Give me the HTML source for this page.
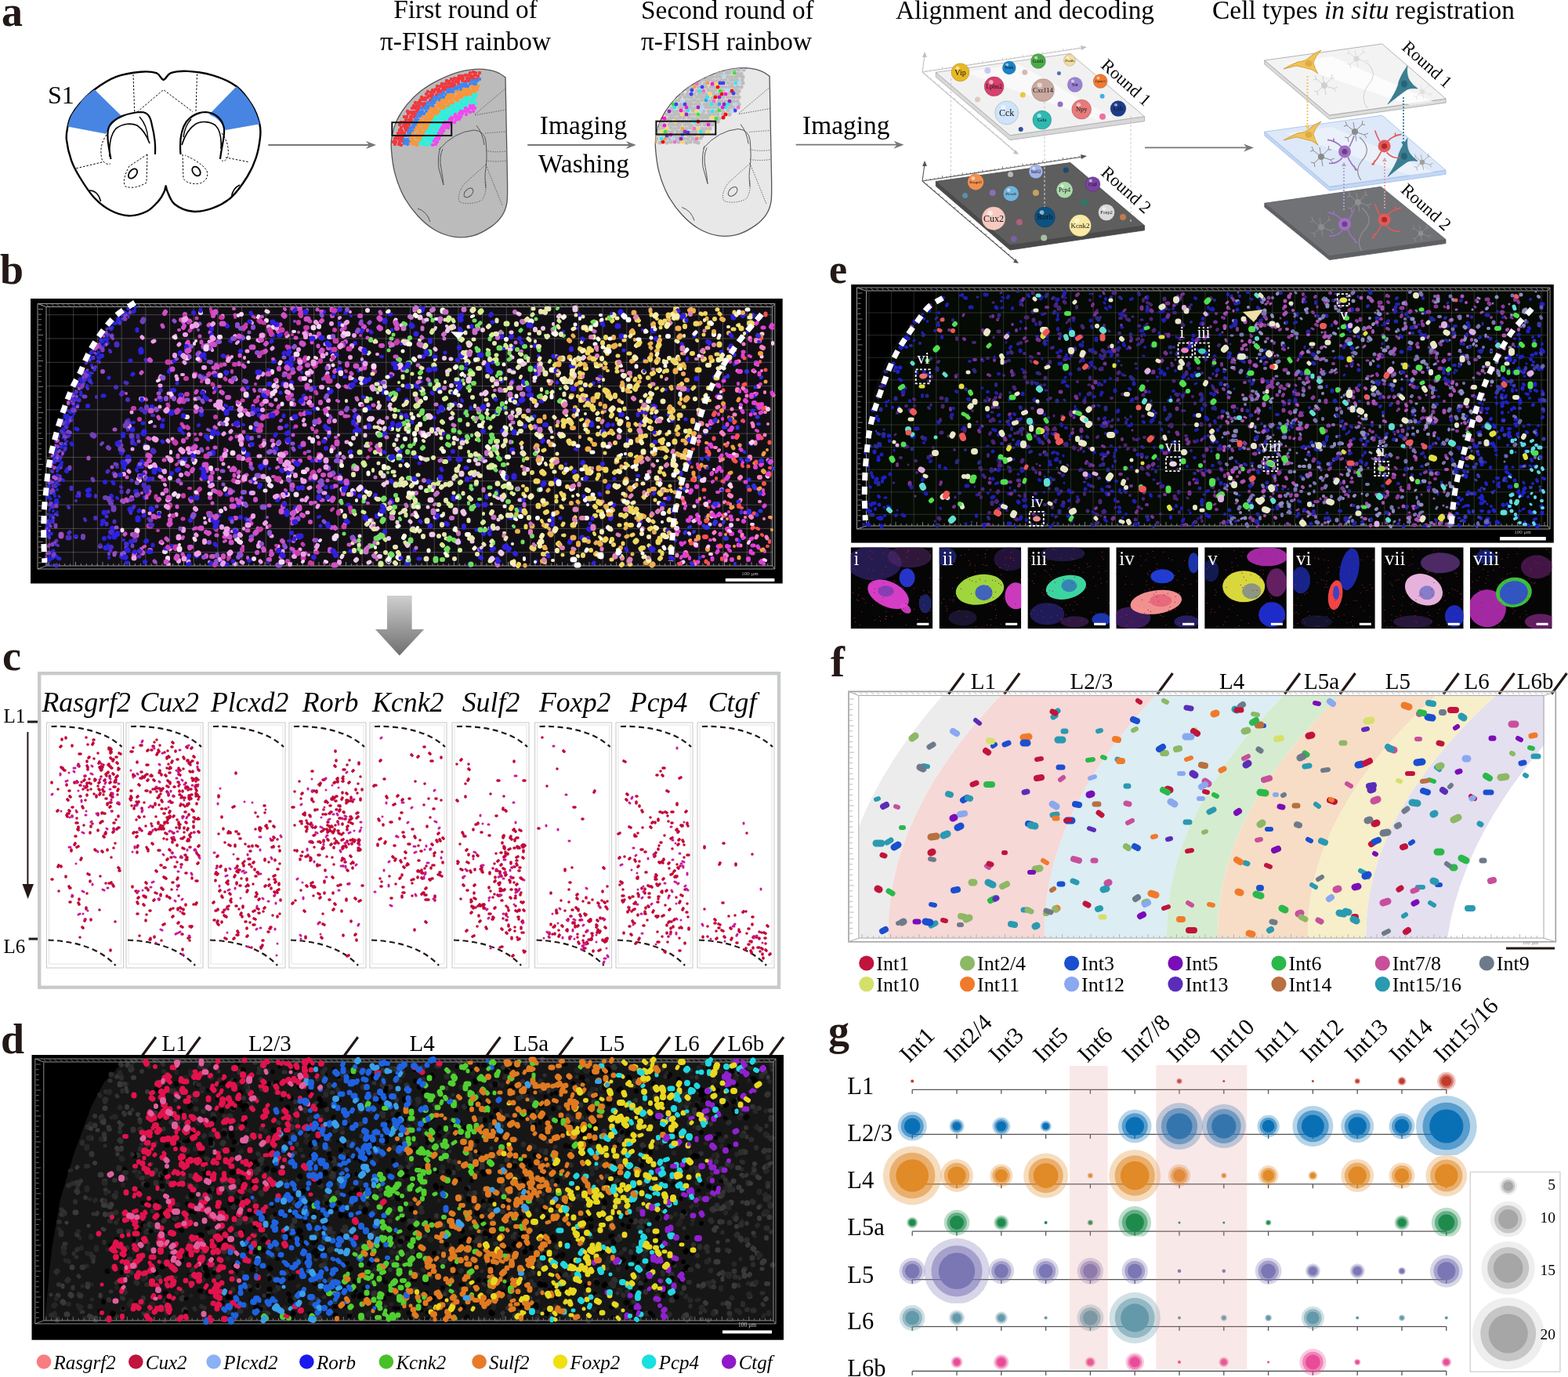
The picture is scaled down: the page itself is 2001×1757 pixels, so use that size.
<!DOCTYPE html><html><head><meta charset="utf-8"><title>Figure</title><style>html,body{margin:0;padding:0;background:#fff;width:2001px;height:1757px;overflow:hidden}svg{display:block}</style></head><body><svg width="2001" height="1757" viewBox="0 0 2001 1757" font-family="'Liberation Serif','Times New Roman',serif"><text x="2" y="33" font-size="54" fill="#231815" font-weight="bold">a</text><text x="594" y="23.3" font-size="33.4" text-anchor="middle">First round of</text><text x="594" y="63.5" font-size="33.4" text-anchor="middle">π-FISH rainbow</text><text x="818" y="23.5" font-size="33.4">Second round of</text><text x="818" y="63.7" font-size="33.4">π-FISH rainbow</text><text x="1308" y="24" font-size="33.4" text-anchor="middle">Alignment and decoding</text><text x="1740" y="23.8" font-size="33.4" text-anchor="middle">Cell types <tspan font-style="italic">in situ</tspan> registration</text><path d="M208.6 101.8C211.7 101.8 212.8 95 218 93.2C223.2 91.4 230.7 90.4 239.8 90.9C248.9 91.4 262.1 93.1 272.4 96.3C282.7 99.5 293.5 103.8 301.8 110.3C310.1 116.8 317.1 127 322 135C326.9 143 329.6 151.6 331.3 158.3C333 165 332.8 168.1 332 175.3C331.2 182.5 329.3 193.4 326.6 201.7C323.9 210 321 216.7 315.8 225C310.6 233.3 302.8 244.6 295.6 251.3C288.4 258 280.7 262.1 272.4 265.2C264.1 268.3 254.3 270.6 246 269.8C237.7 269 228.2 264.8 222.8 260.5C217.4 256.2 215.4 247.9 213.5 244C211.6 240.1 212.2 237.3 211.6 237.3C211 237.3 211.3 240.9 209.8 244C208.3 247.1 206.5 251.6 202.7 255.9C198.9 260.2 193.6 266.6 187.2 269.8C180.8 273 171.8 275.6 164 275.3C156.2 275.1 148 272.2 140.7 268.3C133.4 264.4 126.5 259 120 252C113.5 245 106.8 234.4 102 226.5C97.2 218.6 93.9 212.8 91.1 204.8C88.2 196.8 85.7 185.6 84.9 178.4C84.1 171.2 85.5 166.6 86.5 161.4C87.5 156.2 88.4 152.4 91 147.5C93.6 142.6 97.1 137.6 102 132C106.9 126.5 112.9 119.9 120.6 114.2C128.3 108.5 138.6 101.7 148.4 97.9C158.2 94.2 170.9 92.5 179.4 91.7C187.9 90.9 194.7 91.5 199.6 93.2C204.5 94.9 205.5 101.8 208.6 101.8Z" fill="#fff" stroke="#000" stroke-width="2.4"/><path d="M120.6 114.2C111 121 105 127 102 132C97 138 93 144 91 147.5C89 152 87.5 157 86.5 161.4L135.3 170.7Q141 156 155.4 148.2Z" fill="#4885e2"/><path d="M301.8 110.3C312 120 318 128 322 135C326 142 329 150 331.5 158.3L287.9 166Q282 152 267 145.9Z" fill="#4885e2"/><path d="M170 95L171.7 143M251.5 94.5L250 142M175 143L208.6 114.5L246 142.6M97.3 214.8L133 206.3M316.5 206.5L288 201" fill="none" stroke="#000" stroke-width="1" stroke-dasharray="2.5 2"/><path d="M136 172Q126 186 130 203Q134 211 141 209M283 170Q293 183 291 199Q288 207 283 205" fill="none" stroke="#000" stroke-width="1" stroke-dasharray="2.5 2"/><path d="M188 197L165 212Q155 230 160 238Q172 242 187 233L188 197M233 197L234 228Q240 236 255 234Q267 230 264 218Q258 208 236 198" fill="none" stroke="#000" stroke-width="1" stroke-dasharray="2.5 2"/><path d="M141.5 203C138 185 135 168 140 160C147 150 162 144 180 143C188 143 192 148 194 160C197 172 199 182 198 197" fill="none" stroke="#000" stroke-width="2.2"/><path d="M140 200C139 185 141 172 148 164C157 157 168 157 175 160C182 165 187 172 191 183" fill="none" stroke="#000" stroke-width="1.6"/><path d="M178 149Q188 160 189 178" fill="none" stroke="#000" stroke-width="1.4"/><path d="M230.5 197C229 180 231 165 238 155C245 147 254 143 263 143C275 144 284 152 286 164C287 175 283 185 281 203" fill="none" stroke="#000" stroke-width="2.2"/><path d="M232 185C236 172 242 163 250 158C258 154 268 155 275 160C281 166 283 175 282 190" fill="none" stroke="#000" stroke-width="1.6"/><path d="M244 152Q236 160 234 175" fill="none" stroke="#000" stroke-width="1.4"/><ellipse cx="169.5" cy="221.5" rx="4.5" ry="7" transform="rotate(40 169.5 221.5)" fill="none" stroke="#000" stroke-width="1.8"/><ellipse cx="250.5" cy="218.5" rx="4.5" ry="6.5" transform="rotate(-35 250.5 218.5)" fill="none" stroke="#000" stroke-width="1.8"/><path d="M114 243Q125 243 128.5 257" fill="none" stroke="#000" stroke-width="1.6"/><path d="M306 236Q297 240 295.5 251" fill="none" stroke="#000" stroke-width="1.6"/><text x="61" y="131.5" font-size="32">S1</text><line x1="342.3" y1="185" x2="472" y2="185" stroke="#777" stroke-width="1.8"/><path d="M480 185L467 180L471 185L467 190Z" fill="#777"/><path d="M645 98.8C643.1 97.6 639 93.6 633.5 91.8C628 90 620.2 88.2 612.3 88.2C604.4 88.2 594.7 89.5 585.9 91.8C577.1 94.1 567.6 98.2 559.4 102.3C551.2 106.4 543.3 111.2 536.5 116.5C529.7 121.8 523.8 127.9 518.8 134.1C513.8 140.3 509.6 147 506.5 153.5C503.4 160 501.5 166.8 500.3 173C499.1 179.2 498.8 182.7 499.4 190.6C500 198.5 501.2 210.6 503.8 220.6C506.4 230.6 510.4 241.5 515.3 250.6C520.2 259.7 526.5 268.2 533 275.3C539.5 282.4 546.5 288.5 554.1 293C561.7 297.5 570.6 300.8 578.8 302.1C587 303.4 595.5 303 603.5 300.9C611.5 298.8 620.3 293.7 626.5 289.4C632.7 285.1 637.2 280.3 640.6 275.3C644 270.3 645.6 266.1 646.8 259.4C648 252.7 647.5 239.1 647.6 235Z" fill="#bbbbbb" stroke="#555" stroke-width="1.3"/><g transform="translate(0 0)" fill="none" stroke="#555" stroke-width="1"><path d="M560 191Q580 168 605 166Q618 167 620 180Q622 200 620 215Q618 225 620 240"/><path d="M565 190Q560 200 563 215Q565 225 566 236L560 215Q558 200 562 188"/><path d="M608 160Q616 170 618 185"/><ellipse cx="598" cy="246" rx="4.5" ry="7" transform="rotate(45 598 246)"/><path d="M533 266Q545 270 549 283"/></g><g transform="translate(0 0)" fill="none" stroke="#555" stroke-width="0.9" stroke-dasharray="1.5 1.5"><path d="M606 146L645 113M606 147L646 140M619 170Q630 169 646 168M620 192Q630 195 646 193M620 205Q632 207 646 205"/><path d="M620 210L592 235Q582 250 587 258Q600 262 614 256Q621 250 620 232M620 210L641 262"/></g><clipPath id="h2"><path d="M645 98.8C643.1 97.6 639 93.6 633.5 91.8C628 90 620.2 88.2 612.3 88.2C604.4 88.2 594.7 89.5 585.9 91.8C577.1 94.1 567.6 98.2 559.4 102.3C551.2 106.4 543.3 111.2 536.5 116.5C529.7 121.8 523.8 127.9 518.8 134.1C513.8 140.3 509.6 147 506.5 153.5C503.4 160 501.5 166.8 500.3 173C499.1 179.2 498.8 182.7 499.4 190.6C500 198.5 501.2 210.6 503.8 220.6C506.4 230.6 510.4 241.5 515.3 250.6C520.2 259.7 526.5 268.2 533 275.3C539.5 282.4 546.5 288.5 554.1 293C561.7 297.5 570.6 300.8 578.8 302.1C587 303.4 595.5 303 603.5 300.9C611.5 298.8 620.3 293.7 626.5 289.4C632.7 285.1 637.2 280.3 640.6 275.3C644 270.3 645.6 266.1 646.8 259.4C648 252.7 647.5 239.1 647.6 235Z"/></clipPath><g clip-path="url(#h2)"><path d="M600 93h0M604 92h0M607 93h0M612 93h0M586 97h0M590 97h0M594 96h0M598 96h0M602 97h0M606 96h0M610 97h0M576 101h0M580 100h0M584 100h0M587 100h0M591 100h0M596 100h0M600 100h0M604 100h0M608 101h0M570 103h0M573 104h0M578 104h0M582 104h0M585 104h0M590 103h0M594 104h0M598 103h0M564 107h0M568 107h0M572 107h0M576 107h0M580 108h0M585 107h0M558 110h0M562 110h0M566 111h0M570 111h0M574 111h0M578 110h0M552 115h0M556 114h0M560 114h0M565 114h0M568 114h0M546 117h0M550 118h0M554 117h0M559 117h0M562 117h0M544 120h0M548 122h0M552 121h0M557 121h0M538 124h0M542 125h0M546 124h0M551 124h0M536 128h0M540 127h0M543 127h0M549 128h0M530 131h0M534 131h0M538 132h0M542 132h0M528 135h0M532 135h0M535 135h0M540 135h0M526 138h0M530 138h0M534 139h0M520 142h0M524 143h0M528 143h0M532 142h0M521 145h0M526 145h0M530 146h0M516 149h0M519 149h0M524 149h0M528 149h0M518 153h0M522 153h0M525 153h0M512 156h0M516 156h0M520 157h0M524 156h0M510 159h0M515 160h0M518 160h0M522 159h0M512 163h0M517 163h0M520 163h0M510 166h0M513 167h0M518 166h0M508 170h0M512 170h0M516 170h0M506 174h0M510 174h0M514 174h0M504 177h0M508 177h0M512 177h0M502 181h0M505 181h0M510 181h0M514 180h0M504 184h0M509 184h0M512 185h0" stroke="#f0383e" stroke-width="4.4" stroke-linecap="round" fill="none"/><path d="M612 101h0M602 103h0M606 103h0M609 103h0M588 108h0M592 107h0M595 107h0M600 107h0M604 107h0M607 107h0M582 111h0M586 111h0M590 110h0M594 110h0M597 110h0M572 114h0M576 114h0M580 113h0M583 114h0M588 114h0M566 118h0M571 117h0M574 117h0M578 117h0M560 121h0M564 121h0M569 121h0M554 124h0M558 125h0M562 125h0M566 124h0M552 128h0M556 128h0M561 128h0M546 131h0M550 131h0M554 131h0M544 135h0M548 135h0M552 135h0M538 138h0M542 138h0M546 138h0M536 143h0M539 142h0M544 142h0M534 145h0M538 145h0M541 145h0M532 149h0M536 148h0M530 153h0M534 153h0M528 156h0M532 156h0M527 160h0M530 159h0M524 163h0M528 163h0M522 166h0M526 167h0M521 169h0M524 170h0M518 173h0M522 173h0M516 178h0M520 178h0M518 181h0M522 181h0M516 183h0M520 184h0" stroke="#3f86f0" stroke-width="4.4" stroke-linecap="round" fill="none"/><path d="M602 110h0M606 111h0M610 110h0M592 114h0M596 114h0M599 114h0M604 114h0M609 114h0M582 117h0M586 118h0M590 117h0M594 118h0M598 117h0M602 117h0M606 117h0M572 121h0M576 121h0M579 121h0M584 122h0M588 121h0M592 121h0M596 121h0M600 120h0M570 124h0M574 125h0M578 124h0M582 125h0M586 124h0M589 124h0M564 128h0M568 128h0M571 128h0M576 128h0M581 127h0M584 128h0M558 131h0M562 131h0M566 132h0M570 131h0M574 132h0M578 131h0M556 136h0M560 135h0M564 135h0M568 136h0M572 135h0M550 138h0M554 139h0M557 139h0M562 138h0M566 138h0M548 142h0M552 142h0M556 143h0M560 142h0M546 145h0M550 146h0M554 145h0M558 145h0M540 149h0M544 149h0M548 149h0M552 149h0M537 153h0M542 153h0M546 152h0M550 152h0M535 156h0M540 156h0M544 156h0M548 156h0M534 160h0M538 159h0M542 159h0M546 160h0M532 163h0M536 164h0M540 163h0M544 163h0M530 166h0M535 167h0M537 167h0M542 167h0M527 170h0M532 171h0M536 171h0M540 170h0M526 173h0M530 173h0M534 174h0M538 173h0M524 176h0M527 177h0M532 176h0M536 177h0M526 180h0M530 181h0M534 181h0M524 183h0M528 184h0M532 185h0" stroke="#f7963a" stroke-width="4.4" stroke-linecap="round" fill="none"/><path d="M604 121h0M608 121h0M594 125h0M598 125h0M603 124h0M606 125h0M589 129h0M592 128h0M596 128h0M601 128h0M604 128h0M582 132h0M587 131h0M590 132h0M594 132h0M597 131h0M602 131h0M607 132h0M576 135h0M579 135h0M584 135h0M588 135h0M592 135h0M595 135h0M570 139h0M574 138h0M578 139h0M582 139h0M586 138h0M589 139h0M564 142h0M567 142h0M572 143h0M576 142h0M580 142h0M584 142h0M562 146h0M566 145h0M570 146h0M574 146h0M578 145h0M556 149h0M560 149h0M565 149h0M568 148h0M572 149h0M554 153h0M558 153h0M562 152h0M566 152h0M570 152h0M552 156h0M556 155h0M560 156h0M564 156h0M550 160h0M554 159h0M558 160h0M562 160h0M548 164h0M552 162h0M556 163h0M559 163h0M546 167h0M550 166h0M553 167h0M558 166h0M544 169h0M548 170h0M552 170h0M556 170h0M542 174h0M546 173h0M550 173h0M554 173h0M540 177h0M544 176h0M548 177h0M552 177h0M539 180h0M542 181h0M546 180h0M550 181h0M536 183h0M540 184h0M544 185h0M548 184h0" stroke="#2df0dc" stroke-width="4.4" stroke-linecap="round" fill="none"/><path d="M600 135h0M604 135h0M594 138h0M598 139h0M602 138h0M606 138h0M588 142h0M592 142h0M596 142h0M600 143h0M604 142h0M581 146h0M586 145h0M590 145h0M595 146h0M576 150h0M580 149h0M584 149h0M588 149h0M574 152h0M577 152h0M582 153h0M586 152h0M568 156h0M572 156h0M576 156h0M580 156h0M566 159h0M570 160h0M574 159h0M564 163h0M568 163h0M572 163h0M562 166h0M566 167h0M560 170h0M564 170h0M558 174h0M561 174h0M556 177h0M560 177h0M554 180h0M558 181h0M552 185h0M556 184h0" stroke="#f048f0" stroke-width="4.4" stroke-linecap="round" fill="none"/></g><rect x="500.3" y="156.2" width="75.9" height="16.8" fill="none" stroke="#111" stroke-width="2"/><text x="744.5" y="171.2" font-size="33.4" text-anchor="middle">Imaging</text><line x1="673.2" y1="185" x2="803.8" y2="185" stroke="#777" stroke-width="1.8"/><path d="M811.8 185L798.8 180L802.8 185L798.8 190Z" fill="#777"/><text x="745" y="219.7" font-size="33.4" text-anchor="middle">Washing</text><path d="M982.1 97.3C980.2 96.1 976.1 92.1 970.6 90.3C965.1 88.5 957.3 86.7 949.4 86.7C941.5 86.7 931.8 88 923 90.3C914.2 92.6 904.7 96.7 896.5 100.8C888.3 104.9 880.4 109.7 873.6 115C866.8 120.3 860.9 126.4 855.9 132.6C850.9 138.8 846.7 145.5 843.6 152C840.5 158.5 838.6 165.3 837.4 171.5C836.2 177.7 835.9 181.2 836.5 189.1C837.1 197 838.3 209.1 840.9 219.1C843.6 229.1 847.5 240 852.4 249.1C857.3 258.2 863.6 266.7 870.1 273.8C876.6 280.9 883.6 287 891.2 291.5C898.8 296 907.7 299.3 915.9 300.6C924.1 301.9 932.6 301.5 940.6 299.4C948.6 297.3 957.4 292.2 963.6 287.9C969.8 283.6 974.3 278.8 977.7 273.8C981.1 268.8 982.7 264.6 983.9 257.9C985.1 251.2 984.6 237.6 984.7 233.5Z" fill="#e8e8e8" stroke="#555" stroke-width="1.3"/><g transform="translate(337.1 -1.5)" fill="none" stroke="#555" stroke-width="1"><path d="M560 191Q580 168 605 166Q618 167 620 180Q622 200 620 215Q618 225 620 240"/><path d="M565 190Q560 200 563 215Q565 225 566 236L560 215Q558 200 562 188"/><path d="M608 160Q616 170 618 185"/><ellipse cx="598" cy="246" rx="4.5" ry="7" transform="rotate(45 598 246)"/><path d="M533 266Q545 270 549 283"/></g><g transform="translate(337.1 -1.5)" fill="none" stroke="#555" stroke-width="0.9" stroke-dasharray="1.5 1.5"><path d="M606 146L645 113M606 147L646 140M619 170Q630 169 646 168M620 192Q630 195 646 193M620 205Q632 207 646 205"/><path d="M620 210L592 235Q582 250 587 258Q600 262 614 256Q621 250 620 232M620 210L641 262"/></g><clipPath id="h3"><path d="M982.1 97.3C980.2 96.1 976.1 92.1 970.6 90.3C965.1 88.5 957.3 86.7 949.4 86.7C941.5 86.7 931.8 88 923 90.3C914.2 92.6 904.7 96.7 896.5 100.8C888.3 104.9 880.4 109.7 873.6 115C866.8 120.3 860.9 126.4 855.9 132.6C850.9 138.8 846.7 145.5 843.6 152C840.5 158.5 838.6 165.3 837.4 171.5C836.2 177.7 835.9 181.2 836.5 189.1C837.1 197 838.3 209.1 840.9 219.1C843.6 229.1 847.5 240 852.4 249.1C857.3 258.2 863.6 266.7 870.1 273.8C876.6 280.9 883.6 287 891.2 291.5C898.8 296 907.7 299.3 915.9 300.6C924.1 301.9 932.6 301.5 940.6 299.4C948.6 297.3 957.4 292.2 963.6 287.9C969.8 283.6 974.3 278.8 977.7 273.8C981.1 268.8 982.7 264.6 983.9 257.9C985.1 251.2 984.6 237.6 984.7 233.5Z"/></clipPath><g clip-path="url(#h3)"><path d="M928 89h0M933 89h0M938 89h0M943 89h0M949 89h0M916 94h0M921 93h0M927 93h0M931 93h0M941 94h0M946 94h0M904 98h0M909 98h0M914 98h0M919 98h0M929 98h0M934 98h0M939 98h0M944 97h0M948 98h0M896 102h0M901 102h0M906 102h0M911 103h0M916 103h0M921 102h0M926 102h0M932 102h0M936 102h0M941 102h0M947 102h0M893 106h0M899 107h0M929 106h0M934 107h0M948 106h0M881 111h0M891 111h0M901 111h0M907 111h0M911 111h0M921 111h0M926 111h0M931 111h0M936 111h0M941 111h0M946 111h0M878 115h0M889 116h0M904 115h0M909 116h0M913 115h0M923 116h0M939 115h0M943 116h0M871 120h0M877 120h0M886 120h0M892 120h0M896 120h0M901 120h0M911 120h0M916 120h0M931 119h0M941 119h0M868 124h0M874 124h0M879 124h0M883 124h0M889 124h0M894 124h0M899 124h0M909 125h0M923 124h0M929 124h0M934 124h0M938 124h0M943 124h0M861 128h0M866 128h0M876 129h0M881 129h0M886 128h0M891 129h0M896 128h0M906 129h0M917 129h0M921 129h0M926 129h0M936 129h0M941 129h0M869 133h0M879 133h0M883 133h0M888 133h0M893 133h0M899 133h0M903 133h0M913 133h0M933 133h0M943 133h0M857 138h0M867 137h0M871 137h0M881 137h0M886 138h0M901 137h0M906 137h0M911 137h0M916 137h0M931 137h0M936 137h0M859 142h0M864 142h0M874 142h0M884 141h0M898 142h0M904 142h0M914 142h0M923 142h0M929 141h0M851 146h0M856 147h0M861 146h0M866 146h0M881 146h0M886 146h0M896 146h0M901 147h0M906 146h0M911 146h0M916 146h0M922 146h0M931 146h0M854 151h0M858 150h0M863 151h0M868 150h0M873 150h0M879 150h0M884 151h0M889 151h0M894 150h0M898 150h0M903 150h0M918 151h0M846 155h0M851 154h0M856 155h0M866 155h0M871 155h0M876 155h0M881 155h0M896 155h0M901 155h0M906 155h0M912 155h0M916 155h0M843 159h0M854 159h0M859 159h0M864 159h0M868 159h0M874 159h0M879 159h0M883 160h0M889 159h0M893 159h0M899 159h0M909 159h0M841 164h0M846 163h0M856 163h0M861 164h0M866 163h0M876 164h0M881 163h0M896 164h0M901 164h0M906 164h0M838 168h0M853 168h0M858 168h0M864 168h0M869 168h0M883 168h0M888 168h0M898 168h0M836 173h0M841 172h0M846 172h0M861 173h0M866 173h0M877 172h0M881 173h0M886 172h0M896 173h0M834 176h0M838 177h0M854 177h0M864 177h0M873 177h0M878 177h0M884 177h0M894 176h0M842 182h0M851 182h0M856 181h0M866 181h0M876 182h0M881 181h0M887 181h0M891 182h0" stroke="#bdbdbd" stroke-width="5.2" stroke-linecap="round" fill="none"/><path d="M916 111h0M934 116h0M921 120h0M913 124h0M926 146h0M844 150h0M923 150h0M891 155h0M846 181h0" stroke="#f01010" stroke-width="5" stroke-linecap="round" fill="none"/><path d="M901 128h0M918 133h0M871 172h0" stroke="#3aa0f0" stroke-width="5" stroke-linecap="round" fill="none"/><path d="M903 106h0M886 111h0M871 164h0M849 177h0M836 181h0" stroke="#f0a050" stroke-width="5" stroke-linecap="round" fill="none"/><path d="M914 107h0M906 120h0M889 142h0M871 146h0M909 150h0M862 155h0M851 164h0M891 164h0M844 168h0M904 168h0M891 173h0M871 181h0" stroke="#f8d860" stroke-width="5" stroke-linecap="round" fill="none"/><path d="M939 106h0M893 116h0M903 124h0M908 133h0M929 133h0M861 137h0M926 137h0M878 141h0M909 142h0M886 155h0M894 168h0M844 177h0" stroke="#30e8e8" stroke-width="5" stroke-linecap="round" fill="none"/><path d="M952 85h0M918 124h0M931 129h0M924 133h0M891 137h0M854 142h0M876 146h0M874 168h0M869 177h0" stroke="#a020c0" stroke-width="5" stroke-linecap="round" fill="none"/><path d="M889 107h0M898 116h0M911 129h0M942 137h0M886 164h0M889 177h0M861 181h0" stroke="#f070c0" stroke-width="5" stroke-linecap="round" fill="none"/><path d="M937 93h0M919 116h0M859 133h0M918 141h0M891 146h0M914 151h0M849 168h0" stroke="#40e040" stroke-width="5" stroke-linecap="round" fill="none"/><path d="M946 85h0M919 106h0M923 106h0M896 111h0M883 115h0M882 120h0M936 119h0M863 133h0M874 133h0M938 141h0M878 169h0M851 173h0" stroke="#4040f0" stroke-width="5" stroke-linecap="round" fill="none"/><path d="M924 97h0M943 106h0M929 115h0M871 129h0M939 133h0M896 137h0M894 141h0M934 142h0M859 177h0" stroke="#b0d8f8" stroke-width="5" stroke-linecap="round" fill="none"/><path d="M909 107h0M926 120h0M876 137h0M922 137h0M869 141h0M848 151h0M848 160h0M904 159h0M856 172h0" stroke="#f020d0" stroke-width="5" stroke-linecap="round" fill="none"/></g><rect x="837.4" y="154.7" width="75.9" height="16.8" fill="none" stroke="#111" stroke-width="2"/><text x="1079.7" y="170.8" font-size="33.4" text-anchor="middle">Imaging</text><line x1="1015.6" y1="184.7" x2="1145.5" y2="184.7" stroke="#777" stroke-width="1.8"/><path d="M1153.5 184.7L1140.5 179.7L1144.5 184.7L1140.5 189.7Z" fill="#777"/><g stroke="#c0c0c0" stroke-width="1.1" fill="none"><path d="M1177 92L1180 70"/><path d="M1177 92L1382 61"/><path d="M1177 92L1296 194"/><path d="M1182.1 91.2l0 -1.6M1187.2 90.5l0 -1.6M1192.4 89.7l0 -1.6M1197.5 88.9l0 -1.6M1202.6 88.1l0 -3M1207.8 87.3l0 -1.6M1212.9 86.6l0 -1.6M1218 85.8l0 -1.6M1223.1 85l0 -1.6M1228.2 84.2l0 -3M1233.4 83.5l0 -1.6M1238.5 82.7l0 -1.6M1243.6 81.9l0 -1.6M1248.8 81.2l0 -1.6M1253.9 80.4l0 -3M1259 79.6l0 -1.6M1264.1 78.8l0 -1.6M1269.2 78l0 -1.6M1274.4 77.3l0 -1.6M1279.5 76.5l0 -3M1284.6 75.7l0 -1.6M1289.8 75l0 -1.6M1294.9 74.2l0 -1.6M1300 73.4l0 -1.6M1305.1 72.6l0 -3M1310.2 71.8l0 -1.6M1315.4 71.1l0 -1.6M1320.5 70.3l0 -1.6M1325.6 69.5l0 -1.6M1330.8 68.8l0 -3M1335.9 68l0 -1.6M1341 67.2l0 -1.6M1346.1 66.4l0 -1.6M1351.2 65.7l0 -1.6M1356.4 64.9l0 -3M1361.5 64.1l0 -1.6M1366.6 63.3l0 -1.6M1371.8 62.5l0 -1.6M1376.9 61.8l0 -1.6M1182 96.2l1.8 0M1186.9 100.5l1.8 0M1191.9 104.8l1.8 0M1196.8 109l3 0M1201.8 113.2l1.8 0M1206.8 117.5l1.8 0M1211.7 121.8l1.8 0M1216.7 126l3 0M1221.6 130.2l1.8 0M1226.6 134.5l1.8 0M1231.5 138.8l1.8 0M1236.5 143l3 0M1241.5 147.2l1.8 0M1246.4 151.5l1.8 0M1251.4 155.8l1.8 0M1256.3 160l3 0M1261.3 164.2l1.8 0M1266.2 168.5l1.8 0M1271.2 172.8l1.8 0M1276.2 177l3 0M1281.1 181.2l1.8 0M1286.1 185.5l1.8 0M1291 189.8l1.8 0" stroke-width="0.8"/></g><path d="M1180 66l-3 7h6Z" fill="#c0c0c0"/><path d="M1387 60l-8 -2l1 6Z" fill="#c0c0c0"/><path d="M1300 197l-7 -1l3 -5Z" fill="#c0c0c0"/><path d="M1194.3 92.3L1289 172.7L1460.5 148.7L1460.5 154.7L1289 178.7L1194.3 98.3Z" fill="#d8d8d8" stroke="#a8a8a8" stroke-width="0.8"/><path d="M1194.3 92.3L1365.8 68.4L1460.5 148.7L1289 172.7Z" fill="#f1f1f1" stroke="#a8a8a8" stroke-width="0.8"/><path d="M1230 92L1300 82L1420 150L1400 153Z" fill="#fff" fill-opacity="0.6"/><path d="M1213.5 100V237M1333 130V265M1443 148V283" stroke="#c8c8c8" stroke-width="1" stroke-dasharray="3 2.5" fill="none"/><g stroke="#555" stroke-width="1.1" fill="none"><path d="M1177 231L1180 209"/><path d="M1177 231L1382 200"/><path d="M1177 231L1296 333"/><path d="M1182.1 230.2l0 -1.6M1187.2 229.4l0 -1.6M1192.4 228.7l0 -1.6M1197.5 227.9l0 -1.6M1202.6 227.1l0 -3M1207.8 226.3l0 -1.6M1212.9 225.6l0 -1.6M1218 224.8l0 -1.6M1223.1 224l0 -1.6M1228.2 223.2l0 -3M1233.4 222.5l0 -1.6M1238.5 221.7l0 -1.6M1243.6 220.9l0 -1.6M1248.8 220.2l0 -1.6M1253.9 219.4l0 -3M1259 218.6l0 -1.6M1264.1 217.8l0 -1.6M1269.2 217.1l0 -1.6M1274.4 216.3l0 -1.6M1279.5 215.5l0 -3M1284.6 214.7l0 -1.6M1289.8 213.9l0 -1.6M1294.9 213.2l0 -1.6M1300 212.4l0 -1.6M1305.1 211.6l0 -3M1310.2 210.8l0 -1.6M1315.4 210.1l0 -1.6M1320.5 209.3l0 -1.6M1325.6 208.5l0 -1.6M1330.8 207.8l0 -3M1335.9 207l0 -1.6M1341 206.2l0 -1.6M1346.1 205.4l0 -1.6M1351.2 204.7l0 -1.6M1356.4 203.9l0 -3M1361.5 203.1l0 -1.6M1366.6 202.3l0 -1.6M1371.8 201.6l0 -1.6M1376.9 200.8l0 -1.6M1182 235.2l1.8 0M1186.9 239.5l1.8 0M1191.9 243.8l1.8 0M1196.8 248l3 0M1201.8 252.2l1.8 0M1206.8 256.5l1.8 0M1211.7 260.8l1.8 0M1216.7 265l3 0M1221.6 269.2l1.8 0M1226.6 273.5l1.8 0M1231.5 277.8l1.8 0M1236.5 282l3 0M1241.5 286.2l1.8 0M1246.4 290.5l1.8 0M1251.4 294.8l1.8 0M1256.3 299l3 0M1261.3 303.2l1.8 0M1266.2 307.5l1.8 0M1271.2 311.8l1.8 0M1276.2 316l3 0M1281.1 320.2l1.8 0M1286.1 324.5l1.8 0M1291 328.8l1.8 0" stroke-width="0.8"/></g><path d="M1180 205l-3 7h6Z" fill="#555"/><path d="M1387 199l-8 -2l1 6Z" fill="#555"/><path d="M1300 336l-7 -1l3 -5Z" fill="#555"/><path d="M1194.3 231.5L1289 313L1460.5 287.8L1460.5 293.8L1289 319L1194.3 237.5Z" fill="#4a4a4a" stroke="#444" stroke-width="0.8"/><path d="M1194.3 231.5L1365.8 207.5L1460.5 287.8L1289 313Z" fill="#5e5e5e" stroke="#444" stroke-width="0.8"/><path d="M1333 213V265M1443 280V283" stroke="#ddd" stroke-width="1" stroke-dasharray="3 2.5" fill="none"/><circle cx="1260.3" cy="90" r="4" fill="#c8c8f0"/><circle cx="1307.8" cy="92.3" r="3.5" fill="#d8b8b0"/><circle cx="1351.4" cy="93.5" r="2.5" fill="#5070b0"/><circle cx="1247.5" cy="127" r="3.5" fill="#e0c8c0"/><circle cx="1305.3" cy="121" r="3.5" fill="#e8c840"/><circle cx="1353" cy="133" r="3.5" fill="#9070c0"/><circle cx="1406.6" cy="122.8" r="3" fill="#40b0e0"/><circle cx="1407" cy="148.7" r="4" fill="#f070a0"/><circle cx="1302.7" cy="165" r="3" fill="#3050a0"/><circle cx="1225.5" cy="92.3" r="11.5" fill="#e8b820" stroke="rgba(0,0,0,0.25)" stroke-width="0.6"/><circle cx="1222" cy="87.1" r="2.5" fill="#fff" fill-opacity="0.55"/><text x="1225.5" y="95.6" font-size="10" fill="#111" text-anchor="middle">Vip</text><circle cx="1287.8" cy="86.4" r="8.5" fill="#1a82c8" stroke="rgba(0,0,0,0.25)" stroke-width="0.6"/><circle cx="1285.2" cy="82.6" r="1.9" fill="#fff" fill-opacity="0.55"/><text x="1287.8" y="88.2" font-size="5.5" fill="#111" text-anchor="middle">Penk</text><circle cx="1325" cy="78" r="9.5" fill="#4caa48" stroke="rgba(0,0,0,0.25)" stroke-width="0.6"/><circle cx="1322.2" cy="73.7" r="2.1" fill="#fff" fill-opacity="0.55"/><text x="1325" y="80.1" font-size="6.5" fill="#111" text-anchor="middle">Gad1</text><circle cx="1365" cy="76.8" r="7.5" fill="#f2dc9c" stroke="rgba(0,0,0,0.25)" stroke-width="0.6"/><circle cx="1362.8" cy="73.4" r="1.6" fill="#fff" fill-opacity="0.55"/><text x="1365" y="78.5" font-size="5" fill="#111" text-anchor="middle">Pvalb</text><circle cx="1268.6" cy="110.3" r="12.5" fill="#d8406e" stroke="rgba(0,0,0,0.25)" stroke-width="0.6"/><circle cx="1264.8" cy="104.7" r="2.8" fill="#fff" fill-opacity="0.55"/><text x="1268.6" y="112.9" font-size="8" fill="#111" text-anchor="middle">Lphn2</text><circle cx="1331" cy="115.1" r="14.5" fill="#c9a9a0" stroke="rgba(0,0,0,0.25)" stroke-width="0.6"/><circle cx="1326.7" cy="108.6" r="3.2" fill="#fff" fill-opacity="0.55"/><text x="1331" y="118.1" font-size="9" fill="#111" text-anchor="middle">Cxcl14</text><circle cx="1371.8" cy="108" r="9.5" fill="#9a82d2" stroke="rgba(0,0,0,0.25)" stroke-width="0.6"/><circle cx="1369" cy="103.7" r="2.1" fill="#fff" fill-opacity="0.55"/><text x="1371.8" y="110.1" font-size="6.5" fill="#111" text-anchor="middle">Sst</text><circle cx="1404.2" cy="103.6" r="9" fill="#f07a30" stroke="rgba(0,0,0,0.25)" stroke-width="0.6"/><circle cx="1401.5" cy="99.5" r="2" fill="#fff" fill-opacity="0.55"/><text x="1404.2" y="105.2" font-size="5" fill="#111" text-anchor="middle">Cpne5</text><circle cx="1284.7" cy="143.9" r="15" fill="#cfe4fa" stroke="rgba(0,0,0,0.25)" stroke-width="0.6"/><circle cx="1280.2" cy="137.2" r="3.3" fill="#fff" fill-opacity="0.55"/><text x="1284.7" y="147.9" font-size="12" fill="#111" text-anchor="middle">Cck</text><circle cx="1329.8" cy="153" r="12" fill="#2fb8b2" stroke="rgba(0,0,0,0.25)" stroke-width="0.6"/><circle cx="1326.2" cy="147.6" r="2.6" fill="#fff" fill-opacity="0.55"/><text x="1329.8" y="155.3" font-size="7" fill="#111" text-anchor="middle">Gda</text><circle cx="1380.2" cy="139.6" r="12.5" fill="#e87a7a" stroke="rgba(0,0,0,0.25)" stroke-width="0.6"/><circle cx="1376.5" cy="134" r="2.8" fill="#fff" fill-opacity="0.55"/><text x="1380.2" y="142.4" font-size="8.5" fill="#111" text-anchor="middle">Npy</text><circle cx="1427" cy="138.6" r="10" fill="#1c3c8a" stroke="rgba(0,0,0,0.25)" stroke-width="0.6"/><circle cx="1424" cy="134.1" r="2.2" fill="#fff" fill-opacity="0.55"/><text x="1427" y="141.2" font-size="8" fill="#111" text-anchor="middle">Crh</text><circle cx="1289.5" cy="222.6" r="3.5" fill="#b8b8b8"/><circle cx="1360.3" cy="217" r="3.5" fill="#1a4a70"/><circle cx="1231.5" cy="249.5" r="3.5" fill="#5a90a8"/><circle cx="1266.7" cy="245.9" r="4" fill="#8a70b0"/><circle cx="1321.9" cy="245.9" r="4" fill="#c8a060"/><circle cx="1383.8" cy="258.6" r="4" fill="#2a7a6a"/><circle cx="1301" cy="283.5" r="4" fill="#b06078"/><circle cx="1433" cy="277" r="4" fill="#c07a50"/><circle cx="1293.8" cy="305" r="4" fill="#7a60a0"/><circle cx="1332.2" cy="303.4" r="4" fill="#a8c0a0"/><circle cx="1245.1" cy="232.2" r="10.5" fill="#f09050" stroke="rgba(0,0,0,0.25)" stroke-width="0.6"/><circle cx="1241.9" cy="227.5" r="2.3" fill="#fff" fill-opacity="0.55"/><text x="1245.1" y="233.8" font-size="5" fill="#111" text-anchor="middle">Rasgrf2</text><circle cx="1321.9" cy="218.8" r="9" fill="#a4b2ea" stroke="rgba(0,0,0,0.25)" stroke-width="0.6"/><circle cx="1319.2" cy="214.8" r="2" fill="#fff" fill-opacity="0.55"/><text x="1321.9" y="220.8" font-size="6" fill="#111" text-anchor="middle">Sulf2</text><circle cx="1290.2" cy="247" r="10" fill="#72b2da" stroke="rgba(0,0,0,0.25)" stroke-width="0.6"/><circle cx="1287.2" cy="242.5" r="2.2" fill="#fff" fill-opacity="0.55"/><text x="1290.2" y="248.7" font-size="5" fill="#111" text-anchor="middle">Plcxd2</text><circle cx="1358.6" cy="242.3" r="10.5" fill="#acdaac" stroke="rgba(0,0,0,0.25)" stroke-width="0.6"/><circle cx="1355.4" cy="237.6" r="2.3" fill="#fff" fill-opacity="0.55"/><text x="1358.6" y="244.8" font-size="7.5" fill="#111" text-anchor="middle">Pcp4</text><circle cx="1394.6" cy="235" r="9.5" fill="#7a42a2" stroke="rgba(0,0,0,0.25)" stroke-width="0.6"/><circle cx="1391.8" cy="230.7" r="2.1" fill="#fff" fill-opacity="0.55"/><text x="1394.6" y="237" font-size="6" fill="#111" text-anchor="middle">Ctgf</text><circle cx="1268" cy="278.7" r="15" fill="#f6cac2" stroke="rgba(0,0,0,0.25)" stroke-width="0.6"/><circle cx="1263.5" cy="271.9" r="3.3" fill="#fff" fill-opacity="0.55"/><text x="1268" y="282.7" font-size="12" fill="#111" text-anchor="middle">Cux2</text><circle cx="1333.4" cy="277" r="13" fill="#0a5282" stroke="rgba(0,0,0,0.25)" stroke-width="0.6"/><circle cx="1329.5" cy="271.1" r="2.9" fill="#fff" fill-opacity="0.55"/><text x="1333.4" y="280.3" font-size="10" fill="#111" text-anchor="middle">Rorb</text><circle cx="1378.5" cy="287.8" r="14" fill="#faeaa2" stroke="rgba(0,0,0,0.25)" stroke-width="0.6"/><circle cx="1374.3" cy="281.5" r="3.1" fill="#fff" fill-opacity="0.55"/><text x="1378.5" y="290.8" font-size="9" fill="#111" text-anchor="middle">Kcnk2</text><circle cx="1412" cy="271" r="10.5" fill="#dadada" stroke="rgba(0,0,0,0.25)" stroke-width="0.6"/><circle cx="1408.8" cy="266.3" r="2.3" fill="#fff" fill-opacity="0.55"/><text x="1412" y="273" font-size="6" fill="#111" text-anchor="middle">Foxp2</text><text x="0" y="0" font-size="22.5" transform="translate(1403.8 85) rotate(42)">Round 1</text><text x="0" y="0" font-size="22.5" transform="translate(1403.8 222) rotate(42)">Round 2</text><line x1="1461" y1="188.4" x2="1592" y2="188.4" stroke="#777" stroke-width="1.8"/><path d="M1600 188.4L1587 183.4L1591 188.4L1587 193.4Z" fill="#777"/><path d="M1613.8 77L1696.5 147L1845 126L1845 131L1696.5 152L1613.8 82Z" fill="#dcdcdc" stroke="#a0a0a0" stroke-width="0.8"/><path d="M1613.8 77L1763.8 56L1845 126L1696.5 147Z" fill="#f3f3f3" stroke="#a0a0a0" stroke-width="0.8"/><path d="M1640 80L1700 72L1830 130L1800 134Z" fill="#fff" fill-opacity="0.7"/><g transform="translate(1690 109) scale(1)" stroke="#d0d0d0" fill="none" stroke-width="1" stroke-opacity="1.0"><path d="M0 0L-10 -8L-14 -7M-10 -8L-12 -13M0 0L9 -9L13 -9M9 -9L10 -14M0 0L12 4L17 2M12 4L15 8M0 0L-9 8L-13 7M-9 8L-8 13M0 0L2 12M0 0L-2 -12"/></g><circle cx="1690" cy="109" r="4" fill="#d0d0d0" fill-opacity="1.0"/><g transform="translate(1731 75) scale(0.9)" stroke="#d8d8d8" fill="none" stroke-width="1" stroke-opacity="1.0"><path d="M0 0L-10 -8L-14 -7M-10 -8L-12 -13M0 0L9 -9L13 -9M9 -9L10 -14M0 0L12 4L17 2M12 4L15 8M0 0L-9 8L-13 7M-9 8L-8 13M0 0L2 12M0 0L-2 -12"/></g><circle cx="1731" cy="75" r="3.6" fill="#d8d8d8" fill-opacity="1.0"/><g transform="translate(1815 117) scale(0.8)" stroke="#e0e0e0" fill="none" stroke-width="1" stroke-opacity="1.0"><path d="M0 0L-10 -8L-14 -7M-10 -8L-12 -13M0 0L9 -9L13 -9M9 -9L10 -14M0 0L12 4L17 2M12 4L15 8M0 0L-9 8L-13 7M-9 8L-8 13M0 0L2 12M0 0L-2 -12"/></g><circle cx="1815" cy="117" r="3.2" fill="#e0e0e0" fill-opacity="1.0"/><path d="M1745 80Q1760 95 1745 110Q1735 125 1745 138" stroke="#d0d0d0" fill="none" stroke-width="1"/><g transform="translate(1670 82) scale(1 1)"><path d="M-14 -3Q-4 -4 0 -8Q6 -14 16 -18Q8 -10 6 -2Q8 6 12 12Q4 6 0 6Q-6 4 -16 2Q-24 4 -32 6Q-22 0 -14 -3Z" fill="#f2c25a" stroke="#c8962a" stroke-width="0.8"/><ellipse cx="0" cy="-1" rx="4.5" ry="4" fill="#c8962a" fill-opacity="0.5"/></g><g transform="translate(1792 106)"><path d="M4 -22Q2.5 -10 7 -3Q11 3 17 7Q8 6 4 8Q-5 14 -21 27Q-11 12 -8 3Q-7 -6 4 -22Z" fill="#3a7e92" stroke="#2a6a7e" stroke-width="0.6"/><ellipse cx="0" cy="1" rx="4" ry="4.5" fill="#1f5a6a" fill-opacity="0.7"/></g><path d="M1613.8 168.2L1696.5 238.3L1845 217.3L1845 222.3L1696.5 243.3L1613.8 173.2Z" fill="#c4d6f2" stroke="#9dbcec" stroke-width="0.8"/><path d="M1613.8 168.2L1763.8 147.2L1845 217.3L1696.5 238.3Z" fill="#dde8f8" stroke="#9dbcec" stroke-width="0.8"/><path d="M1640 170L1700 162L1830 220L1800 224Z" fill="#fff" fill-opacity="0.4"/><g transform="translate(1729 168) scale(1)" stroke="#8a8a8a" fill="none" stroke-width="1" stroke-opacity="1.0"><path d="M0 0L-10 -8L-14 -7M-10 -8L-12 -13M0 0L9 -9L13 -9M9 -9L10 -14M0 0L12 4L17 2M12 4L15 8M0 0L-9 8L-13 7M-9 8L-8 13M0 0L2 12M0 0L-2 -12"/></g><circle cx="1729" cy="168" r="4" fill="#8a8a8a" fill-opacity="1.0"/><g transform="translate(1686 200) scale(1)" stroke="#8a8a8a" fill="none" stroke-width="1" stroke-opacity="1.0"><path d="M0 0L-10 -8L-14 -7M-10 -8L-12 -13M0 0L9 -9L13 -9M9 -9L10 -14M0 0L12 4L17 2M12 4L15 8M0 0L-9 8L-13 7M-9 8L-8 13M0 0L2 12M0 0L-2 -12"/></g><circle cx="1686" cy="200" r="4" fill="#8a8a8a" fill-opacity="1.0"/><g transform="translate(1815 207) scale(0.8)" stroke="#a0a0a0" fill="none" stroke-width="1" stroke-opacity="1.0"><path d="M0 0L-10 -8L-14 -7M-10 -8L-12 -13M0 0L9 -9L13 -9M9 -9L10 -14M0 0L12 4L17 2M12 4L15 8M0 0L-9 8L-13 7M-9 8L-8 13M0 0L2 12M0 0L-2 -12"/></g><circle cx="1815" cy="207" r="3.2" fill="#a0a0a0" fill-opacity="1.0"/><path d="M1735 175Q1752 190 1738 205Q1728 218 1737 230" stroke="#909090" fill="none" stroke-width="1.2"/><g transform="translate(1670 173) scale(1 1)"><path d="M-14 -3Q-4 -4 0 -8Q6 -14 16 -18Q8 -10 6 -2Q8 6 12 12Q4 6 0 6Q-6 4 -16 2Q-24 4 -32 6Q-22 0 -14 -3Z" fill="#f2c25a" stroke="#c8962a" stroke-width="0.8"/><ellipse cx="0" cy="-1" rx="4.5" ry="4" fill="#c8962a" fill-opacity="0.5"/></g><g transform="translate(1792 198.4)"><path d="M4 -22Q2.5 -10 7 -3Q11 3 17 7Q8 6 4 8Q-5 14 -21 27Q-11 12 -8 3Q-7 -6 4 -22Z" fill="#3a7e92" stroke="#2a6a7e" stroke-width="0.6"/><ellipse cx="0" cy="1" rx="4" ry="4.5" fill="#1f5a6a" fill-opacity="0.7"/></g><g transform="translate(1716 193.4) scale(1 1)" stroke="#9f70c0" fill="none" stroke-width="1.6"><path d="M-4 -6Q-12 -14 -22 -15M-14 -13l0 -4M4 7Q8 16 16 24M12 18l2 6M-3 8Q-10 16 -20 15M6 -6Q10 -14 12 -20"/></g><circle cx="1716" cy="193.4" r="8" fill="#9f70c0"/><circle cx="1716" cy="193.4" r="3.5" fill="#6a3f90"/><g transform="translate(1766.6 186.4) scale(-1 1)" stroke="#e25a5a" fill="none" stroke-width="1.6"><path d="M-4 -6Q-12 -14 -22 -15M-14 -13l0 -4M4 7Q8 16 16 24M12 18l2 6M-3 8Q-10 16 -20 15M6 -6Q10 -14 12 -20"/></g><circle cx="1766.6" cy="186.4" r="8" fill="#e25a5a"/><circle cx="1766.6" cy="186.4" r="3.5" fill="#b02a2a"/><path d="M1613.8 259.3L1696.5 326.6L1845 305.6L1845 310.6L1696.5 331.6L1613.8 264.3Z" fill="#5e6064" stroke="#5a5c60" stroke-width="0.8"/><path d="M1613.8 259.3L1762.4 238.3L1845 305.6L1696.5 326.6Z" fill="#707276" stroke="#5a5c60" stroke-width="0.8"/><g transform="translate(1686 290) scale(1)" stroke="#8a8c90" fill="none" stroke-width="1" stroke-opacity="1.0"><path d="M0 0L-10 -8L-14 -7M-10 -8L-12 -13M0 0L9 -9L13 -9M9 -9L10 -14M0 0L12 4L17 2M12 4L15 8M0 0L-9 8L-13 7M-9 8L-8 13M0 0L2 12M0 0L-2 -12"/></g><circle cx="1686" cy="290" r="4" fill="#8a8c90" fill-opacity="1.0"/><g transform="translate(1733 258) scale(1)" stroke="#8e9094" fill="none" stroke-width="1" stroke-opacity="1.0"><path d="M0 0L-10 -8L-14 -7M-10 -8L-12 -13M0 0L9 -9L13 -9M9 -9L10 -14M0 0L12 4L17 2M12 4L15 8M0 0L-9 8L-13 7M-9 8L-8 13M0 0L2 12M0 0L-2 -12"/></g><circle cx="1733" cy="258" r="4" fill="#8e9094" fill-opacity="1.0"/><g transform="translate(1813 298) scale(0.8)" stroke="#8e9094" fill="none" stroke-width="1" stroke-opacity="1.0"><path d="M0 0L-10 -8L-14 -7M-10 -8L-12 -13M0 0L9 -9L13 -9M9 -9L10 -14M0 0L12 4L17 2M12 4L15 8M0 0L-9 8L-13 7M-9 8L-8 13M0 0L2 12M0 0L-2 -12"/></g><circle cx="1813" cy="298" r="3.2" fill="#8e9094" fill-opacity="1.0"/><path d="M1738 265Q1755 280 1740 295Q1730 308 1738 320" stroke="#8e9094" fill="none" stroke-width="1.2"/><g transform="translate(1716 286) scale(1 1)" stroke="#9f70c0" fill="none" stroke-width="1.6"><path d="M-4 -6Q-12 -14 -22 -15M-14 -13l0 -4M4 7Q8 16 16 24M12 18l2 6M-3 8Q-10 16 -20 15M6 -6Q10 -14 12 -20"/></g><circle cx="1716" cy="286" r="8" fill="#9f70c0"/><circle cx="1716" cy="286" r="3.5" fill="#6a3f90"/><g transform="translate(1766.6 280.3) scale(-1 1)" stroke="#e25a5a" fill="none" stroke-width="1.6"><path d="M-4 -6Q-12 -14 -22 -15M-14 -13l0 -4M4 7Q8 16 16 24M12 18l2 6M-3 8Q-10 16 -20 15M6 -6Q10 -14 12 -20"/></g><circle cx="1766.6" cy="280.3" r="8" fill="#e25a5a"/><circle cx="1766.6" cy="280.3" r="3.5" fill="#b02a2a"/><path d="M1668.5 97V160" stroke="#f2c25a" stroke-width="1.8" stroke-dasharray="2 2" fill="none"/><path d="M1665.5 160L1671.5 160L1668.5 165Z" fill="#f2c25a"/><path d="M1791 124V181" stroke="#3a7e92" stroke-width="1.8" stroke-dasharray="2 2" fill="none"/><path d="M1788 181L1794 181L1791 186Z" fill="#3a7e92"/><path d="M1715 268V212" stroke="#b59ad0" stroke-width="1.8" stroke-dasharray="2 2" fill="none"/><path d="M1712 212L1718 212L1715 207Z" fill="#b59ad0"/><path d="M1767 266V206" stroke="#e89a9a" stroke-width="1.8" stroke-dasharray="2 2" fill="none"/><path d="M1764 206L1770 206L1767 201Z" fill="#e89a9a"/><text x="0" y="0" font-size="22.5" transform="translate(1787.8 62) rotate(42)">Round 1</text><text x="0" y="0" font-size="22.5" transform="translate(1786.4 244) rotate(42)">Round 2</text><text x="0" y="361.5" font-size="54" fill="#231815" font-weight="bold">b</text><rect x="39" y="381" width="959.7" height="363.5" fill="#000"/><path d="M172 392L150 401L135 417L121 437L111 455L102 476L92 495L83.7 516L76.2 538L70.2 559L64.9 581L61.1 603L58.9 625L56.6 647L55.8 669L55.8 692L56.9 722H986V392Z" fill="#120f14"/><path d="M63 391.5V722M93.7 391.5V722M124.4 391.5V722M155.1 391.5V722M185.8 391.5V722M216.5 391.5V722M247.2 391.5V722M277.9 391.5V722M308.6 391.5V722M339.3 391.5V722M370 391.5V722M400.7 391.5V722M431.4 391.5V722M462.1 391.5V722M492.8 391.5V722M523.5 391.5V722M554.2 391.5V722M584.9 391.5V722M615.6 391.5V722M646.3 391.5V722M677 391.5V722M707.7 391.5V722M738.4 391.5V722M769.1 391.5V722M799.8 391.5V722M830.5 391.5V722M861.2 391.5V722M891.9 391.5V722M922.6 391.5V722M953.3 391.5V722M984 391.5V722M59 401.7H985.8M59 432H985.8M59 462.3H985.8M59 492.6H985.8M59 522.9H985.8M59 553.2H985.8M59 583.5H985.8M59 613.8H985.8M59 644.1H985.8M59 674.4H985.8M59 704.7H985.8" stroke="#ffffff" stroke-opacity="0.28" stroke-width="0.8" fill="none"/><path d="M48 387.5H988.8V726H48Z M59 391.5H985.8V722H59Z M48 387.5L59 391.5M48 726L59 722M988.8 726L985.8 722M988.8 387.5L985.8 391.5" stroke="#9a9a9a" stroke-width="1" fill="none"/><path d="M62 722v-5M68.9 722v-3M75.8 722v-3M82.7 722v-3M89.6 722v-3M96.5 722v-5M103.4 722v-3M110.3 722v-3M117.2 722v-3M124.1 722v-3M131 722v-5M137.9 722v-3M144.8 722v-3M151.7 722v-3M158.6 722v-3M165.5 722v-5M172.4 722v-3M179.3 722v-3M186.2 722v-3M193.1 722v-3M200 722v-5M206.9 722v-3M213.8 722v-3M220.7 722v-3M227.6 722v-3M234.5 722v-5M241.4 722v-3M248.3 722v-3M255.2 722v-3M262.1 722v-3M269 722v-5M275.9 722v-3M282.8 722v-3M289.7 722v-3M296.6 722v-3M303.5 722v-5M310.4 722v-3M317.3 722v-3M324.2 722v-3M331.1 722v-3M338 722v-5M344.9 722v-3M351.8 722v-3M358.7 722v-3M365.6 722v-3M372.5 722v-5M379.4 722v-3M386.3 722v-3M393.2 722v-3M400.1 722v-3M407 722v-5M413.9 722v-3M420.8 722v-3M427.7 722v-3M434.6 722v-3M441.5 722v-5M448.4 722v-3M455.3 722v-3M462.2 722v-3M469.1 722v-3M476 722v-5M482.9 722v-3M489.8 722v-3M496.7 722v-3M503.6 722v-3M510.5 722v-5M517.4 722v-3M524.3 722v-3M531.2 722v-3M538.1 722v-3M545 722v-5M551.9 722v-3M558.8 722v-3M565.7 722v-3M572.6 722v-3M579.5 722v-5M586.4 722v-3M593.3 722v-3M600.2 722v-3M607.1 722v-3M614 722v-5M620.9 722v-3M627.8 722v-3M634.7 722v-3M641.6 722v-3M648.5 722v-5M655.4 722v-3M662.3 722v-3M669.2 722v-3M676.1 722v-3M683 722v-5M689.9 722v-3M696.8 722v-3M703.7 722v-3M710.6 722v-3M717.5 722v-5M724.4 722v-3M731.3 722v-3M738.2 722v-3M745.1 722v-3M752 722v-5M758.9 722v-3M765.8 722v-3M772.7 722v-3M779.6 722v-3M786.5 722v-5M793.4 722v-3M800.3 722v-3M807.2 722v-3M814.1 722v-3M821 722v-5M827.9 722v-3M834.8 722v-3M841.7 722v-3M848.6 722v-3M855.5 722v-5M862.4 722v-3M869.3 722v-3M876.2 722v-3M883.1 722v-3M890 722v-5M896.9 722v-3M903.8 722v-3M910.7 722v-3M917.6 722v-3M924.5 722v-5M931.4 722v-3M938.3 722v-3M945.2 722v-3M952.1 722v-3M959 722v-5M965.9 722v-3M972.8 722v-3M979.7 722v-3M49 394.5h6M49 401.1h4M49 407.7h4M49 414.3h4M49 420.9h4M49 427.5h6M49 434.1h4M49 440.7h4M49 447.3h4M49 453.9h4M49 460.5h6M49 467.1h4M49 473.7h4M49 480.3h4M49 486.9h4M49 493.5h6M49 500.1h4M49 506.7h4M49 513.3h4M49 519.9h4M49 526.5h6M49 533.1h4M49 539.7h4M49 546.3h4M49 552.9h4M49 559.5h6M49 566.1h4M49 572.7h4M49 579.3h4M49 585.9h4M49 592.5h6M49 599.1h4M49 605.7h4M49 612.3h4M49 618.9h4M49 625.5h6M49 632.1h4M49 638.7h4M49 645.3h4M49 651.9h4M49 658.5h6M49 665.1h4M49 671.7h4M49 678.3h4M49 684.9h4M49 691.5h6M49 698.1h4M49 704.7h4M49 711.3h4M49 717.9h4M52 388.5l3 2M58.9 388.5l3 2M65.8 388.5l3 2M72.7 388.5l3 2M79.6 388.5l3 2M86.5 388.5l3 2M93.4 388.5l3 2M100.3 388.5l3 2M107.2 388.5l3 2M114.1 388.5l3 2M121 388.5l3 2M127.9 388.5l3 2M134.8 388.5l3 2M141.7 388.5l3 2M148.6 388.5l3 2M155.5 388.5l3 2M162.4 388.5l3 2M169.3 388.5l3 2M176.2 388.5l3 2M183.1 388.5l3 2M190 388.5l3 2M196.9 388.5l3 2M203.8 388.5l3 2M210.7 388.5l3 2M217.6 388.5l3 2M224.5 388.5l3 2M231.4 388.5l3 2M238.3 388.5l3 2M245.2 388.5l3 2M252.1 388.5l3 2M259 388.5l3 2M265.9 388.5l3 2M272.8 388.5l3 2M279.7 388.5l3 2M286.6 388.5l3 2M293.5 388.5l3 2M300.4 388.5l3 2M307.3 388.5l3 2M314.2 388.5l3 2M321.1 388.5l3 2M328 388.5l3 2M334.9 388.5l3 2M341.8 388.5l3 2M348.7 388.5l3 2M355.6 388.5l3 2M362.5 388.5l3 2M369.4 388.5l3 2M376.3 388.5l3 2M383.2 388.5l3 2M390.1 388.5l3 2M397 388.5l3 2M403.9 388.5l3 2M410.8 388.5l3 2M417.7 388.5l3 2M424.6 388.5l3 2M431.5 388.5l3 2M438.4 388.5l3 2M445.3 388.5l3 2M452.2 388.5l3 2M459.1 388.5l3 2M466 388.5l3 2M472.9 388.5l3 2M479.8 388.5l3 2M486.7 388.5l3 2M493.6 388.5l3 2M500.5 388.5l3 2M507.4 388.5l3 2M514.3 388.5l3 2M521.2 388.5l3 2M528.1 388.5l3 2M535 388.5l3 2M541.9 388.5l3 2M548.8 388.5l3 2M555.7 388.5l3 2M562.6 388.5l3 2M569.5 388.5l3 2M576.4 388.5l3 2M583.3 388.5l3 2M590.2 388.5l3 2M597.1 388.5l3 2M604 388.5l3 2M610.9 388.5l3 2M617.8 388.5l3 2M624.7 388.5l3 2M631.6 388.5l3 2M638.5 388.5l3 2M645.4 388.5l3 2M652.3 388.5l3 2M659.2 388.5l3 2M666.1 388.5l3 2M673 388.5l3 2M679.9 388.5l3 2M686.8 388.5l3 2M693.7 388.5l3 2M700.6 388.5l3 2M707.5 388.5l3 2M714.4 388.5l3 2M721.3 388.5l3 2M728.2 388.5l3 2M735.1 388.5l3 2M742 388.5l3 2M748.9 388.5l3 2M755.8 388.5l3 2M762.7 388.5l3 2M769.6 388.5l3 2M776.5 388.5l3 2M783.4 388.5l3 2M790.3 388.5l3 2M797.2 388.5l3 2M804.1 388.5l3 2M811 388.5l3 2M817.9 388.5l3 2M824.8 388.5l3 2M831.7 388.5l3 2M838.6 388.5l3 2M845.5 388.5l3 2M852.4 388.5l3 2M859.3 388.5l3 2M866.2 388.5l3 2M873.1 388.5l3 2M880 388.5l3 2M886.9 388.5l3 2M893.8 388.5l3 2M900.7 388.5l3 2M907.6 388.5l3 2M914.5 388.5l3 2M921.4 388.5l3 2M928.3 388.5l3 2M935.2 388.5l3 2M942.1 388.5l3 2M949 388.5l3 2M955.9 388.5l3 2M962.8 388.5l3 2M969.7 388.5l3 2M976.6 388.5l3 2M983.5 388.5l3 2" stroke="#9a9a9a" stroke-width="0.8" fill="none"/><path d="M479 577h0M554 618l-1 0M545 626l-1 0M635 563l-2 0M501 661l-1 0M587 702h0M567 589l2 0M559 617h0M585 492h0M564 538l1 1M644 620l-2 1M560 644h0M520 436h0M668 491l1 0M500 547h0M569 508l-2 1M645 443l1 0M507 637l0 1M588 615l-1 1M564 695l1 1M664 451l1 1M600 581l1 0M555 495l0 1M502 653l-2 2M575 500h0M617 666l-1 1M504 523h0M552 422l-1 2M630 505l1 2M508 548h0M663 539l1 1M628 427l-1 1" stroke="#d0f090" stroke-width="6" stroke-linecap="round" fill="none"/><path d="M804 549h0M909 460h0M859 524l-2 0M833 568l-1 0M846 561l-2 1M831 674l-2 1M669 531l-1 0M878 557l-1 1M804 670l2 0M956 412l0 1M804 720h0M883 451l1 0M820 521l0 2M719 542l0 2M749 421h0M721 602l-1 1M874 409h0M698 653l-2 1M760 658l-1 0M874 416l0 1M775 449l0 2M793 657l-1 0M842 602h0M855 651l-1 2M769 437l0 1M744 708l0 1M828 537l2 1M830 458l0 1M799 669h0M900 400h0M709 586l-1 0M851 473h0M827 482h0M740 476h0M845 563l0 2M864 645l-1 2M754 702h0M698 706l-1 1M862 394l2 0M777 442l0 1M764 606h0M653 647l-1 2M677 544l1 2M662 720l-1 2M785 602l-1 1M691 556l-2 1M753 598l-1 2M709 465l-1 1M672 624l0 1M850 574l1 1M818 661l-1 1M679 603h0M870 490l-1 1M724 621h0M773 430l0 1M755 447l-2 0M821 474l1 1M858 522l0 1M883 561l1 2M742 497h0M742 481l-1 0M693 707h0M834 476l-2 1M781 552l1 1M776 500l-2 1M843 712l-1 1M783 695h0M767 653l1 1M741 464l-1 1M790 523h0M765 709l0 1M741 488l-1 0M759 646l1 1M849 676h0M688 586l1 0M781 529l-1 2M830 508l-2 1M695 717h0M824 556h0M750 551h0M785 565h0M794 720l-1 1M763 554h0M822 541l0 1M808 425h0M899 458l-2 1M793 710l1 2M856 698l-1 2M829 457l1 1M781 688l0 1M747 470l1 0M810 496l1 1M805 580l-1 0M785 504l0 2M740 445l2 1M733 469l-1 1M905 412l0 1M713 693l-1 1M819 699l2 0M912 407h0M741 511h0M799 657l-2 2M825 718h0M904 495l1 0" stroke="#f0d860" stroke-width="6" stroke-linecap="round" fill="none"/><path d="M810 620l-1 1M842 472l-1 1M853 567h0M834 417l0 1M664 659l1 0M795 479l1 1M911 426l0 1M812 591l0 2M735 523l2 1M827 609l-2 1M686 661h0M691 585l0 1M731 623l-2 1M790 549l1 1M836 573l0 2M763 535h0M853 429l-1 0M748 636l-1 2M749 661l-1 0M776 673l2 2M907 412l1 1M846 655l1 0M717 484l1 1M856 535l-2 1M943 398l0 1M827 512l1 0M689 590l-1 1" stroke="#ffffff" stroke-width="6" stroke-linecap="round" fill="none"/><path d="M284 403l0 2M316 448l-1 0M284 521l1 1M349 567l-1 2M280 610h0M295 550l-1 1M366 598l-2 1M205 480l-1 2M442 564l1 0M164 601l1 1M466 545l1 0M485 537l-2 2M332 582l-2 0M280 713l1 2M204 519h0M338 498h0M372 534l1 0M441 412l0 1M348 444l-1 1M267 436l2 0M183 652l0 1M396 622l-2 1M419 521l-1 0M204 492l1 0M332 716l1 1M383 701h0M418 476l-1 2M347 684l-1 0M204 608l2 1M250 682l1 1M214 562l1 1M406 645l-1 2M361 703l0 1M241 716l-1 1M396 427h0M354 493l-1 1M225 656l0 1M229 439l-1 1M420 551l0 2M352 510h0M415 439l2 0M289 575l-1 0M331 692l0 2M415 629l-2 0M245 578l1 1M424 430h0M415 560l0 1M243 577l-2 1M403 703l0 1M440 669l-1 2M388 542l1 0M332 477l2 0M359 614l0 1M181 430l1 1M353 485l0 2M215 502h0M406 584l0 1M281 540l-1 1M366 429h0M235 462l1 1M386 638l-1 0M191 655h0M308 717l2 1M208 630l-1 0M286 553l-1 1M392 635l-1 1M529 396h0M396 473l2 2M205 692l2 1M423 459h0M268 663l0 1M447 481l0 2M282 500l2 1M225 480h0M330 480l-1 2M241 554l0 1M197 435l-2 1M220 560h0M321 528l-1 0M392 654l1 0M226 483l0 1M168 526h0M169 573h0M300 482l1 2M355 697h0M262 667h0M218 699l-1 2M250 509l-1 0M306 561l0 1M272 626l2 0M355 586l2 0M300 719l0 1M336 477l-1 1M285 592h0M329 434l2 1" stroke="#f0a0e8" stroke-width="5" stroke-linecap="round" fill="none"/><path d="M523 610l-2 0M600 473l1 1M626 563l0 1M521 463l2 0M688 625h0M635 528l-1 0M642 593l1 0M572 557l0 1M629 692l0 1M636 584l2 2M505 632h0M609 416l1 2M627 555l1 0M485 575h0M520 576l0 1M473 433l0 1M660 446h0M715 511l-1 1M690 505l-2 1M605 646l-2 2M671 455l0 1M519 473h0M564 714l1 0M669 410l-2 1M571 567l2 1M628 558l1 1M605 489l-1 0M587 536h0M524 569l-1 0M503 647l1 0M565 522l-1 1M579 689l2 1M585 633l1 2M648 640l1 0M669 442l1 0M523 431h0M508 458l2 1M611 526h0M641 515l0 2M515 413l2 1M539 524l0 1M507 573l2 2M635 464h0M661 624l-1 0M557 486h0M505 503l0 1M684 578l-1 1M516 540l-2 1M639 424l1 1M537 475l-1 1M540 571l-1 1M553 466h0M596 557l1 2M549 625h0M679 684h0M679 533l0 1" stroke="#70e060" stroke-width="6" stroke-linecap="round" fill="none"/><path d="M715 496h0M520 595h0M495 603h0M519 536l2 1M655 671l1 1M508 524l1 0M634 575l-1 1M599 477l-1 1M529 565l-1 2M668 586l0 2M602 555l0 1M598 641l0 2M755 416l-2 1M720 428l-1 1M588 469h0M586 586h0M665 502l0 1M591 485l-2 1M497 597h0M712 393l-1 1M613 637l-2 0M634 479l0 1M510 661l1 2M550 402l0 2M622 532l0 2M625 534l1 1" stroke="#70e060" stroke-width="4" stroke-linecap="round" fill="none"/><path d="M160 488l2 1M89 679l-1 1M138 601l-1 1M155 627l0 1M164 536l-2 1M138 653h0M146 665l0 1M136 668l0 1M141 638l2 1M168 613h0M72 721l0 1M136 659h0M166 540l-1 0M101 629l-1 0M190 662l1 2M176 556l0 2M186 459l1 2M91 622l0 2M185 568l0 1M146 604l-1 0M165 638l-1 1M141 703h0M171 646l-1 2M178 710l-1 0M190 621l0 2" stroke="#4a2cc0" stroke-width="5" stroke-linecap="round" fill="none"/><path d="M495 715l1 1M718 457l0 1M505 618l0 1M538 497l1 1M544 713h0M583 599l0 1M642 634l-1 0M596 461l1 1M546 531l-1 1M783 402l-1 1M575 617l-2 1M595 450l0 1M468 509l0 2M528 645l0 1M545 664l0 1M530 503h0M543 441l-1 1M609 554l1 1M604 395l-1 1M624 596l2 0M509 544h0M564 551l-1 1M490 488h0M635 617h0M698 394l2 0M696 476l0 1M667 578l1 1M652 622h0M515 436l1 0M578 417l-2 1" stroke="#e8e8b0" stroke-width="7" stroke-linecap="round" fill="none"/><path d="M372 495l2 1M287 625h0M270 445l1 2M269 436l0 1M224 428h0M419 637l0 1M216 720l-2 0M320 410l2 2M337 497l-1 1M267 717h0M447 576l-1 1M325 616l2 0M240 458l-1 0M287 648l1 2M435 527l0 1M217 657l-1 1M225 525l0 2M305 607l-1 2M202 654l2 0M354 419h0M204 599l2 1M417 451l0 1M462 458l0 1M210 618l1 1M388 535l-1 2M394 708h0M447 398h0M311 674l0 1M193 525l-1 0M232 478l2 0M301 430h0M402 541l-1 1M304 436l-2 2M346 506h0M432 555h0M312 456l0 1M385 482l2 2M297 678l-1 0M292 596h0M310 642l1 2M300 428l-1 1M213 583l1 0M296 455l-1 1M273 495l1 1M367 428l1 0M481 452l1 0M337 702l-1 1M391 637l-1 2M259 499l2 1M434 405l-1 1M341 672l0 1M437 437h0M296 520l-2 1M405 557l1 1M385 611l1 2" stroke="#f0a0e8" stroke-width="4" stroke-linecap="round" fill="none"/><path d="M511 617l-1 1M533 517l-2 1M603 477l-2 0M628 594l-1 0M647 413l-1 0M528 578h0M526 631l0 1M598 438l1 2M459 577h0M486 719l0 1M573 406l-1 2M559 491l0 1M614 397l-1 1M575 645h0M490 645h0M469 567l0 1M464 591l1 2M633 459l-2 1M645 610h0" stroke="#d0f090" stroke-width="7" stroke-linecap="round" fill="none"/><path d="M415 523l1 2M507 419l-1 0M246 599l-1 2M235 416l-1 2M383 394l-2 0M397 642h0M273 476l1 0M411 409l-1 1M361 646l0 1M234 562l0 1M364 477l-1 0M441 436h0M465 417l-1 1M272 403h0M362 579l0 2M428 473l-1 1M276 466l0 1M243 637l1 2M304 682l0 1M347 707l-1 1M421 701h0M355 633l1 2M393 478l1 0M358 587l0 2M273 661l1 1M420 537l0 1M385 657l2 1M182 705l0 1M172 706l-1 2M312 524l1 0M256 522l0 1M409 513l0 1M383 483l1 1M389 527l-1 1M283 584l0 2M215 648h0M451 597l0 1M387 514l0 1M390 424l1 1M390 508h0M321 688l-1 1M271 439l-1 1M498 438h0M382 459l0 1M374 662l-1 0M203 637l-1 1M267 680l-1 1M236 401h0M294 486l2 1M219 505l0 1M423 673h0M374 457l0 1M263 679l2 1M271 659h0M271 603h0M404 587l1 0M250 525h0M274 439l0 1M192 702l-1 0M419 444l1 0M407 426l0 2M217 663l0 1M356 470l0 1M263 709l0 1M435 527l1 0M427 673l1 1M339 448l-2 1M169 682h0M238 604l2 1M421 703h0M375 516h0M332 433l2 1M254 706h0M168 635l-1 2M241 455l-1 0M328 705h0M360 690l1 1M340 438l-1 1M272 710l-2 0M185 603h0M386 512l-1 1M424 403h0M244 698l-2 0M397 517l1 0M344 490h0M364 578l1 0M190 588l1 0M383 588h0M488 441l-2 0M393 466l-1 0M460 403l-1 0M186 592l1 1M239 438l1 1M249 416h0M313 417l-2 1M413 606l-1 0M301 661l-1 0M335 515l-1 1M336 700l1 2M438 630h0M372 504l-1 0M396 666h0M326 637l0 1M343 714l1 0M223 699l1 1M443 464l0 2M255 460h0M331 452l0 2M416 527h0M191 459l1 1M285 709l0 2M205 509h0M232 408l-1 0M268 635h0M290 507l2 0M211 398l-1 2" stroke="#d050c8" stroke-width="6" stroke-linecap="round" fill="none"/><path d="M255 522h0M391 495l0 2M448 403h0M388 462h0M601 609l0 1M659 515l2 1M262 458h0M948 403h0M687 454l1 2M433 606l1 0M419 605l1 0M232 522h0M769 469l1 1M280 657l0 1M388 504l-1 1M822 473l0 1M906 438l-1 1M593 527l0 1M887 539h0M822 459h0M184 634l1 2M441 481l-2 0M343 679l1 0M342 718h0M463 506l2 1M311 542l-1 0M420 556l-1 1M256 598l2 0M868 612l1 1M722 592h0M820 421h0M466 640l-1 0M287 517l2 1M849 497l1 0M254 542l-1 1M877 457l0 2M711 586l0 1M566 553l0 1M233 552l1 1M427 400l-2 1M595 470l-2 0M400 539l2 1M270 576l2 0M589 510l1 2M370 690l-2 0M719 423h0M536 486l2 1M497 502l0 1M513 587l1 1M620 588l-1 1M734 573l2 1M375 546h0M819 525l1 1M596 464l-1 1M372 703l2 1M395 611l1 1M642 445l1 0M629 462l-1 1M344 598h0M512 439h0M641 486l-1 1M536 496h0M780 400h0M408 659l-2 1M385 475h0M533 646l-1 1M737 419h0M170 539l1 0M288 474l-1 1M700 669l-2 0M293 435l2 1M953 424h0M884 563h0M765 487l-1 0M577 501l1 1M445 666l-1 1M813 607l2 0M486 455l2 0" stroke="#3020e0" stroke-width="4" stroke-linecap="round" fill="none"/><path d="M469 396h0M281 430l-1 0M305 691l2 1M461 516l-1 0M351 499h0M365 631l2 0M256 399h0M214 712l0 1M435 652h0M311 576l0 1M249 588l-1 2M483 553l-1 0M308 401h0M290 535h0M324 713h0M435 475l0 2M357 580l1 0M347 474l0 1M282 652h0M407 416l0 1M344 619l2 1M389 483l-1 0M217 610h0M303 688l-1 0M450 626l1 1M340 409h0M239 532l-1 0M177 611l1 2M288 539l1 2M317 431h0M460 483l2 1M448 582h0M305 515l-1 1M237 456l1 1M223 630l-1 1M210 704l1 0M387 602l2 0M392 476l1 0M421 430l-1 0M425 454l1 1M369 607l-1 2M399 561l0 2M308 529l-2 1M269 597l0 1" stroke="#f8d8f4" stroke-width="6" stroke-linecap="round" fill="none"/><path d="M831 438l-2 1M712 477l0 2M825 461l-2 0M867 514l1 1M804 565h0M902 406l0 1M767 409h0M695 531l0 2M794 488l1 2M788 589l-2 1M775 628l1 0M732 530l1 1M766 515l0 1M876 564l-1 2M830 395l0 2M773 469l-2 1M807 707h0M790 540l0 1M769 598h0M802 651h0M873 562l-2 0M875 402h0M805 424h0M866 492l0 1M710 586l1 0M709 590h0M763 639l0 2M790 511l1 1M736 490l-1 1M670 721l0 1M700 625l-1 1M851 626l1 0M731 428l1 1M766 481l-1 2M894 412l-1 1M831 452l0 2M825 522l1 1M799 673l-1 1M863 628l-2 0M802 484l0 1M801 684l-2 1M732 466l-2 1M737 640l1 1M793 595l0 2M853 407l1 1M830 443l1 1M870 617l-1 1M836 579l-2 1M816 487l-2 1M897 510h0M831 657l0 1M870 582l0 2M684 613h0M812 661h0M812 618l0 1M761 692l-1 1" stroke="#f0b050" stroke-width="5" stroke-linecap="round" fill="none"/><path d="M291 455l-1 1M309 511l1 0M366 442h0M270 398l1 2M336 412l1 0M440 417l0 2M407 535h0M396 507h0M363 642l-1 1M254 456h0M199 633l0 2M190 630l-2 1M349 527l-2 1M252 631l-1 0M248 477l2 0M241 445l0 2M310 419l1 1M304 543l-1 0M275 675l1 1M251 406h0M386 694l1 1M396 410l-1 0M314 414l-1 1M386 622l0 1M285 454h0M311 551h0M265 572h0M455 541l-1 1M403 467l-2 1M460 413l2 1M214 516l1 2M404 550l-1 1M271 490l1 1M353 701h0M232 541h0M377 708l-1 1M473 566h0M407 565l0 1M473 573l-1 1M350 572l0 2M427 620l-1 1M377 544l1 0M403 500l1 2M403 705l2 0M234 662l-1 0M227 613l1 0M269 656l-1 2M286 720h0M366 425l-1 1M243 421l-1 1M287 483l1 1M344 671h0M418 547l-1 1M250 674l1 0M389 578h0M383 528l1 1M319 666l0 2" stroke="#c83ca8" stroke-width="5" stroke-linecap="round" fill="none"/><path d="M965 434l0 1M945 609l-1 1M957 583l0 2M941 497l0 1M970 609l-1 0M958 659l1 1M972 443l2 1M921 625h0M873 642h0M968 493h0M940 581l-1 0M875 705l0 1M921 552l2 2M926 708l1 1M907 540h0M969 435h0M964 503l-2 1M931 632l2 1M965 463l0 1" stroke="#ff80c0" stroke-width="6" stroke-linecap="round" fill="none"/><path d="M321 567l-2 1M506 455l-2 0M300 402h0M278 628l-1 0M346 703l0 2M347 562l1 0M305 463l0 2M428 620l1 0M329 674h0M207 415l1 2M191 627h0M283 500l1 2M390 706l-1 1M410 638l2 0M303 513l1 1M374 393l-1 1M267 414l-1 1M423 394l0 2M485 398l1 2M295 600h0M333 569h0M255 429h0M187 634l0 1M160 681l-1 1M302 557h0M234 544l1 1M264 600l0 1M286 465l1 0M358 414l-1 1M437 420l-1 1M367 594l-1 0M374 588l2 1M476 517l1 0M321 668l-2 0M240 436l0 2M406 441l0 1M251 499l-1 2M162 609h0M256 554h0M315 606l-2 1M257 436l0 1M337 562l0 1M232 504l1 2M424 570l1 1M277 467l1 2M202 532l1 2M306 453l0 1M397 608l-1 2M234 575l-1 0M273 626l2 1M317 677l-2 0M398 437h0M441 493l2 1M499 477l2 1M408 600l-1 1M161 637l1 2M310 466l2 2M226 646l0 1M295 559l-1 1M268 424h0M212 687l2 2M264 598h0M372 700l2 1M374 555h0M258 610l-1 1M208 612l2 0M202 659l1 0M442 531l-2 0M273 400l0 1M271 642h0M305 602l-1 1M436 625l0 1M320 591l0 2M321 661l-1 1M277 683l-1 0M275 571l-1 0M469 431h0M238 594l2 1M242 409l1 1M227 581l0 2M210 587l-1 0M233 707l1 2M408 538l-1 1M288 685l-2 0M299 606l0 1M181 475l-1 1M274 545l1 1M356 518l-1 2M189 559l2 1M302 637h0M272 469l2 1M376 704l0 1M377 431l1 0M231 617h0M373 667l0 1M343 645l1 0M242 700h0M405 395h0M359 710l-1 1M424 571l2 1M219 462h0M404 463h0M448 476l1 1M206 691h0M402 689l-1 0M375 475l-2 1M323 518h0M457 531l-1 0M418 613h0M310 496l-1 1M445 695l1 0M345 516l2 1" stroke="#d050c8" stroke-width="5" stroke-linecap="round" fill="none"/><path d="M668 620l-1 0M803 500l2 0M808 423l1 1M737 505l0 1M839 407l-1 0M823 422l0 2M736 612l-1 1M718 683h0M775 473l1 0M874 470h0M842 429h0M691 664l1 2M792 465l0 2M743 535l-2 1M765 685l1 1M816 409l-1 1M904 511l2 0M748 517l-2 1M690 602l1 2M866 535h0M907 461l0 1M735 466l1 1M770 690h0M869 623l-1 0M798 591l2 1M787 534l0 2M774 407h0M736 526l0 1M710 454l0 1M839 495l-2 1M943 414l-2 1M703 681l0 2M802 594l-2 1M807 647h0M869 508l0 2M765 534l-1 2M784 619l2 1M842 572l-2 0M848 473l-1 2M810 484l1 0M881 581l-2 1M814 655l0 1M856 625l1 2M758 680l1 2M813 582l-2 1M816 415h0M875 599l0 1M844 480l0 1M889 434l1 1M931 459h0M777 552l0 1M716 647l2 1M803 492l-1 1M666 595h0M863 459h0" stroke="#f0d860" stroke-width="4" stroke-linecap="round" fill="none"/><path d="M355 721l2 0M330 607l-2 0M410 614l-1 1M306 707l1 1M327 541l1 1M450 686l1 2M402 538l1 0M300 677l1 0M335 647l2 0M254 451l-1 1M425 604l-2 1M247 657l-1 2M339 502l-2 0M208 482l-1 0M380 662h0M235 588l-2 1M164 587l-2 2" stroke="#8a50d0" stroke-width="7" stroke-linecap="round" fill="none"/><path d="M743 435l-1 2M779 691l0 1M734 458l-1 1M756 517l0 2M832 527l-1 0M929 417l1 0M745 611l-2 0M691 496l0 2M943 416l1 1M704 558l1 0M761 456l0 1M737 709l1 1M731 633h0M758 519h0M950 425l0 1M722 529l1 1M705 715l1 0M770 484l0 1M899 408l0 1M891 471h0M764 545l-1 0M873 428l0 1M696 591l1 2M667 651l0 2M869 580l-1 1M689 692l-2 1M747 528h0M765 493h0M794 513l0 1M737 631l1 1M847 460l0 1M839 457l2 1" stroke="#f8f0b0" stroke-width="4" stroke-linecap="round" fill="none"/><path d="M867 530l2 0M548 488l0 2M558 407h0M780 660l-1 2M677 504l1 0M549 434l0 2M300 678l1 1M479 632l0 1M278 553h0M704 662l0 2M837 432l2 1M748 610l-1 1M238 446l1 1M323 521l1 2M578 576h0M749 536l1 1M590 562h0M866 626h0M491 553l-1 2M488 646l1 1M776 542l-1 1M755 540l-1 1M630 700l-2 1M444 617l-1 0M750 687h0M834 518l2 1M949 402l-1 1M401 495h0M331 530l1 0M684 544l0 2M155 710l1 0M453 438h0M289 415l1 1M219 604h0M520 719l-1 0M518 530l1 2M617 550l-1 0M366 562l1 2M464 463h0M332 595l1 2M490 499l0 2M264 509h0M499 639l1 2M167 691l1 0M635 524l-1 2M886 428h0M668 487l1 2M794 529l-2 0M434 413l0 1M596 611l0 1M497 712l0 1M236 410l-1 0M693 562l-1 1M454 530l-1 2M272 577l0 2M238 442l0 2M260 606l-1 2M429 708l-1 1M903 436l2 1M632 632l2 0M321 567l1 0M471 543l0 2M459 633h0M589 402l0 1M729 467l2 1M586 691h0M263 557l1 0M220 697l-1 0M462 422l-1 1M557 660l-1 1M654 574l-1 0M325 526h0M540 455l-1 0M683 441h0M385 622l1 0M670 544h0M859 650l0 2M316 558l1 2M592 671l0 2M857 534l1 2M961 402l-1 1M366 463l1 0M307 448h0M664 650l0 1M744 590l-1 1M340 505l-1 1M308 636h0M622 465l0 2M172 704h0M587 420l1 2M414 563l-1 0M434 471l-2 1M307 660h0M224 525h0M491 678l0 1M372 680h0M343 490l1 0M802 562l1 2M750 511l1 2M295 521l-1 0M852 677h0M220 498l2 0M320 629h0M326 547l0 1M246 581l1 1M617 680l0 1M241 709l-1 2M418 634l0 1M451 538l0 2M372 488l0 1M729 445l0 1M470 520l1 1M769 592h0M616 585l-1 2M247 399h0M294 662l2 0M627 401l-1 1M584 488l-2 0M415 544l1 2M653 429l-1 1M259 481l-1 1M695 542l2 0M273 550l-2 1M502 464l2 0M650 700l-1 2M323 612l-1 2M663 432h0M586 443l0 1M777 620l-1 2M270 427l0 1M207 543l0 1M856 712l2 1M569 668l2 1M641 550l2 1M168 558l1 2M684 470l-1 1M377 648h0M728 690l-1 2M258 501l1 0M270 419l0 1M230 450l0 2M205 510h0M413 398h0M481 658l0 1M217 472l-1 2M712 456h0M697 670h0M356 702l-1 1M496 508l0 1M531 492l1 1M234 530l0 1M269 719l1 0M561 497l-1 1M358 427l-2 1M640 429l0 1M368 552l-2 1M354 637l0 1M363 643l0 1M318 715h0M815 665l2 1M228 599l-2 1M400 711l1 0M836 564h0M453 550l0 1M657 706l1 1M613 711l1 1M230 504l1 1M501 540l0 1M500 546l-2 0M359 600l1 1M416 572h0M707 422l1 1M191 611l-2 1M912 481l1 1M585 485l1 2M434 395l-1 0M751 675l1 1M332 619l-1 2M547 614l0 1M257 528l0 1M243 664h0M383 570h0M350 461l-1 0M654 443l-2 1" stroke="#3020e0" stroke-width="6" stroke-linecap="round" fill="none"/><path d="M411 397l-2 0M366 564l1 1M281 493l-2 0M330 506l-1 1M269 511l-1 0M381 424h0M335 404l-2 0M354 423l1 1M469 421l0 1M414 718l1 0M287 573l0 2M310 697l0 1M430 511l2 1M199 510h0M398 546l1 2M445 531h0M288 690l-2 1M299 394l-1 0M161 502h0M180 700l1 0M348 608l2 0M319 614l1 1M428 558l1 0M185 697l-2 1M234 685l-1 2M324 497l1 2M397 495l-1 1M374 691l1 0M377 684l-1 0M371 491l1 0M363 394l1 1M352 484l-1 1M329 704l-1 2M364 625l1 1M181 629h0M355 596l-2 1M469 642l1 0M462 517l1 0M366 506l0 1M312 498h0M349 458l-1 0M316 711l0 1M228 421l1 0M249 674l-2 1M291 678l1 1M186 509l1 1M388 425l-1 0M401 641l2 0M308 635h0M427 610h0M267 620l0 1M276 599l2 0M255 451h0M399 609l0 1M233 411l1 1" stroke="#d050c8" stroke-width="4" stroke-linecap="round" fill="none"/><path d="M734 520l0 1M882 395l-2 1M876 485l1 0M792 699h0M834 413l-1 1M777 502h0M730 705l1 0M749 542l-2 0M808 460l-2 1M844 572h0M753 456l-1 1M835 624l-2 0M692 508h0M802 541l0 2M746 465l1 1M729 482l2 1M715 457l-1 1M695 698l0 1M884 536l0 2M731 546l1 0M692 716l1 0M842 434l-1 2M854 680h0M694 644h0M761 706l-1 1M772 518l0 1M773 646l1 2M835 679h0M780 550h0M659 656h0M838 553l-2 1M824 718l1 0M815 663h0M828 626h0M726 434l1 1M740 507h0M820 658l2 1M702 487l0 2M907 456l0 1M823 530h0M729 642h0M911 423h0M783 430l0 1M864 404l0 2M781 650l1 1M801 497l0 2M930 425h0M814 586l1 1M872 477h0M751 691h0M948 399h0M738 693l0 2M774 646h0M730 505l-1 0M694 670l2 1M921 407l2 1M798 632h0M711 654l-2 1M885 396l0 1M857 526l-1 2M807 422l-1 1M855 519l-1 2M886 553l-1 2M875 575l-1 2M839 447l-1 1M865 554h0M660 678l1 0M759 567l-1 0M872 465l1 2M772 614h0M864 579l2 1M730 546l1 0" stroke="#f0b050" stroke-width="6" stroke-linecap="round" fill="none"/><path d="M540 562l1 1M450 483h0M536 434l-1 0M566 655l0 2M455 553l0 2M504 607l-1 0M674 460l0 1M665 480l-1 2M604 532l-1 1M483 513l0 1M556 458l-1 1M485 578l1 2M617 538l-1 1M568 487l0 1M615 541l1 0M643 680l1 0M606 517l0 2M656 630l-1 1M442 511l0 1M683 435l0 1M476 599l0 2M505 530l-2 2M619 674l0 2M586 594l-1 2M676 426l-1 0M537 482l-2 0M652 454h0M482 575l0 2M558 491l-1 1M480 705l-1 1M665 463l1 0M678 442h0M627 643h0" stroke="#e8e8b0" stroke-width="4" stroke-linecap="round" fill="none"/><path d="M435 475l-1 0M360 515l0 1M371 598l-1 1M325 611h0M267 630l2 0M437 415h0M320 545l0 1M459 684h0M371 492l1 1M249 576l0 1M270 557l0 1M437 709l-1 2M396 486h0M156 676l0 1M377 687h0M193 595l-2 1M251 628l-1 0M338 626l1 0M348 417l1 1M340 397l2 1M358 462l-1 2M288 623l-1 2M248 687l1 2M218 502l1 2M505 408l-1 2M253 458l-1 0M463 488l-2 1M423 574l0 2M228 632l-1 2M222 430l2 1M372 514l0 2M435 639l0 1M425 466h0M395 559h0M268 615l-1 0M350 491l-1 2" stroke="#f8d8f4" stroke-width="5" stroke-linecap="round" fill="none"/><path d="M600 497l-1 2M696 428h0M683 472l0 1M526 492l0 2M509 488h0M616 545h0M629 493h0M568 617l1 0M702 460l-1 2M617 655l0 1M598 576l0 1M648 592h0M439 705l1 0M592 489l0 1M505 507l-1 0M653 546l0 2M512 654l-2 1M683 696l-1 2M533 543l-1 1M622 446l2 1M607 538h0M609 560l-1 1" stroke="#d0f090" stroke-width="4" stroke-linecap="round" fill="none"/><path d="M541 613h0M558 629l-2 2M514 472h0M638 497l0 1M674 524h0M634 487l-1 1M612 701h0M477 709l1 1M585 680l0 1M553 395l-2 1M687 477l-2 1M553 622h0M472 696l0 1M523 404l2 1M541 409l0 1M532 509l1 2M537 552l1 1M621 577l0 2M690 464l-2 1M610 522l2 1M501 440h0M469 699l-1 1M567 426l-1 1M474 664l-1 1M668 410l-2 0M657 398h0M567 495h0M531 629h0M608 534l-1 1M576 661l1 0M635 430l0 1M634 719l1 2" stroke="#c870c8" stroke-width="6" stroke-linecap="round" fill="none"/><path d="M654 526h0M626 674l-1 0M530 654l1 2M506 573l1 1M668 463l2 1M489 618l1 1M610 604l0 1M636 663h0M506 561h0M466 555l0 1M640 636l1 2M603 691l-1 0M598 417h0M555 445l1 1M614 503h0M682 486h0M452 652h0M611 592l-2 0M661 400l2 1M700 563l0 1M498 521l1 1M507 666l0 1M542 586l2 1M497 708l2 0M623 516l0 1M678 509l2 1M467 627l1 1M618 462l-1 2M545 408l-1 0M652 424l1 0M498 516l-1 2M654 456h0M555 660h0M685 516l-1 2M655 578h0M512 415h0M472 717l-2 1M577 533l-2 1M546 647h0M575 458l1 0M652 446l-2 0M663 638l1 0M655 720l1 1M482 674l-1 1M491 617h0M536 455l-1 0M494 615l0 1M491 546l-1 2M520 715h0M526 612h0M579 609l0 2M523 665l1 1M656 475h0" stroke="#f0c8e8" stroke-width="5" stroke-linecap="round" fill="none"/><path d="M643 608l2 1M663 461l2 0M760 412l0 2M509 582l1 0M678 410l-1 1M466 523h0M508 711l2 1M707 425l2 1M565 396l0 1M531 615l-2 0M653 510l-1 0M704 472l2 0" stroke="#ffffe8" stroke-width="7" stroke-linecap="round" fill="none"/><path d="M297 627l1 0M293 624l2 1M412 483l0 1M253 421h0M226 458l-2 1M251 560l-1 1M376 410h0M265 548l2 1M359 536l-1 1M395 576l-2 0M266 461l0 1M459 694l0 2M331 557l-1 0M373 603l-1 0M341 660h0M392 395l0 1M433 462l1 1" stroke="#8a50d0" stroke-width="4" stroke-linecap="round" fill="none"/><path d="M380 622l1 2M237 585l-2 1M692 512l-2 0M401 521l2 1M336 504l1 1M442 398l-1 1M368 603l0 1M959 410h0M409 671h0M376 687l-1 1M400 612h0M715 597l1 1M875 535h0M242 719l-2 1M529 702h0M830 501h0M276 479l-2 0M368 443l2 1M511 576l-1 0M607 618l1 0M526 538l0 1M350 575h0M769 412l-1 1M445 644l-1 0M609 644l2 1M765 630l1 1M499 613l1 2M573 584l1 2M491 577l-1 0M184 657l-1 1M753 668h0M624 680l1 2M423 448l0 1M352 554l-1 2M284 454l2 0M770 415h0M602 416l0 1M458 472l0 1M226 489h0M208 536h0M876 408l0 1M766 481l-1 0M703 678l-1 1M409 587l-1 1M757 489h0M288 719l2 1M758 718l-1 1M318 410l1 1M818 564h0M715 661h0M554 533h0M274 666l0 1M705 668l0 2M307 432l1 1M311 573l0 1M878 590l2 0M654 486l0 2M202 598l-1 0M563 598l1 2M396 527l-1 0M366 651l1 2M581 515l-1 0M665 437l1 1M442 621l0 1M756 661l0 1M629 411l-1 0M861 664l0 2M900 511l-2 1M921 449l-1 0M222 461h0M554 455l2 0M746 492l2 0M435 615l1 0M684 468l1 1M259 596l0 1M409 587h0M423 621l0 1M653 661l-2 0M283 718l-1 2M455 544h0M836 532l1 1M745 633h0M684 716h0M365 630h0M448 576l-1 1M265 560l1 1M274 694l2 2M654 473h0M869 603l0 2M320 399l1 2M472 483l-1 2M711 488h0M668 637l0 1M674 504l2 0M583 459l2 1M835 629l-1 1M496 715l0 1M699 708l1 2M288 679l2 1M534 713l2 0M733 523l0 1M368 479l0 1M363 450l-1 1M594 597l2 0M417 594l0 1M291 631l-2 0M453 485l1 1M637 716l-2 1M343 472h0M643 520l1 2M870 439l1 1M632 509l1 1M682 531h0M298 716l-1 0M568 450h0M183 605l-1 1M819 539h0M684 477h0M865 396l1 1M452 629l0 1M796 447h0M932 427l2 2M551 501l1 1M655 510h0M560 525l-1 1M753 637l-1 2M734 601l-2 1M174 676h0M358 501h0M635 713l-1 0M290 475l-1 2M270 616l0 1M789 707l1 1M181 588l1 2M634 627l0 2M799 700l1 2M706 454l0 1M754 674l-2 1M473 423l1 1M721 512l1 1M316 505l0 1M261 506l0 1M511 712l1 0M278 665h0M512 529l0 1M854 529l-1 0M613 700l1 2M347 435l-1 1M416 621l0 1M275 496l0 1M484 488l0 2M743 432l1 1M647 608l0 2M500 421h0M640 476h0M392 526l0 1M621 633l0 2M824 527h0M532 583l-2 0M439 438l0 1M835 552h0M183 618l0 2M464 625h0M314 662l1 1M601 520l0 1M429 452l1 1M784 644l-1 1M515 470l1 0M858 403l2 0M244 572l0 1M244 635h0M207 563l1 1M878 497l0 1M362 530l0 1M419 547l1 0M426 480l0 1M499 480l-1 0M508 497l1 0M819 526h0M554 547h0M316 494l0 1M203 655l0 1M784 611h0M814 528l0 2M519 510l-1 1M256 395l0 2M782 542h0M497 401l2 0M348 427l1 1M535 591h0M447 703l2 1M599 720l1 2M377 395l-2 2M610 676l-2 0M740 402l0 1M366 543l-1 1M536 665l1 1M329 522l1 1M471 630l0 2M398 588l1 0M211 700l2 0" stroke="#3020e0" stroke-width="5" stroke-linecap="round" fill="none"/><path d="M899 422h0M867 495l-2 0M835 521l-1 1M859 575l-1 2M788 682l2 1M798 649h0M687 583l2 1M820 589l-2 1M816 542l1 1M822 628l0 2M832 655l1 1M768 700l0 1M873 451l-1 0M856 412l-1 1M704 487l-2 1M833 593l1 1M806 632l-2 2M778 566l1 2M832 490l2 0M896 455l0 1M767 640l2 0M731 700l2 1M902 444l2 0M712 538l0 1M842 612l0 1M739 617l0 2M820 674l0 2M794 713h0M643 683l0 1M769 537l-1 2M828 602l1 0M930 445h0" stroke="#e080b8" stroke-width="5" stroke-linecap="round" fill="none"/><path d="M489 607h0M552 682l-1 0M598 484l0 2M527 675l0 1M639 705l1 1M645 553l-1 1M628 713l-1 1M581 651l0 2M540 553l0 2M589 604l0 1M620 501l-1 1M590 565h0M548 531l1 1M511 466l-2 2M734 393l0 2M536 405h0M591 653l1 2M550 638l-1 0" stroke="#f0c8e8" stroke-width="7" stroke-linecap="round" fill="none"/><path d="M688 537l1 0M861 399l-1 2M764 597l0 1M757 509l0 2M765 693l1 1M804 623l1 1M818 584l-2 1M814 561l0 1M833 720l-1 1M809 399h0M713 464l0 1M685 569l-1 2M679 671h0M877 508l-2 2M750 538l-1 2M812 589h0M794 493h0M799 612l-1 2M839 460l-1 1M688 587l-1 0M727 456h0M750 573l1 0M865 419l1 0M785 441l-2 1M703 567l1 0M868 429l-1 1M779 656l-2 0M702 681l1 1M862 473l0 1M732 686l-1 0" stroke="#f0b050" stroke-width="7" stroke-linecap="round" fill="none"/><path d="M298 613l2 1M214 698l1 1M178 535h0M477 474l1 0M299 465l1 0M275 719l-1 2M239 503l-1 0M344 530l-2 1M390 418l2 0M432 653l0 2M309 701l0 1M357 546h0M221 658h0M430 610h0M343 530l-2 1M383 401l1 2M328 511l-2 1M486 419h0M310 612l0 1M406 621l1 1M309 561h0M234 632l0 1M342 500l0 2M369 508l-1 1M396 718l2 1M333 675l-1 1M407 580l1 0M437 439l1 2M239 545l1 1M282 466h0M427 421h0M334 450l-1 1M292 711h0M318 586l-2 1M381 411l0 1M275 532h0M347 426l-1 1M233 510l-2 0M384 398l0 2M448 653h0M368 443l0 1M296 637l0 1M238 483l-1 0M240 572l1 0M409 460l0 1M267 477l-1 1M367 716h0M255 624l-1 1M447 648l0 1M236 404h0M395 584h0M466 449l-1 1M268 655l-2 0M282 405l1 0M369 479l0 2M171 521l-1 0M425 456l0 1M217 644l0 1" stroke="#c83ca8" stroke-width="6" stroke-linecap="round" fill="none"/><path d="M957 565h0M976 500l0 1M892 659l-1 0M925 640l-1 1M902 542l1 1M912 571l2 0M902 595l-1 2M938 447l-2 1M888 718l-1 2M956 587h0M921 587l-2 1M932 643l0 1M980 541h0M888 696l1 1M929 565l-1 2M951 660h0M981 607l-2 1M967 466h0M970 640l-1 0M911 688l1 1M976 526l1 0M975 662h0M942 663l-1 0M909 603l0 1M918 574l-1 1M885 693l1 1M972 473h0" stroke="#ff80c0" stroke-width="4" stroke-linecap="round" fill="none"/><path d="M730 473l1 0M686 574l0 1M836 673l2 1M860 587l-1 0M810 653l-2 1M734 667l-1 1M696 507l-1 2M669 604h0M861 404l-1 2M763 467l-2 0M749 625l2 1M789 601l2 1M768 678l0 1M797 479h0M920 458l1 0M787 587h0M685 554l1 1M805 563l0 2M947 430h0M774 446l-1 2M718 555l1 1M742 509l1 0M801 641l-1 1M713 476l-1 0M922 453l-1 1M758 636l-1 0M887 509h0M827 663l1 1M789 702l1 2M903 466l2 0M745 447l-2 1M875 550h0M705 587l-1 1M768 457l0 1M899 510l0 2M819 681h0M768 551l0 2M711 702l0 1M720 483l1 1M854 457h0M692 683l-1 2M858 401h0M818 563l1 2M863 463l-1 0M841 642h0M747 491h0M830 502l2 1M729 487l0 1M851 685l-2 0M689 696l0 1M828 685h0M850 462l-2 0M813 440l-1 1M829 546l2 1" stroke="#f8f0b0" stroke-width="6" stroke-linecap="round" fill="none"/><path d="M292 458l-1 2M395 513l-1 1M210 601l0 1M377 606l0 1M423 413h0M245 416l0 1M443 411h0M361 631l1 2M449 441l0 1M216 637l-2 1M330 696l0 1M158 605h0M309 585l1 0M304 615l-1 0M248 479l0 1M335 523h0M376 710l-1 0M264 441l0 1M419 511h0M373 655l1 1M185 609h0M182 509l-2 0M337 566l-1 2M261 690l0 2M240 573h0M402 430l-2 0M275 517l1 0M452 428h0M433 717l0 1M343 417h0M308 566l0 1M280 518l-1 2M373 597l-1 1M427 537h0M165 544l-1 2M392 599h0M460 445l2 1M285 718l-1 2M228 715l0 1M410 494l1 0M353 418l0 1M316 528l2 1M323 629l-2 0M323 658l0 1M338 512l2 0M212 646l2 1M390 429l0 1M448 630l0 1M250 519l1 1M431 492l1 1M236 427l1 0M389 426l1 2M380 650l-1 2M253 577h0M366 500l2 1M249 649l1 1M271 619l-2 1M405 696l-1 2M339 667l-1 1M234 675l0 2M370 720h0M447 456h0M231 606h0M403 411l1 1M260 469l1 0M197 593l1 2M223 453l0 1M306 682l1 1M371 596l1 2M419 467l0 2M435 589h0M356 565l-1 1M283 672l0 1M364 593l-1 0M381 446h0M281 517l0 2M353 633l-2 1M272 413l-1 1" stroke="#f0a0e8" stroke-width="6" stroke-linecap="round" fill="none"/><path d="M630 570l0 2M648 622l2 1M639 483l0 1M606 602l-1 1M713 409l1 1M646 547l0 2M573 472l1 0M571 477l0 1M626 545l-1 1M572 642l0 1M610 458l0 1M514 480l0 2M523 492l2 1M512 532l0 1M680 401l-1 1M584 484l-2 0M518 656l0 2M581 607l1 1M578 408l1 2M458 536l0 1M525 676l2 0M645 440l1 1M491 688l1 1M463 653l2 1M630 531l-1 1M634 577l1 2M461 703l0 2M636 521l2 1M575 516h0M599 439l-1 2M613 399h0M513 616h0M633 453l1 0M546 586l-1 0M692 470l1 2M631 633h0M526 477h0M653 629h0M517 692l1 2" stroke="#d0f090" stroke-width="5" stroke-linecap="round" fill="none"/><path d="M352 696l1 0M291 714h0M296 473l0 2M460 428h0M297 542h0M373 427h0M425 649l-2 2M470 583l-1 1M258 485l-1 2M251 560l1 1M241 623l2 0M202 677l-1 0M240 412l1 0M274 500l-1 1M300 405h0M269 394l0 1M238 559l1 0M332 569l1 1M441 473l1 1M199 660l0 1M326 490h0M249 554h0M323 404l2 1M226 592l-1 1" stroke="#c83ca8" stroke-width="4" stroke-linecap="round" fill="none"/><path d="M733 478l0 2M518 437l-1 1M599 483l-1 1M616 421h0M547 401h0M559 548h0M576 492h0M475 534l-1 1M488 539h0M537 622h0M474 672l1 1M585 692l-1 0M484 518l-1 2M571 474h0M496 687h0M714 403l-1 1M634 569l0 2M628 483l0 1M605 606h0M538 585h0M672 599l1 0M491 493h0M455 714l-1 1M667 465h0M483 685l1 1M714 554l2 1M726 487l-1 0M472 534l-1 1M458 533l0 1M663 526l-1 1M607 587h0M521 694l-1 2M693 419h0M572 420l-1 2M451 559h0M745 456l-1 1M547 554l-2 1M484 710l1 0M635 674h0M653 531l-2 1M633 490l1 0M683 420l0 1M574 520l-1 1M600 439l-1 1M650 473h0M567 457h0" stroke="#f0c8e8" stroke-width="6" stroke-linecap="round" fill="none"/><path d="M957 431l0 2M961 473l2 1M961 544h0M945 638l-1 2M953 505h0M948 495l1 1M960 540l1 2M964 564l0 2M923 658l1 0M891 563l1 0M912 679l-1 1M941 473l2 1M947 682l0 2M986 503l1 1M980 587h0M871 635l0 1M919 670h0M926 713l0 2M888 689h0M864 708l0 1M949 439h0M934 522h0M908 654l0 1M976 555h0M978 685l1 2M943 461l-1 0M864 680l0 2M917 519l-2 1M966 684l-1 2M977 520h0M937 529l1 0M945 696h0M892 557l1 0M919 584l2 2M877 619l0 2M930 676l0 1" stroke="#ff80c0" stroke-width="5" stroke-linecap="round" fill="none"/><path d="M941 545l0 1M875 679l-1 1M884 721h0M942 689l1 1M874 624l-1 0M968 518l-2 1M971 652l-1 0M967 532l-1 0M955 621l0 1M904 583l-2 0M963 622l1 1M964 494h0M892 609h0M956 612l-1 0M982 588l-1 1M946 653l0 1M962 505l1 0M969 628l1 2M966 463l-1 0M963 655l0 1M898 671h0M926 545l-2 0M943 640l-1 0M961 524l-1 2M965 656l1 1M880 682h0M953 587l2 0M937 452l0 1" stroke="#3030e0" stroke-width="5" stroke-linecap="round" fill="none"/><path d="M480 636l2 1M646 527h0M625 631h0M563 559h0M503 530l1 2M480 490l2 0M587 571l1 0M681 394l-1 0M702 546l0 1M627 696h0M611 581l1 1M605 433l-1 0M617 694l1 1M655 475l-1 0M569 687l1 0M515 517h0M652 441h0M577 527l1 1M660 553h0M588 454l1 2M579 565l0 1M659 531h0M632 595l-2 2M479 435l-1 1M485 547h0M479 436l1 0M744 404h0M525 528h0M477 668l-1 0M482 545h0M478 545h0M591 629l0 1M511 594h0M598 663l0 2M483 591h0M568 618l0 1M554 465l1 1M503 567l0 1M634 408l0 2M514 492h0M436 624l1 1M597 541l0 1M594 424l0 1M475 477l1 0M503 602l-2 0M537 469l2 1M613 583l-1 0M568 408h0M533 606l1 0M646 686l-1 2M581 675l1 2M625 716l1 0M528 677l2 1M560 611l1 2M518 546l0 2M621 510l-1 0M536 677l-1 1M720 502l0 2M625 577l1 0M712 416l1 2M481 693l1 0M674 432l2 2M458 695l0 1M570 709l1 0M579 629h0M471 450l-1 1M628 690l-1 1M463 483l1 2M645 483h0M534 530l1 0M502 655h0M621 527l1 1M735 402h0M549 621l-1 0M564 572l-1 1M643 631l1 2M674 457h0M452 655l1 1M595 563l1 1M690 464l0 1M450 693h0" stroke="#e8e8b0" stroke-width="5" stroke-linecap="round" fill="none"/><path d="M360 421l-1 0M353 526l-1 1M353 611l2 1M507 436l-1 1M387 712h0M418 481l-2 1M400 603l-1 1M356 611l-1 0M332 549l-2 0M426 396l1 0M426 446l1 0M421 486l-2 0M390 457l-1 2M214 462l1 0M331 409l1 1M428 435l1 0M190 671l2 0M333 543h0M234 512h0M264 582l-1 0M439 672h0M344 421l1 2M223 564l1 1M446 445l-1 0M380 705l0 1M227 524l-1 1M280 629l1 1M224 698l2 0" stroke="#c83ca8" stroke-width="7" stroke-linecap="round" fill="none"/><path d="M769 526h0M744 477h0M772 463l1 1M855 620h0M791 440h0M861 667l2 0M842 703h0M838 462l0 1M937 420l-2 0M802 451l2 0M842 562l0 1M817 700l1 2M821 634l1 1M833 665l1 1M787 474l1 0M797 521l0 1M833 522l-1 1M904 418l-2 0M672 585l1 0M763 609l-1 2M811 541l1 1M958 402h0M811 483l-1 2M858 671h0M808 682l-2 1M854 526l2 0M695 574l-2 1M710 633l0 1M764 503h0M867 610l1 1M734 660l-1 1M716 629l1 2M656 716l-1 1M703 593l2 0M856 494l1 2M729 597l-1 1M718 708h0M782 409l-1 1M848 409l1 0M780 714l1 0M790 670l1 0M803 647l1 1M876 584l0 1M704 596h0M839 616l0 1M733 464l-1 0M670 654h0M710 639l0 1M864 547l-1 2M829 492l1 1M850 583l-1 1M716 646h0M886 494l-2 2M763 652h0M772 578h0M752 560l2 1M847 604l1 2M720 683h0M836 638h0M899 511l0 1M671 671l0 2M872 402l2 1M845 705l0 2M851 554h0M797 434l-1 0M666 565l-1 1M831 401l0 1M865 544l1 2M765 466l2 0M918 400l1 1M790 537l0 1M719 668l-1 2M843 418h0M698 670l-1 2M768 660h0M846 644h0M745 509l-1 2M788 454l1 0M711 543h0M894 400l2 1M873 519l-1 0M795 693l0 1M840 472l-1 0M937 398l0 2M916 452l-2 0M760 464l1 0M916 395l-1 0M816 480l1 2M841 536h0M668 630l0 1M828 696l1 1M754 491l-1 1M846 497l-1 1M698 642l-2 1M897 448l1 1M843 412l0 1M788 468l-1 2M898 427h0" stroke="#f0d860" stroke-width="5" stroke-linecap="round" fill="none"/><path d="M882 718l2 2M981 602l0 2M926 481l-1 1M924 665l-1 2M949 576l1 1M906 546h0M893 711l0 1M862 689l0 1M938 719l0 1M921 625l1 1M904 586h0M881 672l-2 1M933 583h0M903 597l-1 0M945 586l2 1M967 541l2 0M971 406h0M901 551l-1 2M957 566l2 1M915 642l2 0M927 655l0 1M986 597l1 1M938 465l-1 0M972 481l-1 1M968 436l1 0M929 479l0 2M918 503h0M886 678l-1 1M945 568l-1 1M895 585l1 1M901 660l2 1M924 615l0 1M964 597l1 0" stroke="#3030e0" stroke-width="4" stroke-linecap="round" fill="none"/><path d="M299 483l-1 0M310 628l2 0M409 626l-2 1M260 711h0M431 588l-2 0M212 508l0 1M312 486l2 1M158 706l-2 1M363 696l1 2M321 559h0M309 430l1 1M443 521l-1 2M431 582h0M356 564l-1 1M443 395h0M277 708l0 1M300 684h0M268 657l-1 1M417 505l-1 2M280 436l-2 0M255 480l1 1M457 421l-1 2M345 576l-2 1M299 432l-2 0M304 711h0M307 419h0M322 527l0 1M216 635l1 0M376 442l-1 1M447 492l0 2M257 524h0M175 616h0M244 442h0M222 508l0 1M276 716l0 1M199 522l1 1M303 414l0 2M317 664h0M397 497h0M419 597l0 1M323 417l0 1M328 450l1 0M313 643l1 2M267 692h0M411 618l-1 1M425 429l0 1M334 694h0M267 579l1 0M332 498h0M344 679l0 2M368 612l1 1M269 462h0" stroke="#8a50d0" stroke-width="6" stroke-linecap="round" fill="none"/><path d="M945 520h0M973 426l-1 0M899 611h0M932 618l-1 1M906 669h0M932 620l1 1M979 607l1 1M872 717l-2 1M886 646h0M887 664l-2 1M972 455h0M909 658l-1 1" stroke="#ffd0f0" stroke-width="5" stroke-linecap="round" fill="none"/><path d="M519 593l1 1M523 439l-2 0M436 594h0M720 404l-1 1M543 508h0M527 533h0M490 595l0 2M530 402l1 1M580 559h0M516 684l-1 2M528 458l1 1M642 603l-1 2M646 433h0M536 541l0 1M517 616h0M485 656l1 0M582 499l-1 2M612 543l1 0M500 586l1 1M649 583l-2 0M582 468l-1 1M707 420l0 2M566 576h0M493 501h0M607 459h0M594 455l-1 1M517 560h0M522 629l0 2M622 570l2 2M529 553l0 1M530 657l2 2M497 712l-1 2M596 682l2 0" stroke="#ffffe8" stroke-width="6" stroke-linecap="round" fill="none"/><path d="M976 703l0 1M927 579h0M907 689l-1 0M892 598l1 1M875 645l0 1M910 614l-1 1M874 648l0 1M932 461l0 1M887 696l1 1M984 661h0M922 534l0 1M974 625l0 2M869 718l0 1M975 630l-1 1M942 489l0 1M880 711l0 2M958 434l0 1M870 710l-1 2M948 590l-1 2M975 719l0 1M940 688l0 1M890 656l-1 1M897 710l1 0M986 419h0M915 601l-1 1M917 528l0 1M944 498l0 2M965 549l2 1M956 454l2 1M962 472h0M899 635h0M970 490l1 0M949 537l0 1M966 502l-1 1M874 692l-1 1M930 701l2 2M963 528l1 0M931 549l-1 0M930 653h0M917 628l-2 0M890 592l0 1M945 516l1 1M950 686l-2 1M931 697h0" stroke="#e040d8" stroke-width="4" stroke-linecap="round" fill="none"/><path d="M150 680l0 2M190 704l1 0M134 615h0M157 554l0 2M173 627l1 0M112 632l2 0M185 717h0M143 674l1 2M142 633l-1 2M112 518h0M177 595l2 0M187 690l-1 1M154 606l-1 0M194 519h0M114 625l-2 1M133 687h0M129 454l1 0M132 665l-1 0M162 695h0M163 583l1 0M86 599l-1 2" stroke="#2a22e0" stroke-width="6" stroke-linecap="round" fill="none"/><path d="M489 663l-1 2M524 689l0 1M499 707l1 1M614 532l1 1M638 476l-1 0M677 470l0 1M484 555l1 0M613 585h0M497 584l1 1M481 687l-1 0M538 527h0M490 636l-1 1M613 676h0M571 700l-1 1M623 451l0 1M636 523l0 1M533 644h0M548 449l0 2M486 683l2 1M556 713l0 2M587 432h0M574 687l-1 1M579 549h0M601 720h0M602 648l0 1M610 447h0M452 595l1 1M637 444l1 0M589 469h0" stroke="#70e060" stroke-width="7" stroke-linecap="round" fill="none"/><path d="M518 644l1 2M460 471l1 0M557 516l-1 0M669 597l0 2M563 587l-2 1M538 430l1 1M452 690l2 1M705 420l0 1M578 542l2 1M661 623h0M498 641l-1 1M653 488l-1 2M535 487l-2 1M438 583l1 1M567 432h0M539 418l0 2M479 609h0M609 420l1 0M531 699h0M616 586l0 1M658 437h0M477 671l0 1M624 578l2 0M617 624l0 2M669 643l0 2M639 602h0M757 422l2 1M677 668l1 1M682 544l1 1M546 484l1 1M493 558l1 0M534 466l-1 0M494 533h0M478 692l0 1M455 508l1 2M655 539l-1 0M639 424h0" stroke="#c870c8" stroke-width="5" stroke-linecap="round" fill="none"/><path d="M399 432l-1 0M732 496l-1 0M377 532l-1 0M846 644l-1 0M381 684h0M329 475l2 0M792 398l1 2M677 415l-2 0M458 549l-1 0M410 431l1 0M933 442h0M353 414h0M316 668h0M384 684l-2 1M831 700l2 1M369 449l-1 2M252 707l-1 2M466 660l1 2M261 609l1 0M880 561h0M262 443l0 2M390 398h0M360 708l1 1M510 542l-2 1M439 624l0 1M770 551l0 2M303 540l-2 1M656 551l0 1M617 519l-1 1M562 609l0 1M588 453l1 1M623 471l0 1M442 665h0M348 411h0M525 415l1 1M304 644h0M368 561l0 1M371 465l-1 2M667 510l-2 1M656 607l0 2M276 670l-1 2M889 483h0M555 471h0M563 520l1 2M694 617l-1 1M272 663l2 0M491 409l0 1M755 542h0M337 593l1 0M251 635h0M346 530l2 0M788 416l1 0M363 490l-1 0M467 485l-1 2M587 493l-1 2M260 453l-2 1M521 465l-1 2M853 636h0M619 644h0M833 422l1 0M614 453l-2 0M418 438l2 2M539 394l-1 2M710 473h0M385 511l-1 1M217 526l2 1M422 499l-1 1M501 583l-2 1M549 671h0M627 674l0 1M529 611h0M450 491l-1 1M743 686l1 1M520 493l1 0M316 580h0M625 473l1 1M544 449l1 2M710 613l0 1M558 658h0M487 652l2 0M352 573h0M365 654l1 2M407 634l0 1M646 697l-2 1M230 548h0M289 525l0 2M505 469h0M372 458h0M260 602l0 2M272 552l0 1M465 447l1 2M378 591l2 1M531 426h0M585 586l2 0M674 496l1 1M795 429l-2 0M548 472l-1 0M587 406l1 2M872 403l-2 1M425 703l1 1M579 635l0 1M418 669l1 2M377 666l-1 0M936 404l0 1" stroke="#3020e0" stroke-width="7" stroke-linecap="round" fill="none"/><path d="M804 493l-1 0M917 459h0M846 683l1 0M709 675l-1 2M726 536l0 1M837 402l-1 1M717 555l-1 1M821 576l0 1M678 633l-1 1M860 593l2 1M782 521l-2 2M768 657l1 1M854 663h0M800 568l-1 0M770 567l0 1M785 620l2 1M930 456l1 0M693 639h0M824 535l-1 2M799 615l-1 1M754 602l-1 1M732 566h0M827 713l1 2M732 462h0M838 610h0M863 601l1 1M691 691l-1 0M824 519l2 1M792 538l-1 2M720 487h0M852 414l-1 2M720 513l-1 2M864 403l0 1M846 512h0M655 718l-1 0M810 456l1 1M747 418l-2 0M859 591l0 2M730 477h0" stroke="#f8f0b0" stroke-width="7" stroke-linecap="round" fill="none"/><path d="M599 493l-2 2M552 408l0 1M758 410l-2 1M486 604h0M626 622l-2 0M596 529l0 1M631 573l-1 1M672 488l1 2M542 533l0 2M458 689l0 1M503 501l-1 0M645 520h0M625 432l0 1M608 444h0M496 447h0M698 500l0 1M500 432l-1 0M653 564h0M606 409l-1 0M464 639l0 1M659 650l1 2M608 618l-1 0M708 418l-1 1M439 681h0M473 509h0M687 445l1 1M573 517h0M502 427h0M549 490l0 1M541 502l-2 1M586 551l1 1M651 458l-2 1M601 623l1 1M665 421l-1 1M613 412l-1 1M610 560l1 2M458 700l0 1M528 635l0 1M684 407h0M515 651h0M476 696l-2 1M499 502l-1 2M478 496l2 1M570 704l1 0M514 569l-1 1M632 599l1 1M633 629l0 1M522 714l0 1M667 691l0 1M605 535h0M451 652l1 1M658 659l-1 0M595 525l-1 2M620 676l-2 1M435 640l1 2M508 585l2 0M601 620h0M650 450l0 1M522 548l0 2M688 446l0 1M777 405l1 2" stroke="#70e060" stroke-width="5" stroke-linecap="round" fill="none"/><path d="M901 504l-1 1M758 429l0 2M863 435l2 1M939 401l1 1M798 429h0M891 523l1 0M843 597l1 0M780 508l-1 1M728 507l1 0M824 504l-1 1M795 496l0 2M814 655l0 2M707 532l1 1M839 451l-1 2M670 633h0M780 652h0M839 536l-1 2M917 431h0M780 642l-2 1M842 534l2 0M797 596l1 1M763 527l-1 1M842 551l-1 2M791 523l0 1M854 551l0 1M832 577h0M689 457l-1 2M733 419l-2 1M746 505l2 0M711 579h0M779 674l1 2M838 525l-1 1M790 620l-1 1M705 500l-1 1M918 470l-2 0M823 710l-2 1M958 405l-2 0M746 542l0 1M707 602l1 0M747 548l1 0M841 617l1 0M784 710l0 1M865 455l-1 2M820 617l1 0M764 707l-2 1M812 598l0 1M836 420h0M920 468h0M787 406l1 0M805 428l-1 1M826 630l-1 2M701 664h0M715 695l-1 1M700 486h0M720 636l-1 1M795 630l1 0M809 641l-2 1M818 512h0" stroke="#f8f0b0" stroke-width="5" stroke-linecap="round" fill="none"/><path d="M958 412l2 1M842 629l1 1M918 439l0 1M859 460l2 2M868 467l-1 2M890 472l2 0M840 691l0 1M818 556l1 1M915 482l-1 0M703 617l1 0M682 512h0M772 554l-1 1M752 636l2 0M747 596l0 2M732 670l-1 0M813 407l0 1M684 614l2 0M719 632h0M816 437l-1 2M857 532l1 1M751 603l-1 0M687 645l0 1M841 440l-1 2M848 572h0M868 530l-1 0M812 690l-1 1M716 596h0M773 688l-1 1M772 498l2 1M888 413l1 0M805 651l0 1M843 411l2 1M746 689h0M752 445h0M875 593h0M817 658l0 2M861 563l0 1M790 583h0M764 641l2 1M812 650l-1 2M756 520l1 2M880 550l0 1M846 625l1 0M744 505h0M893 525l0 1M813 492l-1 1M679 699l2 1M762 504l0 2M946 419h0M873 582l1 1M750 515l1 1M692 602l2 2M726 563l1 2M788 463h0M736 608l-2 1M719 537l2 1M842 687l0 2M776 505l2 1M773 599l0 1M758 458l-1 0M669 652l1 2M728 538l1 2M750 450h0M853 402l0 1" stroke="#f0d860" stroke-width="7" stroke-linecap="round" fill="none"/><path d="M905 640h0M891 717l-1 0M944 678l1 0M882 660l-1 0M932 659l1 0M915 491l1 1M927 611l-1 0M985 501l1 2M864 677l2 1M921 581l-1 2M913 659l-1 0M948 453l0 2M904 697h0M915 506l1 1M949 449l-1 0M917 491l1 2M967 697l1 2M958 529h0M960 687l-2 1M969 476l0 2M925 711h0M945 573l1 1M916 703l-1 2M935 558h0M947 524l1 2M910 646l1 1M951 654h0M919 681l0 1M972 526l-2 1M921 601h0M890 639l0 1M933 663l1 0M976 645l-1 1M958 703l0 2M916 697l1 1M910 656l-2 1M942 695l0 1M869 693l1 2M902 572h0M928 541l0 1M975 418l-2 0M917 645l-1 0M924 519l0 1M908 569l0 1M960 706l1 0M909 712l0 2M923 486l1 0M951 615l1 0M908 604l0 1M905 567l2 0M929 581l2 1M962 696l-2 0M886 612l0 1M966 412l-1 1" stroke="#e040d8" stroke-width="5" stroke-linecap="round" fill="none"/><path d="M903 700l0 1M934 534l-1 1M886 610l0 2M974 601l1 1M923 515h0M891 685l0 2M921 524h0M971 429l0 2M971 451l-1 0" stroke="#f0a040" stroke-width="6" stroke-linecap="round" fill="none"/><path d="M882 693h0M884 612l1 0M975 617h0M974 521h0M941 556l-1 2M912 527l-1 2M899 685l2 0M943 645l0 1" stroke="#ff5050" stroke-width="6" stroke-linecap="round" fill="none"/><path d="M777 651l-2 1M827 606l-2 0M750 644h0M845 666h0M813 612h0M868 471l1 0M792 467l1 0M740 406l0 1M654 694h0M798 579h0M767 402l-1 0M800 533l1 1M839 588h0M767 687l0 1M669 712l0 2M793 580l-2 1M683 717h0" stroke="#ffffff" stroke-width="4" stroke-linecap="round" fill="none"/><path d="M200 646h0M169 637l-2 0M192 664l1 0M164 626l-1 2M107 506l2 0M89 596l0 2M147 592l2 1M97 685h0M186 609l-1 2M169 696l0 1M118 611l1 2M155 568l-1 1" stroke="#7040b8" stroke-width="5" stroke-linecap="round" fill="none"/><path d="M974 701l-2 1M935 570l1 2M895 593l-1 2M903 663l-2 1M896 540l0 1M933 603l-2 1M975 578l-1 2M963 591l1 1M943 711l0 1M970 623l-2 1M936 586l1 1M977 487h0M935 647l-2 1M943 509l-1 2M885 603l0 2M944 568h0" stroke="#f0a040" stroke-width="5" stroke-linecap="round" fill="none"/><path d="M899 595l1 0M922 586l1 0M937 697h0M979 574h0M926 682h0M904 657l-1 2M901 565l1 0M925 567h0M941 462h0M928 662h0M893 636l0 1M985 676h0M916 537l0 1M881 689l-1 1M982 660l2 0" stroke="#f0a040" stroke-width="4" stroke-linecap="round" fill="none"/><path d="M91 566l1 1M204 600h0M158 596l1 2M170 477l-1 1M195 695l0 1M144 615l1 2M180 445l-1 1M193 704l-1 0M183 551h0M161 718l2 0M130 669h0M178 651l-1 1M97 547l2 1M139 685l1 1M139 482h0M132 665l0 1M181 509l0 2M175 420l0 2M133 505l-2 0M166 460l1 0M182 540l1 0" stroke="#2a22e0" stroke-width="5" stroke-linecap="round" fill="none"/><path d="M905 578l0 2M950 457h0M924 657l2 0M899 625l-1 0M960 674h0M977 472h0M877 708l-1 1M929 678h0M901 665l1 0M955 595h0M938 538l-1 1M901 716l0 1M982 604l0 2M977 400l0 2M956 625l1 0M951 490l-2 1M919 696l1 1M982 564l0 1M923 614l-1 0M969 516l-2 0M911 559l0 1M962 655h0M965 589l0 2M904 576l-2 0M872 639h0M930 626l-2 0M937 588l2 1M923 498h0M967 556l2 0M971 558l1 1M929 642h0M891 596l1 0" stroke="#ff5050" stroke-width="5" stroke-linecap="round" fill="none"/><path d="M585 689l-1 1M512 654h0M570 416l1 1M556 418l-1 2M556 552l1 2M703 549l1 2M620 588l-2 1M651 542l0 1M593 479l0 1M666 570l0 2M634 635l2 1M507 572l1 1M579 416l1 2M679 534l-1 0M615 698l-1 1M706 413l0 1M466 569l1 0M583 561l1 0" stroke="#f0c8e8" stroke-width="4" stroke-linecap="round" fill="none"/><path d="M815 523l1 1M866 457l1 2M795 638l-1 0M700 674l1 1M739 481l0 1M832 546l0 1M755 564h0M712 473h0M805 480l0 1M793 491l1 0M695 700l2 0M714 694l1 2M740 557l0 1M857 493l0 2M810 433l0 1M870 451h0M736 459l1 1" stroke="#f0b050" stroke-width="4" stroke-linecap="round" fill="none"/><path d="M946 648l1 0M904 718l0 2M937 585h0M885 573l-1 0M982 597l1 0M972 682l1 1M970 461l0 1M883 596h0M982 690l0 2M980 697l-1 0M899 643l2 1M891 567h0M928 568l-1 1M971 431l1 1M886 716h0M947 594l1 1M930 532l0 1M904 647h0M866 719l1 1M921 712l0 2M966 674l2 1M960 673l2 0M914 610l0 1M948 536l-1 1" stroke="#ff5050" stroke-width="4" stroke-linecap="round" fill="none"/><path d="M212 717h0M336 532l-1 1M230 510l-1 2M174 681l0 2M425 636l-1 2M383 469l-1 1M217 668l-1 1M430 564l0 2M193 524l-1 0M249 570l-2 2M342 477l1 0M296 646l2 0M276 659l-1 1M215 635h0M421 606h0M382 647l0 2M359 652l0 1M241 447l-2 1M455 467l-1 0M373 619l0 1M220 471h0M385 438l2 1M294 628h0M269 609l0 2M256 674l1 0M366 469l1 1M305 640l0 1M426 721l2 0M298 598l1 1M293 685h0M327 679l-1 1M321 443l2 0M465 469h0M189 581l2 1M362 402l1 1M392 492l0 2M375 654l-1 1M484 406l1 1M505 412l1 2M275 398l-2 1M411 447l-1 2M226 710l-1 2M484 418l1 1M305 583l0 1M483 573l1 1M442 614l0 2M260 442l2 0M305 429h0M212 626h0M393 407l-2 0M285 413l-2 0M387 566l0 1M261 593l2 0M196 659h0M295 692h0" stroke="#d050c8" stroke-width="7" stroke-linecap="round" fill="none"/><path d="M843 617l-1 2M955 395l-2 0M877 446l-2 2M918 428h0M814 433l2 0M760 439l-1 0M779 432l-1 0M775 570l2 0M737 569l1 0M860 581l0 2M816 669l-1 2M809 595l-2 1M847 698l1 2M797 639l-1 1M768 408h0M888 424l-2 2M849 467h0M868 502l0 2M819 676h0M736 529h0M801 484l1 0M820 706h0M831 431h0M769 443l1 0M922 469l2 1M706 655l0 2M824 422l1 1M734 414h0M683 482l-1 0M892 454h0M707 568h0M812 467l0 1M757 577l-2 0M743 599l-1 0M757 631l-1 0M749 701l-1 2M704 505l0 2M690 624l0 1" stroke="#ffffff" stroke-width="5" stroke-linecap="round" fill="none"/><path d="M482 637l1 0M580 713h0M657 513h0M498 648l-2 1M495 423l1 1M469 668l-1 1M567 682h0M663 541l2 0M504 718l1 1M649 618l1 1M600 687l-1 0M513 618l2 1M599 635l2 2M569 638l0 1M508 705l1 2M626 579l1 2M513 611l-1 1M673 534l2 2M451 605l0 1M628 653l-1 2M675 660l0 1M603 507h0M517 651l-2 1M607 579l0 1M485 567l0 1M602 603l-2 1M629 671l0 2M445 631h0M526 619l-1 1M532 547l0 1M609 707h0M534 647l-1 0M694 398l2 1M472 629l-1 2M591 450l2 1M521 542l0 1M553 584h0M551 548l0 2M652 657l0 1M613 607l-1 0M688 442l-1 0M639 659l1 1M452 702l0 1M440 658l0 1M505 698l-1 0M673 407l-1 1M492 705h0M519 513l-1 2M560 684h0M650 495l2 0M699 429l-1 1M648 657l0 1M486 603l0 1M716 426l0 1M722 494l1 1M662 468l-1 1M689 555h0M600 449l-1 1M612 470l-2 0M625 458l0 1M659 413l0 1M630 674h0M477 675l1 0M535 397h0M622 480h0M537 512l-1 1M688 424l0 1M726 486l-2 1M663 523l-2 0M465 634l0 1M590 433l-1 1M485 495l0 2M645 562l0 1M517 616l1 1M665 550l-1 0M564 621l-1 1M564 669l0 1M540 684l0 1M645 498l-1 0M631 438h0M690 397l0 1M624 416l-1 1M608 615l0 1M577 517h0M530 638l0 2M602 686l1 1M643 568l-1 1M521 634l2 1M738 457l2 1M629 484l-1 1M503 509l-1 1M495 597h0M634 426l-2 0" stroke="#e8e8b0" stroke-width="6" stroke-linecap="round" fill="none"/><path d="M186 625l1 2M195 575l1 1M87 686l1 0M172 689h0M149 439l0 1" stroke="#4a2cc0" stroke-width="7" stroke-linecap="round" fill="none"/><path d="M230 674l0 1M263 482l-2 1M461 410l-1 2M359 546h0M283 540l2 1M240 510l-2 0M268 445h0M260 442l1 0M374 510h0M242 455l0 1M296 665l0 1M318 424h0M255 413h0M230 589l-1 0M350 576l1 2M161 699l1 2M285 601l-2 0M373 566l1 0M222 409l1 1M372 624l1 1M417 469l0 1M453 523l-1 1M322 684l-2 1M421 531l1 2M246 586l0 1M362 479l1 0M178 592l1 0M413 665l1 1M228 613l-1 1M285 618h0M203 507l1 0M363 456l-1 0M320 596l2 2M254 508l-1 0M490 488l-2 0M472 411l-1 1M404 689l-1 1M374 471l-1 1M258 511l1 2M257 573l1 2M374 572l1 2M410 401l1 2" stroke="#8a50d0" stroke-width="5" stroke-linecap="round" fill="none"/><path d="M184 619l1 2M156 501l-1 2M194 670l-2 0M122 661h0M148 494h0M142 698l-2 1M151 566h0M161 694h0M180 522l1 1M178 703l1 1M169 564l0 1M141 679l2 1M163 510h0M205 498h0M185 525l0 1" stroke="#4a2cc0" stroke-width="6" stroke-linecap="round" fill="none"/><path d="M402 608l0 1M287 580l0 1M253 706l-2 1M466 464h0M400 462l0 2M365 491l0 1M250 414l1 1M312 609l0 2M387 707h0M359 580l2 1M416 596h0M288 680l1 1M409 582l-1 1M440 427l-2 1M475 494l1 2M455 597l0 1M171 712h0M217 586l1 1M213 523l-1 1M307 557l1 2M388 614l-1 0M317 670l-1 0M435 441l-1 1M366 590l2 1M416 587l0 1M434 610h0M290 675l-1 0M294 705l-1 1M234 454l1 1M412 454h0M307 521l-1 2M228 685l0 1M197 560l2 1M265 486l0 1M237 407l-2 1M339 589l0 1M335 428l-1 0M279 513l2 0M231 574l2 2M271 431l1 1M336 608h0M383 462h0M235 713h0" stroke="#f0a0e8" stroke-width="7" stroke-linecap="round" fill="none"/><path d="M148 705l-1 0M131 565l-2 2M139 706l0 1M154 563l-2 1M101 632l0 1" stroke="#7040b8" stroke-width="4" stroke-linecap="round" fill="none"/><path d="M467 627l2 1M494 398l1 0M559 651l-1 0M533 673l-1 2M536 583l1 2M552 625l0 1M501 547h0M568 706l2 2M479 698l0 1M657 662l2 1M604 403l-2 1M622 523h0M532 646l1 0M728 459h0M646 513l0 1M558 407l-2 0M584 634l-1 1M455 638l0 1" stroke="#ffffe8" stroke-width="4" stroke-linecap="round" fill="none"/><path d="M689 557l0 1M521 551h0M644 545l2 1M763 432l1 1M530 560l0 2M688 468l2 0M642 603l1 0M447 566l1 1M495 481l-1 0M564 658h0M514 448h0M541 555l2 2M606 699l-1 1M659 505l0 1M508 556h0M472 664h0M547 702l0 1M470 603l0 2M590 477l-1 1M562 500l-1 0M581 674l-1 2M650 617l-1 0M509 671l-2 1M598 588l1 0M521 711h0M585 504h0M586 517l2 1M496 397h0M754 418l0 2M527 629l-1 0M644 646h0M643 465h0" stroke="#ffffe8" stroke-width="5" stroke-linecap="round" fill="none"/><path d="M851 593l-1 1M711 589l-2 1M732 620l-2 1M718 699l-1 0M733 663l1 1M840 652l-1 1M799 650l-1 0M845 649h0M790 557l0 1M892 527l0 1M761 443l0 1M897 447l-1 1M790 462l0 1M808 508l1 1M694 714l1 1M803 476l1 0M881 400l0 1M879 584l0 1M744 661l-2 0M894 540l0 1M762 454h0M842 537l-2 0M677 678l0 2M754 430l1 0M812 404l-1 1M911 440h0M826 585l1 1" stroke="#e080b8" stroke-width="6" stroke-linecap="round" fill="none"/><path d="M233 591h0M429 684h0M378 631h0M281 479h0M400 418h0M314 503l0 1M378 452l1 0M342 611l1 2M175 677h0M348 502h0M359 717l1 0M427 686l0 1M263 443l0 2M460 622l-2 2M297 578h0M186 571l2 0M477 467l0 1M229 700l0 1M443 426l1 0" stroke="#f8d8f4" stroke-width="7" stroke-linecap="round" fill="none"/><path d="M934 714h0M934 546l-1 2M972 716l-1 1M972 516h0M968 558l0 1M966 464h0M918 656l-1 1M890 662l1 0M985 415l-1 2M928 697h0M951 511l1 1M879 664l-1 0M984 589l-1 1M893 667h0M952 499h0M929 608l-1 2M959 504l0 2M943 474l2 0M972 592l-1 1M955 713l0 1M962 514l1 0M928 675l2 0M874 707l0 2M980 605h0M934 681l-1 0M932 582l2 0M918 597l-1 1M964 596h0M889 621h0M970 518l-1 2M882 626l-1 2M949 665h0M907 538l2 1M940 462h0" stroke="#e040d8" stroke-width="6" stroke-linecap="round" fill="none"/><path d="M804 714l-1 2M757 672l0 2M871 444l0 1M816 549l1 2M734 650l1 0M785 709l0 1M822 517h0M722 525l-1 1M721 516l-1 1M871 496l2 0" stroke="#e080b8" stroke-width="7" stroke-linecap="round" fill="none"/><path d="M930 677l2 1M911 599h0M920 500h0M961 669l-2 0M908 707l-2 0M975 714l2 1M937 579l-1 0M921 662h0M956 691l-1 2M879 680l1 1M926 656h0M877 626l-1 1M904 697l-1 1M986 437l0 2M918 506l1 0" stroke="#ffd0f0" stroke-width="4" stroke-linecap="round" fill="none"/><path d="M176 631l-2 1M138 571l1 1M139 636l0 2M187 519l0 2M128 697h0M141 642l1 1M106 684l0 2M135 635l-1 0" stroke="#7040b8" stroke-width="6" stroke-linecap="round" fill="none"/><path d="M651 503l0 1M599 450l0 2M662 495l2 0M667 503h0M553 652l0 2M689 548l0 1M467 702l0 2M606 422l0 2M535 439l2 1M652 533h0M592 395h0M689 470l0 2M500 660h0M562 407h0M515 419h0M568 398l1 0M531 393l-1 1M630 660h0" stroke="#c870c8" stroke-width="7" stroke-linecap="round" fill="none"/><path d="M527 656l-1 1M632 498l-1 0M561 410l1 1M585 518h0M666 448l-2 0M684 572l1 2M481 568l-1 2M556 643l-2 1M651 563l0 2M500 441l-2 1M481 713l0 1M641 499h0M681 694l1 2" stroke="#c870c8" stroke-width="4" stroke-linecap="round" fill="none"/><path d="M744 480l0 1M762 445l0 2M890 458l-2 0M828 712l-1 0M833 471l1 0M772 525h0M793 473l2 0M846 626l0 1M851 483l-1 1M756 597l0 1M827 631h0M762 483l2 1M849 636l-1 0M744 508l2 2" stroke="#e080b8" stroke-width="4" stroke-linecap="round" fill="none"/><path d="M387 716l-1 1M434 578l0 1M330 403l-1 2M419 496h0M415 716l2 1M394 456l-1 2M482 501h0M193 538l-2 1M261 661h0M439 424l-1 1M405 521l1 1M376 423l-2 0M304 402l0 1M229 695h0M218 576l0 2M409 689l-1 1M402 456l2 1M203 485l-2 1M248 438l0 1M317 462h0M418 529l0 1M250 435h0" stroke="#f8d8f4" stroke-width="4" stroke-linecap="round" fill="none"/><path d="M203 502l-1 0M148 673l1 0M113 584l0 1M177 563h0M146 548l1 0M143 596h0M146 706l0 2M197 716l1 1" stroke="#a050c0" stroke-width="5" stroke-linecap="round" fill="none"/><path d="M193 649l1 1M146 683l0 2M169 548h0M157 590l2 2M176 661l0 2M159 711l1 0M162 701l1 1M180 447l0 2M133 654h0M197 600l0 2M184 551l-1 2M151 566l-1 0M135 699l1 0M166 650l1 1" stroke="#2a22e0" stroke-width="7" stroke-linecap="round" fill="none"/><path d="M912 643l1 1M913 666l-1 2M972 588l-1 0M903 673l-2 0M962 620l1 2M967 428l1 1M953 474h0M932 535h0M927 687l-1 0M956 652l0 2M913 536l-1 1" stroke="#3030e0" stroke-width="6" stroke-linecap="round" fill="none"/><path d="M901 643l0 1M898 613l-2 0M864 674l-1 0M918 507l1 0M888 695h0M933 670h0M960 564l-1 1M901 550l-1 0M980 522h0" stroke="#ffd0f0" stroke-width="6" stroke-linecap="round" fill="none"/><path d="M128 695l0 1M166 653l1 2M154 621l1 1M87 646l1 2M194 530l2 0M152 569l-1 0M123 506l0 1M97 639h0M149 596l1 0M122 632l0 2M111 494l1 2M163 548l0 1M140 447l1 2M108 662l1 2M195 610l0 2" stroke="#4a2cc0" stroke-width="4" stroke-linecap="round" fill="none"/><path d="M78 682l0 2" stroke="#a050c0" stroke-width="7" stroke-linecap="round" fill="none"/><path d="M147 606l0 1M156 639l2 1M172 682l0 2M178 607l0 2M131 474h0" stroke="#a050c0" stroke-width="6" stroke-linecap="round" fill="none"/><path d="M145 648l0 2M154 573l2 2M118 555l2 1M183 408l-1 2M168 556h0M162 540l0 1M160 543h0" stroke="#7040b8" stroke-width="7" stroke-linecap="round" fill="none"/><path d="M157 689l1 0M100 633l-2 0M172 566l1 1M174 599l1 2M116 488l1 1M149 635l1 1M96 684l2 0M139 711l0 1M181 596l1 0M154 578l2 1M80 612l1 1M138 695h0M148 682l2 0M179 607h0" stroke="#2a22e0" stroke-width="4" stroke-linecap="round" fill="none"/><path d="M738 721l-2 0M713 615l0 2M796 403l1 1M767 708l0 2M776 448l1 0M802 408h0M790 704l-1 1M723 599h0M860 606h0M731 714l2 0" stroke="#ffffff" stroke-width="7" stroke-linecap="round" fill="none"/><path d="M198 544l-1 0" stroke="#a050c0" stroke-width="4" stroke-linecap="round" fill="none"/><path d="M119 456l0 1M62 665l-1 2M77 584l-1 2M143 428l-1 1M89 507l2 1M68 581l2 1M87 539h0M62 621h0M101 510l0 1M72 562l0 1M93 509h0M87 552l1 0M84 544l1 1M99 493h0M96 509l-1 1M95 503l1 2M68 618l0 2M155 400l0 1M72 690h0M158 398l1 1" stroke="#5030c8" stroke-width="5" stroke-linecap="round" fill="none"/><path d="M103 500l0 1M86 530h0M70 633h0M69 589l1 1M80 548h0M86 531l2 1M72 586l0 1M156 399l-1 1M117 466h0M92 532h0M77 570h0M88 515h0M71 638l0 1M79 571h0M75 555h0M74 586l-1 0M97 504h0M79 590l-1 2M72 641l-1 1M64 665l1 1M133 441h0M129 442l1 0M61 713l-1 1M106 476l-2 0M171 397l-1 0M161 400l-2 1M149 412l-2 1M69 586l2 0M71 638l2 0M104 503l-1 1M136 438l2 0M67 662l1 2M75 596l-2 1M66 705l0 2M68 589h0M65 665l-1 2M86 536l-1 1M125 456l2 1M61 671l-1 0M81 552l1 0M76 587l-1 1M93 505l0 1M120 472l1 0M133 426l-1 1M81 547l1 1M83 572l1 0M68 629l-1 0M63 621h0M115 479l-1 1M152 409l-2 1M165 394l-2 0M63 616l0 1M71 574l1 2M88 556l1 0M71 587l0 2M172 397h0M163 400l-2 1M61 674h0M73 625h0M168 390l-1 0M115 458l0 2M111 474l1 2M91 537h0M115 455l-2 1M81 577l-1 0M66 681h0M156 407l2 1M64 627l0 2M137 432l-1 1M84 566l0 2M80 566l0 2M94 519l0 2M61 681l-1 0M109 475l-2 0M73 558l0 1M89 514h0M73 606h0M116 450l2 0M123 452h0M142 428l1 1M68 652h0M64 714l-1 1M83 532l1 1M87 540l-1 2M109 483l0 2" stroke="#2626d8" stroke-width="4" stroke-linecap="round" fill="none"/><path d="M66 642l-1 1M107 485h0M105 484l1 0M143 418l-1 2M151 406l0 2M105 484l-1 2M102 484h0M96 510l1 0M70 616l-1 1M61 633l1 1M68 628l1 2M100 510h0M68 609h0M73 570l-2 2M72 640l1 1M64 614l-1 2M129 436l2 0M68 711l-1 1M67 658l-2 0M63 680l2 1M135 433l1 0M131 434l-1 0M91 525l-1 1M89 533l-1 1M145 412l-1 0M71 582l2 2M99 517l-1 2M170 398h0M77 594l1 0M68 703l0 1M66 705l-1 0M70 710l2 0M74 712l2 1M96 506l-1 1M117 449l-1 1M114 485l1 0M114 479l0 1M69 608l2 1M89 525h0" stroke="#2626d8" stroke-width="5" stroke-linecap="round" fill="none"/><path d="M92 522h0M90 533l0 2M122 468l-1 2M107 489l-1 1M66 601l1 1M73 601h0M72 578l1 1M66 643l-2 0M71 656l2 1M73 611h0M93 502l0 1M73 597h0M141 419l-1 0M60 665l0 2M70 619l1 2M73 597h0M84 540l-1 0M69 645l-1 2M97 499l1 1M74 611h0M114 485l1 2M128 444l1 1M135 439l0 1M78 550l1 1M111 462l-1 1M87 557l-1 0M95 511l-2 0M82 553l-1 1M66 647l2 0M73 557l2 0M83 572l0 2M98 490l-1 0M62 684l1 2M108 485l-1 0M64 643l-2 1M102 490l-2 0M125 461l2 1M153 411l0 2M81 554l2 1M73 587h0M76 607l1 1M81 558h0M139 427l-2 1M72 695l2 1M73 616h0" stroke="#5030c8" stroke-width="4" stroke-linecap="round" fill="none"/><path d="M71 586l0 1M101 496h0M73 584l-1 1M72 610l-1 1M107 474l-1 1M74 562l-1 1M66 594l-1 1M62 705l-1 1M124 443l-1 1M89 537h0M99 519h0M87 513l0 2" stroke="#c050c8" stroke-width="4" stroke-linecap="round" fill="none"/><path d="M64 642l1 2M64 713h0M83 529l-1 1M62 672l0 2M76 598l-2 2M129 432l-1 1M112 483l1 1M173 392l-1 2M163 400l0 1M173 391l0 1M125 449l0 2M61 682l-2 0M95 527l-1 2M66 721l0 1M111 482l1 1M61 677l-2 1M67 588l2 1M63 710h0M86 563l-2 1M151 409l-1 0M73 653l0 1M137 435h0M65 636l0 1M75 633l1 1M64 649l-1 2M126 449l1 0M80 535l-1 1M62 634l-2 2M71 586l0 1M76 618l-2 1M82 557l-2 2M111 491l1 1M115 475l-1 2M69 661l-1 1" stroke="#2626d8" stroke-width="3" stroke-linecap="round" fill="none"/><path d="M64 670l1 2M60 674l-2 2M93 524l0 1M83 566h0M120 445l-1 1M61 720l0 1M106 480l0 2M68 660l0 1M59 710l0 2M85 523l0 1M78 597h0M91 512h0M112 472l-1 0M136 423l0 2M121 450l1 1" stroke="#8040c0" stroke-width="3" stroke-linecap="round" fill="none"/><path d="M164 403l0 2M128 440l0 1M83 561h0M167 392h0M84 537l-1 2M134 440h0M137 419l-1 1M99 493h0M61 656h0M69 585h0M64 668l-2 0M117 476l1 0M68 665l0 2M107 473l2 1M156 407l1 0M88 537l0 2M127 438l0 2M80 580l-1 1M74 587h0M92 536h0M99 511l2 0M80 576l-1 0M128 434l1 0" stroke="#5030c8" stroke-width="3" stroke-linecap="round" fill="none"/><path d="M68 580l-2 2M63 677h0M121 446l1 0M136 439l0 1M126 439l-1 1M71 568h0M70 596l-1 2M94 505l-1 1M132 429l1 0M80 578l0 1" stroke="#c050c8" stroke-width="3" stroke-linecap="round" fill="none"/><path d="M72 645l0 1M95 523l-2 1M159 406l1 1M67 694l0 1M131 445l0 2M105 493l-1 1M109 478l2 1M71 670l0 2M80 539l0 1M69 707l-1 2M67 625l1 1M63 614l0 2" stroke="#8040c0" stroke-width="5" stroke-linecap="round" fill="none"/><path d="M161 402l-2 1M106 491l-1 1M76 575l-1 1M74 582l-1 0M87 550l-1 1M73 569l1 1M95 524l1 0M65 642l-1 2M109 481h0M67 590h0M68 596h0M63 695l-1 2M62 705l1 1M114 459h0M82 557l2 1M79 540l1 1M89 551l1 1M166 398l0 1M143 430l1 2M98 506h0M118 469h0M136 425l-1 0M70 692h0M77 566l1 0M128 442l-1 1M59 664l0 1M127 440h0M97 489l-1 0M94 515l-1 0M77 611l-1 2M66 615l1 0M65 627l0 2M143 428l-1 1" stroke="#8040c0" stroke-width="4" stroke-linecap="round" fill="none"/><path d="M124 442h0M69 609h0" stroke="#c050c8" stroke-width="5" stroke-linecap="round" fill="none"/><path d="M172 386C168.3 388.5 156.2 395.8 150 401C143.8 406.2 139.8 411 135 417C130.2 423 125 430.7 121 437C117 443.3 114.2 448.5 111 455C107.8 461.5 105.2 469.3 102 476C98.8 482.7 95 488.3 92 495C89 501.7 86.3 508.8 83.7 516C81.1 523.2 78.5 530.8 76.2 538C74 545.2 72.1 551.8 70.2 559C68.3 566.2 66.4 573.7 64.9 581C63.4 588.3 62.1 595.7 61.1 603C60.1 610.3 59.6 617.7 58.9 625C58.1 632.3 57.1 639.7 56.6 647C56.1 654.3 55.9 661.5 55.8 669C55.7 676.5 55.6 683.8 55.8 692C56 700.2 56.7 713.7 56.9 718" stroke="#fff" stroke-width="7" stroke-dasharray="10 8" fill="none"/><path d="M972 401C966.7 407.5 951.2 423.5 940 440C928.8 456.5 915 476.7 905 500C895 523.3 887.2 555 880 580C872.8 605 866 627.3 862 650C858 672.7 857 705 856 716" stroke="#fff" stroke-width="7" stroke-dasharray="10 8" fill="none"/><path d="M575 423L593 424L585 433Z" fill="#fff"/><rect x="925.8" y="738" width="62.6" height="4" fill="#fff"/><text x="957" y="734" font-size="7" fill="#bbb" text-anchor="middle">100 μm</text><text x="3" y="855" font-size="54" fill="#231815" font-weight="bold">c</text><rect x="50.2" y="859.2" width="943.8" height="400.6" fill="none" stroke="#c9cacb" stroke-width="4.4"/><text x="53.5" y="908" font-size="35.8" font-style="italic">Rasgrf2</text><text x="178.4" y="908" font-size="35.8" font-style="italic">Cux2</text><text x="269" y="908" font-size="35.8" font-style="italic">Plcxd2</text><text x="385.8" y="908" font-size="35.8" font-style="italic">Rorb</text><text x="475" y="908" font-size="35.8" font-style="italic">Kcnk2</text><text x="589.7" y="908" font-size="35.8" font-style="italic">Sulf2</text><text x="688" y="908" font-size="35.8" font-style="italic">Foxp2</text><text x="803.8" y="908" font-size="35.8" font-style="italic">Pcp4</text><text x="903.7" y="908" font-size="35.8" font-style="italic">Ctgf</text><text x="4.5" y="922" font-size="25">L1</text><text x="4.5" y="1215.5" font-size="25">L6</text><path d="M35 921H48M36.6 1198H48" stroke="#231815" stroke-width="3"/><path d="M35.4 934V1132" stroke="#231815" stroke-width="2"/><path d="M28.5 1128L43 1128L35.6 1147Z" fill="#231815"/><rect x="59.5" y="922" width="98" height="313" fill="#fff" stroke="#c8c8c8" stroke-width="1"/><path d="M62.5 925H154.5V1230H62.5Z" fill="none" stroke="#dcdcdc" stroke-width="0.8"/><path d="M65.5 927C99.5 926 134.5 933 155.5 953M61.5 1199.5C99.5 1201 129.5 1212 147.5 1232" fill="none" stroke="#231815" stroke-width="2.2" stroke-dasharray="7 4.5"/><rect x="161" y="922" width="98" height="313" fill="#fff" stroke="#c8c8c8" stroke-width="1"/><path d="M164 925H256V1230H164Z" fill="none" stroke="#dcdcdc" stroke-width="0.8"/><path d="M167 927C201 926 236 933 257 953M163 1199.5C201 1201 231 1212 249 1232" fill="none" stroke="#231815" stroke-width="2.2" stroke-dasharray="7 4.5"/><rect x="266" y="922" width="98" height="313" fill="#fff" stroke="#c8c8c8" stroke-width="1"/><path d="M269 925H361V1230H269Z" fill="none" stroke="#dcdcdc" stroke-width="0.8"/><path d="M272 927C306 926 341 933 362 953M268 1199.5C306 1201 336 1212 354 1232" fill="none" stroke="#231815" stroke-width="2.2" stroke-dasharray="7 4.5"/><rect x="369" y="922" width="98" height="313" fill="#fff" stroke="#c8c8c8" stroke-width="1"/><path d="M372 925H464V1230H372Z" fill="none" stroke="#dcdcdc" stroke-width="0.8"/><path d="M375 927C409 926 444 933 465 953M371 1199.5C409 1201 439 1212 457 1232" fill="none" stroke="#231815" stroke-width="2.2" stroke-dasharray="7 4.5"/><rect x="472" y="922" width="98" height="313" fill="#fff" stroke="#c8c8c8" stroke-width="1"/><path d="M475 925H567V1230H475Z" fill="none" stroke="#dcdcdc" stroke-width="0.8"/><path d="M478 927C512 926 547 933 568 953M474 1199.5C512 1201 542 1212 560 1232" fill="none" stroke="#231815" stroke-width="2.2" stroke-dasharray="7 4.5"/><rect x="577" y="922" width="98" height="313" fill="#fff" stroke="#c8c8c8" stroke-width="1"/><path d="M580 925H672V1230H580Z" fill="none" stroke="#dcdcdc" stroke-width="0.8"/><path d="M583 927C617 926 652 933 673 953M579 1199.5C617 1201 647 1212 665 1232" fill="none" stroke="#231815" stroke-width="2.2" stroke-dasharray="7 4.5"/><rect x="682.6" y="922" width="98" height="313" fill="#fff" stroke="#c8c8c8" stroke-width="1"/><path d="M685.6 925H777.6V1230H685.6Z" fill="none" stroke="#dcdcdc" stroke-width="0.8"/><path d="M688.6 927C722.6 926 757.6 933 778.6 953M684.6 1199.5C722.6 1201 752.6 1212 770.6 1232" fill="none" stroke="#231815" stroke-width="2.2" stroke-dasharray="7 4.5"/><rect x="786" y="922" width="98" height="313" fill="#fff" stroke="#c8c8c8" stroke-width="1"/><path d="M789 925H881V1230H789Z" fill="none" stroke="#dcdcdc" stroke-width="0.8"/><path d="M792 927C826 926 861 933 882 953M788 1199.5C826 1201 856 1212 874 1232" fill="none" stroke="#231815" stroke-width="2.2" stroke-dasharray="7 4.5"/><rect x="890" y="922" width="98" height="313" fill="#fff" stroke="#c8c8c8" stroke-width="1"/><path d="M893 925H985V1230H893Z" fill="none" stroke="#dcdcdc" stroke-width="0.8"/><path d="M896 927C930 926 965 933 986 953M892 1199.5C930 1201 960 1212 978 1232" fill="none" stroke="#231815" stroke-width="2.2" stroke-dasharray="7 4.5"/><path d="M147 1076h0M125 961h0M74 1007h0M133 1010l-1 0M139 954l0 1M121 994l0 2M132 1014h0M88 1009h0M127 979l1 2M141 1029l-1 1M129 978l2 1M74 1034l-1 1M142 1012l0 2M120 968h0M125 1003h0M103 1016l-1 0M142 959l-1 2M135 1062l-1 2M140 990l0 1M88 1034l1 1M150 1014h0M101 977l0 1M114 999l2 1M98 997l1 1M136 987l-1 1M126 1007l1 1M145 1061l-1 1M130 1037l0 1M111 971l0 1M121 1084l1 1M120 1013h0M144 1017l-1 0M78 979l1 1M85 1040l1 2M107 1053h0M148 1046h0M91 1084l0 2M99 1058l1 1M125 1038l0 2M149 966l-1 0M140 1024l2 0M137 1025l0 2M109 990l-1 0M116 1007h0M143 980l-1 0M131 1007l0 1M118 1051h0M114 994h0M129 991h0M82 983l1 0M108 995l-1 1M111 977l1 2M122 995l-1 1M141 956l-2 0M127 972l-1 2M151 980h0M141 959l1 1M112 981l0 1M84 941l0 1M143 1035h0M128 1012l-1 2M123 1015l0 2M141 955l1 1M150 1025l2 1M112 950h0M103 1002l-1 0M127 998l-1 1M80 980l1 2M110 941h0M141 1014l0 1M146 998l2 0M140 978l1 0M151 1007l-1 2M92 951l0 1M131 1048l-1 0M138 985l0 1M110 1003l1 0M111 1004l-2 1M89 1016l1 1M103 962l-2 0M152 961l2 1M111 999l0 1M79 943l0 1M89 1009h0M112 1008h0M119 948l-1 2M139 975l-1 1M141 998l-1 1M78 952l-1 1M144 987l1 1M152 981l-1 1M95 998l0 1M145 1050h0M97 1050l2 0M116 1054l0 1M125 1059l0 1M66 998l0 1M150 1057l-1 1M136 1019l-1 0M145 1057l0 1M86 1020l1 1M104 998h0M147 1004l-2 0M100 975l0 1M120 944l-1 0M145 969l-1 2M146 1050h0M98 1036h0M141 967l1 1M111 1014l0 1M137 1026l0 1M130 982l-1 1M86 1038l2 0M131 1037h0M148 995l-1 1M114 966l-1 1M109 1021h0M92 1030l1 0M150 990l-2 2M136 990h0M129 1049l-1 1M106 1007h0M134 1038l-1 0M134 995l-1 1M149 973l1 1M100 1152l1 2M141 1212l0 1M132 1067l1 1M116 1173l0 1M115 1062l0 1M105 1183l1 1M111 1140h0M67 1122l-1 0M104 1095l-1 2M88 1131l1 2M75 1104l-1 2M98 1044h0M102 1196h0M92 1041l0 1M96 1067l1 0M151 1107l1 1M100 1055l0 2M109 1173l-1 2M101 1147l0 1M147 1176h0M135 1127h0M145 1082h0M144 1129l1 2M105 1029l1 2M75 1137h0M132 976h0M96 1076l-1 2M130 1086l1 1M100 1080l-2 1M115 1124l0 1M151 1056l1 0M78 1105l0 1M92 1144h0M139 1127h0M152 1111l1 0M127 1161h0M142 1126l-1 1M135 1063l0 1M90 1133h0M84 1118l0 1M85 1001l0 1M137 1084l0 1M110 1158l0 2M151 1041l0 1M128 1118h0M142 1094h0M112 1115l2 1M89 1151l1 0M243 1019l-1 1M195 952h0M214 958h0M223 1004l-1 0M185 990l-1 2M199 1042h0M247 1054l0 2M249 1045h0M214 1096l-1 1M170 988l0 2M180 993l-1 0M199 1006l-1 0M187 988l1 0M181 1060h0M246 1034l1 1M247 1048l0 1M197 947h0M238 1094l1 0M217 998l0 2M251 1002l1 1M210 1038l-1 0M247 995l-1 1M234 966l1 2M224 958l0 1M206 1021l1 2M231 1026l-1 2M167 1016l1 2M251 993l0 2M179 951l2 0M243 973l-2 1M215 965l1 1M189 995l-1 1M237 1004l0 2M243 976h0M202 1006l2 0M253 995h0M254 1045l-1 0M234 981h0M193 990l-1 0M249 1084h0M193 989l1 1M184 1042h0M171 1031l0 1M208 1006l-1 1M222 1041l-1 1M216 981h0M209 1070h0M177 1042l1 1M253 1044l-1 1M172 1028h0M243 985h0M245 954l-1 1M239 970l0 1M213 1071h0M206 1009l-1 0M178 1057l1 1M205 1057l1 1M212 1049l1 0M187 976l2 0M205 1013h0M250 1016h0M217 1022h0M245 1033h0M166 1019l1 2M169 959l-2 0M198 1006l0 1M196 952l0 1M228 988l2 1M206 988l0 1M196 995l1 1M205 1104l1 0M249 1004h0M242 1015l-1 0M194 1076l1 1M181 985l-1 0M214 996l1 1M221 1063l1 0M204 951h0M217 979l1 1M194 957l-1 0M207 1054l1 0M204 983l0 1M240 1008h0M186 1054h0M213 966l0 2M234 1069l-1 1M228 998l-1 0M253 982l1 1M210 960h0M176 1016l-1 1M202 1058l1 0M202 1085l2 0M219 1069h0M220 953l-1 0M250 1007l1 2M241 1039l0 1M188 1009l-2 0M229 1009l0 1M195 1029l0 1M223 1072h0M231 1018h0M229 982l1 1M245 971l1 0M174 1062l1 0M203 1015l0 2M250 1002l2 0M213 980h0M237 1036l-1 0M229 1014l1 0M242 1066l1 2M217 1035l-1 2M239 1004l1 1M182 991l-1 2M229 1055l0 2M252 1014l-1 1M211 1032l1 0M250 993l1 0M201 1018l1 0M170 954h0M240 1071l-1 2M240 970l0 1M176 1079l-1 2M228 1049l0 1M187 1081h0M209 1057l0 1M213 1043l2 0M188 1083l1 1M253 1020h0M202 957l1 2M198 1058l1 1M246 984l0 1M175 972l0 1M247 965l1 1M168 1028h0M213 1003l2 1M204 986l-1 0M203 1027h0M177 1001l1 1M211 989l1 1M231 1103l1 0M234 1027h0M210 1049l0 2M237 1049l1 1M242 984h0M235 1068h0M215 975h0M195 1007h0M200 1010h0M189 957l-1 1M226 1046h0M235 1062h0M168 1009l-1 0M189 1086h0M172 990h0M204 1055h0M237 1097l2 0M229 1001h0M175 1026l0 1M233 1009l0 1M202 1049l0 2M174 1023h0M236 1029h0M175 1087l0 1M225 1056h0M192 1010l0 1M241 1025l0 1M228 1003h0M230 1052l-2 0M238 953l1 1M233 1042l1 0M200 944h0M220 947l1 1M239 1026l0 2M218 1024l2 0M216 1084l1 1M238 1114l-1 0M250 1012l0 2M226 969l1 0M220 971l-1 2M215 1044l-1 2M171 1062l-1 1M193 1051h0M243 1018l1 1M237 999h0M214 1050h0M228 980l0 2M241 1017l0 2M251 1025l0 1M181 1031l0 1M248 1043l-1 0M216 1042l1 1M222 1016l-1 0M206 1032l1 0M253 1016l1 1M191 1062l2 0M252 973l0 1M226 1078l0 1M201 961l-1 2M217 1041l0 1M205 1053l0 1M213 1010l1 1M184 1024h0M232 1016h0M198 1025l0 2M236 1091l1 0M242 1065l0 1M233 1211l0 1M244 1007l-1 0M235 1166l-1 0M199 1111l1 1M244 1063h0M240 1057l-1 2M216 986l1 0M218 1094l1 0M222 1070l-2 1M197 1148l-1 1M215 1013l0 2M192 1198l0 1M244 1014l1 0M186 1126l1 1M245 1120l0 1M190 1064l2 0M245 993l2 1M198 1139h0M204 1057l1 0M234 1160l0 1M177 1145l-1 1M206 1200h0M220 1075h0M183 1143l1 0M253 1091l1 1M228 1143h0M186 1174l0 1M178 1194h0M250 1124l2 0M243 1081l-1 0M183 1154l1 1M218 1160l-1 1M242 1200h0M233 1082l2 1M174 1137l1 2M220 1088h0M191 1162l1 0M216 1145l1 1M237 1154l0 1M175 1067l-1 1M228 1130l-1 1M248 1062h0M241 1071l0 2M231 1093l1 1M250 1154h0M210 1179l-2 1M205 1141l0 2M221 1159h0M211 1120l1 1M187 1133l-1 0M223 1106l1 0M221 1126l-1 0M233 1192l-1 0M211 1107l-2 0M213 1143l0 1M226 1100h0M187 1167h0M175 1166l1 0M233 1165l2 1M236 1018l-2 0M220 1074l0 1M206 1133l2 2M253 1061l1 1M197 1195l0 1M254 1079l-1 1M251 1152l-1 1M189 1135l0 1M211 1063l2 1M175 1151l1 2M203 1147l0 1M177 1023l-1 1M209 1119l1 1M192 1199l-1 0M186 1144h0M242 1196l-2 1M247 1154h0M184 1144l2 1M194 1054h0M192 1197l0 2M253 1101l-1 1M230 1158l1 1M174 1137l-1 0M231 1182l2 1M209 1057l-2 0M251 1088l0 1M221 1169l-1 1M244 1182l-2 0M219 1135h0M227 1159l0 2M250 997h0M228 1177l-1 1M231 1070h0M235 1056l0 1M169 1131l0 1M200 1140h0M174 1046h0M245 1182l-1 1M227 1120l-1 2M354 1071h0M301 1061l1 0M339 1130l-1 1M341 1056l0 1M327 1139l1 2M307 1130l-1 0M281 1136l-1 1M315 1184l0 1M351 1122l-1 0M357 1102h0M278 1175l-1 2M302 1126l0 2M327 1118l-1 0M287 1197l2 1M352 1125l-1 1M319 1103l-1 0M324 1172l2 1M343 1122h0M313 1077h0M331 1056l0 1M316 1136l-1 2M273 1151l-1 1M288 1109l0 2M326 1037h0M329 1113l-1 0M350 1138l1 1M294 1149l1 2M325 1109l0 1M283 1144l1 1M282 1105l-1 1M304 1193l-2 0M340 1053l-1 1M316 1129l1 1M304 1096l-1 0M300 1117l-1 2M287 1161h0M348 1072l-2 0M357 1166h0M277 1105h0M357 1085l0 1M338 1158l-1 1M338 1096l0 2M349 1080l0 1M349 1068l1 1M294 1062l0 1M287 1138h0M331 1147l-1 1M326 1058h0M321 1106h0M301 986l0 1M319 1177h0M279 1064h0M278 1115l-1 1M349 1054l1 1M284 1164l1 0M320 1086l-1 0M283 1042l0 1M278 1092l-1 1M310 1156l0 2M310 1101l0 1M285 1057l0 1M356 1080h0M311 1104l0 1M303 1105l-1 2M358 1148l0 1M276 1162l-1 0M308 1165l-1 2M338 1028l-1 0M312 1099h0M324 1100l-1 1M306 1070l1 0M288 1169l1 1M299 1029l-2 1M331 1058l1 2M346 1133l0 1M348 1168h0M295 1147h0M276 1113l-1 2M338 1037h0M302 1112l2 1M329 1042h0M291 1124l-1 1M283 1176l0 1M356 1127l0 2M286 1161h0M356 1135l-2 1M327 1079l2 1M315 1121l0 2M289 1126l2 2M332 1056l1 1M351 1117l-2 1M319 1096l-2 0M323 1128h0M351 1097l0 1M317 1080l1 0M329 1113l1 2M343 1100h0M283 1143h0M292 1078l2 1M304 1110l2 0M286 1168l1 1M335 1200l1 0M303 1188l1 2M345 1048l-1 0M304 1064l1 0M274 1174l-1 0M353 1138l1 1M292 1156h0M279 1015l0 2M349 1080l-2 1M278 1160l0 1M322 1079l0 1M292 1061l-1 2M275 1123l0 1M305 1160h0M287 1075h0M300 1078l0 2M344 1129l-1 1M328 1159l2 1M355 1109l-1 0M331 1165l-1 0M308 1121h0M278 1179l1 1M343 1189l-1 0M317 1167l1 2M313 1176l1 0M350 1143h0M354 1169l0 1M301 1156l1 0M325 1162l-2 1M293 1140l1 1M291 1160h0M354 1139h0M336 1163h0M316 1194l-1 1M333 1208l0 2M309 1169l0 1M335 1206l-1 2M290 1157h0M327 1144l-1 0M314 1131h0M321 1209h0M299 1197l-1 1M344 1185l1 0M323 1180l2 0M346 1183l-1 0M416 1039l-1 0M400 1009l1 0M401 1081h0M382 997h0M397 1050l0 1M448 1102h0M398 1074l1 1M443 1058l0 1M451 983l-1 1M397 1075h0M407 1001l1 1M458 1071h0M403 1055l-1 1M424 1019l-1 0M457 1082l1 0M453 1072l-1 2M414 995l-2 0M439 1036l0 1M458 1084l-1 1M458 973l0 2M427 1070h0M398 1053l0 2M432 1076h0M385 1051h0M408 1074l1 1M440 1045l1 0M402 1065h0M386 1012l-1 1M437 993h0M413 1058l1 0M389 1037l0 2M412 1081l0 2M454 1007l0 1M425 1062l0 1M379 1085l0 1M431 1048l0 1M449 1076l0 1M442 1012l1 1M428 958l0 1M405 1033h0M384 1019h0M427 1076l1 0M429 1016l1 0M401 1066l-1 0M426 1081h0M460 1020l0 1M413 1033h0M390 1055l2 0M419 1061l-1 1M416 1022l-1 1M393 1091l0 1M391 1047h0M456 1012h0M428 1053h0M444 1021l0 2M391 1060l0 1M455 1038h0M426 1082h0M446 998l-1 1M423 1061h0M436 1065h0M445 1049h0M399 1056h0M417 1093h0M426 1061l-1 1M431 1060l1 0M449 1044l-1 1M395 1040h0M427 977l1 1M447 1022h0M400 1023h0M437 1011l0 1M398 1019l0 2M426 999l1 0M375 1030l-2 0M386 1087h0M445 1077h0M447 1092l1 1M457 1000h0M425 1020l-2 0M399 1009l0 1M429 1022l-1 0M429 1073l1 1M450 1107l0 1M431 996l0 2M456 1037l1 0M425 1017l2 1M421 1038l-1 0M443 1073l0 1M430 1033l-1 0M418 1049l1 0M392 1050l1 1M409 999l0 1M441 1079l1 2M457 1042l-1 1M437 1018l-1 2M438 1036l1 0M448 1017l0 2M431 993l-1 1M437 1095l2 1M402 1033l0 1M418 1071l1 1M404 1009l0 2M412 1060l-2 1M413 1072l0 2M413 1082l-2 1M383 1048l2 0M423 1077l-1 1M421 1059l0 1M412 1039h0M458 1074l-1 2M450 1022l0 1M447 1046l-1 0M458 1076h0M376 1053h0M443 976h0M423 1036l-1 0M418 1053l2 1M434 1033l-1 2M421 1055l0 1M387 1039l2 1M438 991h0M422 1028l-1 0M390 1093l1 0M429 970l0 1M398 984l1 0M427 998l1 0M396 1052h0M438 1063h0M417 1023l1 1M433 1044l2 0M417 1058l1 2M406 1091l2 0M446 970h0M426 1103h0M396 1041l0 1M442 1021l1 2M438 1080l-1 1M443 1110l1 1M457 1072l2 0M460 1019h0M448 1050l2 1M423 1054l1 1M442 1024l0 1M460 991h0M438 982l2 0M376 1010h0M438 997l-1 0M434 1028l0 1M415 994l-2 1M437 1096l0 1M392 1058h0M414 1124l0 2M408 1104h0M438 994h0M395 1074l2 0M444 1054l-1 1M437 1051l0 1M432 1063l2 1M462 1007l0 1M427 1058l0 1M447 1042l1 0M433 1028l-1 0M396 1094h0M441 1100l-1 0M415 1110l0 1M427 1153l1 1M388 1162l1 1M425 1061l0 1M401 1131l-1 1M383 1096l0 1M385 1092l-1 0M414 1139l0 1M374 1152l-1 1M438 1071l-2 1M399 1126l-2 1M448 1072l-1 0M376 1085h0M406 1140l2 1M412 1166h0M402 1132h0M421 1148l-1 0M400 1143h0M455 1044h0M438 1082l-1 1M436 1162l0 1M442 1147l0 2M438 1105h0M424 1119l1 1M396 1095l1 0M390 1195l0 2M462 1130l1 0M377 1149h0M405 1103l0 2M425 1139l0 1M424 1094h0M399 1131l1 1M460 1149l-2 1M406 1074h0M432 1130l-1 0M455 1199l0 1M460 1084l-1 1M448 1175l0 1M397 1130h0M453 1146l1 1M444 1128h0M397 1097l-1 1M410 1196l1 1M435 1129l-1 0M450 1100l1 1M408 1177h0M454 1192l-1 1M426 1160l-1 1M391 1130l1 1M438 1193l0 1M445 1219l-2 1M384 1136h0M450 1071l1 2M412 1179l2 1M436 1098h0M409 1145l-1 1M549 1043h0M551 1077l1 1M503 1079l1 0M562 1117l2 1M529 1186l0 1M562 1113l-1 0M485 1121h0M547 1019h0M526 1058l1 0M534 1111l1 1M552 1121l-1 0M557 1072l1 2M543 1176l1 1M513 1116l0 1M554 1032l-1 0M548 1122l1 1M520 1103l-1 1M515 1067l1 1M534 1079h0M506 1067h0M560 1063l-1 1M517 1095h0M545 1148l-2 0M516 1139l-2 0M561 1071l1 2M480 1002h0M486 1131l1 0M563 1021h0M515 1106l1 1M555 1149h0M504 1026l-2 1M538 1110l0 1M539 1140l-1 1M489 1052l0 1M499 1146l1 0M525 1123h0M512 1037l1 0M549 1084h0M557 1019l-1 0M486 1070l-2 1M541 1027h0M565 1069l1 1M517 1087l1 1M561 1116l-2 0M526 1143h0M552 1104h0M533 1119l0 1M533 1111l0 1M492 1074l-1 2M536 1072h0M541 1139l-1 0M487 1125h0M529 1067l1 2M544 1142l-2 0M514 1062l1 0M545 1148l2 0M511 1098l1 2M534 1098l1 0M500 1049l-2 0M483 1045l1 2M514 1020l-1 1M501 1093l1 1M530 997h0M511 1120l-1 1M510 1044l0 1M520 1102l1 1M540 1114l-2 0M505 1096l-1 2M527 1122l1 0M505 1128h0M538 1086l-1 0M544 1133l-1 1M523 1077l-2 0M554 1104h0M544 1105h0M554 1092h0M526 1127h0M482 1077l0 2M565 1100l0 1M513 1143l0 2M550 1107l0 1M497 1118h0M555 1143l0 2M555 1088l-1 1M515 1132l-1 0M538 1120l1 1M490 994l1 0M545 1054l0 1M542 953l-1 0M523 1019l-1 0M525 963l1 1M493 1016l1 2M478 1002l-1 1M563 966l0 1M486 970l-1 1M548 961l1 1M542 1000h0M542 1108h0M534 965l-1 1M564 1087h0M552 971l-2 0M508 1015l-1 1M592 1067l2 0M668 1161l1 1M635 1142l1 1M657 1146l1 0M641 1149l-1 0M632 1119l0 1M596 1187l-1 1M643 1067l-1 2M611 1168l0 1M658 1135l1 0M645 1089h0M663 1161l-1 0M647 1174l-1 0M614 1062l1 0M661 1069l-2 0M638 1142l0 1M606 1129l-1 1M605 1139l0 1M645 1092l-1 1M668 1085l0 2M654 1120l1 0M632 1124l-1 1M669 1078l1 1M662 1162l1 0M629 1108h0M640 1103l-1 1M631 1141h0M668 1081l-1 0M650 1123l1 1M667 1078l-1 1M604 1058l0 1M612 1154l1 2M649 1161l0 1M664 1107l-1 0M632 1158l-1 1M604 1157l0 2M633 1089h0M651 1145l1 1M649 1180l0 2M598 981l1 1M615 1110l0 1M588 1109l2 1M668 1190h0M665 1151l2 1M646 1166l0 2M657 1071l0 2M657 1188h0M604 1092l0 1M642 1108l2 1M643 1066l-1 1M657 1183h0M640 1088l-1 0M638 1209h0M643 1016h0M640 1135l1 1M626 1137h0M605 1146l2 1M651 1186l-1 1M660 1080l1 2M663 1198l-2 1M652 1100l0 2M659 1098l1 0M639 1117l1 1M668 1213h0M659 1137l1 0M609 1182h0M660 1128l-1 1M638 1134l1 0M655 1219l-1 1M607 1158h0M584 1099l1 1M612 1155l-2 1M646 1116l-1 1M658 1156h0M656 1106l1 0M652 1070l1 1M642 1031l0 2M646 1156h0M629 1170l1 1M665 1120l-1 0M615 1112l1 1M661 1093l-2 1M596 1084l-1 1M629 1145h0M605 1194l-2 1M642 1172h0M652 1067l-1 2M656 1082l1 0M662 1081l1 1M660 1196h0M610 1050l0 1M620 1183l1 2M635 1111l-2 0M631 1102h0M636 1127l1 2M604 1093h0M665 1183l0 2M643 1093l0 1M653 1196l0 2M646 1190l1 1M656 1058l-1 1M648 1158h0M636 1098l-1 1M643 1080l1 1M651 1126h0M596 1100l2 1M643 1082l1 1M598 1090l0 1M662 1173h0M640 1185l1 1M607 1052l1 0M596 1136l1 0M625 1113l0 2M653 1107h0M624 1066l1 0M665 1121l2 1M668 1151l-1 1M644 1135l-1 1M591 1129l1 1M638 1115h0M659 1102l1 2M616 1154l0 2M638 1126l0 1M606 1109l0 1M609 1091l1 1M617 1159l2 0M648 1089l0 1M602 1164l-1 1M645 1087h0M666 1190h0M658 1143h0M662 1111l1 0M587 1077h0M624 1132l0 1M661 1170l1 0M657 1060l1 1M596 1111h0M638 1112l0 2M667 1175l-1 1M624 1166l2 0M665 1139h0M664 1141l0 1M614 1105l1 2M645 1113l-1 1M651 1083l-2 1M652 1119l1 1M667 1094l1 1M602 1156l0 1M601 1151h0M628 1173l1 0M640 1208l1 0M670 1214l-1 1M600 1111l1 2M639 1137l-1 0M652 1135l1 0M613 1175l-1 1M584 1102h0M601 1148l1 2M658 1162l2 1M618 1154l-1 2M588 1147h0M641 1075l0 1M591 1120h0M656 1126h0M663 1059l2 1M614 1109l-1 0M626 1013h0M590 1062l1 2M645 1034l1 1M583 975h0M637 996l-2 0M589 969l-1 1M598 994l-1 2M668 996l2 0M656 971l0 1M594 1000h0M634 1041l-1 0M594 1016l0 1M583 1021l1 1M598 975h0M773 1198l0 1M769 1137l0 1M754 1199h0M714 1193l-1 2M774 1200l0 1M717 1181l1 1M745 1210h0M746 1166l2 1M721 1109l0 2M738 1181l-1 1M710 1161l0 2M762 1181l-1 2M751 1175l1 1M738 1160l0 2M766 1158h0M755 1197l0 2M726 1151h0M773 1157l1 1M761 1180l1 1M724 1187l0 1M769 1199l0 1M756 1191l-1 0M741 1174h0M775 1150h0M727 1196l0 2M775 1131h0M745 1210l2 0M752 1152l-1 0M728 1169l1 0M734 1181l0 2M737 1141l-1 1M753 1199l-2 0M744 1200h0M775 1197l0 1M763 1186l0 2M726 1135h0M730 1161l1 0M701 1190l0 2M740 1167l1 2M756 1194h0M768 1149h0M745 1203h0M754 1175h0M753 1173l1 0M701 1196h0M763 1152l1 1M730 1107h0M749 1204l1 0M772 1183l1 1M748 1189h0M749 1202h0M757 1213l0 1M744 1207h0M713 1187h0M710 1165l1 0M745 1194h0M705 1192h0M708 1191l0 1M766 1171l0 1M748 1145l0 1M716 1149h0M733 1177l0 1M727 1126l1 0M706 1183l1 0M770 1172l-1 0M740 1174h0M735 1158l1 1M771 1151l1 1M731 1177l0 1M766 1188l-1 2M725 1173l-1 1M737 1192h0M762 1174l1 1M771 1201l1 1M738 1202l1 2M737 1196h0M703 1139l0 1M724 1186l-1 1M736 1146l1 1M766 1212l-2 1M747 1168h0M775 1160h0M721 1162h0M703 1179l0 1M756 1148h0M744 1150h0M763 1188l-1 2M732 1030l2 0M759 1009l-1 2M708 1181l0 1M744 1045l-1 0M711 981h0M692 941h0M770 1107l1 1M719 958l1 1M688 1057l-1 0M698 1003h0M877 1050l0 2M851 1136l-1 1M810 1097l1 2M830 1043h0M854 1143h0M841 1100l1 1M864 1118l-1 1M836 1049l0 1M876 1035l-1 1M840 1144l1 0M878 1054h0M814 1167l0 1M796 971l2 1M804 1095l-1 1M805 1192l1 1M795 1150l1 0M827 1156l1 1M809 1153h0M839 1151l1 0M815 1105l-1 1M839 1130h0M853 1195h0M803 1055l2 1M829 1140l-1 0M816 1099h0M836 1092l-1 1M810 1065l0 2M847 1096h0M807 1175l1 2M823 1087l1 0M852 1202h0M813 1120l0 1M827 1130l2 1M814 1119l-1 1M834 1162l-1 2M869 1053l1 1M826 1174h0M864 1025l0 2M804 1182l-1 0M822 1181l-1 0M833 1049l-1 1M865 1107l1 1M794 1149l1 2M831 1131l1 1M824 1158l0 1M847 1168l-2 1M820 1084l-2 0M864 1103h0M848 1066h0M820 1056h0M807 1144l1 0M845 1137l-1 1M864 1058l-1 1M814 1140l1 2M874 1203l0 1M840 1169l-1 1M810 1178h0M840 1130h0M837 1088l-1 1M815 1144h0M877 1091l2 0M857 1176l-1 0M863 1145h0M839 989l-1 0M813 1016l-1 0M819 1133l0 1M845 1139h0M854 1176l-1 1M877 1153h0M846 980l2 0M852 1041h0M869 1142l2 1M840 1147h0M846 1037l-1 0M810 1160l-2 1M878 1170h0M797 1148h0M867 1184h0M866 1077l-1 1M794 1143l2 0M874 1135l1 0M848 1214l1 1M799 1020l1 1M823 1134l0 1M876 1164l1 0M791 1063l-2 1M843 984h0M873 1078h0M791 1129h0M841 1202l-2 0M857 1036l2 0M813 1121l1 0M867 1197h0M842 1101h0M842 1128h0M862 1118l-1 1M871 1072l1 2M866 1061l-1 1M837 1119l-1 0M803 1145l1 1M839 1189h0M851 1180l0 1M856 1189l0 1M849 1036l2 1M824 1166l-1 0M879 1184l0 2M796 1190l0 1M825 1113l-1 0M845 1195h0M837 1169l1 1M814 1063h0M869 1183l1 1M861 1173l-1 1M840 1045l0 2M806 1163h0M847 1097l-1 1M867 1071l-1 1M816 1028l0 1M803 1161h0M823 1163l0 2M861 1111l-1 1M854 1108h0M851 1009l2 1M844 1075l-1 0M858 1069l-2 1M829 1145l-1 0M838 1122l-2 0M816 1197l-1 2M844 1100l2 1M854 1101l-1 1M812 1023l0 2M823 1139l0 1M803 1158l-1 0M795 1135h0M839 1169l-1 0M797 1093h0M791 1094l-1 1M800 1013l1 1M819 1034l1 2M871 1053l0 1M858 1115l-2 1M838 1128l1 1M856 1184l0 1M847 1121l-1 1M867 1213l1 0M868 1105h0M792 1125l2 1M823 1139l0 1M853 1048h0M855 1160l-1 1M794 1126l0 1M830 1055l1 1M812 1067l-1 0M841 1079h0M837 1116l1 1M849 1155h0M857 1050l1 0M840 1083l0 1M843 1036l-1 0M868 1150l-1 2M812 1203l-1 1M869 992l-2 1M859 1182l0 1M858 1083h0M873 1094h0M851 1190l0 1M872 1159l-1 2M801 1163l0 1M845 989l1 1M811 1151l0 2M969 1197l0 1M899 1160h0M962 1195l-1 1M974 1222l0 1M952 1163h0M977 1204h0M955 1205l1 0M975 1190l2 1M897 1195l0 1M903 1182h0M943 1188l1 1M949 1163l-1 1M970 1214h0M977 1197l-1 0M983 1217l-1 1M943 1186h0M934 1197l-1 2M913 1178l-1 0M959 1201l0 1M924 1195l1 1M965 1196l1 0M960 1170l1 0M917 1184l1 0M941 1203l-1 0M958 1213l1 2M914 1188h0M952 1210l-1 2M938 1168h0M956 1185l-1 0M972 1190h0M977 1212l1 1M917 1179l2 1M972 1210l1 1M979 1181l1 1M967 1209l2 0M921 1187l2 1M973 1217l0 1M930 1169h0M957 1201h0M915 1197l-1 1M932 1184l1 1M969 1189h0M961 1209l0 1M923 1152l-1 0M960 1179l0 1M912 1173l1 1M953 1191h0M959 1215l0 1M903 1195h0M924 1076l-1 0M919 1101l-1 2M960 1090h0M899 1080l0 2M953 1063h0M939 1102l0 2" stroke="#c20838" stroke-width="3.6" stroke-linecap="round" fill="none"/><path d="M123 1038l1 1M140 993l1 1M151 1000l1 0M104 1021l0 2M129 974l1 1M136 1057l1 1M141 1007l-1 0M135 998l-1 2M88 1081l2 0M98 998l-1 1M100 1009h0M94 984l1 1M117 977l1 1M77 987l0 2M89 1043h0M107 1003h0M67 1013l-1 1M105 1062l2 1M97 1034h0M78 1035h0M144 1012l0 2M100 977l-1 0M88 986h0M86 996l-2 1M142 1035h0M94 980l2 0M128 994l-1 1M142 1020l0 1M110 1040l-1 0M109 990l-1 1M116 987l2 1M133 1004l-1 0M110 1035h0M112 1162h0M92 1142l1 1M102 1166l-2 1M108 1173h0M117 1048l-1 1M150 1024l2 0M146 1058l0 1M97 1102h0M92 1041l0 1M118 1128l0 1M105 1137l2 1M124 1086l1 1M106 1166h0M131 1135l2 1M138 1133l-1 0M214 1012l1 0M190 1030h0M252 978l0 2M207 961l1 0M215 1023h0M208 1090l1 1M196 954l1 1M233 1043l0 1M200 1004l-1 0M225 983h0M218 1009l0 1M167 983h0M178 1059h0M175 987l1 1M230 1094l1 0M195 1059l0 1M232 995l1 1M203 975l1 1M227 984l1 2M241 951l-2 1M182 1034l-1 2M239 1084l0 1M227 1061l-1 0M181 1035h0M236 1001l-1 0M203 997l1 1M253 1001h0M182 945l-1 2M222 1093l2 1M215 1030h0M174 1027l0 1M239 1042l-1 2M229 957l1 0M170 992h0M235 1021h0M219 1088l1 1M225 993l1 0M221 1015h0M182 1136h0M172 1080l0 2M228 1112l-1 0M205 1186l2 1M223 1149l1 1M169 1087h0M226 1135h0M224 1192h0M192 1028l1 1M217 1060l-1 1M242 1194l-1 0M231 1106l0 1M226 1130h0M219 1061l1 1M202 1147l1 0M254 1094l1 1M225 1191l1 0M230 1189l-2 1M233 1147l-1 1M248 1084l0 1M196 1125l-2 1M250 1085l0 1M230 1163h0M192 1132l1 0M234 1218l-1 0M245 1002l1 0M247 1062h0M221 1068l1 0M177 1137l-2 1M199 1203h0M244 1114l1 2M345 1070h0M322 1024h0M333 1115l-1 0M273 1088l1 0M333 1068l-2 0M333 1184l-1 0M351 1142l-1 1M289 1159h0M339 1033h0M332 1084l0 1M293 1108l1 1M280 1130l0 1M342 1150l1 0M346 1094l1 2M298 1090h0M277 1107l-1 1M300 1133l0 1M311 1111l-2 1M278 1025l0 1M335 1146l1 1M300 1108l1 0M281 1006h0M290 1117l-2 1M293 1135l-2 1M314 1113l-2 1M328 1156l0 1M307 1146h0M316 1090l0 1M358 1066l1 2M312 1023h0M354 1204h0M328 1185l-1 1M352 1152l0 1M290 1190h0M353 1219h0M351 1185l0 1M317 1208l-1 0M432 1005h0M413 1077l0 1M430 1038l1 2M455 1103l-1 1M393 1006l0 1M461 1056h0M443 985l-1 1M440 1041l2 1M437 1044l0 1M418 1066l-1 0M397 1073h0M442 1075l-2 1M416 993l-2 1M401 1099l0 1M416 1068h0M398 1009l0 1M432 1051l0 1M414 1030h0M416 1008h0M424 1002h0M399 1053l-1 1M451 1020l1 0M425 1039l1 0M440 1097h0M447 1062l-2 1M458 1078l1 0M409 1055l2 1M403 1062l2 1M385 1026l-1 1M461 1049l-1 0M460 1059l-1 2M410 1043h0M398 994h0M441 1105l0 2M392 1083l0 2M386 1126h0M406 1178l0 1M387 1145l0 2M409 1192h0M421 1045l-2 1M383 1193l1 1M452 1060h0M437 1105l-2 0M446 1127l0 1M458 1179l-1 2M433 1136l-1 0M380 1121l-1 1M384 1198h0M434 1085l1 2M416 1119l1 0M541 1119l0 2M479 1138l-1 0M530 1141l1 2M530 1080l-2 0M496 1129l0 2M553 1147l2 1M531 1087l-2 1M563 1094l0 1M545 1101l2 0M526 1030l-1 1M561 1056l-1 1M543 1113l0 2M490 1110l0 1M488 1042h0M549 1083l1 0M521 1049l-1 1M542 1084h0M497 1099l-1 1M498 1155l2 1M506 1067l2 1M542 1115l0 1M544 1079l0 1M515 1024l-2 0M555 1008l-1 1M487 941l-1 1M493 1024l0 1M555 1048l2 1M639 1116l-1 2M633 1109l1 0M652 1119h0M604 1096h0M645 1097l-2 0M622 1160l-1 1M616 1051h0M655 1106l-1 1M663 1134l-1 2M668 1177l-1 1M643 1166l-1 0M624 1052l-1 0M625 1145l-1 1M613 1040l0 1M605 1087l2 1M659 990l-2 0M594 1109l1 1M644 1113h0M658 1049l0 1M638 1142l2 0M615 1104l2 0M624 1149h0M624 1171l-1 1M642 1121l1 0M637 1119l-1 0M593 1118l-2 1M627 1209l-1 1M651 1110l0 1M669 1123h0M656 1154h0M660 1138l-2 1M648 1170h0M655 1024l1 0M732 1173l2 1M761 1202h0M747 1203l1 2M727 1195l2 0M742 1173l1 1M771 1227l-1 2M761 1193h0M724 1174l1 1M772 1173l-1 1M733 1198h0M731 1186l0 2M773 1223l-2 0M701 1190h0M745 1180l-1 1M694 1197h0M749 1187h0M705 1166h0M750 1187l0 1M742 1211l1 1M748 1133l1 1M698 1189l1 1M714 1159l1 1M700 1195h0M745 1206l-2 1M774 1210h0M712 1178h0M718 1196l0 1M764 1156l1 0M775 1219l1 2M712 1058l0 1M697 1053l0 1M722 1014l1 0M707 952l-1 0M726 1073l1 0M855 1192l1 0M875 1130l-1 1M858 1097l1 0M808 1082l1 0M813 1114h0M803 1024l1 1M802 1157h0M857 1136l1 2M807 1017l-1 2M814 1154l-1 0M876 1134l2 2M863 1153h0M864 954l0 1M871 1105l1 0M834 1090l0 1M832 1153l-1 1M848 1127l1 0M822 1137l-1 1M857 1055l-1 0M827 1095l0 1M871 1099l2 1M812 1091l-1 1M808 1180h0M837 1205h0M870 1102l-1 0M861 1125l2 1M820 1145l-1 1M820 1191l-1 0M862 1076h0M794 1103l-2 1M814 1135h0M863 1172l1 1M872 1107h0M877 1114l0 2M866 1127l-1 1M869 1174h0M819 1166l-1 0M859 1072l-1 0M853 1145l0 1M863 1190l0 2M873 1049h0M867 1089l1 0M821 1131h0M806 1110h0M941 1192l-1 2M925 1201h0M907 1198h0M896 1179l1 2M973 1203h0M962 1196l0 1M938 1179l-1 1M966 1194l-1 0M935 1182l2 0M971 1134l0 1M949 1050l0 1" stroke="#c818a0" stroke-width="3" stroke-linecap="round" fill="none"/><defs><linearGradient id="ga" x1="0" y1="0" x2="0" y2="1"><stop offset="0" stop-color="#cfcfcf"/><stop offset="1" stop-color="#6e6e6e"/></linearGradient></defs><path d="M494 760H525.6V803H541.2L509.8 836.5L478.9 803H494Z" fill="url(#ga)"/><text x="1" y="1343.5" font-size="54" fill="#231815" font-weight="bold">d</text><text x="206.5" y="1341.3" font-size="29">L1</text><text x="317" y="1341.3" font-size="29">L2/3</text><text x="522.5" y="1341.3" font-size="29">L4</text><text x="655" y="1341.3" font-size="29">L5a</text><text x="765" y="1341.3" font-size="29">L5</text><text x="860.5" y="1341.3" font-size="29">L6</text><text x="928.5" y="1341.3" font-size="29">L6b</text><path d="M179.4 1349.8L198.9 1323.3M236 1349.8L255.5 1323.3M437.3 1349.8L456.8 1323.3M619 1349.8L638.5 1323.3M711.5 1349.8L731 1323.3M835.5 1349.8L855 1323.3M904.5 1349.8L924 1323.3M980.5 1349.8L1000 1323.3" stroke="#231815" stroke-width="3.2" fill="none"/><rect x="40.5" y="1346" width="959.5" height="363.7" fill="#000"/><path d="M161 1351L132.8 1381L116.9 1411L105.8 1441L94.7 1471L85.7 1501L76.8 1531L71.7 1561L66.5 1591L63.1 1621L60.5 1651L57 1686H988V1351Z" fill="#161616"/><path d="M423 1579l0 1M930 1486l0 1M684 1383l-1 0M817 1480l1 0M706 1474l-2 0M343 1649l-1 2M663 1650h0M486 1517l-1 1M687 1609l1 2M620 1476l1 1M865 1405l0 1M281 1569h0M189 1586h0M761 1390h0M789 1649l-1 1M308 1554l2 1M593 1442h0M643 1521l0 1M365 1507l0 1M695 1407h0M766 1464l0 2M403 1605l0 2M896 1430l0 1M689 1646l2 0M209 1440l0 1M926 1450l1 0M518 1359l-1 0M825 1357l1 1M387 1475l-1 0M343 1627l0 1M642 1675l-1 1M254 1428l1 1M461 1449l0 1M659 1454l-2 0M437 1570l2 1M837 1644l0 2M626 1439l-1 0M377 1471l-2 0M889 1374l0 1M486 1566l2 0M726 1519l1 2M260 1678l0 1M598 1609l-1 1M451 1559h0M579 1495l0 2M277 1485h0M524 1405h0M808 1661l2 0M805 1384l1 1M510 1542h0M828 1357h0M163 1628h0M533 1626l-1 1M640 1437l1 0M743 1426l-1 0M598 1611h0M337 1653h0M657 1574h0M685 1418h0M649 1365h0M873 1567h0M695 1372h0M845 1458l0 1M554 1410h0M355 1432l1 1M286 1424h0M478 1382l-1 0M710 1571h0M183 1676l1 1M379 1459l0 2M464 1598l0 1M249 1595l-1 0M549 1668l-1 0M897 1357l-1 0M488 1570h0M468 1535l1 2M208 1518h0M906 1527l-1 1M457 1593l-1 1M141 1648l1 0M474 1575h0M515 1454h0M946 1422l-1 2M570 1388l0 1M495 1443h0M656 1424l-1 0M846 1513l1 1M387 1541h0M233 1648h0M808 1386l1 0M686 1650l-1 1M526 1424h0M286 1514h0M339 1503l1 1M315 1584l1 0M790 1577h0M846 1624l0 2M627 1465h0M763 1507l1 1M239 1549l0 1M536 1660l-1 0M722 1523l1 1M503 1591h0M460 1435l-2 0M361 1577l0 1M373 1563l1 2M149 1636l-1 1M819 1620h0M708 1683l-2 0M163 1571l2 0M409 1643h0M669 1392l0 1M326 1575h0M364 1368l-2 0M615 1571l0 1M282 1578l1 1M773 1474l0 1M423 1394l2 0M692 1523l1 1M866 1395h0M889 1408l1 0M645 1466l0 1M279 1367h0M408 1684l1 0M767 1472h0M452 1353l0 1M207 1517l0 1M192 1485l1 0M259 1391l-1 1M687 1674l-1 0M671 1356l0 1M648 1521l0 2M771 1541l-1 0M490 1584l0 1M565 1495h0M225 1402l-1 2M409 1356l1 0M492 1667h0M290 1507l-2 1M270 1462l1 0M381 1552h0M517 1538l-2 0M325 1356l1 0M263 1365h0M397 1662l2 0M855 1505h0" stroke="#303030" stroke-width="5" stroke-linecap="round" fill="none"/><path d="M188 1678h0M560 1458h0M419 1491l-1 0M567 1609l-1 1M620 1576h0M611 1580l1 1M726 1630h0M972 1372l0 1M874 1548l-2 0M520 1518h0M873 1397l-1 2M703 1537l1 0M409 1512l1 1M175 1585l0 1M381 1382h0M440 1566l1 0M266 1542h0M644 1604l-2 0M536 1496h0M473 1416l0 1M294 1424l-2 0M415 1492l0 1M392 1448l-1 1M347 1631l-1 1M748 1651h0M392 1375l-1 1M255 1361h0M430 1538l1 1M467 1600l0 1M846 1676h0M902 1359h0M370 1428l1 0M251 1593l1 0M231 1459h0M266 1356h0M435 1371l2 0M188 1461l1 2M564 1609l1 1M253 1626h0M558 1467l1 1M272 1422l1 2M365 1356l1 1M822 1613l0 1M408 1402l0 2M408 1426l2 0M533 1403l1 0M816 1566l2 0M291 1515l1 2M250 1415h0M780 1638l1 1M324 1403l-2 1M606 1557l-1 1M355 1642l0 2M564 1564l1 0M524 1484l0 1M222 1392l-1 0M389 1416l1 1M839 1654h0M703 1498h0M690 1380h0M297 1682h0M592 1454h0M298 1540h0M729 1427l0 1M394 1495l0 2M813 1630l-1 1M395 1428h0M297 1379l1 1M477 1596h0M582 1656h0M203 1581h0M391 1494h0M668 1460h0M333 1484l-1 1M854 1677l-1 1M656 1509l-1 1M306 1673l1 0M305 1561l-1 0M680 1624h0M420 1568l1 0M413 1584h0M709 1667l0 1M952 1355l-1 1M423 1501l2 1M890 1509l1 0M748 1366l1 0M914 1474l1 1M614 1428l-1 0M148 1547h0M425 1527l1 1M625 1647l-1 1M290 1673l2 1M558 1360l2 0M309 1496l0 1M326 1495l1 1M718 1675l1 1M854 1576l2 0M179 1466h0M539 1362l1 1M380 1440l1 1M218 1392l-1 0M731 1465l-1 1M907 1504l-2 1M268 1682l1 0M243 1586l0 1M268 1571l0 1M827 1541h0M334 1440h0M315 1375l1 1M244 1369l0 1M401 1495l-1 0M588 1527l0 1M688 1478l0 1M570 1373l0 1M538 1601l-1 0M489 1421l-2 0M830 1626l-1 1M788 1523l1 0M338 1577l0 1M825 1676h0M234 1503l-2 1M227 1432h0M373 1629l-1 0M261 1531l1 1M880 1432l0 1M414 1613h0M214 1498l-1 2M630 1663h0M639 1423h0M429 1486l-1 0M179 1441l1 1M503 1464l2 1M232 1680h0M537 1541h0M211 1660h0M423 1594l-2 1M174 1636l1 1M339 1675l-1 0M416 1395l0 2M179 1588l2 0M157 1669l0 1M334 1522l-1 0M487 1473l0 1M574 1369l2 0M247 1398l1 0M646 1371h0M750 1428l1 1M765 1486l1 0M838 1359h0M597 1640l1 0M958 1361l-1 1M463 1387l2 1M320 1486l-2 0M655 1578h0" stroke="#2a2a2a" stroke-width="7" stroke-linecap="round" fill="none"/><path d="M738 1527h0M791 1454l0 1M431 1522l0 1M846 1397l1 1M787 1665l0 2M815 1543l1 0M743 1585l0 1M771 1595l0 1M442 1572l1 0M199 1509l0 1M203 1630l-2 1M914 1482h0M425 1497l0 2M819 1558l-1 1M761 1588h0M774 1617l0 1M285 1506l-1 1M587 1356h0M841 1553l0 1M471 1660h0M287 1596l-1 1M407 1633h0M285 1458l-1 1M758 1406h0M525 1627l1 1M488 1384h0M623 1601l0 1M497 1387l1 0M579 1371l0 1M692 1352h0M571 1402l2 1M893 1529h0M410 1624h0M534 1652l1 1M191 1562l0 1M811 1558l-1 1M236 1671l-1 1M892 1439l-1 0M334 1389h0M306 1367l0 1M530 1646l0 1M812 1510l1 1M647 1424l0 1M401 1463l2 1M300 1681h0M517 1662h0M783 1361l1 1M701 1390l0 2M265 1615h0M511 1490l1 1M838 1508l-1 1M633 1382l1 1M678 1403l2 1M154 1571l-2 0M676 1657l0 1M205 1422h0M754 1516l-2 1M334 1479l-1 1M788 1507l-1 1M420 1570l0 2M376 1535h0M219 1432l1 1M675 1427h0M205 1498l0 1M478 1650l-1 1M791 1580l-1 1M275 1619l2 1M166 1607l-1 0M490 1386h0M418 1466l1 1M679 1432l1 0M674 1384l2 0M704 1612l0 1M317 1392h0M303 1575l-1 0M513 1580h0M461 1473l0 1M529 1558l-1 1M732 1625l0 2M791 1481l-2 1M741 1410h0M657 1679l0 1M713 1590l-2 1M433 1510h0M206 1668l-1 1M222 1681l-1 1M330 1492h0M406 1671l-1 0M260 1619l1 1M513 1368h0M857 1626l-1 0M975 1367l1 1M915 1414l-1 0M689 1614l-1 1M857 1659l1 0M510 1470l1 1M523 1558h0M505 1364l-1 0M914 1366l-1 1M519 1385l1 1M427 1411h0M615 1489l0 1M647 1480h0M942 1403l0 1M267 1527l1 1M689 1482h0M849 1671h0M426 1479l0 2M890 1494h0M490 1457l-1 1M320 1557l-1 0M711 1547h0M376 1557l0 1M233 1656l-1 1M188 1571l-1 1M718 1529l1 0M942 1368l-1 2M703 1518l1 1M731 1451l-1 1M825 1558l0 1M788 1539l0 1M422 1633l-1 1M176 1474h0M321 1413l1 1M844 1499h0M823 1424h0M820 1461l1 1M243 1407l0 1M427 1661h0M725 1424l0 1M270 1459l1 0M305 1558l1 1M754 1395l-1 1M664 1524l1 1M924 1493l-2 0M784 1633l1 1M295 1522l1 0M761 1654h0M465 1443l0 1M184 1629l1 1M696 1469l0 1M477 1574l0 1M607 1583h0" stroke="#303030" stroke-width="7" stroke-linecap="round" fill="none"/><path d="M944 1422l0 1M797 1594h0M156 1656l1 1M326 1584l-1 1M269 1551l-1 1M374 1448l-1 0M521 1489h0M438 1472l1 2M167 1623l1 1M758 1464l-1 0M664 1673l0 1M876 1411l0 1M320 1682l-1 1M642 1512h0M243 1500l2 1M214 1508h0M405 1658l0 1M410 1615l2 0M945 1416h0M754 1578l-1 0M199 1493l-1 2M750 1682l0 1M498 1620h0M605 1522l1 0M447 1536l1 1M183 1656l0 1M805 1597l0 1M664 1387l1 0M735 1629l1 2M836 1399l1 1M791 1390l-1 1M753 1442l-1 2M844 1634h0M737 1365l0 1M259 1598h0M920 1491l2 0M403 1408h0M417 1415l0 1M543 1442h0M703 1440l-1 1M910 1496l-1 1M865 1395l1 1M488 1365l1 1M783 1641h0M505 1650l1 1M221 1613l-1 0M601 1478l0 1M886 1420l1 1M333 1377l1 2M774 1501l1 0M622 1610l0 2M885 1588h0M473 1624h0M351 1460h0M506 1403l0 1M373 1437l0 2M877 1367l0 1M458 1365l-1 0M146 1617l-1 1M400 1656h0M437 1445h0M892 1394h0M626 1435h0M722 1626l-1 1M279 1629l-1 1M330 1642l-1 1M638 1470l0 2M162 1592l0 1M649 1669l-1 0M812 1436h0M475 1636h0M182 1503l-2 0M907 1480l-1 1M579 1565l-1 0M895 1472l-1 0M912 1525h0M349 1472h0M811 1404h0M249 1382h0M275 1663l1 1M219 1598h0M565 1470l1 0M204 1583l-1 1M257 1529l-1 1M771 1443h0M573 1480l0 1M286 1432l-1 1M705 1507l-1 1M625 1544l1 0M210 1669l-1 2M238 1437l-1 0M696 1506l0 1M640 1546l2 0M816 1449l-2 0M761 1634l-1 0M878 1394h0M793 1444l-1 1M760 1489l1 1M350 1383l-1 0M825 1595l-2 1M642 1362h0M810 1379l0 1M347 1602l1 1M510 1625l-1 1M790 1435l1 0M778 1609l-1 0M420 1384l0 2M532 1363h0M648 1358h0M779 1567l1 1M928 1484l0 2M139 1658l0 1M198 1419l0 1M183 1510l0 1M406 1680l2 1M461 1434l-1 0M827 1570h0M707 1388l0 1M430 1656h0M377 1656l-1 1M599 1472l1 1M599 1524l2 1M817 1637l1 1M237 1427l-1 1M344 1455l1 1M847 1544l-1 1M824 1648l0 1M318 1453l0 1M821 1370l-1 0M442 1371l-1 0M210 1557l-1 1M605 1461l-1 0M615 1484l0 1M377 1406h0M858 1414h0M855 1553l1 0M311 1401h0M629 1558l0 1M479 1397l-1 1M557 1551l0 1M941 1357l-1 2M382 1670l0 1M342 1676h0M704 1488l-1 1M907 1434h0M666 1399h0M489 1424h0M370 1567l0 1M886 1416l0 1M638 1418l-2 1M658 1542l-1 1M612 1585h0M501 1610l-1 0M964 1355h0M148 1680l1 0M769 1587l1 1M204 1540l-1 1M315 1385l1 2M822 1510l-1 1M568 1651l-1 1M667 1380h0M470 1528l1 0" stroke="#303030" stroke-width="6" stroke-linecap="round" fill="none"/><path d="M943 1630l1 1M169 1416l-1 1M78 1543l1 0M129 1454h0M922 1572l0 1M156 1391l0 2M881 1666l0 1M942 1639l1 2M905 1607l0 2M922 1663l0 1M985 1365h0M134 1462h0M948 1468l0 1M139 1521h0M97 1604l1 0M172 1353l-1 1M152 1374h0M133 1584l0 2M966 1437l-1 1M969 1603l-1 2M946 1482l1 0M972 1650l2 0M978 1436l0 1M899 1672l1 1M94 1599l0 1M99 1514l0 2" stroke="#2c2c2c" stroke-width="5" stroke-linecap="round" fill="none"/><path d="M976 1362h0M499 1517l-2 1M855 1371l-1 0M506 1373l1 1M485 1396l-1 1M566 1657l1 0M542 1636h0M446 1679h0M408 1508l-1 1M561 1651l-1 1M845 1441h0M479 1681h0M347 1467l-2 1M759 1651h0M706 1578l-1 1M780 1667l1 1M373 1526l-1 0M615 1556l0 1M872 1546l1 1M583 1431l1 0M895 1561h0M643 1649l0 1M497 1651l-1 0M711 1601l0 2M571 1464l1 1M442 1478l-1 1M356 1637l1 0M794 1375h0M474 1525l0 2M912 1396l0 2M302 1352l-1 1M600 1658l-1 1M619 1429l0 1M421 1542l-1 2M682 1435l0 2M916 1391l-1 1M303 1356l1 1M287 1584h0M623 1409h0M866 1377h0M643 1529h0M200 1414h0M710 1405l-1 1M531 1570l0 1M311 1589l1 0M560 1449h0M677 1486l0 1M689 1478h0M606 1379l1 2M962 1376l-2 0M153 1605h0M607 1396l1 1M335 1383l1 1M192 1535h0M515 1501l-2 0M585 1505l1 0M750 1418l1 1M508 1670l-1 0M273 1624h0M785 1498l1 0M741 1516h0M772 1585h0M415 1372l0 1M728 1463l1 0M885 1491h0M783 1584l0 2M605 1556l1 1M171 1473l1 2M546 1458l1 0M442 1433l1 1M934 1367h0M719 1538h0M578 1567l-1 0M401 1539l-1 0M881 1384l1 2M877 1579h0M496 1519l2 0M743 1435h0M268 1519l-1 1M590 1570l0 1M595 1413l1 0M326 1565h0M870 1586l-2 0M214 1659l1 1M547 1683l1 0M693 1542l1 2M616 1495l0 1M581 1433l0 2M813 1422l1 0M310 1365l1 1M606 1408l0 1M710 1655h0M554 1599h0M380 1534l1 1M433 1535h0M895 1445h0M472 1612l-1 1M678 1592l0 1M695 1639l1 1M379 1430l1 0M649 1594l1 1M239 1536l1 1M729 1679l0 2M819 1487h0M399 1634h0M399 1677h0M283 1573l1 1M731 1608l-1 1M588 1583l0 2M428 1678h0M256 1647l-1 0M713 1626l1 1M338 1564h0M544 1650l-1 0M594 1580l-1 1M748 1556l0 1M716 1429l-2 1M593 1439h0M435 1467l0 1M267 1590h0M554 1474l0 1M324 1616l0 1M317 1594h0M706 1414l0 1M804 1535l0 1M718 1431l0 1M830 1470l0 1M625 1576l0 1M439 1666l1 0M890 1475l0 1M748 1640h0M617 1533l0 1M465 1644l1 1M492 1392h0M237 1674l0 1M872 1610h0M516 1402l0 2M662 1650l-1 1M664 1568h0M495 1403l1 0M184 1562l-2 1M442 1462l2 1M297 1467l-1 0" stroke="#000000" stroke-width="6" stroke-linecap="round" fill="none"/><path d="M368 1484l-2 0M677 1353h0M727 1512h0M542 1476l1 0M294 1523l2 0M569 1684l-1 0M881 1469l0 2M705 1517l1 0M151 1556h0M752 1594h0M185 1563l0 2M225 1649l1 1M175 1595l1 1M784 1452l-1 0M381 1640l-1 1M488 1374h0M712 1363l0 1M820 1539h0M826 1368l0 1M815 1615l1 1M244 1653h0M677 1609h0M330 1448l-2 0M546 1496h0M350 1656l1 1M572 1603l-1 0M481 1665h0M358 1512l1 1M685 1544l0 1M306 1354h0M506 1393l1 0M512 1453h0M708 1683l0 1M178 1589h0M291 1449l0 2M323 1579l0 1M421 1453l0 2M815 1433l1 0M293 1595l-1 0M274 1555l-1 1M822 1476h0M502 1576l0 1M622 1564l-1 1M399 1355l1 1M560 1532h0M154 1597l-2 0M303 1459l-1 0M185 1512l0 1M714 1496l1 1M478 1520l1 0M726 1441l-1 1M857 1653l1 0M884 1561l-1 1M530 1551l1 1M418 1391l-1 1M299 1412l2 1M562 1494l0 1M601 1522l-1 0M242 1367l2 0M945 1400h0M149 1584l1 1M352 1415l1 0M732 1446l1 0M298 1563l0 2M900 1459l1 0M597 1481h0M382 1568h0M171 1598l1 0M644 1641h0M575 1437l0 1M435 1596h0M314 1519l-1 1M179 1519h0M685 1562l0 2M451 1591l1 1M782 1661h0M397 1425l0 2M302 1440h0M459 1365h0M679 1536h0M586 1353l-1 0M806 1456l2 0M917 1420h0M243 1555l0 1M956 1378l0 1M444 1469l-1 0M428 1387l-1 0M499 1664l1 0M519 1605l1 1M619 1550l2 0M389 1404l-1 1M137 1594l0 1M483 1567h0M255 1544l-1 2M254 1431l0 1M335 1523h0M825 1415l1 1M439 1479h0M518 1665h0M883 1374h0M868 1414l-2 0M379 1606h0M439 1496l-1 1M801 1505l1 1M518 1416h0M621 1531h0M851 1369h0M520 1633h0M320 1450l0 1M158 1496l0 2M744 1520h0M626 1384l1 1M793 1671h0M557 1397l-2 0M880 1407h0M669 1663h0M578 1482l-2 0M501 1528l-1 1M679 1400l-1 1M183 1538l-1 0M468 1583h0M338 1362l-2 0M336 1678h0M507 1357h0M438 1492l-1 0M281 1491h0M266 1435l0 1M192 1426l-1 1M520 1563l1 1M376 1576l1 0M886 1438h0M804 1683h0M380 1580h0M416 1609h0M353 1663l-1 1M350 1464l-1 0M630 1636h0M532 1409l0 1M695 1671l0 1M342 1602l0 2M852 1587l1 1M285 1417l-1 1M533 1533h0M234 1380l-1 0M749 1368h0M772 1585l1 2M415 1354l1 1M367 1659l1 0M323 1574h0" stroke="#222222" stroke-width="5" stroke-linecap="round" fill="none"/><path d="M703 1384l-1 0M486 1590h0M787 1440l1 1M368 1651l1 1M805 1668l1 0M603 1578l0 2M404 1602l0 1M261 1493l-1 1M637 1597h0M379 1573l1 0M517 1493l1 1M382 1549l0 1M860 1511l-1 1M371 1631l-1 0M723 1651h0M269 1459h0M402 1637l0 1M306 1521l-1 0M228 1460h0M420 1472h0M666 1573l-1 1M578 1375h0M769 1595l0 2M818 1643l1 0M395 1676h0M168 1556l-1 0M512 1461l-2 0M732 1444l0 1M818 1587l2 0M477 1460l-1 1M668 1505l0 1M675 1481h0M546 1474h0M752 1551l-1 1M404 1596l-2 0M582 1375l-2 0M748 1379l-2 0M670 1481l0 2M937 1405l-1 1M280 1382l1 0M761 1570l-1 1M161 1596h0M366 1453l-1 0M443 1612h0M578 1433l1 1M265 1500l1 1M525 1681h0M471 1368l-1 0M631 1357l1 1M183 1535l-1 0M307 1642l1 0M405 1455l-1 0M509 1612l1 1M266 1649l1 1M470 1394h0M388 1586l0 1M149 1581h0M765 1551l1 2M778 1399h0M249 1446l0 1M674 1418h0M305 1409h0M847 1406l-2 0M232 1608l-1 2M527 1590l2 0M436 1664l1 1M428 1667l1 0M309 1459l1 0M823 1467h0M898 1403l0 1M542 1684h0M472 1469l-2 1M252 1384l0 1M518 1428l0 1M531 1600l0 1M495 1352l-2 0M265 1567l1 0M402 1583l1 0M607 1560h0M360 1550l-1 1M323 1547l0 1M210 1577h0M344 1631l0 1M448 1522l-1 1M944 1401l0 1M877 1510l0 2M259 1482l0 1M840 1553l-1 2M398 1481l1 0M207 1513l0 1M621 1565h0M374 1628l0 2M628 1536l0 2M300 1379h0M836 1426l1 1M853 1374h0M596 1680l-1 1M791 1410l0 1M201 1389l-1 1M530 1379l0 1M142 1588l-1 1M332 1548h0M351 1456l-2 0M398 1473l-1 1M869 1632h0M495 1494h0M492 1636h0M366 1612l0 1M309 1515l-2 1M738 1517h0M627 1425h0M565 1643h0M675 1419l1 1M159 1492l1 1M452 1653l-1 1M328 1668l-2 1M791 1437l-1 0M799 1439l1 0M582 1490l1 1M659 1566h0M918 1447l-2 0M561 1439l-1 1M476 1373l0 2M448 1370l-2 0M281 1588h0M263 1534l-1 0M883 1599h0M239 1601h0M794 1609l-2 0M567 1451h0M529 1364l0 1M494 1451h0M379 1650h0M232 1570h0M474 1475l-2 0M428 1491l-1 1M611 1633l-1 1M609 1456h0M902 1391l-1 0M771 1533l1 2M617 1359l1 0M726 1532l0 1M382 1668l1 1M598 1413l0 1M692 1597l-1 1M401 1598l-1 0M300 1622l1 1M399 1634l1 1M928 1388l1 1M206 1546l2 0M493 1388h0M745 1466l1 0" stroke="#050505" stroke-width="6" stroke-linecap="round" fill="none"/><path d="M978 1417l-1 1M97 1574l1 0M878 1684l-1 1M975 1678l-1 2M966 1499l-1 1M947 1558l-1 1M148 1521l1 1M895 1643h0M940 1549l-1 2M966 1438l-1 1M142 1426h0M889 1659h0M70 1675l1 2M117 1658l1 0M105 1641l1 0M135 1522l0 1M946 1492l1 0M110 1615l1 1M91 1493l-2 1M99 1665h0M892 1658l-2 1M93 1643h0M940 1472l0 2M148 1521h0M962 1576l1 1M101 1578l1 2M945 1606l0 1M83 1608l1 1M133 1507h0M906 1641l1 1M955 1637l-1 1M76 1568l-1 0M111 1615l0 1M982 1534l-1 1M162 1383h0M114 1530l1 0M117 1639h0" stroke="#262626" stroke-width="5" stroke-linecap="round" fill="none"/><path d="M790 1538l2 1M513 1548l1 1M701 1675l0 2M494 1431l0 1M243 1512l1 1M535 1406h0M583 1403h0M273 1571l0 2M322 1599l2 1M379 1353l1 1M524 1536l-1 0M725 1679l0 2M663 1663h0M811 1438h0M234 1428h0M444 1457h0M511 1654l0 1M480 1668l0 1M450 1636h0M259 1418l1 0M500 1363l-1 0M405 1376l0 1M547 1404l1 1M326 1619l1 1M821 1612l-1 1M589 1621l-1 1M750 1551h0M190 1674l-1 1M605 1528h0M711 1636l1 0M738 1429l-2 0M683 1520l-2 1M574 1589l-1 0M884 1555l0 1M346 1590l-2 0M879 1423l-1 0M572 1662h0M666 1565l0 2M316 1644l1 1M703 1384h0M592 1412l1 1M467 1463l0 1M509 1614h0M859 1451l0 1M876 1367h0M728 1486l1 1M365 1623l1 1M204 1568l2 0M702 1511l2 0M508 1599l1 0M591 1645l-2 0M527 1597l0 1M429 1442l-2 1M888 1490l-1 0M415 1364l-1 1M795 1652l1 1M595 1452l0 1M895 1391l-1 1M382 1379l0 2M398 1661l-1 2M459 1416l1 2M640 1518l1 0M357 1509l-1 2M308 1529l1 1M632 1476h0M413 1374l1 0M921 1409l1 0M870 1551l1 2M781 1557h0M325 1532h0M169 1473h0M632 1587l1 0M693 1597h0M213 1676h0M928 1408l1 0M261 1524l0 1M641 1488l-1 0M645 1374l-1 1M736 1385l1 0M354 1593l1 1M601 1567h0M770 1508l-1 0M404 1574l0 1M787 1581l1 1M663 1401l-2 0M669 1629l0 1M481 1606h0M372 1542h0M631 1444l1 0M775 1593l-1 0M158 1644l1 1M540 1428l2 1M549 1463h0M410 1401l-1 2M187 1639l2 0M297 1645l0 1M540 1377l0 2M708 1471l0 1M687 1528l0 2M275 1654l-1 0M657 1483h0M486 1525l-1 1M685 1683l0 1M756 1468l-1 0M670 1527h0M510 1588l0 1M260 1604l-1 1M489 1421l0 1M643 1681l0 1M287 1442l-1 0M241 1512h0M263 1478l2 1M756 1471l1 1M581 1482l1 2M261 1449l-1 1M161 1496l-2 0M297 1590l0 1M650 1654l0 1M261 1559h0M720 1502h0M793 1535h0M378 1371h0M254 1384l-1 0M539 1546l-1 1M801 1468h0M246 1620l-1 1M651 1602l0 1M300 1517l0 1M329 1472l1 1M445 1462l2 0M790 1354l1 1M319 1519l1 1M847 1488l0 1M678 1635h0M349 1553l-2 0M611 1395l-1 1M793 1449l1 1M416 1526l1 1M318 1641h0M412 1368l0 1M686 1681l0 2M280 1378h0M381 1526h0M330 1369h0M808 1453l0 1M521 1600l-1 1M257 1667h0M148 1560h0M691 1391l-1 1M838 1457l1 1M498 1558h0M598 1515h0M229 1396l0 2M609 1472l1 0M768 1411l2 1M733 1453l1 0M389 1378l1 1M681 1639l1 1M782 1637l1 2M700 1456l-1 1M431 1391h0M491 1588l0 1M334 1523l0 1M380 1505h0M931 1432l-2 1M160 1649l-1 1M261 1669h0M801 1524l2 1M331 1363l0 2" stroke="#2a2a2a" stroke-width="6" stroke-linecap="round" fill="none"/><path d="M980 1396l-1 1M911 1542l0 1M976 1468l-1 1M74 1653h0M957 1549l-1 0M122 1682l0 2M170 1441l0 1M121 1436h0M937 1622h0M909 1543l1 1M116 1452h0M922 1624l1 1M98 1520l1 1M945 1580l1 2M73 1683l0 1M117 1472l0 1M984 1426l0 2M100 1510h0M153 1455l1 1M81 1547l1 1M106 1617l-1 0M168 1364l-1 1M957 1654h0M931 1512l-1 1M951 1470l-1 0M931 1676h0" stroke="#333333" stroke-width="7" stroke-linecap="round" fill="none"/><path d="M937 1640l0 1M915 1541l-1 1M982 1553h0M96 1547l1 0M876 1678l-2 1M920 1542h0M977 1489l-1 1M912 1674l1 0M129 1499l-1 0M936 1507h0M92 1617h0M134 1414h0M153 1383l0 1M950 1627l0 1M90 1652l1 1M132 1430l-1 1M914 1610l2 0M960 1605h0M919 1559l1 0M80 1661l1 1M943 1515h0M163 1359h0M85 1677l1 0M142 1537h0M933 1534l0 1M131 1532l2 1M973 1611h0M919 1526l1 0M898 1639l-1 1M975 1609h0M133 1452l0 1M961 1593l1 1M928 1663l2 1M953 1535l1 0M916 1595h0" stroke="#3a3a3a" stroke-width="7" stroke-linecap="round" fill="none"/><path d="M545 1637l0 1M348 1367l0 1M877 1489l-1 1M537 1672l1 0M205 1552l-1 2M490 1537l-1 0M324 1506l-1 1M359 1623l1 0M689 1432l0 1M278 1480l-1 1M503 1669h0M709 1618h0M892 1519l-1 0M351 1549l0 1M372 1401l0 1M930 1462l2 1M432 1456h0M196 1400l0 1M398 1506l0 1M774 1352l-1 0M518 1463l1 0M705 1394l-1 2M280 1574l1 0M574 1404l-1 1M200 1533l1 1M750 1445l-1 0M355 1606l-1 0M435 1575l1 1M390 1594l-1 2M588 1639h0M426 1364h0M343 1382l0 2M747 1472l-1 0M818 1577h0M203 1408l0 1M174 1662l-2 1M237 1456l-2 1M338 1552h0M327 1656h0M662 1587l-1 1M564 1515h0M351 1569l0 2M954 1401l1 0M439 1459h0M534 1491l0 2M503 1578l-1 1M791 1511l-2 1M582 1624l-1 0M762 1456l-1 0M454 1403l-2 0M595 1516l1 1M889 1475l1 1M485 1506l-1 1M366 1574l-1 0M730 1434l-1 0M883 1428h0M156 1557l1 0M336 1564h0M585 1447l-2 0M795 1469l-1 0M207 1499l0 1M241 1475l-1 0M445 1499l2 1M228 1353l-1 1M415 1450l-2 1M294 1655l1 1M942 1419l-1 0M220 1547l-1 1M195 1673h0M889 1409l1 2M204 1428l-1 1M728 1646l1 0M390 1403l-1 1M459 1408h0M494 1673l-1 1M233 1510h0M752 1555l-1 0M648 1428h0M788 1460h0M701 1649l-1 0M824 1634h0M913 1448l1 1M175 1601h0M644 1592l0 1M426 1425l-1 1M804 1651l1 1M465 1463l-1 1M604 1638l1 1M212 1462l2 0M529 1362l1 1M212 1582l0 1M339 1583h0M645 1535h0M395 1535l1 1M178 1519l0 1M610 1357l0 2M925 1426l1 1M921 1507l-1 0M490 1656l1 1M720 1673l1 1M248 1546l0 1M651 1388l-1 0M725 1546l0 2M602 1506l0 1M385 1539l0 1M171 1581l0 2M951 1358l0 1M696 1399l0 1M673 1394l-2 1M763 1400l-1 0M373 1590h0M741 1575l-2 1M129 1672l-2 1M767 1450l2 0M226 1465h0M255 1633h0M335 1382h0M496 1431l-2 1M584 1360l-1 1M220 1556l1 1M241 1627l2 1M834 1679h0M884 1392l1 0M309 1507l-1 1M929 1467h0M237 1657l1 0M756 1369l-1 1M357 1361h0M308 1502h0M329 1640l0 1M267 1391l-2 0M825 1564l0 1M329 1485l0 1M647 1465l0 1M389 1559l1 0M547 1610h0M233 1482l1 0M592 1640l1 2M619 1637h0M767 1625l0 1" stroke="#050505" stroke-width="5" stroke-linecap="round" fill="none"/><path d="M785 1599l1 1M343 1493l0 2M404 1532l0 2M877 1407l1 0M451 1457l1 1M906 1412l1 2M337 1459l-1 1M239 1467l0 2M718 1519l-1 0M390 1609l-2 0M249 1402l1 1M528 1678l0 1M809 1414l2 0M501 1598l-1 0M341 1539h0M756 1390l1 0M268 1374l2 1M920 1455l2 0M165 1664l1 1M686 1661h0M756 1360l1 1M490 1378l-1 2M565 1489h0M763 1484l0 1M839 1419h0M615 1374h0M199 1569l2 0M459 1509l1 0M701 1529l2 1M336 1668l1 0M927 1402l-1 1M580 1649l-1 1M336 1368h0M726 1680l0 1M156 1650l0 1M671 1399h0M446 1673h0M526 1426l1 0M364 1669h0M530 1431l1 1M784 1530h0M860 1471h0M253 1432l0 1M269 1447l1 1M533 1436l1 1M543 1503l0 2M414 1606h0M542 1444l0 2M769 1387l-1 1M651 1355l2 0M605 1555l-1 1M316 1558l-2 1M522 1567h0M236 1429h0M443 1655l1 1M520 1478l0 1M301 1631l-1 0M771 1482l0 1M312 1372l0 1M258 1491l1 0M555 1418l1 2M752 1534l0 1M561 1581h0M755 1491l1 1M304 1507l-1 1M506 1417l1 1M526 1456l-1 1M180 1663l2 0M422 1510h0M478 1479l2 1M806 1451l0 1M839 1588l-1 1M237 1375l0 2M391 1456l1 1M619 1520l-1 1M743 1529l-2 0M392 1545l0 1M167 1660h0M871 1442l0 1M238 1377l-1 0M511 1506l0 1M823 1601l-1 1M502 1543h0M769 1510l-2 0M807 1407l0 1M576 1429h0M939 1376h0M433 1591l1 1M651 1353h0M509 1675h0M190 1447l1 1M568 1596l-1 2M745 1498h0M258 1389l1 0M764 1655l-1 1M362 1507l0 1M444 1429l0 1M379 1430l0 1M659 1502l1 1M689 1636l1 1M774 1612l0 2M499 1547h0M400 1632l1 2M253 1524h0M964 1387l1 1M678 1462h0M589 1387h0M944 1426h0M233 1354h0M250 1481l0 1M594 1601h0M436 1440h0M758 1526l0 1M512 1661l0 1M250 1506h0M313 1666l0 1M612 1434l1 1M343 1501l0 1M250 1514l-1 1M159 1622h0M807 1520h0M582 1411l-1 0M626 1537l1 1M189 1592l1 1M842 1482l1 1M762 1655h0M183 1631l0 1M736 1365l1 0M258 1655l1 0M572 1646l-1 0M414 1533l0 1M942 1418l-1 1M195 1664l-1 0M750 1684l1 1M463 1589l-1 1M178 1664l1 0M888 1536l1 1M706 1390l1 0M471 1676l-1 1M584 1490l1 1M659 1645l1 0M509 1606h0M400 1482h0M384 1544h0M549 1581l1 1M573 1658l-1 1M564 1591h0M876 1380h0M363 1476h0M716 1669l-1 1M651 1357l0 1M691 1532l0 1M672 1540l1 1M523 1634h0M478 1546l0 1M904 1524h0M618 1538l-1 1M833 1501l-1 0" stroke="#222222" stroke-width="7" stroke-linecap="round" fill="none"/><path d="M308 1664l0 2M615 1622h0M460 1540l0 1M401 1557l-2 1M883 1539l-1 1M845 1363l0 1M833 1387l-1 2M568 1450l-1 1M542 1577l1 0M224 1630h0M712 1512l0 2M929 1360l-1 1M714 1413l0 1M441 1627l1 0M536 1547h0M574 1469h0M802 1648l-2 0M526 1594l-1 1M852 1603l1 1M251 1629l-1 2M284 1467l1 0M634 1684h0M226 1554h0M713 1451l0 1M221 1555l2 1M881 1397l0 1M188 1572l-2 1M524 1620h0M817 1520l0 1M825 1529l0 2M737 1558l-1 0M849 1373l0 1M861 1614l0 1M927 1369l-1 1M378 1416l0 2M748 1539h0M465 1467h0M793 1470l1 2M342 1366l0 1M522 1437h0M572 1445l-1 1M425 1578h0M845 1623l1 1M779 1438h0M653 1630l0 2M864 1459h0M248 1669l1 2M539 1620l2 1M881 1365l0 1M880 1529h0M845 1455l-1 2M606 1540l-1 0M344 1665l-1 0M429 1387h0M549 1628l1 1M923 1501l-1 0M417 1605h0M468 1366l-1 1M601 1626l0 1M551 1681l0 1M849 1388h0M434 1514l-1 1M450 1516h0M368 1451l1 1M537 1439h0M905 1451l-1 1M266 1609h0M331 1355l1 0M619 1683l-1 0M612 1684h0M837 1464l1 1M271 1449l-1 1M258 1361l1 1M160 1502l1 2M178 1496h0M459 1518h0M408 1645l-1 0M243 1628l1 1M271 1516l1 2M679 1403l2 1M730 1556h0M674 1568l1 1M181 1460h0M522 1429l-1 0M425 1573l1 0M665 1669h0M381 1673l1 1M560 1598h0M521 1583l1 1M199 1458l-1 1M316 1408l-1 2M875 1621l-1 0M617 1638l1 1M804 1363l0 1M239 1527l0 1M194 1545l1 1M173 1494l-2 1M879 1353l-1 0M374 1527l-2 1M640 1506l-2 1M897 1395l-1 1M578 1397h0M709 1463l-1 1M414 1655l-1 0M305 1436l0 1M609 1496l-1 2M437 1477l0 1M651 1559l-1 1M577 1630l0 1M639 1432l-2 0M736 1374h0M479 1620l-1 0M689 1597l0 1M419 1573h0" stroke="#2a2a2a" stroke-width="5" stroke-linecap="round" fill="none"/><path d="M312 1530l0 1M702 1647h0M299 1615l1 1M349 1442h0M303 1533l0 1M811 1673l1 1M754 1565h0M322 1620l1 0M777 1516l2 0M959 1357h0M442 1551l1 1M799 1550l1 0M400 1550l1 0M646 1367l1 0M626 1532l2 0M827 1618l1 0M939 1420l-1 0M383 1553h0M244 1525l1 1M669 1589l1 1M691 1574h0M600 1589l-1 1M352 1382l1 0M413 1567l0 1M793 1607l2 1M524 1414h0M298 1512l1 0M384 1579h0M684 1665l0 2M898 1394l1 1M684 1355h0M761 1636l1 1M289 1585l0 1M257 1536l0 1M378 1582h0M657 1353l-1 0M690 1410l1 0M337 1581l-1 1M280 1591h0M390 1609h0M209 1573l-1 2M469 1655h0M742 1375l1 0M572 1495l1 1M456 1518l-2 1M229 1567h0M752 1613l-1 1M413 1594l0 1M666 1426l1 0M137 1622h0M225 1383h0M893 1416h0M637 1452l-1 0M816 1428l1 0M278 1518l-1 1M198 1622l1 2M796 1634l0 1M488 1632h0M807 1650l0 1M415 1560l1 0M633 1417l1 0M243 1410l-1 2M802 1565h0M270 1592h0M944 1368h0M657 1488l-1 0M477 1507l0 2M350 1493l-1 0M841 1585h0M953 1425l-1 1M507 1526l0 1M609 1547l0 1M447 1619l0 1M857 1631l0 1M200 1541h0M857 1527h0M211 1650h0M341 1491l-1 1M226 1360l0 2M293 1589l-1 0M294 1535h0M375 1549h0M258 1470l-2 1M427 1638l-2 0M694 1498l-1 0M299 1457h0M543 1436l1 1M696 1427l0 1M336 1595h0M801 1445l0 1M295 1448l1 2M295 1446h0M624 1409l-1 0M711 1506l0 2M520 1580h0M461 1652h0M485 1405l0 1M219 1609l0 1M707 1538l0 1M656 1361l-2 0M401 1584l-1 1M693 1447h0M551 1372l1 2M365 1452l0 1M846 1507l1 1M678 1363h0M661 1508h0M683 1474h0M320 1488l-1 0M789 1549l0 2M772 1387l0 1M719 1645h0M707 1582h0M743 1448l2 1M749 1623h0M913 1516l1 0M199 1436l-1 1M264 1622h0M373 1526l-1 1M474 1600l1 1M655 1386l-1 1M722 1462h0M797 1487h0M273 1428l-1 2M905 1514h0M632 1383l0 1M776 1407l1 1M529 1467h0M758 1532l0 2M776 1509l2 1M370 1659l1 1M915 1412l-1 0M522 1675h0M754 1442h0M570 1588h0M187 1512l1 0M858 1392l0 1M605 1407h0M414 1409l0 1M716 1448l1 0M286 1446l0 1M707 1579h0M326 1597l1 0M608 1486l0 2M659 1473l0 1M285 1544l1 0M834 1383h0M544 1490l-1 1M831 1519l-1 0M836 1505l1 0M718 1601l-1 1M812 1392h0M720 1536l0 1" stroke="#050505" stroke-width="7" stroke-linecap="round" fill="none"/><path d="M89 1512l-2 1M903 1597h0M961 1613l0 1M153 1444h0M928 1595h0M951 1619l-1 0M141 1558l-1 0M167 1361l1 0M99 1594l-1 1M948 1483h0M953 1671l1 0M984 1572h0M910 1635l1 1M112 1488l-2 0M116 1600l-1 0M105 1457l0 2M965 1464l0 1M155 1374l0 2M948 1663l0 2M882 1682l-1 0M65 1678h0M134 1406h0M76 1559l-1 0M962 1491l1 2M879 1636l1 0M968 1414l1 0M207 1356l1 2M135 1393h0M929 1517l1 2M893 1590l0 2M81 1549l-1 1M970 1539l-1 1M931 1626l-1 1M95 1510l-2 0M890 1602h0M981 1527l1 1M134 1532l0 2M96 1533l0 1" stroke="#2c2c2c" stroke-width="6" stroke-linecap="round" fill="none"/><path d="M315 1442h0M845 1489l-2 0M412 1428l-1 0M696 1677l1 1M820 1438l1 2M662 1645h0M760 1570h0M518 1664l-1 0M677 1626l-1 0M300 1512h0M457 1599l-1 0M444 1368h0M175 1500l1 1M892 1362h0M409 1375h0M510 1379l-1 0M883 1491l-1 2M910 1493h0M522 1601h0M320 1588l0 2M447 1646l0 1M746 1365l1 0M157 1511l0 1M777 1426h0M260 1633l-1 1M362 1418l-2 0M539 1512l-1 1M482 1573l-1 0M912 1379l-1 1M196 1563l-1 0M711 1620h0M906 1506h0M515 1612l0 1M319 1607l-1 1M457 1510l1 0M351 1647l0 1M547 1564l-2 1M598 1396l-1 1M911 1474l0 1M234 1461l0 1M911 1449l-1 0M206 1611l0 1M792 1677l0 2M243 1637h0M848 1499l-1 0M709 1598l0 1M447 1583h0M149 1643h0M755 1498l1 0M790 1646l2 0M298 1625h0M210 1683l0 2M868 1557l0 2M667 1592l0 1M783 1494l1 1M641 1385l-1 0M498 1550l2 1M793 1598l-1 1M390 1495l1 1M470 1448l1 1M727 1537l1 1M574 1463l-1 0M690 1468l2 0M703 1426l1 1M434 1505h0M250 1466l-1 0M209 1419l-1 0M836 1659l2 0M511 1424l0 1M485 1472l-1 0M500 1644l-1 1M310 1624h0M758 1671h0M599 1406h0M862 1549l0 1M158 1552l1 0M765 1563l2 0M822 1408h0M809 1589h0M237 1470h0M805 1653l2 1M438 1506h0M713 1634h0M210 1496l-2 1M870 1409l-1 1M308 1469l-1 1M390 1679h0M225 1367l0 1M483 1634l0 1M227 1537l-1 0M333 1561h0M639 1609l1 0M431 1527l-1 2M665 1510l-2 0M398 1381l0 1M746 1506l1 0M376 1622l-1 1M515 1371l-1 2M170 1550l0 1M477 1472l1 1M921 1462l0 1M685 1357h0M296 1415l1 1M501 1421h0M749 1378l1 1M450 1474l-1 1M520 1652l0 2M682 1463l0 1M189 1501l-2 0M314 1387h0M383 1467l1 0M869 1450l0 1M576 1383l0 1M434 1377h0M919 1366l1 1M765 1422l-1 0M714 1562h0M350 1564l0 1M667 1625h0M883 1554h0M264 1358l0 2M795 1542l2 0M581 1595l1 2M353 1393l-1 1M865 1562l2 0M211 1577l-2 0M745 1354l1 0M329 1402h0M303 1383h0M738 1556l0 2M339 1443l0 1M395 1504l2 0M768 1398l0 2M777 1605l-1 1M464 1407h0M743 1566l1 0M729 1631l1 1M776 1585h0M789 1619l0 1M603 1368l0 2M475 1470l-1 1M630 1667l0 2M254 1394h0M529 1459l1 0M291 1606l-1 0M478 1451l0 1M552 1616l1 0" stroke="#222222" stroke-width="6" stroke-linecap="round" fill="none"/><path d="M770 1368h0M779 1577l0 1M869 1529l0 1M541 1666h0M939 1383l1 1M250 1626l-1 1M848 1436h0M320 1660h0M708 1641l-1 1M206 1504h0M863 1445l0 1M551 1620l0 1M591 1667l1 1M681 1418l0 1M794 1444l-1 1M231 1418h0M794 1562l1 1M542 1490l2 1M754 1555l1 1M665 1553h0M866 1383h0M317 1549l1 1M417 1535h0M629 1598l-1 1M578 1434l1 0M515 1538l-1 1M526 1633h0M442 1435h0M749 1549l1 1M614 1377h0M369 1579l1 0M479 1670h0M453 1646l1 1M601 1365h0M709 1394l1 1M157 1669h0M699 1517l1 1M394 1444h0M534 1387l1 1M606 1615l0 2M801 1616l-1 2M903 1361l1 1M333 1670h0M527 1510l-1 1M428 1618l2 1M827 1612l0 2M577 1555l1 1M639 1506h0M731 1382l1 0M861 1463l-1 0M548 1557h0M603 1403l1 0M725 1376h0M393 1438l0 1M475 1609l0 1M379 1584l1 1M342 1653l1 0M673 1652l-1 1M557 1444l-1 0M359 1403h0M307 1393l1 1M433 1404h0M828 1439h0M132 1660l0 2M519 1500l1 0M846 1653l1 1M770 1366l0 1M510 1621h0M558 1495h0M945 1359l-1 0M765 1658l-1 1M754 1455h0M308 1411l0 1M541 1393l-1 1M697 1553l1 0M434 1576h0M974 1353h0M857 1450l-1 0M860 1611l-1 1M279 1401l-2 1M813 1670l0 1M610 1470l1 1M669 1508h0M587 1432l-1 1M805 1417l-1 0M849 1543l-1 1M714 1494h0M455 1498h0M421 1478l1 1M319 1379h0M411 1553h0M541 1521l-1 0M546 1675l-1 0M326 1482l0 1M612 1405h0M311 1416h0M432 1374h0M409 1601h0M664 1581l-1 0M243 1546l1 0M193 1571l-1 0M348 1537l0 2M303 1549l-1 1M872 1622l0 2M745 1465l0 1M204 1387h0M895 1510l1 1M252 1477h0M640 1651l1 2M829 1675l2 1M805 1557l1 1M782 1576h0M155 1623l0 1M452 1635l1 1M840 1576l0 1M320 1646l-1 0M233 1510l0 1M631 1439l-1 1M619 1634h0M864 1513l-1 1M836 1360l0 1M782 1518l-1 0M913 1452h0M241 1454l-1 2M782 1681h0M502 1480l0 2M245 1445h0M376 1364l1 1M582 1417h0M817 1673l-1 0M176 1524l-1 0M649 1639l-1 1M753 1457l1 0M892 1426l0 1M764 1673l0 1M814 1611h0" stroke="#000000" stroke-width="5" stroke-linecap="round" fill="none"/><path d="M115 1434h0M189 1360l1 1M944 1674l0 1M127 1397l1 1M903 1637l2 0M87 1609l1 1M870 1650h0M968 1600l-2 0M961 1496l-1 1M129 1453l0 1M934 1487l-1 2M169 1354l1 1M111 1599l2 1M876 1654l-1 1M209 1367l1 1M87 1664l1 0M937 1553l0 1M122 1531l-1 1M116 1577l0 2M126 1576h0M910 1675l0 2M982 1380h0M942 1672l-2 0M926 1547l0 1M926 1516l0 1M187 1359h0M150 1469l0 1M108 1682l1 0M104 1592l0 1M977 1524l-1 1M100 1571h0M72 1657h0M967 1563l-1 1M979 1494l-2 1M920 1643l0 2" stroke="#262626" stroke-width="6" stroke-linecap="round" fill="none"/><path d="M142 1371h0M955 1509l0 1M73 1622l-1 1M977 1530l1 0M78 1573l0 2M985 1452l-1 1M81 1592l1 1M133 1447h0M959 1454h0M953 1582l0 1M970 1441h0M915 1538l0 2M929 1627l1 1M152 1490l0 1M984 1538l-1 1M146 1526l1 1M135 1403l-1 0M931 1560h0M137 1538h0M935 1518h0M202 1381h0M980 1487h0M130 1425l-1 1M979 1449h0M67 1678h0M101 1652l2 1M927 1509h0M976 1549l-1 0M980 1510h0M87 1633l-1 1M902 1591l-1 1M907 1557l1 1M113 1438l-1 0M978 1567l1 0M960 1533l1 1M115 1667h0M941 1575l-1 1M962 1672l-1 0M945 1470l0 1M119 1604l-1 0M946 1562l0 1M938 1629h0" stroke="#2c2c2c" stroke-width="7" stroke-linecap="round" fill="none"/><path d="M848 1646l0 1M177 1570h0M386 1520l1 0M415 1496l0 1M216 1675l1 1M607 1407l-2 0M821 1479l0 1M372 1683h0M895 1391l-2 0M367 1413l0 1M405 1438l-1 1M236 1486h0M156 1641l1 1M508 1422l-1 2M579 1615l0 1M800 1662l-1 0M344 1645h0M529 1632h0M877 1617l-1 1M670 1597h0M269 1454h0M802 1375l1 1M775 1512l-1 1M408 1402l1 2M742 1596l2 1M301 1663h0M809 1605h0M374 1676h0M813 1501l1 1M552 1656l0 1M351 1558l1 1M314 1411l-1 0M776 1365l0 2M305 1406l1 1M409 1441h0M270 1607l1 0M515 1555l-1 1M372 1546h0M209 1451l-1 0M298 1413h0M772 1639l-1 1M282 1663l1 0M461 1479l-1 1M287 1382h0M760 1435l-1 1M698 1675l0 1M218 1604h0M492 1436l0 1M814 1517l-2 0M695 1601l0 1M783 1484l0 1M546 1568l1 1M211 1495l0 1M598 1530l1 1M544 1427l1 1M906 1406l0 1M367 1354h0M262 1498l1 0M964 1379l-1 0M297 1496l-1 0M706 1487h0M747 1444h0M309 1572h0M495 1352l0 1M471 1474l-1 1M641 1649l-1 0M312 1433l-1 1M395 1393l1 1M180 1586h0M766 1619h0M283 1417h0M886 1475l-1 1M627 1675l1 1M461 1653l-2 1M863 1655h0M408 1411h0M428 1542h0M397 1459l0 2M817 1370l0 1M257 1576l-2 0M876 1596l-1 1M511 1584h0M927 1409l-1 1M546 1451l0 1M937 1416h0M644 1627l0 1M304 1611h0M262 1617l0 1M618 1498h0M525 1542l0 1M553 1561l1 1M279 1537h0M628 1618l0 1M382 1386l1 1M209 1550h0M657 1587l-1 1M625 1614l1 1M790 1493l-1 2M396 1361l0 1M688 1625l0 1M158 1603h0M471 1454l0 2M440 1645l-2 0M144 1676l0 1M320 1483l2 1M524 1566l-1 1M689 1638l2 1M207 1616h0M726 1586h0M494 1608h0M552 1426h0M323 1512l1 0M619 1574h0M556 1513l1 2M870 1633l-1 1M205 1398l2 0M721 1357l-1 0M435 1549l0 2M509 1529l-1 0M265 1627l-1 1M665 1665l-1 2M466 1544l0 2M344 1618l1 1M895 1396l0 1M192 1467h0M382 1570l1 1M792 1390l-2 1M452 1476l1 1M291 1655h0M383 1501h0M492 1455l1 1" stroke="#000000" stroke-width="7" stroke-linecap="round" fill="none"/><path d="M958 1510h0M978 1579l0 1M966 1599l1 0M983 1417l1 0M873 1643l0 1M155 1465l0 1M170 1375l1 0M967 1502l2 1M121 1682l-1 0M162 1412l0 1M114 1679l2 1M149 1465l1 1M116 1440h0M924 1539l1 1M969 1554l0 1M121 1484h0M963 1485h0M134 1549l0 1M132 1538l2 0M980 1638l-2 0M911 1569l1 1M176 1422h0M978 1657l-1 1M900 1662l1 1M940 1565h0M943 1490l-2 0M957 1626l-1 1M949 1446h0M112 1641l0 1M133 1507l1 0M955 1588l-1 1M188 1393h0M949 1621l0 1M141 1540l-1 0" stroke="#3a3a3a" stroke-width="6" stroke-linecap="round" fill="none"/><path d="M968 1540l0 1M198 1353h0M99 1489l-1 1M921 1542l1 0M124 1442l1 0M178 1428l1 1M980 1374l0 1M85 1560h0M973 1619l-1 0M904 1684l0 1M110 1464h0M162 1392l0 1M139 1438l-1 0M915 1566l-2 0M916 1585h0M922 1631l0 2M150 1473h0M985 1614h0M132 1433l1 0M80 1640l0 2M891 1640l0 1M984 1484l-2 1M161 1388l0 1M152 1432l1 1M947 1519l-1 1M946 1499l1 0M131 1568l2 1M918 1625l-1 1M128 1652l0 2M961 1573l1 0M113 1564h0M986 1613l0 2M165 1420l1 1M895 1683l1 0" stroke="#3a3a3a" stroke-width="5" stroke-linecap="round" fill="none"/><path d="M962 1638l1 1M121 1424h0M103 1507l-1 1M133 1448h0M953 1561h0M142 1549l1 0M109 1528h0M981 1468l1 0M921 1523l1 2M930 1668h0M910 1642l1 0M103 1654l-1 0M872 1681h0M158 1420l1 2M890 1615l1 1M139 1441l1 0M124 1548l-1 1M75 1639h0M181 1367h0M923 1521h0M922 1559l-1 0M980 1514h0M940 1554l-1 2M154 1358l1 1M150 1373l-1 1M960 1412l1 0M146 1506l1 0M139 1550l2 0M960 1638l-1 1M952 1439h0M159 1383l-1 0" stroke="#333333" stroke-width="6" stroke-linecap="round" fill="none"/><path d="M929 1583l-1 0M948 1501h0M894 1675h0M961 1605l-1 0M953 1499l-1 1M100 1628l1 1M153 1439h0M948 1534l-1 0M93 1642l0 2M931 1596l-1 1M111 1638l2 0M119 1549h0M149 1398l1 1M156 1435l-2 1M84 1587l-2 0M154 1467l1 0M119 1608l0 2M65 1652h0M98 1508h0M106 1674l-2 0M141 1379l-1 0M135 1518l-1 0M178 1431l1 1M926 1505l-1 0M78 1549l0 1M918 1523h0M963 1493l-1 1M99 1576l-1 0M973 1664l1 1M953 1450l0 1" stroke="#333333" stroke-width="5" stroke-linecap="round" fill="none"/><path d="M153 1369h0M881 1620l1 0M896 1668l-1 1M111 1463l0 2M937 1613h0M881 1659h0M902 1610h0M969 1520l0 1M934 1656h0M956 1651l0 1M114 1452l-1 0M928 1536l1 1M985 1357l0 2M948 1448l-1 1M930 1541h0M123 1592l0 2M147 1425l-1 0M932 1682l0 1M133 1509l1 1M964 1417l0 1M70 1665l-1 1M981 1675l0 1M103 1668l-1 1M155 1478l1 1M980 1476l0 1M969 1601l1 1M140 1393l-1 1M977 1546l2 0M907 1621h0M111 1516l0 2M153 1413h0M928 1626l1 1M965 1636h0M977 1447h0M81 1597l1 2" stroke="#262626" stroke-width="7" stroke-linecap="round" fill="none"/><path d="M44.8 1351H990V1689H44.8Z M55.8 1355H987V1685H55.8Z M44.8 1351L55.8 1355M44.8 1689L55.8 1685M990 1689L987 1685M990 1351L987 1355" stroke="#8a8a8a" stroke-width="1" fill="none"/><path d="M58.8 1685v-5M65.7 1685v-3M72.6 1685v-3M79.5 1685v-3M86.4 1685v-3M93.3 1685v-5M100.2 1685v-3M107.1 1685v-3M114 1685v-3M120.9 1685v-3M127.8 1685v-5M134.7 1685v-3M141.6 1685v-3M148.5 1685v-3M155.4 1685v-3M162.3 1685v-5M169.2 1685v-3M176.1 1685v-3M183 1685v-3M189.9 1685v-3M196.8 1685v-5M203.7 1685v-3M210.6 1685v-3M217.5 1685v-3M224.4 1685v-3M231.3 1685v-5M238.2 1685v-3M245.1 1685v-3M252 1685v-3M258.9 1685v-3M265.8 1685v-5M272.7 1685v-3M279.6 1685v-3M286.5 1685v-3M293.4 1685v-3M300.3 1685v-5M307.2 1685v-3M314.1 1685v-3M321 1685v-3M327.9 1685v-3M334.8 1685v-5M341.7 1685v-3M348.6 1685v-3M355.5 1685v-3M362.4 1685v-3M369.3 1685v-5M376.2 1685v-3M383.1 1685v-3M390 1685v-3M396.9 1685v-3M403.8 1685v-5M410.7 1685v-3M417.6 1685v-3M424.5 1685v-3M431.4 1685v-3M438.3 1685v-5M445.2 1685v-3M452.1 1685v-3M459 1685v-3M465.9 1685v-3M472.8 1685v-5M479.7 1685v-3M486.6 1685v-3M493.5 1685v-3M500.4 1685v-3M507.3 1685v-5M514.2 1685v-3M521.1 1685v-3M528 1685v-3M534.9 1685v-3M541.8 1685v-5M548.7 1685v-3M555.6 1685v-3M562.5 1685v-3M569.4 1685v-3M576.3 1685v-5M583.2 1685v-3M590.1 1685v-3M597 1685v-3M603.9 1685v-3M610.8 1685v-5M617.7 1685v-3M624.6 1685v-3M631.5 1685v-3M638.4 1685v-3M645.3 1685v-5M652.2 1685v-3M659.1 1685v-3M666 1685v-3M672.9 1685v-3M679.8 1685v-5M686.7 1685v-3M693.6 1685v-3M700.5 1685v-3M707.4 1685v-3M714.3 1685v-5M721.2 1685v-3M728.1 1685v-3M735 1685v-3M741.9 1685v-3M748.8 1685v-5M755.7 1685v-3M762.6 1685v-3M769.5 1685v-3M776.4 1685v-3M783.3 1685v-5M790.2 1685v-3M797.1 1685v-3M804 1685v-3M810.9 1685v-3M817.8 1685v-5M824.7 1685v-3M831.6 1685v-3M838.5 1685v-3M845.4 1685v-3M852.3 1685v-5M859.2 1685v-3M866.1 1685v-3M873 1685v-3M879.9 1685v-3M886.8 1685v-5M893.7 1685v-3M900.6 1685v-3M907.5 1685v-3M914.4 1685v-3M921.3 1685v-5M928.2 1685v-3M935.1 1685v-3M942 1685v-3M948.9 1685v-3M955.8 1685v-5M962.7 1685v-3M969.6 1685v-3M976.5 1685v-3M983.4 1685v-3M45.8 1358h6M45.8 1364.6h4M45.8 1371.2h4M45.8 1377.8h4M45.8 1384.4h4M45.8 1391h6M45.8 1397.6h4M45.8 1404.2h4M45.8 1410.8h4M45.8 1417.4h4M45.8 1424h6M45.8 1430.6h4M45.8 1437.2h4M45.8 1443.8h4M45.8 1450.4h4M45.8 1457h6M45.8 1463.6h4M45.8 1470.2h4M45.8 1476.8h4M45.8 1483.4h4M45.8 1490h6M45.8 1496.6h4M45.8 1503.2h4M45.8 1509.8h4M45.8 1516.4h4M45.8 1523h6M45.8 1529.6h4M45.8 1536.2h4M45.8 1542.8h4M45.8 1549.4h4M45.8 1556h6M45.8 1562.6h4M45.8 1569.2h4M45.8 1575.8h4M45.8 1582.4h4M45.8 1589h6M45.8 1595.6h4M45.8 1602.2h4M45.8 1608.8h4M45.8 1615.4h4M45.8 1622h6M45.8 1628.6h4M45.8 1635.2h4M45.8 1641.8h4M45.8 1648.4h4M45.8 1655h6M45.8 1661.6h4M45.8 1668.2h4M45.8 1674.8h4M45.8 1681.4h4M48.8 1352l3 2M55.7 1352l3 2M62.6 1352l3 2M69.5 1352l3 2M76.4 1352l3 2M83.3 1352l3 2M90.2 1352l3 2M97.1 1352l3 2M104 1352l3 2M110.9 1352l3 2M117.8 1352l3 2M124.7 1352l3 2M131.6 1352l3 2M138.5 1352l3 2M145.4 1352l3 2M152.3 1352l3 2M159.2 1352l3 2M166.1 1352l3 2M173 1352l3 2M179.9 1352l3 2M186.8 1352l3 2M193.7 1352l3 2M200.6 1352l3 2M207.5 1352l3 2M214.4 1352l3 2M221.3 1352l3 2M228.2 1352l3 2M235.1 1352l3 2M242 1352l3 2M248.9 1352l3 2M255.8 1352l3 2M262.7 1352l3 2M269.6 1352l3 2M276.5 1352l3 2M283.4 1352l3 2M290.3 1352l3 2M297.2 1352l3 2M304.1 1352l3 2M311 1352l3 2M317.9 1352l3 2M324.8 1352l3 2M331.7 1352l3 2M338.6 1352l3 2M345.5 1352l3 2M352.4 1352l3 2M359.3 1352l3 2M366.2 1352l3 2M373.1 1352l3 2M380 1352l3 2M386.9 1352l3 2M393.8 1352l3 2M400.7 1352l3 2M407.6 1352l3 2M414.5 1352l3 2M421.4 1352l3 2M428.3 1352l3 2M435.2 1352l3 2M442.1 1352l3 2M449 1352l3 2M455.9 1352l3 2M462.8 1352l3 2M469.7 1352l3 2M476.6 1352l3 2M483.5 1352l3 2M490.4 1352l3 2M497.3 1352l3 2M504.2 1352l3 2M511.1 1352l3 2M518 1352l3 2M524.9 1352l3 2M531.8 1352l3 2M538.7 1352l3 2M545.6 1352l3 2M552.5 1352l3 2M559.4 1352l3 2M566.3 1352l3 2M573.2 1352l3 2M580.1 1352l3 2M587 1352l3 2M593.9 1352l3 2M600.8 1352l3 2M607.7 1352l3 2M614.6 1352l3 2M621.5 1352l3 2M628.4 1352l3 2M635.3 1352l3 2M642.2 1352l3 2M649.1 1352l3 2M656 1352l3 2M662.9 1352l3 2M669.8 1352l3 2M676.7 1352l3 2M683.6 1352l3 2M690.5 1352l3 2M697.4 1352l3 2M704.3 1352l3 2M711.2 1352l3 2M718.1 1352l3 2M725 1352l3 2M731.9 1352l3 2M738.8 1352l3 2M745.7 1352l3 2M752.6 1352l3 2M759.5 1352l3 2M766.4 1352l3 2M773.3 1352l3 2M780.2 1352l3 2M787.1 1352l3 2M794 1352l3 2M800.9 1352l3 2M807.8 1352l3 2M814.7 1352l3 2M821.6 1352l3 2M828.5 1352l3 2M835.4 1352l3 2M842.3 1352l3 2M849.2 1352l3 2M856.1 1352l3 2M863 1352l3 2M869.9 1352l3 2M876.8 1352l3 2M883.7 1352l3 2M890.6 1352l3 2M897.5 1352l3 2M904.4 1352l3 2M911.3 1352l3 2M918.2 1352l3 2M925.1 1352l3 2M932 1352l3 2M938.9 1352l3 2M945.8 1352l3 2M952.7 1352l3 2M959.6 1352l3 2M966.5 1352l3 2M973.4 1352l3 2M980.3 1352l3 2" stroke="#8a8a8a" stroke-width="0.8" fill="none"/><path d="M549 1473l-2 0M534 1667l0 2M521 1453h0M497 1682l-1 1M575 1382l3 1M489 1504l-2 1M543 1606l2 2M765 1417l3 1M425 1638l-2 2M549 1403l1 0M509 1621l1 0M462 1664h0M442 1629l-1 0M515 1660l0 3M507 1511l2 0M493 1522l0 1M602 1622l-3 2M570 1462l-1 1M600 1441h0M607 1400l-2 2M485 1540l-1 0M523 1515l0 2M643 1527h0M595 1383l3 0M536 1504l1 2M601 1495l1 2M605 1444h0M563 1478h0M470 1408l-1 3M524 1427l2 0M600 1488l2 1M629 1355l-2 1M656 1554l1 0M601 1405l0 3M707 1473l-1 1M541 1520l0 3M527 1582l0 2M540 1469l1 2M551 1563h0M499 1646l1 0M540 1495l0 2M525 1418l0 2M484 1655l2 0M401 1538l0 1M630 1356l-2 1M511 1542l0 1M496 1568l1 1M398 1679l1 1M622 1414l-3 2M477 1658l0 1M538 1466l-1 1M488 1559h0M594 1386l0 3M495 1516l1 1M651 1375l2 1M512 1643l-1 0M534 1470l3 1M451 1642l-2 2M636 1600l0 2M523 1589l2 1M665 1565l1 2M567 1504l2 1M480 1587l1 2M467 1523l1 3M616 1377l2 0M735 1460l-2 2M448 1667l-1 1M568 1456l0 1M468 1649l0 1M594 1470l1 1M451 1365l0 2M559 1413l-1 0M461 1614h0M597 1447l0 2M535 1578l-1 1M607 1564l1 1M597 1548l-1 3M493 1612l-2 3M503 1614l3 0M498 1580h0M497 1544l-2 3M539 1508l3 0M616 1390l1 1M608 1436l0 2M600 1394l0 3M640 1568l1 0M719 1430l0 3M594 1360l-2 2M532 1561l-1 1M484 1631l0 1M485 1651l2 1M551 1424l-2 2M542 1384l1 1M512 1598l1 2M614 1374l-2 2M521 1639l-1 1M487 1579l0 1M561 1393l1 3M526 1442l-3 0M552 1445l-3 2M762 1408h0M508 1678h0M550 1453l1 1M634 1371l0 1M552 1399l-2 1M491 1580l-2 2M570 1573l2 2M608 1597l-2 0M478 1527l2 1M523 1613h0M485 1669h0M510 1624l-1 1M548 1375l0 1M581 1430l3 1M477 1596l0 1M467 1630l3 1M670 1543l1 1" stroke="#50d030" stroke-width="7" stroke-linecap="round" fill="none"/><path d="M853 1634l1 1M818 1677l-1 0M868 1511l-3 2M856 1450l2 0M889 1385l1 1M872 1516l-1 0M843 1482l-1 2M803 1546h0M802 1473l-1 1M855 1576l3 0M743 1596l-2 3M753 1468l2 3M895 1368h0M860 1461l-3 1M900 1432l-3 0M849 1513h0M807 1528l-2 3M736 1500l-1 1M946 1362l-3 2M961 1353l-1 2M868 1495l-2 3M692 1605l1 0M905 1391l-2 1M831 1496h0M863 1401l0 1M720 1673l0 1M747 1501l1 0M856 1578h0M803 1408l-1 1M768 1360l-1 0M853 1536l1 1M784 1417l-1 0M782 1593l1 3M801 1639l0 1M784 1514l-1 0M768 1450h0M810 1528l-1 2M815 1650l-1 2M804 1642h0M713 1570l3 0M858 1499l0 2M863 1486l0 1M737 1565h0M848 1432h0M716 1638l-1 0M867 1493h0M812 1492l2 1M864 1398l-1 1M880 1451l0 1M853 1428h0M855 1389l3 0M823 1609l1 0M724 1589l0 1M811 1522h0M831 1625l-3 1M754 1655h0M817 1595l-2 1" stroke="#20d8e0" stroke-width="7" stroke-linecap="round" fill="none"/><path d="M940 1354l-2 1M953 1370l-1 1M870 1630l1 2M820 1546l0 3M871 1486h0M911 1427l0 1M950 1415l3 0M852 1568l0 2M895 1548l1 2M870 1626l-2 2M860 1605l3 1M939 1460h0M842 1606l1 3M837 1608l2 1M947 1367l2 0M949 1398l-1 1M855 1427h0M933 1380l3 1M860 1640l0 2M848 1671l-1 1M800 1678l0 2M867 1457l-2 2M900 1427l1 0M837 1657l3 1M856 1566l0 2M914 1495l1 0M882 1520l1 3M906 1483l0 1M853 1618l0 3M884 1551l1 0M759 1610l-1 1M902 1417l-3 1M911 1489l-3 1M940 1443l-2 1M846 1644l0 1M909 1410h0M930 1383l-3 1M775 1649h0M815 1668l-3 0M924 1493l1 0M929 1372l1 0M864 1499l-1 3M804 1653h0M853 1533l0 2" stroke="#9020d0" stroke-width="7" stroke-linecap="round" fill="none"/><path d="M626 1640l1 0M526 1606l-2 2M675 1531l0 1M490 1565l-1 1M602 1396h0M420 1650h0M566 1524l2 1M461 1679l0 2M465 1591l3 1M485 1499h0M485 1616l1 0M598 1593h0M684 1408l-1 2M652 1644l0 3M504 1439l-1 1M337 1680l2 2M535 1602h0M547 1495h0M484 1663h0M442 1633l-2 2M512 1497l-1 1M579 1374l1 1M545 1398h0M713 1522h0M506 1514l-1 1M501 1678l1 3M499 1519l2 0M510 1655l0 3M521 1459l-2 1M571 1506h0M640 1464h0M667 1420l1 1M556 1463l-1 1M579 1407l0 3M568 1475l1 0M426 1530l-2 2M504 1635l-2 2M361 1679l0 1M625 1483l2 2M543 1630l0 2M588 1444h0M599 1438l0 1M543 1416h0" stroke="#50d030" stroke-width="8" stroke-linecap="round" fill="none"/><path d="M531 1362l-2 0M157 1593l2 2M253 1372l0 3M362 1380l-2 2M171 1397l0 1M177 1624l0 1M312 1353h0M284 1553h0M377 1667l-1 0M379 1423h0M290 1429l-3 1M276 1639l3 1M272 1550l-2 2M222 1510h0M263 1433l1 2M287 1575l1 1M172 1612l0 3M233 1389h0M277 1642l-3 2M241 1614h0M184 1491l1 0M154 1588l-2 2M162 1556l-3 1M277 1447l1 3M209 1587l1 1M208 1418l1 1M287 1504l-3 1M222 1635h0M283 1637h0M317 1499l0 3M319 1467l0 1M388 1386h0M228 1599h0M313 1555h0M271 1588l0 2M299 1555l0 1M233 1466l2 1M244 1598l0 3M254 1373h0M326 1515l-1 1M237 1634h0M327 1539l-1 0M186 1624l-3 1M156 1633l-3 1M182 1484l0 1M280 1619l-1 1M211 1414l3 1M307 1573l1 3M309 1438l-1 1M194 1616l1 2M363 1417l2 2M218 1615l1 2M279 1476l0 1M226 1496l1 1M210 1375l1 2M204 1577l0 1M225 1452l-3 0M368 1425l0 1M193 1401l2 1M196 1424l1 3M297 1430l-3 1M170 1670h0M189 1458l-2 0M278 1354h0M232 1391l2 2M266 1401l0 2M266 1547h0M261 1367h0M284 1548l-3 0M269 1434l1 0M336 1380l1 1M353 1480l0 2M293 1383l-2 2M288 1480l0 2M350 1510l-2 1M217 1415l-3 1M172 1517h0M397 1365h0M177 1603l2 3M233 1510l0 1M266 1497h0M388 1355l1 2M310 1379l-1 1M292 1401l-1 1M295 1568l-1 1M490 1533l-2 2M190 1470l-1 2M225 1396h0M209 1476l-2 1M160 1547l-1 1M335 1569l-2 0M294 1408l2 0M243 1538l3 1M277 1668l0 2M272 1597l0 1M180 1661h0M231 1681l-2 2M313 1606l0 2M352 1386l1 2M207 1580l1 2M266 1543l0 1M292 1402l1 2M233 1379l-2 0M202 1540l-3 1M256 1607l1 2M176 1668l1 1M348 1459l2 2M173 1559l-1 3M381 1381h0M561 1357l-1 0M236 1563l1 1M298 1662l-2 1M222 1362l-2 0M327 1546l3 1M294 1506l1 1M146 1616l1 3M175 1609l-2 1M243 1514h0M172 1574l3 0M280 1554l2 0M483 1369l-2 0M297 1507h0M172 1593l2 1M279 1664l1 1M205 1422l-1 2M245 1638l-1 0M181 1445l3 1M156 1600l2 1M281 1648l-1 0M321 1372l-2 2M193 1604l3 0M389 1356l1 0M280 1607l2 1M187 1679l2 3M126 1574h0M331 1563l-1 0M268 1684l1 1M537 1367l2 1M177 1523l1 1M355 1526l0 2M257 1534l1 1M241 1590l3 1M322 1401h0M229 1563l-3 1M314 1482l0 3M139 1682l0 2M198 1673l-1 1M216 1654h0M273 1481l-1 2M183 1552l-1 2M398 1436l3 1M272 1663h0M336 1544l0 1M240 1432l-1 1M165 1615l1 1M402 1415h0M194 1497l0 1M161 1521l0 1M206 1567h0M256 1605l-1 2M378 1359l1 3M406 1447l0 2M222 1421l0 1M367 1434l1 2M240 1438h0M255 1504l-3 1M256 1583l-2 2M255 1465l3 0M232 1475h0M454 1579h0M344 1505l2 2M252 1502l-3 1M256 1589l2 2M348 1471l-2 2M276 1650l-1 0M317 1609h0M220 1532l0 3M258 1540l1 3M287 1589l-1 1M269 1648l1 0M296 1632h0M366 1425h0M237 1405l3 0M278 1577l-3 1M171 1666l2 0M213 1389l0 2M148 1585l-1 2M298 1384l-1 1M246 1580l0 1M235 1548l2 2M208 1400l-3 0M200 1551l-2 2M341 1514l-2 3M271 1389l2 2M269 1613l-1 0M196 1461h0M276 1361l0 1M278 1539h0M243 1560l-1 1M296 1488l-1 0M232 1596l-1 2M235 1380l3 0M182 1602l-1 0M214 1372l2 2M262 1525l0 1M284 1617l1 0M246 1518l1 0M239 1444l-2 1M220 1638h0" stroke="#e2124c" stroke-width="7" stroke-linecap="round" fill="none"/><path d="M231 1376l0 3M291 1411l-1 1M237 1679l1 3M373 1465h0M227 1355l-1 3M350 1429l-1 1M187 1537l3 1M251 1579l-2 1M394 1352l-1 1M174 1545l-3 1M156 1577h0M362 1570h0M191 1668l1 1M342 1455l-1 1M460 1524l-2 0M379 1421l-2 1M365 1357l3 0M156 1679l0 2M363 1480h0M389 1362l-1 0M215 1631l-3 2M230 1477l0 1M337 1501h0M219 1630l0 2M413 1437l-1 0M302 1666l3 1M409 1429h0M321 1394l-2 2M259 1542l-3 1M233 1497l1 1M215 1501l-2 1M359 1357h0M211 1409l-3 1M286 1497l0 3M383 1401l1 2M191 1418l-1 3M217 1538l0 1M277 1484h0M235 1423l0 3M320 1485l-2 2M317 1533l-2 2M269 1372l-1 1M253 1479l2 2M327 1561l-2 0M327 1507l-3 0M258 1585h0M205 1585l-3 0M253 1446l-1 1M250 1499l1 2M215 1674l1 1M213 1639l1 2M365 1442l3 0M315 1532h0M218 1544h0M321 1414l2 2M291 1483l1 1M198 1361h0M296 1479l-1 1M230 1510l-2 1M200 1640l1 1M305 1397l-1 1M313 1426l-2 0M383 1376h0M196 1653l-1 2M336 1543l0 1M354 1394l1 0M130 1675h0M190 1529h0M224 1466h0M258 1429l3 0M200 1669l0 1M339 1540h0M355 1355l0 1M231 1487h0M273 1442h0M275 1654l1 1M204 1655h0M340 1354l2 1M289 1589l-1 2M392 1353l0 1M225 1587l-1 2M143 1553h0M306 1520l3 1M171 1589l1 1M273 1634h0M172 1488l1 0M356 1441l0 1M216 1380l1 1M263 1532l-1 2M177 1482l0 1M156 1645l-1 3M260 1486l-1 0M159 1450l2 0M368 1427h0M241 1400h0M161 1622l1 0M285 1432l3 0M314 1498l3 0M209 1589h0M184 1467l0 1M369 1358l2 3M195 1394l-2 1M271 1613l-1 1M205 1595h0M400 1411l-1 3" stroke="#e2124c" stroke-width="6" stroke-linecap="round" fill="none"/><path d="M493 1414l-3 0M550 1442l1 1M545 1569l1 1M535 1500l2 2M621 1394l1 1M570 1365l2 2M513 1634l3 0M546 1470h0M468 1623l2 0M532 1493l3 0M568 1400l1 2M484 1681l-3 0M549 1398l2 1M662 1355l-2 1M518 1536h0M584 1607l-1 3M482 1665l1 1M498 1524l-2 1M602 1652l-1 2M543 1413l-1 1M526 1512l-1 1M636 1367l-1 3M543 1560h0M542 1429l0 1M566 1553l1 0M525 1478l0 1M569 1439l0 2M534 1659l1 1M438 1504l0 1M707 1429l2 1M621 1443l-2 3M679 1357l2 0M539 1529l0 1M565 1616h0M589 1361l0 1M564 1388l1 0M544 1479l2 2M513 1526h0M369 1682l-1 0M497 1584l1 0M625 1635l3 2M541 1562l1 0M536 1517l-3 2M490 1623l-3 1M527 1504l-1 0" stroke="#50d030" stroke-width="6" stroke-linecap="round" fill="none"/><path d="M391 1438l-2 1M250 1396l1 0M354 1449l1 1M304 1401h0M226 1426h0M148 1604h0M410 1357h0M203 1442l-2 2M214 1453l1 0M145 1592l-2 2M175 1628l0 1M310 1371l0 1M360 1496l-1 0M254 1627l0 1M289 1468l-1 0M319 1495l0 3M219 1511l1 0M248 1627l1 1M294 1592l2 2M337 1357l-1 2M310 1535l-1 3M324 1587l0 1M352 1450l-1 2M190 1426l3 2M218 1573l3 1M362 1396h0M281 1580l-2 1M205 1669l0 1M191 1445l-3 1M206 1393l2 1M453 1557l1 2M186 1469l-2 0M211 1423l1 2M339 1389l0 1M251 1594l0 1M193 1620l-1 1M258 1605l0 1M284 1407l-1 2M170 1555l0 1M300 1363l-1 0M162 1611l-1 0M299 1387l0 2M254 1634h0M201 1383l2 1M283 1564h0M254 1461l1 2M243 1480l0 1M312 1512l-1 3M194 1635l0 3M263 1593l-1 2M238 1440l-2 3M388 1488l2 2M238 1487l-3 2M306 1548l-1 1M184 1581l1 2M389 1366h0M282 1617l-1 0M384 1672h0M188 1493l0 2M249 1373l-1 1M205 1595l0 2M228 1600l1 3M232 1485h0M156 1634h0M323 1449h0M279 1535h0M186 1355l1 2M338 1424l-2 1M329 1630l-1 0M233 1476l-2 1M214 1666l1 1M390 1373h0M245 1579l2 1M213 1611l0 1M236 1393l-2 0M353 1476l2 1M272 1501l0 3M284 1403h0M216 1671l-1 0M286 1683l1 0M248 1451l-2 1M277 1596l1 1M295 1530h0M363 1587l1 2M212 1548l2 3M354 1451h0M199 1539l2 1M339 1417l1 2M250 1481l2 2M368 1378l2 3M221 1457l0 1M280 1518l0 3M288 1553l-1 0M400 1501l1 3M280 1656h0M208 1454l1 0M222 1619l1 1M375 1377l1 1M204 1382h0M198 1436l1 0M246 1426l1 1" stroke="#e2124c" stroke-width="8" stroke-linecap="round" fill="none"/><path d="M690 1489h0M699 1433h0M651 1517l-3 1M690 1592l1 1M553 1622l1 0M745 1504l2 3M622 1517l-2 0M646 1355l2 0M760 1361l3 1M699 1444h0M624 1495h0M628 1550l-2 2M706 1496l-2 2M647 1448l-2 3M582 1661l1 0M791 1496l1 0M578 1620l0 1M659 1634l3 1M601 1458l0 3M699 1385h0M577 1594l-1 1M595 1629l2 0M555 1473l-2 2M647 1552l-1 1M631 1601l0 2M563 1665l-1 3M808 1523l2 2M622 1607l0 1M722 1555l-1 1M537 1591l3 2M648 1603h0M464 1598l2 2M642 1494l2 1M621 1476l-1 1M599 1554l-2 1M661 1415l1 1M672 1584l1 2M759 1451l0 1M753 1519l0 2M669 1389h0M639 1469l-2 2M678 1352l3 0M686 1503l0 1M576 1605l-1 1M678 1515l-1 0M587 1565l-1 3M635 1635l-1 2M703 1362l2 0M569 1632h0M741 1564l2 0M688 1514l2 0M701 1438l-2 2M635 1602l0 1M632 1521l2 1M684 1386l-1 0M655 1670l-3 1M712 1669l-1 3M593 1632h0M663 1588l-1 1M557 1650l1 0M670 1494l0 1M518 1415l0 3M504 1647l1 1M773 1375l0 2M718 1390l-1 3M680 1378l0 3M591 1650l-1 1M600 1465h0M543 1662l0 1M739 1422l-1 3M650 1487h0M783 1372h0M750 1511l0 2M597 1659l0 2M741 1548h0M596 1613l3 0M655 1407h0M707 1471l2 1M777 1402l1 0M711 1552l-1 2M692 1505l-2 1M565 1503l1 1M545 1610l0 1M517 1655l2 1M610 1599l2 1M518 1442l1 3M486 1616l3 1M726 1373l1 1M651 1473l-1 1M541 1652l1 1M734 1388l1 2M605 1529l0 3M615 1659l0 3M781 1564l1 2M756 1412h0M654 1394h0M703 1650l1 3M632 1653l-1 3M546 1487l0 3M610 1409h0M463 1627l-3 1M812 1493l3 1M547 1606l2 2M698 1406l1 1M750 1360h0M780 1488l-1 0M524 1647l0 1M615 1392l2 2M697 1509l1 3M559 1649l1 2M564 1665l1 0M661 1648h0M716 1423h0M621 1603l0 2M678 1502l1 2M722 1385l-3 1M629 1600l-3 0M651 1520l-1 0M582 1566l2 0M647 1618h0M658 1474l0 1M647 1605l-1 1M676 1644l0 2M760 1476l1 1M773 1516l-2 0M578 1599l-1 0M676 1570l-1 1M770 1449l1 0M576 1548l2 1M581 1507l-1 2M656 1454l-2 0M682 1519l-1 3M553 1616h0M696 1578l2 2M706 1552l0 3M626 1620l0 2M437 1664l-2 2M650 1357l-3 1M604 1607l2 1M532 1573l3 2M601 1655l1 1M573 1679l-2 1M594 1645l-2 0M666 1513l1 0M641 1652l-1 1M595 1594l1 0M651 1392l0 3M662 1384l-2 1M624 1661l-2 2M650 1464l1 2M672 1578l0 1M595 1466l0 1M578 1665l0 1M666 1487l1 1M617 1664l1 3M691 1450l3 2M527 1671l1 0M529 1677l2 2M672 1498h0M752 1449l0 1M597 1592l0 3M723 1410l1 0M576 1634l-1 1M604 1401l-1 1M615 1478l-1 1M671 1542l-2 2M715 1673l3 0M610 1539l-1 2M774 1486l-2 1M737 1680l-3 1M533 1655h0M653 1609l0 1M545 1565l0 2M442 1632l2 0M660 1435h0M620 1451l0 3M667 1528l3 0" stroke="#e07a20" stroke-width="7" stroke-linecap="round" fill="none"/><path d="M627 1362h0M583 1430l1 2M415 1377l-1 2M467 1512h0M400 1499l1 1M451 1586l1 2M394 1615h0M361 1633l-2 2M637 1403l-1 1M442 1378l0 1M410 1623l-1 3M431 1413l0 1M354 1633l-2 0M546 1427l0 1M476 1414l1 1M341 1661l2 3M454 1435l0 1M463 1366l-1 2M540 1383l-1 1M427 1620l-2 1M436 1543l1 0M419 1434l1 1M470 1396l0 2M394 1510h0M352 1416l1 3M394 1602l0 2M416 1549l1 1M311 1665h0M412 1544h0M565 1523l1 2M403 1628l0 3M478 1501h0M545 1359h0M371 1529l-2 2M402 1477l-1 1M538 1415l-1 1M405 1535l-1 2M412 1481h0M426 1409l0 2M307 1649l0 1M438 1364l0 3M482 1467l-2 2M569 1541l0 3M355 1671l2 1M466 1462l-2 2M421 1433l1 1M425 1583l-1 0M383 1405h0M400 1632l-3 1M301 1656l1 2M536 1364l-2 1M372 1592h0M475 1549l-1 1M447 1383l2 0M479 1402l1 0M487 1455l1 0M481 1373l-1 2M497 1410l1 2M493 1588h0M366 1512l0 1M425 1537l-1 1M336 1615l-1 0M397 1385l0 2M394 1564l1 3M350 1559l2 1M405 1501l-1 2M480 1444l-2 1M364 1578l0 1M373 1510l2 2M446 1394h0M359 1601l-1 0M448 1550h0M376 1486l0 2M328 1673l-2 2M521 1391l0 1M393 1612l2 0M481 1563l-2 1M391 1548l0 1M489 1398l0 1M325 1674h0M354 1531h0M412 1602l2 0M389 1404l0 2M487 1470l2 2M498 1501l2 1M301 1678l-1 1M465 1491l0 1M521 1401l0 1M377 1613l0 2M490 1551h0M394 1609l-2 2M434 1396l3 0M482 1445h0M489 1399l1 2M466 1429l0 1M454 1509h0M425 1636l1 0M491 1435l-2 0M515 1465l1 1M521 1408l-2 2M470 1415h0M435 1476l3 1M294 1597l0 1M377 1547l-1 0M401 1439l-1 1M425 1624l-1 1M264 1684l-1 3M360 1624h0M412 1441l-1 3M443 1422l-2 1M354 1472l-2 2M407 1673l-2 2M506 1376l-1 2M402 1665l1 1M393 1439l0 1M440 1647l-1 2M330 1548l2 0M453 1401l2 2M387 1529l-2 1M464 1377l3 1M460 1476l3 1M442 1374l0 3M503 1429h0M431 1651l-1 3M440 1432l0 1M451 1398l2 0M379 1581h0M507 1434l-1 2M354 1668l0 3M409 1629h0M471 1367l-1 2M438 1541l-1 2M451 1531l-2 2M519 1390l3 1M373 1482l-2 1M415 1461l0 3M463 1528l1 2" stroke="#1e62e0" stroke-width="7" stroke-linecap="round" fill="none"/><path d="M469 1642h0M307 1642l0 2M438 1505l-1 1M381 1611l-1 1M422 1662l-1 1M374 1618h0M429 1620l-2 0M375 1617l-3 0M320 1591l1 2M575 1405l-2 1M395 1491l1 0M445 1481h0M347 1601h0M450 1416l-1 2M306 1663l1 1M396 1417h0M384 1445l-1 1M405 1566h0M363 1551l1 0M303 1611l1 1M403 1667h0M475 1483l2 2M494 1357l1 0M409 1498l0 3M388 1645l-1 2M346 1590l-1 1M450 1460l-1 2M445 1642l2 3M542 1413l2 2M407 1567l-3 1M438 1357l-1 2M403 1629l0 1M506 1486l-2 1M373 1474l-1 1M405 1539l1 2M312 1639l1 3M378 1664l3 1M516 1459l1 2M400 1682l-1 3M428 1658h0M481 1424l-1 2M465 1464l1 1M402 1435l0 3M470 1469l1 2M405 1424l-2 1M409 1389l0 1M362 1465l0 3M483 1371l-2 2M513 1438l-1 3M427 1384l-1 1M398 1500l-1 0M401 1457l1 3M421 1448l-1 1M474 1607l1 1M379 1551l2 1M376 1517h0M379 1586l1 2M470 1518l-1 0M365 1613l2 1M453 1361h0M456 1379l-1 2M442 1661l1 0M348 1657l-2 3M472 1463l-1 1M444 1500l-1 1M292 1666l1 0M415 1577l-1 2M342 1598l2 1M431 1608l2 2M495 1605l-1 0M441 1484l-3 0M285 1670l2 2" stroke="#1e62e0" stroke-width="6" stroke-linecap="round" fill="none"/><path d="M556 1667l-1 2M776 1515l-3 0M722 1660l1 1M786 1517h0M800 1409l-1 2M711 1639l-1 3M837 1504l-3 0M902 1481h0M603 1636l-2 1M786 1418l-1 2M780 1380h0M746 1597l1 1M737 1439l-1 3M849 1532l0 2M767 1402l2 1M729 1619l-3 0M570 1659h0M795 1672h0M800 1637l0 1M833 1357l-1 3M750 1546l2 3M821 1536h0M751 1532l2 1M737 1582l3 1M688 1624l0 2M871 1588l-2 0M786 1531l1 0M806 1385l-2 0M745 1670h0M666 1674l3 1M728 1678l2 0M782 1545l0 3M667 1620l-1 1M794 1373l1 1M809 1360l3 1M737 1633h0M812 1426h0M844 1413l2 1M692 1676h0M702 1626l3 1M728 1645l2 2M782 1425l3 1M707 1675l2 2M818 1367h0M715 1586l0 3M604 1669l-1 2M843 1644l-2 0M746 1440l0 1M666 1678l-3 0M707 1683l2 1M833 1456l-1 2M652 1434l0 1M722 1661l-1 1M830 1441l-3 0M631 1536l0 1M926 1392l0 1M649 1408l1 0M724 1550h0M649 1460l1 0M909 1387l2 3M770 1616l0 3M847 1597l2 0M819 1448l-3 1M747 1452l-1 0M706 1636l1 2M677 1615l3 2M883 1432l-1 1M865 1361l-1 2M788 1681l2 2M823 1437l-2 1" stroke="#e8d820" stroke-width="5" stroke-linecap="round" fill="none"/><path d="M338 1509l2 2M264 1529l1 1M295 1439l0 1M253 1524h0M213 1488h0M199 1411l0 1M257 1587l3 1M301 1615l2 1M305 1634h0M393 1408l0 1M195 1620l1 1M270 1607l-1 1M276 1361l-1 1M223 1597l-1 1M250 1562h0M279 1564l-2 2M211 1526l2 1M254 1613h0M409 1387l-1 1" stroke="#e060a0" stroke-width="6" stroke-linecap="round" fill="none"/><path d="M382 1662l-1 2M628 1518h0M339 1561l0 2M434 1597l1 0M407 1668l1 1M481 1362l-3 1M511 1428l1 1M363 1464l1 1M388 1532l1 1M418 1581l1 0M357 1446l1 1M501 1445l-2 2M409 1641l1 0M642 1493l-2 2M381 1522l0 2M709 1530l-2 2M409 1592l2 1M494 1366l0 1M508 1389h0M391 1379l0 3M422 1546h0M415 1557l-3 1M451 1569l-2 2M352 1480l-1 2M329 1606h0M635 1544l-2 1M389 1544l-1 3M398 1579l3 0M637 1442l2 1M597 1656l-3 0M708 1480l1 1M477 1506l3 0M482 1581l-1 3M587 1561l2 2M585 1559l0 3M418 1519l2 1M338 1682l-2 3M475 1360l1 2M358 1510l-3 2M673 1383l1 2" stroke="#3aa0e8" stroke-width="7" stroke-linecap="round" fill="none"/><path d="M384 1623l1 2M428 1368l2 2M459 1605l1 1M475 1451l1 3M327 1657l1 0M421 1511l-1 1M513 1441l2 1M313 1630l1 0M375 1452l0 1M470 1399l-1 1M470 1522l-1 1M334 1554l0 1M537 1434h0M396 1484l-1 1M382 1536l-2 2M428 1636l3 1M510 1430h0M432 1588h0M329 1609l-1 2M485 1393l0 1M395 1500h0M359 1547l0 1M424 1641l-3 1M398 1655l-2 0M367 1525l-2 3M450 1530l3 0M468 1387h0M439 1506h0M461 1564l0 1M409 1481l1 3M511 1361l-1 2M468 1450l-1 3M433 1581l2 2M421 1674l-1 1M465 1443l2 1M397 1381l0 1M291 1667l2 1M310 1602h0M492 1441l2 3M461 1470l1 1M417 1451l0 1M351 1568l0 1M528 1360l1 0M324 1661l-1 0M388 1597l-1 2M402 1434h0M502 1399l-2 0M391 1405l-1 2M490 1356l-3 1M382 1651l-2 2M450 1439h0M414 1669h0M401 1474l1 1M439 1417l0 1M416 1643l1 2M386 1628l1 0M416 1487l0 1M438 1510l-1 3M294 1684l1 2M553 1352l-3 1M467 1570l0 1M402 1434l1 1M463 1477l2 1M351 1586l1 1M516 1358h0M473 1588l1 2M519 1652l0 1M510 1465l-1 3M451 1381l-2 0M349 1565l2 2" stroke="#1e62e0" stroke-width="8" stroke-linecap="round" fill="none"/><path d="M791 1518l1 1M829 1591l-2 0M797 1575l0 1M729 1528l2 1M800 1532h0M711 1648l1 3M862 1459l-2 0M875 1513l1 0M662 1636l-1 1M761 1603l0 1M892 1422l3 1M701 1598l0 2M798 1481l0 2M703 1544h0M831 1462l0 1M834 1352l-1 1M796 1394l1 3M813 1496l0 3M614 1653l-1 1M794 1428l0 1M765 1592l0 1M884 1595l1 0M550 1674h0M822 1366l3 2M750 1609l1 0M741 1464l2 1M787 1532l-1 1M969 1383l-3 2M781 1437l0 2M787 1475l-2 0M891 1500l0 1M800 1428h0M739 1620l-1 0M808 1627l1 2M824 1499l0 1M732 1553l0 1M774 1474h0M808 1448l1 1M775 1594l2 2M778 1652l0 1M726 1445l0 1M735 1608h0M860 1434l2 2M829 1419l1 1M735 1413l-1 2M779 1554l-3 1M789 1532l0 1M817 1415l-1 1M643 1472h0M773 1465l0 1M754 1620l1 2M825 1476l-3 0M679 1606l1 2M819 1522l0 1M764 1588l-1 3M703 1608h0M751 1646h0M797 1468l-1 2M747 1618l-1 2M834 1485l0 1M878 1461l0 1M800 1486h0M801 1538l-1 1M635 1594l-1 2M724 1649l2 1M769 1548l1 1M751 1612h0M837 1515l0 1M872 1420h0M830 1438h0M838 1402l0 1M717 1636l2 1M705 1534h0M794 1512l1 0M756 1589h0M734 1573h0M768 1675l1 0M749 1658h0M867 1382l-1 2M727 1661l1 3M761 1532l0 1M806 1637l1 1M922 1382h0M937 1359l-3 1M838 1542l1 1M712 1651l1 0M718 1541l-2 3M855 1600l0 2M828 1538l-1 1M743 1581l-1 2M816 1366h0M839 1597l2 3M945 1409l0 1M853 1420l0 1M867 1499l1 1M696 1618l-2 1M674 1548l1 2M867 1391l0 2M870 1448l0 1M836 1641l-1 1M833 1623h0M877 1400l1 1M895 1428l3 1M761 1594h0M766 1569l0 1M827 1376l-2 1M846 1431l3 1M816 1509h0M812 1417l2 2M796 1528l-1 0M836 1571l2 0M784 1664l2 1M764 1463l0 1M657 1505l-1 3M800 1456l2 0M879 1502h0M690 1578l-2 2M742 1615l0 2M661 1679l-1 1M844 1409h0M859 1427l-2 1M912 1398l-2 1M912 1367l0 2M788 1429l0 1M775 1383l-1 1M750 1483l1 1M797 1460h0M831 1365l-2 2M750 1624l0 2" stroke="#e8d820" stroke-width="7" stroke-linecap="round" fill="none"/><path d="M500 1586l-2 3M492 1672l-1 3M618 1379h0M752 1436l1 1M581 1436h0M485 1670h0M564 1405l-1 3M483 1616h0M444 1625l0 1M716 1498h0M644 1635h0M461 1602l-2 2M585 1437l1 1M581 1457l-3 2M667 1657l1 1M458 1632l0 3M586 1542h0M524 1623l0 2M597 1366l0 1M530 1573l-1 1M581 1377l-1 1M665 1479l-1 0M575 1647l2 1M556 1523l-2 1M681 1371l0 3M617 1450h0M544 1446l2 2M579 1680l2 2M484 1512l-2 2M579 1377l0 1M578 1429l1 1M331 1592l0 1M541 1655l0 1M477 1636l1 3M567 1475h0M620 1415l3 2M740 1361l1 1M597 1445l-1 1M498 1640l0 2M452 1600l2 1M486 1619l-3 1M507 1604l0 2M511 1571l-3 1M475 1627l-1 3M555 1492h0M508 1554l-1 1M631 1394l0 1M564 1460l1 3M528 1452l0 2M624 1363l-1 1M573 1637l1 2M519 1613l-3 1M618 1561l-2 1M514 1551l-2 0M643 1602l2 0M428 1650l-2 0M493 1678l2 2M492 1677l-2 0M506 1522l2 1" stroke="#50d030" stroke-width="5" stroke-linecap="round" fill="none"/><path d="M332 1449l0 2M296 1623l-2 0M228 1413h0M325 1451l-1 1M130 1639h0M357 1446h0M349 1454l-1 3M318 1544l1 0M307 1495l3 2M172 1524l-1 3M252 1614l-2 2M405 1372l-1 2M223 1494l-2 3M198 1473l-1 1M355 1445l0 1M368 1398l1 2M191 1486h0M225 1450l1 1M284 1593l3 0M273 1497l1 1M288 1556h0M327 1404l1 1M277 1471l2 0M271 1385l0 1M274 1590l-2 1M268 1680l-1 3M279 1397l-1 1M222 1639l-3 2M185 1546l1 2M248 1367l2 0M244 1641h0M271 1583l-1 0M338 1499l0 2M304 1493l0 3M227 1438l1 3M279 1596l0 2M189 1449l3 1M225 1443l0 2M309 1482l0 1M270 1434l-2 2M193 1419l-1 1M342 1410l-1 1M300 1410l0 1M311 1428l-1 1M320 1597l0 1M263 1485h0M175 1565l-2 2M164 1622h0M245 1441l2 0M338 1474l3 0M322 1576l3 1M164 1575l0 1M239 1593l1 1M287 1374l-2 2M364 1426l-3 1M145 1597l3 0M191 1611l1 2M203 1610h0M343 1584l-2 2M381 1437l-2 0M184 1477l0 1M256 1369l1 2M397 1524l-1 0M194 1466h0M192 1683l1 1M238 1555l0 2M364 1679l3 1M228 1644l2 1M327 1505l1 2M294 1649h0M156 1609l-1 1M209 1471l1 1M283 1391l-1 3M181 1549l0 3M178 1608l-2 2M247 1441l1 2M335 1436l1 0M245 1424l-2 0M386 1385h0M381 1623l-1 0M286 1373h0M195 1439l0 1M205 1634l0 2M335 1386l-3 0M264 1640l-2 3M201 1515l0 2M239 1481h0M398 1396l-2 3M273 1554l1 2M216 1544l-2 0M343 1451l-1 1M206 1581l-2 1M277 1413l-1 2M277 1382l-1 2M397 1354l2 3M318 1580l-1 1M222 1656l-1 1" stroke="#e2124c" stroke-width="5" stroke-linecap="round" fill="none"/><path d="M669 1565l1 3M632 1658l0 3M722 1393l-1 0M648 1531l2 1M464 1663h0M668 1475l2 0M524 1666h0M639 1609l3 1M709 1512h0M588 1670l-1 1M497 1466l-1 1M578 1682l1 1M558 1605l-2 2M649 1540l0 2M647 1569l1 1M679 1662l-1 1M557 1669l2 1M480 1608l2 0M728 1445h0M661 1664l-3 0M563 1584l1 0M573 1636l-2 1M716 1396l0 1M563 1423l1 0M718 1494l-2 1M729 1440h0M691 1513l3 0M692 1649l0 1M731 1396l-1 3M658 1599l1 0M516 1666l0 1M639 1631l0 2M697 1479h0M600 1546l0 2M684 1355l1 2M725 1497l-2 3M612 1443l2 2M767 1501l1 2M722 1534h0M659 1512l2 0M674 1521h0M724 1485l-1 3M599 1356l2 0M589 1590l0 1M583 1596h0M580 1680l-3 1M650 1406h0M690 1581l-1 0M746 1390l-2 3M743 1384l1 0M781 1426l1 2M699 1486l-1 1M711 1627l2 3M555 1683l0 1M637 1394l2 0M670 1367l-1 2M724 1428l0 1M673 1428h0M577 1635l-1 0M611 1571h0M752 1637l0 1M581 1602l0 3M701 1584l0 1M785 1463l-1 0M697 1409h0M737 1422l1 0M656 1659l-3 1M607 1561h0M683 1394h0M624 1629h0M527 1672h0M688 1521l1 0M520 1469l1 3M620 1594l-1 1M651 1665l1 0M725 1561l1 1M548 1449l2 3M608 1642h0M520 1646l2 3M622 1404l2 2M764 1424l3 0M692 1407l-2 2M476 1672l0 1M615 1437l-1 1M681 1364l-3 0M535 1534l-2 2M683 1446l-1 1M722 1436l1 1M622 1494h0M695 1540l2 1M649 1379l-1 2M800 1547l0 1M568 1427h0M529 1530l1 1M654 1647h0M683 1383l1 0M774 1516l1 2M634 1453l-1 2M606 1642h0M586 1483h0M724 1412l1 3M673 1403h0M642 1588l-2 1M607 1469h0M753 1355l0 3M676 1466h0M701 1559l-3 1M685 1523l1 3M822 1379l0 1" stroke="#e07a20" stroke-width="5" stroke-linecap="round" fill="none"/><path d="M847 1588l-2 2M875 1480l-2 1M866 1402l1 2M832 1598h0M805 1459l-3 1M845 1491l-1 1M964 1365l2 1M763 1470l0 1M905 1367l0 3M844 1511l-1 2M831 1516l3 1M806 1414l1 0M739 1608l-2 1M892 1504l1 2M897 1433l1 3M808 1531h0M864 1422l1 1M840 1451l0 1M907 1352l-1 1M848 1456l1 0M783 1442l2 3M852 1479l-3 1M753 1665l-1 3M729 1510l1 0M823 1400l0 2M812 1683l1 1M805 1431l1 2M804 1679h0M883 1391l-2 3M770 1591l1 1M845 1434l2 1M864 1396l-2 1M862 1533l0 2M882 1526l1 2M789 1372l2 0M826 1526l3 1" stroke="#20d8e0" stroke-width="6" stroke-linecap="round" fill="none"/><path d="M838 1370l0 2M804 1613l3 0M731 1672l1 0M791 1609l-1 2M758 1514l-1 3M877 1418l-1 0M817 1572l1 0M829 1562l-1 0M838 1522l1 1M817 1473l2 1M838 1522l-3 1M940 1417l0 2M752 1574l1 1M779 1626h0M890 1368h0M914 1424h0M927 1391l1 1M814 1592l1 2M921 1404l3 0M704 1682l0 3M840 1537l-3 1M844 1424l-1 1M761 1485h0M840 1523l0 1M821 1385l-1 1M849 1545l-1 1M793 1550l-1 3" stroke="#20d8e0" stroke-width="5" stroke-linecap="round" fill="none"/><path d="M816 1379l-1 2M589 1592l-2 2M806 1362l3 1M754 1414l1 1M676 1497l1 1M685 1599l0 1M728 1474l1 1M657 1508l-2 1M627 1474l1 0M637 1651l-1 1M658 1550l-2 2M548 1615l-2 1M576 1558l-2 0M693 1385l1 3M671 1559l-1 1M721 1529l0 2M585 1528l0 1M743 1355l1 3M761 1367l-2 0M468 1659l2 3M529 1627l0 1M561 1562l-3 1M607 1483l0 2M560 1652l1 2M700 1518h0M745 1435l-1 3M651 1500l-2 1M692 1421l-2 3M726 1439l1 0M653 1613l0 1M755 1427l2 3M676 1613l-1 1M668 1392l-2 0M728 1405l0 1M565 1575l0 1M654 1433l-3 2M764 1379h0M680 1606l-2 0M744 1460l0 1M733 1411l0 2M594 1486l-2 1M660 1357l0 1M520 1467l3 2M659 1535l0 2M644 1556l1 1M679 1509l-3 1M677 1526l-1 3M623 1523l0 1M658 1600l-1 3M846 1448h0M588 1608h0M553 1677l1 0M685 1483h0M620 1444l0 3M711 1451l-3 1M628 1449l-3 0M617 1656h0M629 1570l-1 0M712 1374l1 1M680 1424l1 1M733 1448l-1 2M714 1383l-2 1M571 1674l1 0M837 1363l2 3M678 1364h0M623 1374h0M615 1415h0M768 1412l-1 0M792 1489h0M640 1578l-2 2M643 1623l-2 2M673 1665l0 3M638 1506l2 0M638 1598h0M559 1629h0M762 1608l2 0M777 1520l1 1M664 1618l0 2M632 1658l-1 1M638 1426l3 1M592 1457l-1 0M577 1563l0 1M660 1531l2 2M695 1588l-2 0M579 1655l-1 1M626 1639l3 2" stroke="#e07a20" stroke-width="8" stroke-linecap="round" fill="none"/><path d="M220 1598l1 0M208 1378l0 3M263 1429l1 1M301 1598l2 2M383 1413l1 2M158 1642l-1 1M227 1358l-1 2M317 1496l1 1M225 1398l3 2M370 1382l2 2M198 1657l1 0M369 1473l1 1M160 1632l0 2M161 1617l0 1M214 1584l-2 3M274 1469l0 2M255 1537l2 2M339 1366l1 3M385 1374l-2 1M371 1368h0M360 1489l1 0" stroke="#e060a0" stroke-width="5" stroke-linecap="round" fill="none"/><path d="M381 1609h0M489 1378l1 3M375 1573l-3 1M346 1536l1 0M444 1420h0M353 1485l-1 0M505 1569l0 1M622 1354h0M429 1651l-2 0M411 1591l-2 0M403 1537h0M384 1553h0M459 1547l-3 1M456 1466l1 1M535 1441l-1 0M413 1566l2 2M424 1606l2 1M482 1468l0 1M331 1658l0 2M395 1604l0 3M451 1474l-1 2M385 1620h0M466 1429l0 3M503 1434l1 1M507 1369h0M520 1388h0M390 1585l2 2M344 1588l0 3M516 1360l-2 2M447 1581l2 1M374 1570l-1 0M407 1440h0M407 1660l-2 3M390 1554l-1 0M370 1458l1 1M362 1624l1 1M437 1497l-2 1M315 1585l-2 3M436 1524l3 1M433 1486l2 1M393 1516l0 1M489 1510l-1 1M477 1508l1 1M437 1613l2 2M416 1618l1 2M297 1677l2 2M472 1460l-3 1M390 1540l-1 1M487 1449h0M505 1438l1 1M536 1378l-2 3M350 1660l2 0M412 1447l0 1M403 1488l0 3M442 1492l1 1M478 1669h0M394 1621l-1 1M414 1634l1 1M327 1627l0 3M322 1528h0M362 1610l3 1" stroke="#1e62e0" stroke-width="5" stroke-linecap="round" fill="none"/><path d="M460 1411l1 3M427 1433l2 3M443 1596l-1 3M356 1671l3 2M442 1578h0M669 1540l2 2M353 1667l-2 2M437 1454l1 1M467 1489l-3 0M481 1559l0 1M398 1623l1 2M362 1532l0 1M494 1408l2 1M473 1577l0 1M386 1651h0M397 1683l3 1M463 1498l-2 2M457 1353l-1 1M434 1505l1 1M428 1402l1 0M635 1436l0 1" stroke="#3aa0e8" stroke-width="8" stroke-linecap="round" fill="none"/><path d="M530 1547h0M741 1586l-1 1M692 1494l2 1M714 1360l-2 0M707 1404l3 1M724 1542l-2 1M568 1683l1 1M612 1440l-3 1M594 1547l0 1M718 1354l-2 0M616 1480h0M725 1431h0M608 1364l1 1M693 1487l-3 1M474 1588l-1 3M703 1456h0M712 1539l1 0M657 1423h0M548 1626h0M665 1681l0 2M608 1617h0M680 1438l0 3M674 1639l-2 1M612 1589h0M602 1415l0 1M588 1538l3 0M605 1426l1 3M782 1604l0 2M760 1397l-3 1M638 1495h0M605 1559h0M631 1431l0 2M585 1399l2 2M628 1629l-1 1M628 1561l2 0M560 1579l2 0M670 1495l1 0M781 1352l-1 2M674 1608l-1 0M675 1362l-1 3M598 1593l0 1M718 1449h0M669 1418l-1 1M629 1609l0 1M668 1578h0M642 1539h0M663 1534l2 0M771 1365l2 2M475 1600l1 0M582 1445l-1 1M660 1565l-2 0M632 1610l2 1M557 1578h0M661 1513l2 3M651 1549l2 0M655 1368l-2 2M733 1405l3 2M709 1475l-2 1M688 1386h0M641 1589l2 1M606 1659l3 0M606 1500l0 2M639 1603l-2 2M556 1423l2 0M599 1581l-1 3M622 1597h0M629 1443l1 2M743 1483l1 2M442 1657l2 3M654 1371l0 2M654 1638l3 2M679 1611l0 1M507 1453h0M771 1354h0M549 1657l-2 1M636 1422l2 3M595 1605l0 1M676 1464l-1 2M687 1475l1 1M615 1552h0M708 1385l-3 1M609 1644l-1 1M566 1600l0 2M672 1661l-3 2M430 1682l0 1M471 1585l0 1M660 1370l-3 1M654 1633l2 2M660 1436l1 1" stroke="#e07a20" stroke-width="6" stroke-linecap="round" fill="none"/><path d="M829 1627l0 1M863 1579h0M900 1530l1 0M832 1540l0 1M909 1462l2 2M840 1424l2 0M882 1519l-2 1M904 1408h0M834 1604l0 3M788 1608l-2 2M890 1580l2 0M903 1392h0M847 1679l1 1M928 1375l1 2M926 1468h0M906 1451l-3 1M974 1363l-1 1M896 1488l-1 0M840 1494h0M851 1451l-1 2" stroke="#9020d0" stroke-width="8" stroke-linecap="round" fill="none"/><path d="M741 1659l1 1M778 1649h0M877 1382h0M679 1673l0 1M827 1504l-1 2M819 1585l0 3M913 1416h0M927 1361h0M782 1490l2 1M721 1542l1 2M872 1444l-2 2M821 1578l1 1M801 1498l-1 2M706 1611l2 1M904 1355l0 2M737 1626l1 3M814 1655l0 1M794 1636l1 0M879 1450l1 0M882 1391l2 1M804 1487l-1 1M719 1613l2 2M808 1510l0 2M858 1648l-2 1M774 1452l2 1M782 1518l1 2M877 1364l-1 1M766 1620l1 3M821 1420l-1 1M814 1618l2 2M860 1414l0 1M817 1368l2 1M846 1497l-2 1" stroke="#20d8e0" stroke-width="8" stroke-linecap="round" fill="none"/><path d="M884 1426l-3 1M879 1460h0M815 1674l-1 3M813 1665l1 0M829 1644l-1 1M842 1634l1 1M960 1391l3 1M917 1420l1 3M889 1452l0 3M960 1391l-2 2M927 1369l-1 2" stroke="#9020d0" stroke-width="5" stroke-linecap="round" fill="none"/><path d="M821 1376h0M780 1448l0 1M683 1559l-2 0M755 1593l-2 2M766 1467l2 2M922 1405h0M915 1359l-1 3M671 1656l1 0M744 1561l-3 1M802 1515l-2 2M711 1481l-1 2M736 1632l-1 0M871 1355l-2 0M742 1470l1 1M753 1534l-1 3M577 1668l-1 2M736 1575l0 1M620 1588l1 2M837 1388l1 2M857 1439l0 2M825 1587l-1 2M749 1604l-1 1M792 1425l-2 1M864 1499l0 2M879 1481l2 2M807 1411h0M741 1460h0M762 1660l2 1M797 1434l2 2M846 1399l0 1M702 1670h0M937 1392l-1 0M829 1480l-1 1M827 1501l1 1M781 1427l-1 1M848 1524l1 3M631 1633l-1 3M739 1391l1 3M911 1368l-1 3M822 1393h0M732 1647l-1 2M816 1437l0 1M749 1573h0M857 1398l-2 2M736 1444l-3 1M746 1523l0 2M845 1388l1 3M699 1651l1 2M859 1528l0 2M817 1431h0M839 1410l1 2M761 1526l-2 1M778 1392l1 3M630 1654h0M851 1614l-2 2M794 1407l-3 0M754 1596l2 1M730 1618l2 0M761 1519l-2 1" stroke="#e8d820" stroke-width="8" stroke-linecap="round" fill="none"/><path d="M948 1355l0 1M924 1373l0 2M909 1522l2 1M842 1666h0M872 1524l3 1M861 1488l-3 0M889 1531l-1 1M930 1481h0M951 1359l-1 1M917 1516l0 1M916 1520l0 1M851 1552l-1 2M909 1506l0 1M848 1586l1 1" stroke="#9020d0" stroke-width="6" stroke-linecap="round" fill="none"/><path d="M807 1469l-2 1M809 1455l-2 1M796 1355l2 2M783 1467l0 2M836 1583l1 0M727 1524l3 1M532 1648l0 1M760 1440h0M786 1525h0M847 1393l-1 1M737 1516h0M848 1360h0M666 1657l-1 2M763 1534l-3 0M751 1678l1 1M750 1530h0M764 1549l1 2M560 1666l-1 2M728 1615l3 1M638 1579l0 1M838 1514l-3 2M709 1484l-1 1M842 1516l-3 1M830 1407l0 1M790 1547h0M724 1518l2 1M748 1404l-1 0M766 1524l2 2M785 1539l0 1M779 1504l1 0M693 1552l-1 1M664 1632h0M732 1568h0M707 1615l2 1M836 1592l2 0M952 1402l3 2M737 1634l3 1M803 1381l-2 2M712 1519l1 0M767 1563l3 0M746 1439l-2 3M729 1521h0M822 1354l2 2" stroke="#e8d820" stroke-width="6" stroke-linecap="round" fill="none"/><path d="M196 1595l0 1M235 1561h0M383 1372h0M142 1498l-2 1M263 1368l-2 0M284 1554l-3 0M283 1517h0M215 1533h0M307 1544l-1 2M387 1384l-2 2M271 1550l2 2M305 1477l-2 1M324 1401l-3 1M221 1589l-2 2M222 1605l-1 3M266 1544l-2 1M179 1588l1 1M314 1452l-2 3M261 1557l0 1M260 1676l0 1M175 1553h0M265 1413l2 1M192 1420l1 1M201 1563l0 2M183 1452l-1 1M253 1542l-2 0M227 1611l1 1M212 1480l1 1M298 1514l-3 1M257 1354l0 3M255 1428l1 1M336 1458l-2 2M147 1660l1 0" stroke="#e060a0" stroke-width="7" stroke-linecap="round" fill="none"/><path d="M223 1435l0 2M226 1546l-3 0M202 1646h0M208 1404l0 1M165 1551l3 1M313 1455l-3 0M206 1575l0 1M252 1588l-1 2M318 1377l0 2M239 1439l-1 1M226 1356h0M264 1507l2 1M281 1553l-1 1M204 1587l1 0M155 1503l0 1M170 1615h0M215 1419l2 1M295 1581l-1 0" stroke="#e060a0" stroke-width="8" stroke-linecap="round" fill="none"/><path d="M309 1586l1 2M511 1448l1 0M762 1380l3 0M366 1567l-1 1M775 1384h0M477 1511l0 2M403 1364l0 1M666 1625l-2 0M505 1410l1 3M454 1404l-1 1M569 1577l0 1M400 1553l1 0M287 1647l-1 3M669 1520l-1 2M434 1643l-3 1" stroke="#3aa0e8" stroke-width="6" stroke-linecap="round" fill="none"/><path d="M413 1573l0 1M426 1412h0M371 1669l-1 1M497 1367l1 0M370 1545h0M470 1493l-1 1M512 1369l-2 3M478 1465l2 3M501 1441l1 0M430 1595l-1 0M415 1434l0 1M443 1540l0 2M362 1642h0" stroke="#3aa0e8" stroke-width="5" stroke-linecap="round" fill="none"/><rect x="922" y="1697.5" width="63" height="4" fill="#fff"/><text x="953.5" y="1693" font-size="7.5" fill="#ccc" text-anchor="middle">100 μm</text><circle cx="56" cy="1737.5" r="9.3" fill="#f87c80"/><text x="68.5" y="1746.5" font-size="25" font-style="italic">Rasgrf2</text><circle cx="173.3" cy="1737.5" r="9.3" fill="#c0143c"/><text x="185.8" y="1746.5" font-size="25" font-style="italic">Cux2</text><circle cx="272.7" cy="1737.5" r="9.3" fill="#8ab0f5"/><text x="285.2" y="1746.5" font-size="25" font-style="italic">Plcxd2</text><circle cx="391.4" cy="1737.5" r="9.3" fill="#1a1af0"/><text x="403.9" y="1746.5" font-size="25" font-style="italic">Rorb</text><circle cx="492.9" cy="1737.5" r="9.3" fill="#48c028"/><text x="505.4" y="1746.5" font-size="25" font-style="italic">Kcnk2</text><circle cx="611.6" cy="1737.5" r="9.3" fill="#e87b2a"/><text x="624.1" y="1746.5" font-size="25" font-style="italic">Sulf2</text><circle cx="715" cy="1737.5" r="9.3" fill="#f0e010"/><text x="727.5" y="1746.5" font-size="25" font-style="italic">Foxp2</text><circle cx="828.2" cy="1737.5" r="9.3" fill="#18e0e0"/><text x="840.7" y="1746.5" font-size="25" font-style="italic">Pcp4</text><circle cx="930.2" cy="1737.5" r="9.3" fill="#9018c8"/><text x="942.7" y="1746.5" font-size="25" font-style="italic">Ctgf</text><text x="1058" y="360.5" font-size="52" fill="#231815" font-weight="bold">e</text><rect x="1086.2" y="363" width="896.6" height="329.6" fill="#000"/><path d="M1203 372Q1140 420 1115 500Q1102 580 1100 672H1970V372Z" fill="#050a05"/><path d="M1109 371V671M1137.6 371V671M1166.2 371V671M1194.8 371V671M1223.4 371V671M1252 371V671M1280.6 371V671M1309.2 371V671M1337.8 371V671M1366.4 371V671M1395 371V671M1423.6 371V671M1452.2 371V671M1480.8 371V671M1509.4 371V671M1538 371V671M1566.6 371V671M1595.2 371V671M1623.8 371V671M1652.4 371V671M1681 371V671M1709.6 371V671M1738.2 371V671M1766.8 371V671M1795.4 371V671M1824 371V671M1852.6 371V671M1881.2 371V671M1909.8 371V671M1938.4 371V671M1967 371V671M1105.5 399H1975M1105.5 427.6H1975M1105.5 456.2H1975M1105.5 484.8H1975M1105.5 513.4H1975M1105.5 542H1975M1105.5 570.6H1975M1105.5 599.2H1975M1105.5 627.8H1975M1105.5 656.4H1975" stroke="#ffffff" stroke-opacity="0.2" stroke-width="0.8" fill="none"/><path d="M1093.5 367H1978V675H1093.5Z M1105.5 371H1975V671H1105.5Z M1093.5 367L1105.5 371M1093.5 675L1105.5 671M1978 675L1975 671M1978 367L1975 371" stroke="#9a9a9a" stroke-width="1" fill="none"/><path d="M1108.5 671v-5M1115.4 671v-3M1122.3 671v-3M1129.2 671v-3M1136.1 671v-3M1143 671v-5M1149.9 671v-3M1156.8 671v-3M1163.7 671v-3M1170.6 671v-3M1177.5 671v-5M1184.4 671v-3M1191.3 671v-3M1198.2 671v-3M1205.1 671v-3M1212 671v-5M1218.9 671v-3M1225.8 671v-3M1232.7 671v-3M1239.6 671v-3M1246.5 671v-5M1253.4 671v-3M1260.3 671v-3M1267.2 671v-3M1274.1 671v-3M1281 671v-5M1287.9 671v-3M1294.8 671v-3M1301.7 671v-3M1308.6 671v-3M1315.5 671v-5M1322.4 671v-3M1329.3 671v-3M1336.2 671v-3M1343.1 671v-3M1350 671v-5M1356.9 671v-3M1363.8 671v-3M1370.7 671v-3M1377.6 671v-3M1384.5 671v-5M1391.4 671v-3M1398.3 671v-3M1405.2 671v-3M1412.1 671v-3M1419 671v-5M1425.9 671v-3M1432.8 671v-3M1439.7 671v-3M1446.6 671v-3M1453.5 671v-5M1460.4 671v-3M1467.3 671v-3M1474.2 671v-3M1481.1 671v-3M1488 671v-5M1494.9 671v-3M1501.8 671v-3M1508.7 671v-3M1515.6 671v-3M1522.5 671v-5M1529.4 671v-3M1536.3 671v-3M1543.2 671v-3M1550.1 671v-3M1557 671v-5M1563.9 671v-3M1570.8 671v-3M1577.7 671v-3M1584.6 671v-3M1591.5 671v-5M1598.4 671v-3M1605.3 671v-3M1612.2 671v-3M1619.1 671v-3M1626 671v-5M1632.9 671v-3M1639.8 671v-3M1646.7 671v-3M1653.6 671v-3M1660.5 671v-5M1667.4 671v-3M1674.3 671v-3M1681.2 671v-3M1688.1 671v-3M1695 671v-5M1701.9 671v-3M1708.8 671v-3M1715.7 671v-3M1722.6 671v-3M1729.5 671v-5M1736.4 671v-3M1743.3 671v-3M1750.2 671v-3M1757.1 671v-3M1764 671v-5M1770.9 671v-3M1777.8 671v-3M1784.7 671v-3M1791.6 671v-3M1798.5 671v-5M1805.4 671v-3M1812.3 671v-3M1819.2 671v-3M1826.1 671v-3M1833 671v-5M1839.9 671v-3M1846.8 671v-3M1853.7 671v-3M1860.6 671v-3M1867.5 671v-5M1874.4 671v-3M1881.3 671v-3M1888.2 671v-3M1895.1 671v-3M1902 671v-5M1908.9 671v-3M1915.8 671v-3M1922.7 671v-3M1929.6 671v-3M1936.5 671v-5M1943.4 671v-3M1950.3 671v-3M1957.2 671v-3M1964.1 671v-3M1971 671v-5M1094.5 374h6M1094.5 380.6h4M1094.5 387.2h4M1094.5 393.8h4M1094.5 400.4h4M1094.5 407h6M1094.5 413.6h4M1094.5 420.2h4M1094.5 426.8h4M1094.5 433.4h4M1094.5 440h6M1094.5 446.6h4M1094.5 453.2h4M1094.5 459.8h4M1094.5 466.4h4M1094.5 473h6M1094.5 479.6h4M1094.5 486.2h4M1094.5 492.8h4M1094.5 499.4h4M1094.5 506h6M1094.5 512.6h4M1094.5 519.2h4M1094.5 525.8h4M1094.5 532.4h4M1094.5 539h6M1094.5 545.6h4M1094.5 552.2h4M1094.5 558.8h4M1094.5 565.4h4M1094.5 572h6M1094.5 578.6h4M1094.5 585.2h4M1094.5 591.8h4M1094.5 598.4h4M1094.5 605h6M1094.5 611.6h4M1094.5 618.2h4M1094.5 624.8h4M1094.5 631.4h4M1094.5 638h6M1094.5 644.6h4M1094.5 651.2h4M1094.5 657.8h4M1094.5 664.4h4M1097.5 368l3 2M1104.4 368l3 2M1111.3 368l3 2M1118.2 368l3 2M1125.1 368l3 2M1132 368l3 2M1138.9 368l3 2M1145.8 368l3 2M1152.7 368l3 2M1159.6 368l3 2M1166.5 368l3 2M1173.4 368l3 2M1180.3 368l3 2M1187.2 368l3 2M1194.1 368l3 2M1201 368l3 2M1207.9 368l3 2M1214.8 368l3 2M1221.7 368l3 2M1228.6 368l3 2M1235.5 368l3 2M1242.4 368l3 2M1249.3 368l3 2M1256.2 368l3 2M1263.1 368l3 2M1270 368l3 2M1276.9 368l3 2M1283.8 368l3 2M1290.7 368l3 2M1297.6 368l3 2M1304.5 368l3 2M1311.4 368l3 2M1318.3 368l3 2M1325.2 368l3 2M1332.1 368l3 2M1339 368l3 2M1345.9 368l3 2M1352.8 368l3 2M1359.7 368l3 2M1366.6 368l3 2M1373.5 368l3 2M1380.4 368l3 2M1387.3 368l3 2M1394.2 368l3 2M1401.1 368l3 2M1408 368l3 2M1414.9 368l3 2M1421.8 368l3 2M1428.7 368l3 2M1435.6 368l3 2M1442.5 368l3 2M1449.4 368l3 2M1456.3 368l3 2M1463.2 368l3 2M1470.1 368l3 2M1477 368l3 2M1483.9 368l3 2M1490.8 368l3 2M1497.7 368l3 2M1504.6 368l3 2M1511.5 368l3 2M1518.4 368l3 2M1525.3 368l3 2M1532.2 368l3 2M1539.1 368l3 2M1546 368l3 2M1552.9 368l3 2M1559.8 368l3 2M1566.7 368l3 2M1573.6 368l3 2M1580.5 368l3 2M1587.4 368l3 2M1594.3 368l3 2M1601.2 368l3 2M1608.1 368l3 2M1615 368l3 2M1621.9 368l3 2M1628.8 368l3 2M1635.7 368l3 2M1642.6 368l3 2M1649.5 368l3 2M1656.4 368l3 2M1663.3 368l3 2M1670.2 368l3 2M1677.1 368l3 2M1684 368l3 2M1690.9 368l3 2M1697.8 368l3 2M1704.7 368l3 2M1711.6 368l3 2M1718.5 368l3 2M1725.4 368l3 2M1732.3 368l3 2M1739.2 368l3 2M1746.1 368l3 2M1753 368l3 2M1759.9 368l3 2M1766.8 368l3 2M1773.7 368l3 2M1780.6 368l3 2M1787.5 368l3 2M1794.4 368l3 2M1801.3 368l3 2M1808.2 368l3 2M1815.1 368l3 2M1822 368l3 2M1828.9 368l3 2M1835.8 368l3 2M1842.7 368l3 2M1849.6 368l3 2M1856.5 368l3 2M1863.4 368l3 2M1870.3 368l3 2M1877.2 368l3 2M1884.1 368l3 2M1891 368l3 2M1897.9 368l3 2M1904.8 368l3 2M1911.7 368l3 2M1918.6 368l3 2M1925.5 368l3 2M1932.4 368l3 2M1939.3 368l3 2M1946.2 368l3 2M1953.1 368l3 2M1960 368l3 2M1966.9 368l3 2M1973.8 368l3 2" stroke="#9a9a9a" stroke-width="0.8" fill="none"/><path d="M1406 501h0M1464 379h0M1167 410l1 1M1521 438l1 1M1512 479l-2 2M1392 409h0M1528 433l2 0M1558 616l0 1M1399 432l0 2M1412 629l1 2M1350 382l-1 1M1152 657l2 1M1435 625h0M1447 639l1 1M1428 653l1 0M1445 510l-1 1M1159 425l2 0M1486 477l0 1M1163 621l0 1M1164 557l2 0M1267 576h0M1275 599l-1 1M1351 630h0M1534 638l0 2M1471 536l-2 2M1287 668l2 0M1483 620l1 0M1558 598l1 2M1541 658l2 1M1215 529l-1 2M1432 400l0 2M1302 447l0 1M1256 669l0 2M1299 640l1 1M1364 626l2 2M1449 669l2 0M1465 663h0M1181 629l1 1M1523 428h0M1240 392l-2 0M1428 444h0M1547 563l1 1M1327 564h0M1359 373l-1 2M1155 569l0 1M1271 392l1 1M1303 384l0 2M1270 549h0M1329 379l-1 2M1184 478l2 0M1558 489l0 1M1554 472l-1 1M1519 442l-2 1M1299 566l1 1M1423 498l0 1M1259 376l-2 0M1361 566l0 1M1333 438l1 1M1382 537l2 0M1511 446l0 1M1464 395l0 2M1535 412l-2 1M1261 531h0M1483 396l1 1M1268 634l-2 1M1267 611h0M1322 638l1 1M1491 428l0 1M1557 569h0M1486 408h0M1379 440l2 1M1305 502l0 1M1233 620l2 0M1366 477h0M1363 658h0M1305 599l-1 2M1358 375l0 1M1427 524l-1 1M1366 420l0 1M1320 510l1 1M1424 550l1 1M1483 572l0 2M1330 427h0M1385 624h0M1482 474l-1 2M1447 489l0 1M1407 543l-1 0M1231 546l-1 0M1360 456l1 1M1461 417l2 1M1521 479l1 1M1547 394l1 1M1303 660l-1 2M1354 464l-2 0M1171 547l-2 0M1490 405h0M1456 422l2 0M1309 646l-2 0M1452 580h0M1410 653l-2 0M1325 560l1 1M1136 605h0M1539 533l2 2M1373 523h0" stroke="#1e1eb0" stroke-width="5" stroke-linecap="round" fill="none"/><path d="M1810 467l0 1M1933 382l0 1M1677 656l-1 1M1727 592l1 1M1771 631l0 1M1865 518l0 1M1561 496l1 1M1572 380h0M1770 377l2 1M1777 478l2 0M1937 384l1 2M1575 469l0 2M1605 521l1 1M1777 478l0 2M1884 459l-2 0M1757 477l1 2M1596 660l-1 1M1678 640l1 0M1916 411l1 1M1675 398l1 1M1881 505l-2 0M1597 429h0M1780 476l0 1M1608 568h0M1579 608h0M1687 623l0 1M1574 382l0 1M1698 597l-2 2M1638 393l0 1M1817 428l1 2M1663 495l1 2M1681 640l1 0M1697 374l1 0M1634 420l-1 1M1789 402l-1 2M1679 414l2 1M1833 455l0 2M1823 625l0 1M1625 483l0 1M1783 584l1 0M1820 602l-2 1M1599 616l-1 2M1857 600l0 1M1840 667h0M1820 533l2 0M1829 384l2 1M1710 521h0M1843 512h0M1845 581l0 1M1691 424h0M1638 503l-1 2M1717 577l-1 1M1585 522l0 2M1637 445l2 1M1594 627h0M1572 573l1 2M1807 586l0 1M1613 507l1 0M1800 571h0M1579 419l0 2M1606 526l0 1M1617 432l1 0M1761 593l0 1M1719 631l-2 0M1742 553l1 2M1799 443l1 1M1618 385l0 1M1648 631l-1 2M1645 515h0M1585 597l1 2M1617 560h0M1662 530h0M1642 582l2 1M1903 405h0M1872 548h0M1726 615l-2 0M1784 550l0 1M1773 506l-1 1M1835 461h0M1721 511l-1 1M1563 606l0 2M1617 495h0M1611 589l2 1M1841 657l1 1M1609 410l-1 0M1713 585l-2 1M1711 669l0 1M1785 522h0M1806 477l-1 0M1916 398l1 2M1643 668l1 1M1832 611l-1 0M1659 483l-1 0M1670 475l1 2M1679 403h0M1599 599l1 0M1751 539h0M1631 602h0M1761 407l2 0M1637 512l2 2M1849 424l0 1M1886 476l2 1M1769 667h0M1731 495l1 2M1751 551l1 0M1884 383l1 2M1760 584h0M1575 518h0M1664 381l-1 1M1792 606h0M1770 419l2 1M1798 619l0 2M1721 432l2 1M1760 390l0 1M1873 456l0 2M1609 378h0M1771 385l1 1M1815 413l1 2M1860 550l-1 0M1811 507l1 1M1809 438l-1 2M1640 496l-2 0M1591 446h0M1724 562l-1 1M1626 437l0 1M1574 458l-1 1M1818 548h0M1862 500h0M1572 534l-1 0M1861 404h0M1845 489l1 1M1718 541l-1 0M1588 488l1 0M1651 500l1 2M1721 599h0M1663 375l0 1M1854 488l0 1M1765 506l1 1M1837 438l2 2M1729 602l0 1M1701 464l1 0M1627 607l-1 1M1800 512l1 1M1595 600l-2 2M1931 439l0 1M1640 621l-1 0M1574 613h0M1731 409l1 1M1852 531l-1 1M1679 378l-1 1M1722 575h0M1887 524h0M1824 616l1 0M1678 522h0M1759 453h0M1573 462l-1 0M1646 558l0 1M1645 590l0 1M1840 618h0M1682 521l1 1M1722 433l1 1M1767 490l-1 0M1623 417l1 0M1711 391l-1 0M1671 494l0 1M1700 641l0 1M1725 467h0M1565 435h0M1631 645l2 0M1820 533l2 1M1816 533l-2 1" stroke="#8a3a98" stroke-width="4" stroke-linecap="round" fill="none"/><path d="M1763 444h0M1603 524l-1 2M1565 537l0 1M1630 619l1 0M1717 400l0 1M1820 504h0M1763 599l-2 1M1865 540h0M1859 395l-1 0M1843 626l0 2M1641 569h0M1627 454h0M1730 545l1 1M1899 430h0M1652 637l0 1M1686 471h0M1734 539l2 1M1718 596h0M1944 417l1 0M1830 636h0M1842 645h0M1711 605l2 1M1726 460l-2 1M1565 624l1 1M1778 395l1 2M1606 534l-1 1M1574 396l0 1M1752 479l-2 1M1699 475l-2 0M1688 457l1 1M1804 573l1 1M1823 429l-1 2M1911 472l0 2M1616 388l-1 0M1892 398l-2 1M1742 441l-2 2M1721 632l0 2M1801 490l-2 1M1657 538h0M1664 488h0M1725 644h0M1622 387l-1 1M1588 532l2 1M1776 515l-1 1M1724 645l1 0M1742 506l1 1M1594 573l-2 0M1567 551l1 2M1740 567l2 2M1567 385l-2 2M1634 582h0M1671 449l0 1M1711 543l0 1M1652 559l-1 1M1704 382l-2 2M1891 509l-1 1M1875 545l-2 0M1724 521l2 1M1638 552l0 1" stroke="#b050b8" stroke-width="3" stroke-linecap="round" fill="none"/><path d="M1907 626l-1 1M1886 568l0 1M1861 661l2 0M1898 643h0M1926 471h0M1869 646l-2 1M1954 453l1 1M1952 594l2 1M1906 614l0 1M1939 652l1 0M1945 544l-1 0M1864 638l0 1M1881 584l-2 1M1939 432l1 1M1928 491h0M1924 649h0M1950 542l2 0M1942 455l2 0M1930 596l1 0M1897 521l-1 0M1925 526h0M1893 544l-1 1M1888 635l-1 0M1948 464h0M1910 574l-2 1M1922 614l1 0M1946 480l-1 0M1897 527l1 0M1944 615l1 2M1947 502l2 1M1887 625l2 1M1955 452l0 2M1895 589l1 1M1870 645h0M1928 459l-1 1M1945 649l-2 1M1891 622l-1 1M1936 453h0M1909 580l1 1" stroke="#2020c8" stroke-width="3" stroke-linecap="round" fill="none"/><path d="M1687 458l-2 1M1859 490l0 1M1597 530h0M1641 609l1 2M1743 662l-2 0M1809 443l1 0M1703 611l0 1M1708 578l-1 1M1582 602l0 1M1682 410l-1 0M1567 539l0 1M1770 627l1 1M1794 516l1 2M1799 425h0M1749 670l0 1M1744 642l0 1M1746 514l0 1M1766 537l2 1M1614 658h0M1742 420h0M1645 491l-1 1M1850 655h0M1848 391l0 2M1565 399l-2 1M1745 418h0M1924 420l-1 1M1795 480h0M1810 658l1 1M1752 422l0 2M1805 582l2 2M1605 507l-1 2M1893 503l-1 2M1780 506l-1 1M1855 430l1 0M1761 578l-1 1M1852 648h0M1805 646l-2 0M1649 428l-1 0M1670 487l-2 1M1664 384l-1 1M1830 533h0M1702 586l0 1M1770 597l-1 0M1757 631l-1 0M1838 417h0M1635 567l-2 1M1567 604l1 2M1850 452l-1 0M1869 539l1 1M1627 660l1 1M1643 420l-1 0M1938 420l0 1M1771 411l0 1M1761 452l0 1M1584 594l-1 1M1829 540l1 0M1669 653l1 1M1691 667h0M1687 443l-1 1M1650 396h0M1811 471l1 1M1866 434l-1 1M1567 392l0 1M1927 452l0 2M1788 625l2 1M1778 605l2 1M1808 662l-1 1M1687 474l-1 1M1585 435h0M1650 616l2 2M1742 495l1 1M1846 584l1 1M1747 417l2 1M1880 544h0M1830 506l-2 1M1721 568l1 2M1816 475l-1 0M1718 436l1 1M1602 560l0 1M1795 523l-1 1M1725 610h0M1890 526h0M1695 429l1 2M1830 669h0M1586 504h0M1919 444l1 1M1815 567l1 0M1655 516l1 1M1647 375h0M1662 621l1 1M1759 586l1 1M1855 497l1 2M1618 602l0 2M1879 495l-1 0M1562 573l0 2M1878 433l0 1M1711 441h0M1854 487l-1 2M1654 535l-2 1M1847 599l-2 0M1590 440h0M1871 386h0M1589 440l-2 1M1669 427l1 0M1873 403h0M1597 633h0M1772 655l1 1M1560 531l-1 1M1765 641l0 1M1872 519l1 0M1871 429l-1 0M1729 514l1 2M1670 577h0M1563 570l-1 0M1837 667l0 2M1759 458l-1 0M1831 552l-1 1M1804 648l0 1M1624 450h0M1715 614l0 2M1665 571l1 1M1748 380l1 1M1585 537l1 0M1724 499h0" stroke="#b050b8" stroke-width="4" stroke-linecap="round" fill="none"/><path d="M1411 542l1 1M1406 471l-2 0M1482 621h0M1517 464l-1 2M1289 601h0M1274 627l-1 1M1274 423l1 0M1370 571l1 1M1499 633h0M1231 548l0 2M1203 518l0 1M1496 466h0M1436 568h0M1380 429l-2 1M1334 482l0 1M1486 381l0 1M1457 597l1 1M1448 574h0M1352 394l-1 0M1469 407h0M1299 552h0M1354 627h0M1501 503l2 1M1305 587l-1 2M1483 391h0M1321 556h0M1307 475l1 0M1450 508l1 0M1477 667h0M1275 585l2 1M1525 666l1 0M1391 593l0 1M1381 416l1 2M1426 453h0M1266 641l0 2M1398 450h0M1277 594l-2 0M1514 475l0 2M1198 661l1 1M1294 494l1 2M1453 647h0M1267 535l1 1M1376 638l-1 2M1359 567l2 1M1319 397l-1 1M1421 374l2 0M1311 488h0M1352 455l-1 0M1328 492h0M1409 652l-1 1M1272 639l-1 1M1428 475l-1 1M1318 374h0M1311 405l-2 0M1348 388l-1 2M1319 408l0 1M1202 508l-1 0M1251 597l1 2M1390 502l1 0M1401 667l-2 1M1296 662l2 1M1550 613l-1 2M1407 456l0 1M1308 481h0M1459 504h0M1473 421l-1 1M1358 385l1 1M1268 511l0 1M1177 558l1 1M1509 414l1 1M1267 563l1 2M1498 486h0M1407 447l1 1M1495 542l0 2M1254 624h0M1457 580h0M1387 468l2 1M1332 550l-2 0M1436 403h0M1264 537h0M1337 466h0M1287 569h0M1458 434l-1 2M1532 503l1 0M1304 598l1 2M1201 552l1 0M1449 663h0M1555 573l2 0M1404 639l0 2M1533 541l0 1M1491 575l1 1M1305 547l-2 1M1357 641l0 1M1301 613l-2 0M1384 511l0 2M1388 652h0M1370 406h0M1290 449l1 1" stroke="#4a2474" stroke-width="5" stroke-linecap="round" fill="none"/><path d="M1796 554l0 1M1875 571l1 0M1689 567l1 2M1769 568l-1 1M1648 540h0M1699 633l0 1M1847 561l-1 1M1822 671l2 0M1841 435l-2 1M1797 666l2 0M1694 383l1 1M1576 533l1 1M1806 656l-1 1M1796 598l-1 1M1581 457l-1 0M1640 412l1 0M1666 476l0 1M1679 659l0 1M1853 494l-2 1M1806 577h0M1766 563l0 1M1693 460l-1 0M1759 656l0 1M1706 557h0M1608 660l0 2M1633 499l0 1M1709 396l-1 1M1793 412l0 1M1734 544l-1 1M1640 632l1 1M1762 565l-1 1M1802 505l-1 1M1574 616l1 1M1566 527l1 1M1740 669l-1 0M1746 618l-2 0M1893 443h0M1709 578l2 1M1619 414l2 1M1691 385l0 1M1665 652l-1 0M1677 616l1 1M1751 487l2 1M1663 488l2 2M1819 464l2 1M1631 489l-1 1M1650 422l-1 1M1787 475l1 1M1745 631l-1 1M1599 499l-1 0M1850 616l0 1M1876 442h0M1578 549l0 2M1793 407h0M1884 441h0M1803 546h0M1563 491h0M1816 664h0M1746 379l0 1M1718 503l1 1M1800 372l-1 1M1631 579l1 1M1642 545h0M1649 639l-1 0M1672 656h0M1565 619l1 1M1627 610l0 1M1701 570l-2 0M1904 471l2 1M1613 633l-1 1M1738 646h0M1688 534l0 1M1600 485h0M1660 627l1 0M1807 458l-1 1M1689 474h0M1741 418l-1 2M1863 464l1 1M1822 592l-2 1M1789 634l1 0M1747 433l-1 2M1652 537l-2 0M1643 630l1 0M1715 627l1 0M1722 496l0 1M1726 664l0 1M1663 498l1 1M1611 619l1 2M1620 492l0 1M1587 571l1 1M1875 537l-1 1M1862 571l0 1M1822 469l1 1M1667 397l1 2M1589 516h0M1765 485l2 1M1688 612l0 1M1826 667l1 0M1697 664h0M1602 571h0M1717 406h0M1810 640l0 2M1723 521l-2 0M1608 452l-1 0M1633 540l1 1M1806 474l1 1M1947 409l0 2M1843 590l-1 1M1802 597l-1 1M1836 404l2 0M1803 554l1 0M1748 663l0 1M1672 620h0M1684 511l0 1M1634 646l2 0M1654 523l-2 1M1692 387l1 2M1856 594l2 1M1701 542l1 0M1617 584l0 1M1616 407h0M1887 455l1 1M1565 592l1 1M1712 525l0 2M1805 411l0 1M1810 642l0 1M1629 567l-1 1M1643 541l-2 1M1769 581l0 1M1856 604l-1 0M1572 584l-2 1M1813 654l-1 1M1935 377l1 2M1610 385l1 1M1794 419h0M1751 493h0M1756 586h0M1594 641l0 1M1706 521l0 2M1874 462l1 2M1868 489h0M1606 523l1 1M1636 656l0 2M1614 470l1 0M1614 544h0M1624 380h0M1589 456l2 0M1603 500l0 2M1646 574h0M1874 443l-1 0M1595 637l-2 2M1698 428h0M1831 378h0M1563 623h0M1648 389h0M1857 601l-2 1M1828 500l0 2M1741 559l1 0M1782 561l0 1" stroke="#7a74b0" stroke-width="4" stroke-linecap="round" fill="none"/><path d="M1625 650l-1 0M1797 404l2 1M1827 603l1 1M1732 650l0 1M1805 556h0M1582 632l-1 0M1758 414l0 1M1581 377l1 0M1864 438l0 1M1663 526l-1 1M1729 593l-1 0M1746 434h0M1622 457l-2 0M1804 534h0M1575 496h0M1647 649l-1 1M1596 381l2 1M1725 518l2 1M1704 456l-1 1M1645 548l0 1M1700 414l-1 2M1574 618l0 1M1594 471h0M1575 524l0 1M1655 473l0 2M1733 378l0 1M1856 475l0 1M1693 492l0 2M1732 590l1 1M1718 588h0M1578 665l-2 0M1911 397l1 1M1704 375l1 0M1610 599h0M1944 415l0 1M1572 377l-2 1M1665 442l0 2M1764 438l0 1M1823 443l0 1M1780 551l-2 0M1601 421l1 1M1863 463h0M1835 629l0 2M1603 405l-2 1M1885 527h0M1644 624h0M1797 466l1 1M1703 613l-1 1M1789 398h0M1703 510l1 0M1756 555l0 1M1635 600h0M1603 464l0 2M1579 521h0M1608 382l1 1M1764 415h0M1884 506l-2 1M1892 516h0M1624 583h0M1865 453l0 1M1686 597l0 1M1910 435l-1 1M1719 553l-1 1M1759 558l2 1M1621 520l0 1M1813 375l-1 0M1722 550l-1 2M1610 540l0 1M1747 646l-2 1M1567 501l-1 2M1840 615l-1 0M1857 472l2 1M1934 432l-2 0M1694 654l-1 1M1832 464l1 1M1597 591l2 0M1710 556l-2 0M1870 516l-2 0M1615 446l-2 1M1833 498l-1 0M1786 503l1 2M1811 414l-1 0M1716 478l-1 1M1581 592h0M1702 586l2 1M1570 439h0M1709 455l0 2M1624 607h0M1614 547l1 0M1818 582l1 2M1848 386l-1 1M1577 588l1 2M1625 598l0 1M1671 445h0M1818 398l1 2M1640 516l-2 1M1628 576l-1 1M1892 412l0 2" stroke="#2424a8" stroke-width="3" stroke-linecap="round" fill="none"/><path d="M1800 397l-1 1M1899 382l-2 0M1691 384l1 2M1655 503l2 0M1733 395l-1 0M1621 542l0 1M1575 599l-2 1M1692 511l0 2M1595 461l0 1M1623 493l1 1M1790 549l0 1M1760 386l2 0M1588 565l1 1M1829 525l0 1M1677 586l-1 2M1731 592h0M1754 515l2 0M1779 452h0M1898 465l0 2M1817 524l-1 0M1912 455h0M1784 513l0 1M1832 485l0 1M1639 472l2 0M1668 482l0 1M1695 543l1 0M1726 506l1 1M1562 666l-1 1M1912 453l2 1M1913 442l0 1M1820 670h0M1826 450h0M1833 391l-1 0M1846 669l1 1M1635 493l-1 1M1736 407l0 1M1630 504h0M1643 491l1 0M1733 498h0M1877 561l2 1M1659 530h0M1713 623l1 1M1768 634h0M1602 579l-1 0M1866 459l2 0M1597 505l-1 1M1837 470l2 0M1660 546l1 1M1753 559l0 2M1611 484l1 2M1643 590l-1 1M1724 395l-2 1M1659 559l0 1M1816 415h0M1802 610l1 2M1831 449l-2 0M1614 404l1 1M1638 523l0 1M1798 622l0 1M1645 430h0M1692 636l0 1M1614 415h0M1825 493l1 1M1779 609l-1 0M1784 633l-1 2M1725 500l2 0M1612 591l2 1M1788 393l2 0M1900 387l1 1M1793 559l-1 1M1676 507l-1 1M1633 603l-1 1M1690 549l2 1M1763 453l1 2M1805 417l2 0M1618 493l0 1M1918 391h0M1599 663l0 1M1934 381l0 1M1803 493l2 1M1806 670l-2 0M1575 519l-2 0M1824 398l-2 0M1619 380h0M1660 527l0 1M1623 487l0 2M1646 526l1 1M1853 408l-2 1M1568 507h0M1765 428h0" stroke="#8a3a98" stroke-width="5" stroke-linecap="round" fill="none"/><path d="M1928 621l-2 0M1942 632h0M1926 455l0 2M1922 596l0 1M1918 483l2 2M1950 422l0 1M1918 644h0M1926 557l1 0M1967 388l2 0M1946 623l-1 1M1936 639l0 1M1943 495l0 1M1967 446h0M1952 653l1 1M1918 514l-1 1M1934 535l1 0M1933 613h0M1892 591l-1 2M1919 492l0 1M1938 470l0 1M1917 517l0 1M1882 630h0M1947 576l1 0M1964 471h0M1939 509h0M1905 566l1 2M1914 494l1 1M1927 606l0 1M1899 662l-1 0M1871 607l-2 0M1899 541l1 1M1900 667h0M1934 541l1 2M1874 628l0 1M1968 654l0 1M1890 642h0M1960 670l2 2M1900 653h0M1940 512l0 2M1965 510l1 2M1918 536l1 0M1884 570h0M1897 670l-1 0M1906 651l1 1M1960 451h0M1942 455l-2 1M1959 490l0 1M1926 552l-1 2M1910 666l2 1" stroke="#2020c8" stroke-width="5" stroke-linecap="round" fill="none"/><path d="M1702 425l2 1M1631 374l-1 1M1682 449l0 1M1705 530h0M1563 418l0 1M1826 532l-1 0M1618 589l-1 2M1749 463l0 2M1719 621h0M1704 391h0M1621 558l-2 1M1856 592l-2 1M1872 510l-1 0M1753 413l-1 1M1669 448l0 1M1578 384l2 0M1867 529l1 0M1839 662l1 2M1617 590l0 1M1692 381l0 2M1576 629l2 1M1788 543h0M1760 655l1 0M1695 666h0M1721 599l1 2M1614 574l1 0M1769 558l-1 1M1568 665l2 1M1893 468h0M1900 419l-1 0M1594 403h0M1822 554l1 0M1653 526l-1 0M1849 668h0M1574 619l-1 0M1944 398l2 1M1659 595l-1 0M1903 447l0 2M1770 432l-1 2M1703 566l0 2M1594 638h0M1730 518h0M1757 649l-1 1M1572 469l2 0M1863 447h0M1744 483l1 0M1665 595l-2 0M1883 434l1 1M1675 645l1 0M1854 382l1 1M1675 568l1 1M1670 630l1 0M1686 574l-1 0M1854 621h0M1576 562l2 0M1623 402l1 2M1568 500l2 1M1898 393l-1 1M1757 657l1 1M1746 506l0 2M1861 521h0M1850 660h0M1625 569l-1 1M1652 602h0M1600 437h0M1689 633h0M1593 392h0M1929 402h0M1621 512l1 1M1830 556h0M1574 617l2 0M1684 407l1 0M1852 408h0M1944 415l1 0M1755 585l0 1M1778 651l0 2M1721 665l0 1M1800 537l1 1M1602 404l0 2M1729 632l-1 1M1763 563l-2 0M1655 619l-1 1M1870 432l-1 2M1782 423h0M1922 457l2 1M1774 671l1 1M1686 609l-1 1M1608 424l2 2M1913 478l0 1M1569 569l-1 1M1615 436h0M1739 554l1 1M1711 565l2 1M1574 409l1 1M1894 510h0M1641 591l-2 1M1885 536h0M1626 595l0 2M1831 440l0 2M1679 518l2 2M1748 406h0M1609 461h0M1714 636h0M1868 556l1 0M1963 378l1 1M1583 654h0M1623 435h0M1578 638l1 1M1736 607l-2 0M1613 501h0M1704 530l1 1M1688 502h0M1809 550l0 1M1851 620l0 1M1668 394l-2 1M1695 639h0M1605 503l1 2" stroke="#9090c0" stroke-width="4" stroke-linecap="round" fill="none"/><path d="M1596 530h0M1902 432h0M1734 472h0M1715 545l0 2M1674 480l-1 0M1711 456l2 1M1861 571l1 1M1800 445l-2 0M1693 403l-1 0M1653 510l0 2M1640 552l0 1M1737 561h0M1675 463l2 1M1859 602l-1 0M1698 591l-1 2M1617 616h0M1760 488l-1 2M1703 512l1 0M1728 522l1 1M1673 668l0 1M1700 498l0 1M1830 539l0 1M1891 521l0 2M1676 654l0 1M1844 483l1 2M1862 522l0 2M1605 666l0 1M1852 535l0 1M1718 439h0M1848 486l1 1M1794 598l0 1M1592 524h0M1569 455l-1 1M1819 428l-1 1M1802 488h0M1781 392h0M1567 666h0M1669 423l1 0M1874 415l0 2M1815 431l-1 1M1599 543h0M1770 654l-1 0M1655 401l0 1M1675 452l2 1M1595 620l1 0M1759 633l0 1M1576 415l-1 0M1878 425l0 1M1606 574l1 2M1569 651h0M1748 372l1 2M1725 444l1 1M1899 402l-2 0M1582 452l-1 1M1768 608h0M1781 410l1 0M1571 417h0M1695 661l1 1M1689 565l1 1M1715 442l0 1M1733 423h0M1854 642l0 1M1758 406l-1 0M1876 536l0 2M1615 564l0 1M1801 418l2 0M1605 601l1 2M1888 448l2 1M1776 543l-2 1M1891 447h0M1827 406l0 2M1707 583l-1 2M1789 475l2 0M1679 573l2 1M1861 596l1 1M1789 449l-1 0M1617 622l2 0M1791 672h0M1560 525l1 0M1723 596h0M1604 665l-1 1M1830 444h0M1605 656h0M1729 667l-1 2M1614 464h0M1664 570l-2 1M1787 556l2 1M1717 661l0 2M1824 622l-1 0M1855 425l1 0M1630 647l0 2M1825 570l0 1M1577 413h0M1618 549l-2 1M1660 475l1 2M1781 397l-1 1M1575 413h0M1759 467h0M1765 632l-2 0M1873 412h0M1826 601h0M1757 487l0 1M1577 409l0 2M1579 395h0" stroke="#2424a8" stroke-width="5" stroke-linecap="round" fill="none"/><path d="M1806 530h0M1655 578h0M1648 591l1 0M1609 415l1 1M1687 669l0 1M1604 413l2 1M1659 553l1 2M1562 471l2 1M1784 420l1 2M1615 651l0 2M1718 667l0 2M1691 427h0M1575 459l1 1M1846 647l1 0M1807 396l1 1M1724 659l-2 2M1687 424h0M1655 430l0 2M1786 430l-1 2M1853 548l2 0M1631 572l0 2M1644 444h0M1960 372h0M1574 660l2 1M1605 552l2 0M1862 448l2 1M1680 454l0 1M1758 396l1 1M1653 403l-1 1M1643 640l0 2M1690 457l0 1M1715 504l0 1M1778 462l0 1M1720 378l-1 0M1761 543l0 2M1850 658h0M1643 536l1 2M1850 434h0M1652 400l1 2M1846 619l-1 1M1755 399h0M1765 530l0 1M1780 665l-1 1M1564 433h0M1630 480l-2 0M1653 373l1 1M1630 453l1 1M1808 634l0 2M1573 428l-2 0M1885 532l1 1M1601 418l0 1M1926 388h0M1939 416l2 1M1603 509l-1 1M1857 428h0M1602 544l0 2M1751 558l-1 2M1830 498l-2 0M1768 604l-2 1M1598 631l2 1M1761 400l0 2M1677 626l0 2M1827 529l0 1M1621 650h0M1571 668l1 1M1737 660l1 0M1601 422h0M1592 477l2 1M1608 396l1 2M1598 594l0 1M1746 554l-2 0M1618 556l-1 1M1880 482l1 0M1726 454l1 1M1573 537l-1 1M1701 448l1 0M1834 647l-1 2M1789 635l-1 0M1625 597l0 1M1895 476h0M1560 558h0M1814 653l2 0M1905 387h0M1736 595l1 1M1644 578l-1 1" stroke="#7a74b0" stroke-width="3" stroke-linecap="round" fill="none"/><path d="M1429 379l2 2M1333 435l0 2M1316 576l-2 1M1216 408l0 1M1333 656h0M1426 445l1 2M1480 539l1 1M1443 426l0 2M1464 583l-1 1M1550 383h0M1466 562h0M1551 410l0 1M1291 546l0 2M1350 669h0M1418 379l-1 2M1280 643l-1 2M1436 628l1 0M1295 626l0 1M1287 596l2 1M1328 412l-1 2M1353 589l0 1M1271 490l0 2M1457 570l2 1M1293 561h0M1327 562l0 1M1498 443h0M1343 612l2 0M1289 501h0M1470 441l1 1M1472 672h0M1550 520l1 2M1411 523h0M1480 633l-1 0M1393 416l1 2M1398 470h0M1333 491h0M1364 445l0 1M1393 669l2 2M1475 601l0 1M1394 449h0M1232 496l1 1M1257 511l1 1M1312 570l-2 1M1520 575h0M1225 629l-1 0M1261 660l1 2M1404 453l2 2M1279 552h0M1328 580l-1 0M1438 407l1 1M1464 391l1 2M1494 450h0M1347 553l-1 1M1485 410h0M1508 670l0 1M1300 438l-1 1M1524 604l1 0M1282 613l1 0M1334 557l1 2M1538 457l1 2M1404 405l-1 1M1297 567h0M1548 466h0M1520 411h0M1437 539l0 1M1411 449l-1 2M1387 557l1 1M1546 553l2 0M1427 535l0 1M1508 588h0M1453 374l1 2M1454 439l-2 1M1338 533h0M1546 515l2 0M1293 476l1 2M1250 589l-1 2M1236 509l1 1M1232 574h0M1308 630l0 1M1288 460l-1 0M1465 659l-2 0M1278 566l1 0M1406 593l-2 1M1423 588l0 1M1185 520l1 1M1520 389h0M1337 510l1 0" stroke="#2a2a80" stroke-width="4" stroke-linecap="round" fill="none"/><path d="M1463 644l1 0M1243 459l2 0M1276 506l0 1M1443 620l1 0M1398 400l-1 2M1327 603l0 2M1559 464l0 2M1411 581l-2 1M1145 592l0 2M1319 656h0M1369 552l-1 1M1513 669l-2 1M1400 399l-2 0M1338 562l1 2M1289 528l-1 1M1558 598l1 1M1499 389l-1 1M1544 542l0 1M1230 432l1 1M1528 616l-2 0M1510 375l-2 1M1552 650l1 0M1382 458l-1 2M1545 417h0M1441 443l1 1M1550 459l-1 1M1486 631l1 0M1470 659l1 1M1399 648l-1 1M1431 415h0M1275 649l-2 1M1432 560l0 1M1333 556h0M1444 433l-1 2M1253 459h0M1301 618l-1 2M1308 431l-1 1M1396 518l-2 1M1297 421l0 1M1291 473l0 2M1292 479h0M1395 388l-1 2M1267 403l0 1M1552 400h0M1218 646l-1 1M1504 510l-1 1M1407 569l2 1M1535 413l0 1M1201 615l0 1M1537 589h0M1347 553l-2 1M1249 549l1 2M1213 521l0 2M1270 599h0M1181 559l0 1M1394 493l1 2M1517 437l1 2M1550 411l2 0M1393 593l2 1M1200 618h0M1550 632l1 1M1366 528l1 2M1451 652l-1 2M1438 597h0M1420 446l-1 2M1337 392l-2 0M1410 660h0M1415 630l0 1M1306 381l-1 2M1290 615l-2 0M1376 375l-2 2M1414 577l0 1M1461 498l1 2M1326 451l-1 0M1260 669l2 0M1429 605l2 0M1503 378l0 1M1548 563l1 0M1560 405l2 1M1212 421l-1 0M1518 616l0 2M1163 416l1 1M1220 479l0 2M1515 560l-1 1M1261 478l2 1M1387 589l-1 2M1352 432h0M1269 459l0 1M1273 408h0M1254 421l1 2M1309 419h0M1292 414h0" stroke="#7a3090" stroke-width="4" stroke-linecap="round" fill="none"/><path d="M1764 392l0 2M1640 384h0M1780 445l-1 2M1753 512l0 2M1611 487h0M1892 473h0M1799 660l-2 1M1874 584l-2 1M1851 504l1 0M1804 474l1 1M1587 614l-2 1M1656 547l2 0M1563 416l0 1M1645 378l0 1M1833 604l2 0M1791 646h0M1724 567l-1 0M1810 664h0M1833 536l-1 2M1793 386l1 2M1866 378h0M1595 435l0 1M1750 383l1 1M1640 391h0M1843 524l0 2M1654 632l1 0M1662 450l-1 1M1601 466l2 1M1573 600l0 2M1634 633l-1 0M1641 399l-2 2M1655 476l-1 2M1919 428l1 0M1704 411l1 1M1630 415l-2 2M1610 414l-1 2M1709 497l-1 0M1794 417h0M1692 429l-2 1M1613 515l0 2M1775 449l-1 1M1613 626l-1 1M1737 380h0M1835 378l0 2M1613 550l-1 1M1668 543l-1 2M1596 543l-1 1M1757 411h0M1644 591l-2 0M1843 460l-1 1M1760 454l1 1M1585 445h0M1672 604l0 2M1827 604l0 1M1589 410l0 1" stroke="#b050b8" stroke-width="5" stroke-linecap="round" fill="none"/><path d="M1515 595h0M1411 381l0 1M1535 406l0 1M1500 564l-1 1M1197 538l1 2M1381 460l2 0M1500 473h0M1342 671l-2 1M1349 450l1 0M1287 541l1 1M1333 529h0M1497 564l1 0M1540 450l-2 1M1463 380l1 1M1251 546h0M1420 627l-2 0M1434 440l1 1M1532 601h0M1550 503l-1 1M1287 378l-1 2M1510 664l-1 1M1278 384h0M1525 530l-1 0M1548 477h0M1312 376l1 2M1261 629h0M1539 600l0 1M1422 582l0 1M1416 391l1 1M1357 606l-1 1M1459 538l1 1M1418 569h0M1285 651h0M1288 630l-1 0M1362 466l-1 2M1188 588l-1 1M1290 442l-1 2M1452 670h0M1376 525l2 1M1261 500l-1 0M1522 433l1 1M1113 523l2 1M1268 548l-1 0M1527 480h0M1551 563l2 1M1306 600l-2 0M1407 579l-2 1M1303 534l-2 2M1404 378h0M1410 486l0 1M1545 395h0M1527 612l1 1M1335 554l0 2M1380 557l-1 2M1198 415l-2 0M1423 637l0 2M1557 427h0M1403 489l-1 2M1410 533l-1 1M1444 596h0M1353 447l1 1M1275 477l-1 0M1410 663l2 2M1104 577l0 1M1306 638l1 1M1538 557l-1 2M1440 543l2 0M1246 657l0 2M1388 525h0M1206 597l1 1M1177 401h0M1254 606l1 0M1181 559l0 2M1550 537l1 2M1144 657l-1 1M1425 614l-1 0M1391 481l0 2M1534 639l-1 1M1467 500l-1 0M1486 523l1 0M1344 443h0M1102 669h0M1321 630l1 0M1424 573l0 2M1309 638l-2 1M1417 483h0M1554 548l0 1M1324 489l-1 1M1542 626l-2 1M1370 409h0M1437 656h0M1548 394l-1 1M1394 446l1 1M1361 546l-1 0M1354 541l1 2M1541 431h0M1518 470h0M1345 577l-2 1M1293 538l-1 1M1368 665h0M1178 611l-1 2M1505 627l-1 2M1411 393h0M1490 470h0M1339 589l1 0M1416 613l-2 1M1322 413l0 1M1429 625l0 1M1534 521l0 2M1300 563l-1 1M1434 438h0M1545 502l1 0M1472 524h0M1397 577l-1 0M1484 408l1 1M1233 380l0 1M1458 582l-1 1M1339 593l2 0M1419 452l-1 2M1324 429l-1 0M1468 631l1 2M1310 663l0 1M1477 481h0M1289 532l1 2M1179 565h0M1292 393l0 1M1509 507h0M1333 615h0M1411 553h0M1237 461l1 0M1324 663h0M1417 449l1 0M1303 521l-1 0M1390 606l1 2M1383 576h0M1498 499l-1 0M1539 656h0M1180 473l-1 2M1415 448l0 1M1350 419l0 2M1170 475l0 1M1397 506l-2 0M1349 578l1 1M1273 616l-2 1M1528 562l0 1M1288 510h0M1217 521l-1 0M1429 666l1 0M1240 611h0M1350 407l-1 1M1494 659l0 2M1526 476l-1 0M1429 401h0M1371 531h0M1393 464l0 2M1524 584l1 0M1357 486l2 1M1393 462l-2 1M1365 638l-1 1M1406 624l1 2M1271 501l1 1M1473 530l0 2M1528 548l-2 1M1372 444h0M1294 528l1 1M1441 496l1 1M1534 505l0 1M1405 504h0M1336 429l0 1M1331 401l-1 0M1491 511l1 0M1428 647l1 1M1445 381l-2 1M1199 594l0 2M1412 580l-2 0M1528 446h0M1361 492l2 1M1343 657h0M1355 645l2 1M1287 425l-1 1M1389 618l0 1M1286 450l0 1M1547 492h0M1193 422h0M1497 394h0M1235 509l1 1M1279 645l-1 2M1317 539l1 1M1177 504l0 2M1522 669l0 1M1501 645l0 1M1473 571h0M1356 488h0M1444 541l0 1M1326 612l1 1M1525 380l1 1M1349 587l-1 0M1424 465h0M1375 634h0M1275 554l-1 1M1353 429h0M1202 429l0 2M1392 620h0M1371 429h0M1480 427h0M1220 499l1 1M1542 392l0 1M1453 560h0M1276 538h0M1415 538l-1 1M1548 594l-1 0M1161 511l0 1M1508 648l0 1M1349 585l-2 2M1505 503h0M1461 443h0M1275 529l-1 1" stroke="#1e1eb0" stroke-width="4" stroke-linecap="round" fill="none"/><path d="M1917 526l0 1M1945 472l0 2M1867 664l2 1M1881 567l1 2M1920 471l-2 1M1913 558l0 1M1899 521l-1 1M1917 546l0 1M1902 566l-2 1M1892 637l-2 0M1957 516l-1 1M1891 632l0 2M1960 662l-2 1M1968 470l0 1M1963 543h0M1928 459l-1 1M1950 634h0M1925 459l-2 1M1954 586l1 2M1890 634l2 0M1952 508h0M1951 418l1 1M1908 545l-1 0M1919 498h0M1886 579l1 1M1860 642l1 1M1916 549l1 0M1959 498l2 1M1871 609h0M1866 637h0M1944 490l1 1M1895 640l-1 0M1953 479l0 1M1916 504l1 0M1889 551l0 1M1941 595l0 1M1886 552h0M1956 617h0M1872 645l2 0M1906 542l1 1M1932 474l0 2M1961 612l1 2M1912 610l-2 0M1946 666h0M1925 547l2 0M1855 668l-1 0M1922 505l-1 2M1969 447l1 2M1903 646h0M1874 652l1 2M1968 499l1 2M1943 475l1 1M1922 602l2 1M1890 642l2 0M1965 414l0 2M1969 532l-1 1M1944 627l1 2M1968 439h0M1935 498h0M1903 534l-1 1M1936 658l0 2M1902 596l0 1M1918 645l1 0M1970 523l0 2M1951 670l0 1M1948 551l1 1M1896 616l1 2M1888 587l1 0M1860 655l-1 0M1913 616l-1 2M1937 553l-1 1M1938 626l-1 2M1953 498l0 1M1961 553l0 2M1922 513l2 1M1912 620l1 1M1890 652l2 0M1969 610l2 1M1959 595l-1 0M1910 515h0M1946 594l-2 1M1949 503l1 0M1862 670l1 1M1862 635l-1 0M1938 442h0M1921 581l1 1M1959 489l0 1M1955 453l1 0M1932 520l1 1M1957 462h0M1890 661l0 1M1960 439l-2 2M1964 428l0 1M1922 610l-2 0M1929 522l0 1M1940 631l-1 0M1924 568h0M1956 430h0M1923 643l1 1M1908 570l0 1M1930 497l0 2M1953 458l1 1M1933 460l1 0M1966 646l2 0M1960 549l-1 1M1909 507h0" stroke="#2020c8" stroke-width="4" stroke-linecap="round" fill="none"/><path d="M1747 480l-2 0M1653 491l1 1M1685 636l0 1M1746 460l-2 0M1568 393l1 1M1580 664l1 0M1718 467l1 0M1882 391l1 1M1782 429l2 2M1770 376l-1 2M1706 475l-2 1M1569 531l-1 1M1920 404l2 2M1751 585l2 1M1577 562h0M1734 531h0M1625 555h0M1733 465l1 1M1832 565l1 1M1785 648h0M1928 405l2 1M1565 401l-1 1M1637 620h0M1566 490h0M1849 492h0M1576 463h0M1674 419l2 1M1729 429l-1 0M1903 492h0M1747 646h0M1780 554h0M1723 377l0 1M1657 458l-1 2M1766 561l-1 1M1606 670l-2 2M1657 650l-2 1M1634 406h0M1814 631h0M1686 600h0M1725 450h0M1675 443l-1 0M1741 546h0M1792 571l1 0M1750 662l0 1M1560 424h0M1824 443h0M1746 597h0M1770 400l1 0M1662 662h0M1681 391l0 1M1917 397l2 1M1748 548l0 2M1780 596l2 2M1625 629l0 1M1621 634l1 0M1815 409l-1 1M1596 427h0M1690 610l-1 1M1652 498l1 2M1580 373h0M1779 505l-1 1M1692 415h0M1604 412l2 1M1763 563h0M1783 524h0M1788 621l-1 1M1684 595l0 1M1716 414l1 1M1843 391l1 1M1615 462l2 0M1628 613l-1 1M1570 562h0M1799 654l-1 0M1578 642l-1 0M1599 579h0M1575 596l2 1M1762 502l0 1M1786 663l0 1" stroke="#8a3a98" stroke-width="3" stroke-linecap="round" fill="none"/><path d="M1376 574l0 1M1446 559l1 2M1511 431h0M1424 647l-1 1M1322 629l-2 0M1143 554l-1 1M1300 632l2 1M1278 373l-1 1M1511 541l1 1M1464 413l-1 1M1315 460l1 2M1445 404l1 0M1362 593l1 1M1434 479l2 0M1264 625h0M1431 466h0M1487 426l1 0M1323 592h0M1339 623l0 1M1362 411l-1 1M1558 543l-1 2M1405 658h0M1543 427l-1 0M1304 388l-2 1M1515 577h0M1267 386l1 0M1439 535l-1 1M1450 464l-1 0M1458 408l-2 0M1457 427l0 2M1534 599l-2 1M1152 565h0M1234 529l2 0M1420 535l-1 2M1247 538h0M1268 430l0 1M1486 519l0 1M1560 572l-1 1M1471 475l-1 1M1304 553l0 2M1334 400l-1 0M1348 638l-1 0M1345 530l0 1M1394 375h0M1345 640l2 1M1210 556l0 1M1364 648l0 1M1347 659l0 1M1219 634l0 1M1365 561h0M1187 581l0 1M1379 460l-1 2M1515 635l1 1M1464 486l1 0M1389 491l2 0M1311 552h0M1436 533h0M1454 415l1 1M1321 488h0M1159 593h0M1126 491h0M1512 524l-1 0M1305 389l0 1M1188 516l0 1M1429 570l0 1M1214 534l1 0" stroke="#4a2474" stroke-width="3" stroke-linecap="round" fill="none"/><path d="M1481 616l-1 0M1482 547l1 2M1361 452l0 2M1527 489l-2 1M1254 495l-1 0M1366 555l-1 2M1438 536h0M1342 553l1 1M1551 454l-2 0M1492 574l1 2M1497 649l0 1M1432 417l1 1M1479 424l0 2M1244 621h0M1459 454l1 0M1438 445l1 0M1477 585l1 1M1517 651h0M1535 581l1 2M1506 585l0 1M1302 419l0 1M1420 594l0 2M1529 661l0 1M1211 636l0 1M1391 627h0M1255 460l-1 1M1303 410l0 1M1273 587h0M1300 605l-1 0M1451 470l-1 0M1365 446l-1 2M1304 471l2 1M1336 469h0M1550 521l-1 0M1333 608h0M1401 517l2 1M1260 507l0 1M1472 612l1 0M1280 392l-2 1M1330 458h0M1433 660l-1 1M1478 595h0M1471 598l-1 1M1359 380l1 0M1479 398l2 1M1394 653l2 1M1432 477l0 1M1292 586l2 0M1460 426l1 2M1413 395h0M1334 498l2 0M1302 410l1 0M1519 654l0 1M1479 471l1 0M1414 620l-2 1M1421 465h0M1350 402l0 2M1510 503l-1 1M1350 400l0 1M1357 581l0 1M1360 481l-1 1M1332 666l0 2M1284 437h0M1246 631l1 1M1501 430l2 1M1227 548h0M1372 518l0 1M1516 483l1 0M1261 569l-1 0M1380 598l1 2M1141 574l0 1M1358 616h0M1432 417l-1 1M1363 457l2 1M1378 502l0 2M1289 622l0 1M1409 386l1 1M1279 379l2 1M1385 507l0 2M1404 456l1 1M1276 644h0M1411 537l-1 1M1296 671l0 1M1494 506l0 2M1428 436l-1 1M1279 550h0M1335 434l2 1M1492 395h0M1200 648l1 1M1546 575l0 1M1511 662l-2 1M1359 472l0 1M1466 517l0 1M1176 457h0M1145 651h0M1391 375h0M1233 668l-1 0M1269 455l0 2M1341 609l-1 1M1135 469l0 1M1333 628l-1 0" stroke="#1e1eb0" stroke-width="3" stroke-linecap="round" fill="none"/><path d="M1533 659l0 2M1428 425l1 0M1273 520l1 0M1166 509l1 1M1265 598l0 1M1256 608l1 1M1185 487l0 1M1406 491h0M1534 665h0M1317 521l1 0M1277 503l0 1M1311 569l2 1M1188 457l0 1M1315 455l2 1M1518 392l0 2M1341 508l-1 0M1369 628h0M1393 539l0 1M1453 432l-2 1M1271 507l-1 1M1157 518l-1 0M1524 563l1 1M1510 505l-1 0M1433 503l-1 0M1168 588l1 0M1472 557l0 1M1500 399l-2 0M1443 430l1 2M1548 494l1 2M1340 461l0 2M1340 615l0 2M1263 654l-1 0M1441 408l0 1M1200 535l0 2M1352 392l-2 0M1546 621l2 1M1264 404h0M1189 480l0 1M1308 632l0 2M1419 544l-1 0M1187 389l1 2M1416 442l-1 1M1287 537l-2 1M1170 603h0M1393 620l2 1M1483 559h0M1504 599l-1 0M1450 561l1 0M1556 440l-1 1M1375 487h0M1509 524h0M1284 461l-1 1M1327 411l0 1M1374 391l0 2M1346 546l1 2M1468 516l1 1M1554 420l-1 1M1367 525l-1 1M1157 569l1 1M1401 557l-1 1M1275 590l1 0M1198 461l-1 1M1525 514l0 1M1333 644l1 0M1419 508h0M1295 553h0M1522 506h0M1291 629l0 1M1146 525l-1 2M1506 463l-1 1M1344 548l1 0M1337 553h0M1123 493l2 0M1556 532l-1 1M1530 470l-1 0M1409 415l0 2M1371 445l1 1M1440 572l-1 1M1402 534l0 1M1356 531l-1 0M1260 457l1 0M1415 621l1 0M1303 437l0 1M1410 454l-1 0M1431 406l-2 0M1402 610l1 0M1468 388l1 1M1464 386l2 1M1427 640l-1 0M1426 483l0 2M1547 618h0M1458 531l1 0M1418 508h0M1119 505l2 2M1191 571h0M1453 416h0M1298 535l1 2M1365 408l-1 1M1356 378l0 1M1153 503l-1 1M1553 498l-2 1M1309 523l0 1M1307 451l1 0M1493 542l-1 1M1556 626l0 2M1384 629l0 2M1487 392l1 2M1399 656l2 1M1505 653l0 1M1241 524h0M1439 611h0M1536 581l1 1M1273 640l-1 1M1502 637h0M1391 383h0M1387 609l-1 1M1360 459l-2 0M1400 396h0M1379 559l0 1M1289 567l-2 2M1349 624l0 1M1261 580l0 2M1281 479h0M1407 585l0 1M1218 574h0M1221 431l0 2M1475 527h0M1506 431l0 2M1513 501h0M1343 381l1 0M1322 602l0 1M1318 597l1 2M1368 452l-1 1M1545 380l1 1M1252 634l0 1M1504 627h0M1343 646l0 2M1542 556h0M1250 629l-1 2M1464 604l2 2M1457 649h0M1459 382l0 2M1442 632h0M1351 426l2 0M1391 482l0 2M1343 444l-1 0M1327 477h0M1167 518h0M1459 636l0 1M1244 437l-2 0M1274 406h0M1481 656h0M1264 552l-1 2M1379 599l-1 1M1500 635l-1 1M1150 584l-1 0M1330 564l1 2M1534 476h0M1461 558l-1 0M1514 556l-1 0" stroke="#4a2474" stroke-width="4" stroke-linecap="round" fill="none"/><path d="M1686 486h0M1813 644l1 0M1743 534h0M1799 437l2 1M1941 376h0M1693 607h0M1727 384h0M1626 621l0 1M1816 614l2 0M1768 447l-2 0M1864 499l1 0M1740 552l-2 0M1636 642l-2 1M1803 484l-1 1M1645 644l0 2M1877 525l1 1M1866 501l-1 1M1590 509l-2 0M1747 645l-1 1M1608 595l-1 0M1820 543l0 2M1609 447l1 0M1791 387h0M1835 382l0 2M1626 639h0M1747 431l2 2M1733 647h0M1686 494l-2 0M1817 461l-2 1M1947 395l-2 1M1759 400l2 1M1614 396l0 1M1867 533l2 1M1644 476h0M1833 627l-1 0M1603 418l1 1M1786 504l-1 0M1739 433l0 1M1694 389l0 2M1576 550h0M1869 417l1 1M1612 381l1 1M1671 594l0 2M1620 449l1 1M1904 487h0M1910 379h0M1720 605l0 1M1737 599l-2 1M1835 484l-1 1M1589 661h0M1637 438l0 2M1803 407l-1 0M1684 482l-1 0" stroke="#9090c0" stroke-width="5" stroke-linecap="round" fill="none"/><path d="M1711 616l0 1M1691 476h0M1633 546l-2 0M1569 450l1 1M1859 598l-2 1M1691 661l0 1M1817 671l1 0M1651 503h0M1843 476l-1 0M1618 598l0 1M1783 380l-1 1M1863 467l-1 0M1713 537l-1 1M1645 511l1 0M1626 588l2 1M1659 454l1 1M1693 562h0M1767 412l0 2M1605 557l-1 0M1764 454h0M1562 474l1 0M1637 624h0M1563 482l2 1M1785 668l-1 1M1653 623l1 0M1657 655l0 2M1614 455l0 1M1812 422l-1 1M1782 388h0M1919 442l-2 0M1809 647l-2 1M1865 383l-1 1M1666 379h0M1679 385l0 2M1727 560l1 0M1694 557l-1 1M1872 531l-1 0M1664 650l1 2M1653 498h0M1563 656h0M1836 506h0M1657 639l2 1M1567 572h0M1829 566l0 1M1795 400l-1 1M1724 544l1 1M1803 425h0M1762 506l-1 2M1843 470l-1 2M1760 598l0 1M1693 560l0 1M1847 415l1 1M1613 456l1 0M1726 464l-2 1M1617 486l1 2M1739 581h0M1639 441l-1 0M1592 373l1 0M1606 394l1 0M1813 616l-2 0M1683 566l2 2M1762 518l-1 1M1868 439l-1 0M1850 458l-1 1M1669 580l2 1M1816 487l-1 1M1616 595l-2 1M1832 663l1 1M1736 588l2 2M1735 491l-1 1M1666 385l-1 0M1878 404l0 1M1853 586l1 2M1775 516l-1 1M1953 382h0M1567 493h0M1576 387l1 1M1770 553l-1 1M1812 538l-2 1M1918 405h0M1876 443l-1 0M1733 429l1 1M1814 394l1 1M1776 496l1 2M1706 529l1 2M1803 521l1 1M1588 592l2 1M1823 472l0 1M1570 658l1 1M1787 428l2 2M1584 458l-1 1M1610 408l-2 1M1889 514l-1 0M1599 488l-1 2M1742 577l0 1M1915 416h0M1605 392l0 1M1642 411l0 1M1764 620l1 0M1813 605h0M1719 661l0 1M1671 520h0M1774 490l-1 1M1673 641l0 2M1802 606l0 1M1803 527l0 2M1746 563l-2 0M1797 546l0 1M1881 521l0 1M1750 662l0 2M1586 461l2 1M1751 542l0 1M1611 457l-1 0M1772 409l-1 1M1765 587l0 1M1629 623l0 2M1765 431l2 0M1723 423h0M1722 626l0 1M1654 411l-2 1M1602 421l-2 1M1814 426l-1 1M1567 375l0 1M1719 416l-2 1M1816 380l0 1M1939 427l-2 0M1738 666l1 0M1784 388l1 0M1857 466l-2 0M1797 485h0M1866 584l1 1M1682 590l2 1M1829 408l1 0M1651 539l0 1M1809 494l-1 1M1647 543l2 2M1789 496l0 1M1602 559l2 1M1726 394l0 2M1796 646l-1 2M1724 413l1 1M1872 426l0 2M1709 652l2 0M1746 390l-1 1M1724 578l-2 1M1779 560l-1 1M1835 559l1 1M1727 645l1 0M1868 453h0M1721 418l-1 2M1744 555h0M1594 486l1 0M1669 570l2 0M1743 567l-1 2M1674 564l-1 1M1701 383h0M1635 374l-1 0M1765 526l0 1M1849 548h0M1784 617l1 0M1761 571l0 1M1889 430l-1 1M1845 434l2 1M1770 582l0 1M1676 652l1 0M1841 567l-1 0M1896 428l0 2M1581 386l-1 1M1655 659h0M1833 515l1 1M1848 477l1 0M1845 405l-1 1M1582 378h0M1592 480h0M1744 591l-1 2M1815 595l-1 0M1856 416l2 0M1681 403l1 0M1597 642l-2 1M1903 448h0M1816 578l-2 1M1868 601l1 1M1629 529l2 0M1563 618l0 1M1871 594l2 1M1630 413h0M1583 572l-1 1M1836 604h0M1660 608l2 1M1735 512h0" stroke="#2424a8" stroke-width="4" stroke-linecap="round" fill="none"/><path d="M1919 537l-1 0M1954 622l-1 0M1911 493l1 1M1894 624h0M1858 648h0M1879 630l-2 0M1886 606l1 2M1966 625l0 1M1949 411h0M1924 487h0M1872 631l1 0M1916 507l1 1M1940 521l-1 0M1952 493h0M1873 602h0M1947 469l0 2M1935 477l-1 0M1888 660l-1 0M1966 450l1 2M1886 576l-1 0M1880 652l0 1M1958 470l0 1M1896 664h0M1884 592h0M1956 654l0 1M1920 611l-1 2" stroke="#3a3aa8" stroke-width="4" stroke-linecap="round" fill="none"/><path d="M1586 661l-2 1M1670 658l-1 1M1748 577l2 1M1624 508l-2 1M1733 443l-2 1M1832 534l-1 0M1679 565l0 1M1752 460l1 1M1645 492l0 1M1690 442l2 1M1879 395h0M1603 414l-1 2M1604 457h0M1761 603l0 1M1800 563l2 0M1718 400l0 2M1815 400l1 0M1738 534l2 1M1849 547l0 2M1705 471l-2 2M1567 532h0M1789 464l0 1M1706 394l-2 0M1928 429l-1 0M1829 516l1 1M1602 550l1 1M1682 596l2 1M1797 661l2 2M1886 380l2 1M1832 464l-2 1M1881 438l-1 2M1660 406l1 1M1684 449l-1 0M1807 625l-1 1M1666 586l1 1M1896 427l0 2M1808 515l-1 0M1643 654l1 0M1928 443l-2 0M1833 386l-2 0M1738 630h0M1712 507h0M1708 419h0M1607 578h0M1789 484h0M1816 520l0 1M1801 567l-2 1M1867 606l-1 1M1886 385h0M1760 592l1 2M1594 651h0M1570 617l2 1" stroke="#9090c0" stroke-width="3" stroke-linecap="round" fill="none"/><path d="M1263 616h0M1533 449l1 1M1491 427l0 1M1491 402l-1 2M1502 521l0 1M1282 559l1 2M1458 626l2 2M1324 433l2 1M1543 601l1 1M1489 387l2 0M1472 474l0 1M1117 518l1 0M1535 604l1 2M1483 460l-1 1M1335 546l2 2M1502 552l1 2M1290 630h0M1421 661l-1 1M1373 506l1 2M1528 433l-1 2M1518 628l0 2M1398 487l0 1M1466 595l-1 1M1353 500l1 0M1422 447l0 1M1469 396l1 1M1333 577h0M1486 578l2 0M1410 464h0M1259 422l-2 1M1487 450l1 1M1540 573l0 1M1472 592l-1 1M1161 616l0 2M1538 430l-1 1M1517 564l-1 2M1411 540l-2 0M1457 392l0 2M1380 548l0 2" stroke="#7a3090" stroke-width="5" stroke-linecap="round" fill="none"/><path d="M1383 615l2 0M1322 657l1 1M1389 591l-1 0M1407 469l-1 0M1469 511l0 1M1333 546l-1 1M1429 628l2 1M1494 587l1 1M1538 631l-2 0M1502 388l-1 0M1349 659h0M1544 570l2 1M1384 468l1 2M1161 620h0M1344 379l2 1M1301 519l2 0M1292 571l2 0M1318 669h0M1358 510l1 1M1508 485l1 1M1455 620l0 1M1265 526l2 0M1222 478l-1 0M1240 666h0M1141 616l-1 0M1427 460l1 1M1443 531l0 1M1506 514l0 1M1248 379l-1 0M1325 514l0 1M1415 422l1 1M1335 578l-1 0M1382 436l0 1M1396 468l1 0M1422 578h0M1491 551l1 0M1298 372l2 0M1349 597h0M1193 665h0M1554 610l1 2M1345 667h0M1338 602h0" stroke="#2a2a80" stroke-width="3" stroke-linecap="round" fill="none"/><path d="M1910 460l0 2M1678 536l1 1M1585 427l-1 0M1851 378h0M1804 575h0M1572 662h0M1728 450l2 1M1828 495l1 0M1758 500l1 2M1653 425l2 1M1831 519l-2 0M1822 539l2 0M1805 524l-2 1M1578 597l-1 0M1573 562h0M1689 403l-1 2M1771 443h0M1776 491l2 1M1689 477l-1 0M1690 381l-1 1M1563 553l1 0M1854 420h0M1614 400l-2 0M1806 537l0 1M1660 540l-1 2M1653 624l0 1M1584 473l-1 2M1774 580l1 1M1632 461l-2 1M1834 451h0M1663 611h0M1858 532l1 2M1808 455l1 2M1887 416l-1 1M1640 558l-2 0M1719 435l1 1M1695 592h0M1614 574l-1 1M1777 449l-2 2M1930 377h0M1827 446l-1 2M1830 625l1 2M1906 411l0 1M1779 478h0M1624 542l-2 2M1596 611l1 2M1826 604h0M1609 637l-1 1M1754 452h0M1657 474l-1 1M1851 578l1 1M1791 420h0M1582 647l-1 2M1710 566l-1 0M1706 663l0 1M1912 474l0 2M1596 635h0M1690 641h0M1663 504h0M1798 538h0M1668 606l1 2M1727 373l-1 1M1692 620l-1 2M1681 457l-2 0M1872 454l0 1M1852 670l-2 1M1813 374l1 2M1862 518h0M1711 635l-2 2M1591 669l1 2M1848 630l-1 2M1794 588l0 1M1863 404l0 2M1645 653l1 1M1842 565l1 1M1700 473h0M1850 522l-1 2M1709 385l-1 0M1646 602l1 0M1633 566h0M1574 556l2 0M1680 666l2 1M1752 503l2 1M1598 509l0 1M1776 647l0 1" stroke="#7a74b0" stroke-width="5" stroke-linecap="round" fill="none"/><path d="M1904 628l1 1M1883 612l1 1M1882 671h0M1932 463l-1 0M1885 671l0 2M1937 557l1 1M1911 551l-2 1M1934 577h0M1946 475h0M1878 575l0 1M1933 475l1 0M1965 621h0M1955 466l2 0M1940 473l1 1M1933 442h0M1866 664l-2 1" stroke="#3a3aa8" stroke-width="3" stroke-linecap="round" fill="none"/><path d="M1493 529l0 2M1317 488l0 1M1275 402h0M1445 483l1 1M1400 406l2 2M1443 481l1 2M1352 652l0 2M1503 450l-1 2M1490 534l-1 1M1185 583l0 1M1336 376l-1 2M1414 599l0 1M1208 509l0 2M1164 573h0M1556 590l1 1M1130 474l1 0M1335 580l1 0M1389 503h0M1409 544h0M1348 624l1 0M1183 505h0M1541 401l-2 0M1534 644h0M1325 476l-1 0M1243 472l1 2M1289 556h0M1550 520l-2 1M1196 670l0 1M1411 520l0 2M1267 600l-2 1M1391 447h0M1302 549l1 1M1346 398l-1 1M1408 592l0 1M1531 623h0M1377 471h0M1534 509l-1 2M1196 470l0 2M1506 382h0M1349 511l0 1M1494 443l-1 0M1161 523l1 2M1537 516l1 1M1222 588l-1 2" stroke="#2a2a80" stroke-width="5" stroke-linecap="round" fill="none"/><path d="M1500 459h0M1263 610l0 1M1550 627l0 1M1559 534h0M1524 611l-1 1M1553 500l1 1M1528 600l1 1M1267 518l-1 2M1385 450l0 1M1300 613l-1 0M1380 571l-1 2M1462 379l0 1M1369 547l0 1M1327 594h0M1230 401l-1 2M1445 549h0M1534 560l-1 2M1553 478l-1 2M1457 583l0 1M1478 617l-1 0M1313 556l-1 2M1268 518l1 2M1507 379l-1 2M1380 429l1 1M1188 581l1 1M1390 572l2 1M1551 643l-2 1M1371 533l-1 0M1495 463h0M1436 395l-2 2M1543 482l2 1M1311 435l-2 1M1408 373l1 2M1263 509l-1 2M1253 543l1 1M1168 633h0M1351 603l2 1" stroke="#7a3090" stroke-width="3" stroke-linecap="round" fill="none"/><path d="M1955 576l1 2M1968 597l1 2M1945 669l2 0M1969 648l-1 0M1958 653l1 1M1963 602l1 1M1934 656l0 1M1935 661l-2 1M1954 599l1 1M1939 667l1 0M1934 561h0M1969 626l1 2M1948 576l2 0M1961 595l-1 1M1967 639l1 0M1957 667l1 2M1965 583l-1 2M1961 568l-1 0M1956 562l-2 1M1927 646l-1 0M1928 639l0 2M1959 634l0 1" stroke="#60d8e8" stroke-width="4" stroke-linecap="round" fill="none"/><path d="M1121 633l1 1M1147 520l0 1M1145 474l1 1M1139 520h0M1231 380h0M1117 649l0 1M1113 607l1 2M1113 642l0 1M1203 380l1 0M1123 660l2 2M1228 376l0 1M1129 658h0M1116 534l1 0M1157 430l-2 1M1126 613l0 2M1112 603l0 1M1121 535l0 2M1108 595h0M1135 562l0 1M1128 557l-1 0M1148 484l2 1M1209 388l-1 2M1111 652l-2 1M1133 646l2 1M1119 531h0M1198 399h0M1112 645h0M1155 442l2 1M1120 661h0M1121 583h0M1117 615l0 1M1179 407h0" stroke="#1e1ec8" stroke-width="4" stroke-linecap="round" fill="none"/><path d="M1911 499l-1 2M1958 435h0M1929 486l-1 1M1962 467l-1 1M1969 503h0M1891 589l-1 0M1855 659l-1 0M1870 659l0 1M1970 560h0M1967 391l0 2M1969 522h0M1881 596l1 0M1969 510l2 1M1966 583l0 1M1890 585h0M1915 495l-2 1M1964 413l0 2M1932 492h0M1920 555h0M1953 492h0" stroke="#3a3aa8" stroke-width="5" stroke-linecap="round" fill="none"/><path d="M1125 671l0 1M1149 469l-1 0M1146 474l-1 0M1116 642h0M1140 464h0M1149 443l1 1M1135 556l-1 0M1159 432h0M1143 469h0M1125 661l-2 1M1153 500l-1 0M1121 586l0 1M1116 576l0 1M1122 568l1 0M1107 650h0M1107 669l2 1M1125 580h0M1122 644h0M1129 609l-2 1M1185 395l1 1M1119 611l-1 1" stroke="#1e1ec8" stroke-width="5" stroke-linecap="round" fill="none"/><path d="M1112 657l2 0M1124 522l0 1M1127 554l1 0M1121 616l0 2M1155 495h0M1143 508l0 1M1117 569l2 1" stroke="#2a2a90" stroke-width="5" stroke-linecap="round" fill="none"/><path d="M1141 473h0M1121 566l2 0M1174 438h0M1120 553l2 1M1111 569h0M1179 427l-1 1M1162 441l1 0" stroke="#2a2a90" stroke-width="4" stroke-linecap="round" fill="none"/><path d="M1969 467l-1 1M1888 555l1 0M1898 666l-2 0M1940 537l-1 2M1898 541l-1 1M1934 567l-1 1M1922 582h0" stroke="#6a6aa8" stroke-width="5" stroke-linecap="round" fill="none"/><path d="M1930 631l-2 1M1929 652h0M1945 567l-2 1M1930 562l0 1M1966 571l-2 0M1929 576l0 1M1957 572l-1 1" stroke="#60d8e8" stroke-width="5" stroke-linecap="round" fill="none"/><path d="M1129 492l-2 1M1128 647l1 1M1167 434l-1 1M1128 548h0M1183 410l1 0M1177 424l0 1M1109 643h0M1130 513l2 0M1110 621l1 1M1225 377h0M1129 635l2 0M1111 621h0M1131 517l0 1M1134 511h0" stroke="#1e1ec8" stroke-width="3" stroke-linecap="round" fill="none"/><path d="M1898 664l0 1M1886 667l0 2M1967 392h0M1966 404l1 2M1958 551l1 1M1932 531l2 1M1888 565l1 0M1959 582l0 2" stroke="#6a6aa8" stroke-width="4" stroke-linecap="round" fill="none"/><path d="M1196 405l-2 2M1198 411l-1 1M1203 406l1 0M1118 550h0" stroke="#2a2a90" stroke-width="3" stroke-linecap="round" fill="none"/><path d="M1928 641l1 1M1926 608l2 1M1941 565l1 0M1940 633l-1 1M1955 629l-1 1M1953 643l1 1" stroke="#60d8e8" stroke-width="3" stroke-linecap="round" fill="none"/><path d="M1946 595l-2 0M1920 589h0" stroke="#6a6aa8" stroke-width="3" stroke-linecap="round" fill="none"/><path d="M1194 578l-1 0M1564 444l-2 2M1610 638l-2 2M1357 598l2 1M1662 667l1 1M1622 622l1 2M1306 566l0 2M1627 468h0M1367 447l0 1M1614 650l3 1M1390 541l-1 1M1260 423l-1 2M1382 534l3 2M1829 439l1 2M1696 640l3 1M1929 448l0 2M1807 377h0M1331 421l3 0M1380 565l3 1M1722 501l0 3M1586 455l-3 0M1501 382l0 1M1600 569h0M1417 607l-2 3M1575 618l0 1M1735 524l2 1M1619 451l1 1M1683 568l0 1M1370 652l-2 1M1511 577h0M1294 655l-1 2M1243 576l1 0M1416 555l3 0" stroke="#e8e8c8" stroke-width="8" stroke-linecap="round" fill="none"/><path d="M1954 476l-2 1M1878 423l2 1M1465 473l-1 1M1385 605h0M1757 668l0 1M1175 599l2 1" stroke="#e0b0e0" stroke-width="7" stroke-linecap="round" fill="none"/><path d="M1375 559l0 2M1400 416h0M1530 530l-1 0M1280 646l3 1M1788 506l2 2M1671 643l0 1M1933 507l3 0M1394 573h0M1527 542h0M1431 432l1 1M1227 644l1 3M1467 528l3 1M1260 521l0 1M1507 461l2 3M1898 464l1 0M1945 556l-1 2M1437 622h0M1230 608h0M1439 503l-2 0M1434 614l-1 3M1316 545l0 3M1859 542l0 1M1148 523l1 1M1309 526l-3 1M1759 576l2 3M1440 665l1 2M1278 454l1 2M1817 495l2 3M1289 586l-3 1M1570 610h0M1525 647l0 1M1754 495l-2 2M1539 488l-1 2M1206 633l3 2M1605 638h0M1880 494l2 0M1297 539l-3 1M1826 474l0 2M1547 550l-1 1" stroke="#e8e8c8" stroke-width="6" stroke-linecap="round" fill="none"/><path d="M1724 438l-2 1M1194 558h0M1603 376l2 2M1932 391l1 3M1675 479l0 2M1165 554l-1 1M1530 478l-2 1M1205 477l2 2M1494 511h0M1841 620l2 3M1164 463l1 1M1791 569l-1 0M1324 377l2 0" stroke="#60e0d0" stroke-width="5" stroke-linecap="round" fill="none"/><path d="M1244 512l0 1M1587 407h0M1872 511l-1 3M1235 608h0M1466 518l-1 3M1514 396l0 1M1732 420l-2 2M1239 518l-1 1M1845 424l2 1M1866 457l0 2M1216 554l-1 2M1897 564l0 2M1278 552l1 2M1706 613l-1 2M1547 558l1 2M1506 469h0M1382 450l-1 3M1816 661l-1 2M1503 410l1 0M1390 522l-1 1M1270 515l1 0M1726 521l0 2M1204 633l-1 1M1792 536l2 1M1624 413l-1 0M1734 655l-1 0M1695 437l-1 0M1484 391l-2 1" stroke="#e8e8c8" stroke-width="7" stroke-linecap="round" fill="none"/><path d="M1180 607l2 1M1823 411l-1 1M1372 385l-1 1M1598 541l-1 3M1451 601h0M1486 557l1 3M1477 460l2 1M1141 564h0M1922 464l2 0M1338 468l-3 1M1324 512h0M1554 581h0M1323 396l-2 0M1430 665l3 1M1236 475l-1 0M1815 432l1 0M1670 463l1 1M1418 383l-1 0M1339 642l2 1M1279 460l0 3M1320 381l1 1M1617 499l0 1M1743 530h0M1161 535l3 0M1647 387l1 0M1444 587h0M1535 651l-2 0M1371 526l1 0M1419 441l0 1M1608 376l2 2M1299 502l-2 1M1801 610l1 2M1673 439l3 0M1237 542l0 2M1398 661l1 1M1780 486h0M1630 414l1 2" stroke="#e8e8c8" stroke-width="5" stroke-linecap="round" fill="none"/><path d="M1134 650l2 2M1683 486l1 1M1582 533l-1 0M1771 663l1 1M1716 513l2 2M1674 526l2 2M1386 536h0M1461 511l-1 2M1936 640l-1 2M1597 646l0 1M1624 638l1 2M1604 432h0M1360 429l1 3M1912 440l-1 1" stroke="#60e0d0" stroke-width="6" stroke-linecap="round" fill="none"/><path d="M1827 584l3 1M1840 660l-1 1M1326 549l3 1M1621 591l2 1" stroke="#e0e040" stroke-width="8" stroke-linecap="round" fill="none"/><path d="M1326 496l1 1M1760 633l1 1M1407 421l1 1M1159 548h0M1368 425l0 1M1216 662l-2 2M1852 565l2 1M1177 620l1 2M1776 544l0 1M1314 537l0 1M1336 614l0 3" stroke="#60e0d0" stroke-width="8" stroke-linecap="round" fill="none"/><path d="M1458 591h0M1714 576l1 1M1743 425l-1 1M1178 493l-3 0M1484 430l-3 0M1422 466l0 1" stroke="#e0e040" stroke-width="5" stroke-linecap="round" fill="none"/><path d="M1913 419l-3 0M1603 441l2 2M1849 471l-1 1M1375 527l3 1M1364 400l-3 0M1225 643h0M1482 570h0M1935 619l0 1M1282 586l1 3M1238 500l1 2M1918 469l0 3M1934 402l2 1M1527 459l2 3M1941 439l2 2M1456 621l0 1M1219 413l-1 1M1152 493l-3 2M1516 499h0M1532 594h0M1836 481l-2 1M1189 638l-1 1M1719 406l-1 0M1707 497l0 1M1715 417l-1 0M1809 614l0 1" stroke="#50e050" stroke-width="6" stroke-linecap="round" fill="none"/><path d="M1816 488l-2 1M1436 597l0 1M1714 427l-2 1M1334 535l2 3M1740 647l2 0M1183 460l1 0M1554 581l0 3M1465 418l-3 1M1229 528l2 1M1873 552l2 2M1549 463l1 0M1308 612l-1 3M1925 474l0 2M1733 603l1 1M1474 582l-2 2M1234 531l2 2M1368 660l-2 3M1586 598l0 1M1645 458l2 3M1815 395l-2 0M1263 440l-2 2M1766 430h0" stroke="#50e050" stroke-width="5" stroke-linecap="round" fill="none"/><path d="M1332 427l-1 2M1793 466l0 2M1722 458l0 1M1906 553l-2 1M1227 493h0" stroke="#e0e040" stroke-width="7" stroke-linecap="round" fill="none"/><path d="M1723 415l0 1M1823 535l2 1M1285 429l-1 1M1511 392l0 1" stroke="#e0b0e0" stroke-width="6" stroke-linecap="round" fill="none"/><path d="M1291 507l2 0M1812 469l-2 0M1153 567h0M1325 551h0M1595 476l2 0M1542 383l-2 2M1549 512l-1 1M1458 494l-1 2M1277 583h0M1280 615l3 0M1687 548l1 3M1243 609l-1 0M1196 444l-2 2M1958 578l2 0M1473 439l0 1M1138 585l1 2M1491 623l0 3M1313 556l1 3M1953 490l0 3M1958 440h0M1936 475l-1 0M1510 588l0 1M1668 474l1 1" stroke="#50e050" stroke-width="7" stroke-linecap="round" fill="none"/><path d="M1638 546l1 3M1241 613h0M1559 631l-3 2M1616 507l-1 1M1543 644l0 3M1360 468l0 1M1509 489l1 1M1639 585l1 2M1547 614l0 3M1590 645l1 1M1598 420l-1 0" stroke="#50e050" stroke-width="8" stroke-linecap="round" fill="none"/><path d="M1328 525l-1 0M1851 659l0 1M1558 635l0 2M1775 472l-1 1M1887 534l1 1M1843 414l0 1" stroke="#e0b0e0" stroke-width="8" stroke-linecap="round" fill="none"/><path d="M1357 533l-1 2M1198 421l2 1M1310 595l-1 2M1321 462l2 1M1202 408l1 0M1934 378l2 1M1180 479l1 0M1858 383h0" stroke="#f05858" stroke-width="5" stroke-linecap="round" fill="none"/><path d="M1288 571l-1 2M1492 647l1 2M1877 583l2 1M1946 581l1 3" stroke="#e0e040" stroke-width="6" stroke-linecap="round" fill="none"/><path d="M1469 559l-2 2M1599 610l-1 1M1453 520h0M1818 570h0M1407 429l0 3M1770 478l-1 2M1800 564l-3 1M1919 490l1 1M1582 565l0 2M1336 423l-2 2M1349 556l0 2M1159 552l1 0M1722 591l3 0" stroke="#f05858" stroke-width="7" stroke-linecap="round" fill="none"/><path d="M1457 624l2 0M1272 654l2 1M1208 630l-1 3M1165 525l1 1M1228 556l1 3M1353 563l-2 1M1689 416l-1 0" stroke="#f05858" stroke-width="8" stroke-linecap="round" fill="none"/><path d="M1145 568h0M1538 400l1 1M1396 604l3 1" stroke="#e0b0e0" stroke-width="5" stroke-linecap="round" fill="none"/><path d="M1216 422h0M1378 430l-3 2M1744 506l0 1M1773 614l-2 2M1386 467l-2 2M1624 468l-1 0" stroke="#f05858" stroke-width="6" stroke-linecap="round" fill="none"/><path d="M1898 544l2 1M1918 654l2 0" stroke="#60e0d0" stroke-width="7" stroke-linecap="round" fill="none"/><path d="M1203 380.3C1199.9 382.2 1190.1 386.9 1184.6 392C1179.1 397.1 1174.5 404.9 1170 411C1165.5 417.1 1161.3 423 1157.5 428.7C1153.7 434.4 1150.4 438.9 1147 445C1143.6 451.1 1140.1 458 1137 465C1133.9 472 1131.3 479.3 1128.5 487C1125.7 494.7 1122.4 503.8 1120 511C1117.6 518.2 1115.8 523 1114 530C1112.2 537 1110.3 545.5 1109 553C1107.7 560.5 1107.1 567.5 1106.3 575C1105.5 582.5 1104.8 590.3 1104.3 598C1103.8 605.7 1103.6 613.7 1103.4 621C1103.2 628.3 1103.2 634.8 1103.4 642C1103.6 649.2 1104.2 660.3 1104.3 664" stroke="#fff" stroke-width="7" stroke-dasharray="10 8" fill="none"/><path d="M1955 394C1950 400 1935 414 1925 430C1915 446 1903.7 468.3 1895 490C1886.3 511.7 1879.2 538.3 1873 560C1866.8 581.7 1861.5 601.7 1858 620C1854.5 638.3 1853 661.7 1852 670" stroke="#fff" stroke-width="7" stroke-dasharray="10 8" fill="none"/><ellipse cx="1178" cy="480" rx="5" ry="3.5" fill="#f07070"/><ellipse cx="1512" cy="447" rx="5" ry="3.5" fill="#f080c8"/><ellipse cx="1534" cy="448" rx="5" ry="3.5" fill="#40d0b0"/><ellipse cx="1714.5" cy="383" rx="5" ry="3.5" fill="#e0e060"/><ellipse cx="1497" cy="592" rx="5" ry="3.5" fill="#f0d8e8"/><ellipse cx="1621" cy="592" rx="5" ry="3.5" fill="#50d070"/><ellipse cx="1763" cy="598" rx="5" ry="3.5" fill="#b0e050"/><ellipse cx="1323" cy="662" rx="5" ry="3.5" fill="#f09090"/><path d="M1586 398L1612 395L1600 411Z" fill="#f0e0a8"/><rect x="1168.7" y="471.3" width="18" height="18" fill="none" stroke="#fff" stroke-width="1.8" stroke-dasharray="3 2.2"/><text x="1178.3" y="464" font-size="20" fill="#fff" text-anchor="middle">vi</text><rect x="1503.5" y="437.7" width="18" height="18" fill="none" stroke="#fff" stroke-width="1.8" stroke-dasharray="3 2.2"/><text x="1508.3" y="431.4" font-size="20" fill="#fff" text-anchor="middle">i</text><rect x="1525" y="437.7" width="18" height="18" fill="none" stroke="#fff" stroke-width="1.8" stroke-dasharray="3 2.2"/><text x="1536" y="431.4" font-size="20" fill="#fff" text-anchor="middle">iii</text><rect x="1488" y="583.2" width="18" height="18" fill="none" stroke="#fff" stroke-width="1.8" stroke-dasharray="3 2.2"/><text x="1497.3" y="576" font-size="20" fill="#fff" text-anchor="middle">vii</text><rect x="1612.5" y="583.2" width="18" height="18" fill="none" stroke="#fff" stroke-width="1.8" stroke-dasharray="3 2.2"/><text x="1622" y="576" font-size="20" fill="#fff" text-anchor="middle">viii</text><rect x="1754.2" y="589" width="18" height="18" fill="none" stroke="#fff" stroke-width="1.8" stroke-dasharray="3 2.2"/><text x="1762" y="581.8" font-size="20" fill="#fff" text-anchor="middle">ii</text><rect x="1313.8" y="652.9" width="18" height="18" fill="none" stroke="#fff" stroke-width="1.8" stroke-dasharray="3 2.2"/><text x="1323.4" y="646.6" font-size="20" fill="#fff" text-anchor="middle">iv</text><rect x="1706.7" y="375.2" width="15" height="15" fill="none" stroke="#fff" stroke-width="1.8" stroke-dasharray="3 2.2"/><text x="1715" y="408" font-size="20" fill="#fff" text-anchor="middle">v</text><rect x="1914" y="685" width="58.8" height="4.5" fill="#fff"/><text x="1943" y="681" font-size="7" fill="#bbb" text-anchor="middle">100 μm</text><svg x="1085.6" y="698.3" width="104.7" height="104" viewBox="0 0 104.7 104"><rect width="104.7" height="104" fill="#050505"/><ellipse cx="30" cy="20" rx="35" ry="22" fill="#3a2a80" fill-opacity="0.6" transform="rotate(0 30 20)"/><ellipse cx="75" cy="12" rx="28" ry="14" fill="#5a2a70" fill-opacity="0.5" transform="rotate(0 75 12)"/><ellipse cx="95" cy="72" rx="8" ry="12" fill="#3040c0" fill-opacity="0.5" transform="rotate(0 95 72)"/><ellipse cx="72" cy="39" rx="10" ry="12" fill="#2a3ae0" fill-opacity="0.9" transform="rotate(0 72 39)"/><ellipse cx="48" cy="60" rx="28" ry="16" fill="#e040d0" fill-opacity="0.95" transform="rotate(25 48 60)"/><ellipse cx="70" cy="78" rx="8" ry="5" fill="#e040d0" fill-opacity="0.9" transform="rotate(40 70 78)"/><ellipse cx="45" cy="56" rx="10" ry="7" fill="#7040b0" fill-opacity="0.8" transform="rotate(0 45 56)"/><path d="M10 61h0M45 92h0M56 43h0M12 99h0M17 66h0M23 28h0M86 15h0M101 81h0M67 52h0M94 73h0M45 25h0M56 19h0M67 78h0M45 82h0M51 7h0M23 12h0M15 65h0M4 21h0M22 40h0M81 79h0M85 92h0M28 6h0M27 45h0M71 99h0M25 5h0M38 94h0M65 51h0M97 61h0M70 72h0M36 52h0M92 79h0M29 29h0M103 58h0M40 34h0M70 81h0M81 52h0M72 7h0M72 13h0M68 18h0M27 41h0M14 82h0M44 91h0M88 67h0M41 64h0M101 39h0M42 104h0M47 58h0M42 8h0M31 93h0M74 5h0M74 47h0M100 57h0M28 74h0M8 67h0M62 15h0M101 5h0M104 81h0M63 85h0M53 88h0M77 47h0M42 45h0M40 69h0M92 67h0M86 92h0M37 88h0M31 53h0M5 90h0M73 4h0M45 88h0M30 58h0M102 11h0M19 71h0M43 51h0M27 15h0M3 27h0M93 75h0M6 29h0M89 63h0M6 95h0M3 58h0M98 90h0M52 56h0M8 14h0M46 88h0M10 68h0M35 70h0M11 52h0M84 98h0M1 8h0M93 55h0" stroke="#a02040" stroke-width="1.3" stroke-linecap="round" fill="none"/><rect x="84.7" y="96.5" width="15" height="3" fill="#fff"/><text x="4" y="23" font-size="25" fill="#fff">i</text></svg><svg x="1198.5" y="698.3" width="104.7" height="104" viewBox="0 0 104.7 104"><rect width="104.7" height="104" fill="#050505"/><ellipse cx="8" cy="12" rx="14" ry="12" fill="#2a30a0" fill-opacity="0.6" transform="rotate(0 8 12)"/><ellipse cx="90" cy="15" rx="20" ry="15" fill="#402070" fill-opacity="0.5" transform="rotate(0 90 15)"/><ellipse cx="98" cy="62" rx="14" ry="17" fill="#e040d0" fill-opacity="0.9" transform="rotate(0 98 62)"/><ellipse cx="30" cy="90" rx="18" ry="10" fill="#3a2a70" fill-opacity="0.4" transform="rotate(0 30 90)"/><ellipse cx="52" cy="54" rx="31" ry="19" fill="#a8e040" fill-opacity="0.95" transform="rotate(-10 52 54)"/><ellipse cx="57" cy="58" rx="11" ry="10" fill="#3050d0" fill-opacity="0.85" transform="rotate(0 57 58)"/><path d="M25 81h0M6 66h0M86 102h0M63 33h0M104 41h0M66 56h0M46 31h0M49 10h0M71 74h0M0 1h0M10 81h0M19 62h0M59 43h0M59 8h0M39 23h0M79 35h0M59 9h0M72 43h0M97 72h0M47 44h0M66 92h0M82 4h0M35 88h0M47 101h0M95 99h0M89 24h0M91 87h0M28 10h0M52 41h0M66 61h0M40 21h0M73 21h0M12 4h0M42 43h0M38 17h0M3 71h0M72 79h0M91 14h0M14 67h0M73 90h0M77 26h0M72 57h0M59 23h0M46 23h0M56 22h0M95 17h0M91 13h0M92 49h0M3 39h0M11 104h0M95 14h0M18 67h0M61 3h0M66 99h0M69 1h0M79 48h0M84 22h0M38 3h0M23 39h0M9 75h0M92 6h0M59 13h0M69 64h0M17 52h0M33 9h0M73 103h0M0 41h0M62 49h0M85 13h0M55 102h0M41 59h0M36 37h0M58 65h0M18 69h0M39 41h0M66 73h0M78 26h0M44 104h0M61 23h0M61 99h0M20 18h0M102 102h0M28 53h0M76 46h0M68 42h0M79 98h0M73 87h0M82 65h0M87 29h0M10 78h0" stroke="#a02040" stroke-width="1.3" stroke-linecap="round" fill="none"/><rect x="84.7" y="96.5" width="15" height="3" fill="#fff"/><text x="4" y="23" font-size="25" fill="#fff">ii</text></svg><svg x="1311.4" y="698.3" width="104.7" height="104" viewBox="0 0 104.7 104"><rect width="104.7" height="104" fill="#050505"/><ellipse cx="25" cy="85" rx="22" ry="14" fill="#302a90" fill-opacity="0.6" transform="rotate(0 25 85)"/><ellipse cx="45" cy="8" rx="28" ry="10" fill="#3a2a80" fill-opacity="0.5" transform="rotate(0 45 8)"/><ellipse cx="94" cy="92" rx="12" ry="8" fill="#2040d0" fill-opacity="0.85" transform="rotate(0 94 92)"/><ellipse cx="60" cy="95" rx="18" ry="7" fill="#5a2a80" fill-opacity="0.5" transform="rotate(0 60 95)"/><ellipse cx="49" cy="51" rx="26" ry="15" fill="#40e0a8" fill-opacity="0.95" transform="rotate(-12 49 51)"/><ellipse cx="53" cy="49" rx="10" ry="8" fill="#3050c0" fill-opacity="0.6" transform="rotate(0 53 49)"/><path d="M97 15h0M30 89h0M87 84h0M94 46h0M53 93h0M4 17h0M63 73h0M32 2h0M28 42h0M3 14h0M81 83h0M56 14h0M91 88h0M89 95h0M17 81h0M30 28h0M60 23h0M87 49h0M1 2h0M95 12h0M44 78h0M71 64h0M43 91h0M36 3h0M28 73h0M97 91h0M30 38h0M25 58h0M66 26h0M49 74h0M26 16h0M59 2h0M13 86h0M35 45h0M26 96h0M93 40h0M90 65h0M70 90h0M38 87h0M20 54h0M22 29h0M101 44h0M8 46h0M58 80h0M88 104h0M74 44h0M33 23h0M52 28h0M100 30h0M58 15h0M4 85h0M91 32h0M91 24h0M32 56h0M28 55h0M60 69h0M19 58h0M99 83h0M54 73h0M8 80h0M28 35h0M23 18h0M9 34h0M59 30h0M60 23h0M20 89h0M42 14h0M17 16h0M1 41h0M75 52h0M24 31h0M60 38h0M49 86h0M57 46h0M46 41h0M65 61h0M33 3h0M76 21h0M6 43h0M95 6h0M21 61h0M71 32h0M41 77h0M20 19h0M98 104h0M77 25h0M69 93h0M84 38h0M80 24h0M104 71h0" stroke="#a02040" stroke-width="1.3" stroke-linecap="round" fill="none"/><rect x="84.7" y="96.5" width="15" height="3" fill="#fff"/><text x="4" y="23" font-size="25" fill="#fff">iii</text></svg><svg x="1424.3" y="698.3" width="104.7" height="104" viewBox="0 0 104.7 104"><rect width="104.7" height="104" fill="#050505"/><ellipse cx="20" cy="90" rx="24" ry="14" fill="#5a2a90" fill-opacity="0.6" transform="rotate(0 20 90)"/><ellipse cx="99" cy="20" rx="7" ry="13" fill="#2040d0" fill-opacity="0.8" transform="rotate(0 99 20)"/><ellipse cx="59" cy="37" rx="15" ry="9" fill="#2040e0" fill-opacity="0.95" transform="rotate(0 59 37)"/><ellipse cx="90" cy="95" rx="16" ry="8" fill="#3a30a0" fill-opacity="0.6" transform="rotate(0 90 95)"/><ellipse cx="51" cy="70" rx="33" ry="15" fill="#ff9898" fill-opacity="0.95" transform="rotate(-8 51 70)"/><ellipse cx="57" cy="68" rx="14" ry="8" fill="#e05070" fill-opacity="0.6" transform="rotate(0 57 68)"/><path d="M61 61h0M32 23h0M79 96h0M75 70h0M75 36h0M88 40h0M51 57h0M12 86h0M94 95h0M52 35h0M101 22h0M81 97h0M19 96h0M52 63h0M52 27h0M49 13h0M70 81h0M78 42h0M42 53h0M81 58h0M47 5h0M65 36h0M69 76h0M62 51h0M39 43h0M1 83h0M103 43h0M63 36h0M31 11h0M80 30h0M74 78h0M67 14h0M60 32h0M67 80h0M103 79h0M6 88h0M60 88h0M40 33h0M41 80h0M92 95h0M8 79h0M42 103h0M4 5h0M76 63h0M95 10h0M57 87h0M46 41h0M13 37h0M102 24h0M41 35h0M73 37h0M33 67h0M40 8h0M87 17h0M64 99h0M38 16h0M31 85h0M17 94h0M33 88h0M39 48h0M52 21h0M15 69h0M60 6h0M14 99h0M47 51h0M1 103h0M85 48h0M43 55h0M98 62h0M18 61h0M66 59h0M12 47h0M91 84h0M37 55h0M44 82h0M54 69h0M36 84h0M13 100h0M95 47h0M20 47h0M80 59h0M43 30h0M42 70h0M14 86h0M71 16h0M76 79h0M48 60h0M0 34h0M50 45h0M22 94h0" stroke="#a02040" stroke-width="1.3" stroke-linecap="round" fill="none"/><rect x="84.7" y="96.5" width="15" height="3" fill="#fff"/><text x="4" y="23" font-size="25" fill="#fff">iv</text></svg><svg x="1537.2" y="698.3" width="104.7" height="104" viewBox="0 0 104.7 104"><rect width="104.7" height="104" fill="#050505"/><ellipse cx="80" cy="12" rx="26" ry="12" fill="#c030c0" fill-opacity="0.85" transform="rotate(0 80 12)"/><ellipse cx="92" cy="45" rx="13" ry="18" fill="#a030a0" fill-opacity="0.6" transform="rotate(0 92 45)"/><ellipse cx="86" cy="86" rx="17" ry="16" fill="#2030e0" fill-opacity="0.9" transform="rotate(0 86 86)"/><ellipse cx="8" cy="30" rx="10" ry="14" fill="#2030a0" fill-opacity="0.5" transform="rotate(0 8 30)"/><ellipse cx="50" cy="50" rx="27" ry="20" fill="#e4e440" fill-opacity="0.95" transform="rotate(0 50 50)"/><ellipse cx="60" cy="56" rx="12" ry="10" fill="#5a6ab0" fill-opacity="0.6" transform="rotate(0 60 56)"/><path d="M24 57h0M8 16h0M77 81h0M96 99h0M71 39h0M9 79h0M48 51h0M50 38h0M40 102h0M49 6h0M66 63h0M69 8h0M27 29h0M103 30h0M93 39h0M94 96h0M75 29h0M84 57h0M47 93h0M62 4h0M29 89h0M5 25h0M102 91h0M84 29h0M24 42h0M91 7h0M14 54h0M87 42h0M31 79h0M59 35h0M13 22h0M8 83h0M57 7h0M45 30h0M91 33h0M82 18h0M80 15h0M89 18h0M44 100h0M48 33h0M36 29h0M1 59h0M70 87h0M42 87h0M88 57h0M40 14h0M75 34h0M3 71h0M62 55h0M26 95h0M14 61h0M45 70h0M15 57h0M91 74h0M18 9h0M19 76h0M100 91h0M16 101h0M36 74h0M35 25h0M28 39h0M84 50h0M71 29h0M79 71h0M38 4h0M13 83h0M53 42h0M56 97h0M45 0h0M16 16h0M28 51h0M93 102h0M24 99h0M67 55h0M75 29h0M46 48h0M71 7h0M74 5h0M80 42h0M74 91h0M85 65h0M47 11h0M21 1h0M84 62h0M42 23h0M99 85h0M35 19h0M69 2h0M93 98h0M4 27h0" stroke="#a02040" stroke-width="1.3" stroke-linecap="round" fill="none"/><rect x="84.7" y="96.5" width="15" height="3" fill="#fff"/><text x="4" y="23" font-size="25" fill="#fff">v</text></svg><svg x="1650.1" y="698.3" width="104.7" height="104" viewBox="0 0 104.7 104"><rect width="104.7" height="104" fill="#050505"/><ellipse cx="10" cy="42" rx="12" ry="17" fill="#2030c0" fill-opacity="0.7" transform="rotate(0 10 42)"/><ellipse cx="72" cy="28" rx="12" ry="27" fill="#2030d0" fill-opacity="0.8" transform="rotate(10 72 28)"/><ellipse cx="30" cy="95" rx="20" ry="8" fill="#2a2a70" fill-opacity="0.4" transform="rotate(0 30 95)"/><ellipse cx="54" cy="61" rx="9" ry="19" fill="#ff4848" fill-opacity="0.95" transform="rotate(8 54 61)"/><ellipse cx="55" cy="58" rx="4" ry="9" fill="#3040d0" fill-opacity="0.9" transform="rotate(0 55 58)"/><path d="M76 88h0M38 2h0M28 0h0M65 86h0M15 96h0M45 31h0M86 76h0M1 73h0M8 8h0M59 25h0M51 90h0M10 12h0M72 18h0M103 16h0M86 58h0M60 34h0M83 19h0M43 88h0M54 68h0M6 65h0M94 55h0M32 88h0M4 74h0M54 78h0M32 14h0M18 58h0M81 68h0M1 85h0M43 33h0M77 27h0M28 33h0M3 48h0M68 73h0M71 35h0M45 26h0M28 13h0M40 16h0M4 83h0M36 41h0M88 48h0M78 68h0M0 19h0M58 88h0M91 81h0M78 39h0M74 95h0M97 74h0M29 100h0M69 96h0M45 17h0M31 45h0M10 74h0M51 61h0M13 92h0M87 16h0M95 12h0M19 82h0M7 85h0M98 89h0M11 49h0M39 42h0M76 100h0M98 47h0M71 30h0M15 60h0M21 87h0M42 47h0M82 14h0M1 100h0M4 34h0M52 84h0M43 43h0M9 12h0M102 16h0M91 51h0M45 78h0M57 104h0M33 15h0M20 37h0M74 1h0M43 94h0M91 97h0M33 101h0M101 52h0M61 60h0M6 97h0M72 12h0M8 57h0M44 51h0M41 51h0" stroke="#a02040" stroke-width="1.3" stroke-linecap="round" fill="none"/><rect x="84.7" y="96.5" width="15" height="3" fill="#fff"/><text x="4" y="23" font-size="25" fill="#fff">vi</text></svg><svg x="1763" y="698.3" width="104.7" height="104" viewBox="0 0 104.7 104"><rect width="104.7" height="104" fill="#050505"/><ellipse cx="75" cy="20" rx="25" ry="13" fill="#6a3a90" fill-opacity="0.7" transform="rotate(0 75 20)"/><ellipse cx="93" cy="88" rx="12" ry="14" fill="#2030d0" fill-opacity="0.9" transform="rotate(0 93 88)"/><ellipse cx="40" cy="95" rx="25" ry="8" fill="#4a2a70" fill-opacity="0.5" transform="rotate(0 40 95)"/><ellipse cx="54" cy="54" rx="25" ry="19" fill="#f2bce8" fill-opacity="0.95" transform="rotate(25 54 54)"/><ellipse cx="58" cy="58" rx="10" ry="9" fill="#4a58c0" fill-opacity="0.6" transform="rotate(0 58 58)"/><path d="M60 101h0M48 62h0M4 34h0M27 10h0M43 87h0M73 99h0M21 101h0M67 4h0M73 7h0M39 21h0M39 3h0M62 19h0M75 47h0M28 6h0M4 19h0M22 41h0M65 61h0M14 49h0M15 75h0M72 84h0M1 63h0M28 63h0M47 27h0M38 73h0M11 45h0M16 66h0M19 42h0M94 54h0M59 32h0M51 60h0M96 37h0M72 3h0M14 63h0M74 79h0M80 62h0M86 58h0M75 39h0M96 33h0M24 27h0M44 94h0M16 21h0M69 33h0M13 101h0M56 17h0M57 26h0M90 53h0M7 101h0M101 59h0M68 14h0M64 54h0M26 74h0M83 97h0M93 89h0M26 91h0M88 88h0M13 47h0M25 81h0M97 56h0M27 35h0M67 45h0M102 60h0M36 23h0M47 2h0M44 81h0M69 14h0M94 33h0M84 88h0M61 87h0M102 66h0M13 86h0M45 96h0M24 87h0M24 8h0M60 31h0M4 80h0M81 18h0M64 94h0M97 81h0M85 101h0M104 21h0M59 83h0M40 12h0M13 93h0M81 68h0M19 88h0M4 94h0M44 67h0M31 57h0M40 71h0M102 86h0" stroke="#a02040" stroke-width="1.3" stroke-linecap="round" fill="none"/><rect x="84.7" y="96.5" width="15" height="3" fill="#fff"/><text x="4" y="23" font-size="25" fill="#fff">vii</text></svg><svg x="1875.9" y="698.3" width="104.7" height="104" viewBox="0 0 104.7 104"><rect width="104.7" height="104" fill="#050505"/><ellipse cx="85" cy="25" rx="20" ry="15" fill="#6a2070" fill-opacity="0.6" transform="rotate(0 85 25)"/><ellipse cx="22" cy="78" rx="24" ry="24" fill="#c030c0" fill-opacity="0.85" transform="rotate(0 22 78)"/><ellipse cx="90" cy="95" rx="20" ry="10" fill="#a030a0" fill-opacity="0.6" transform="rotate(0 90 95)"/><ellipse cx="20" cy="12" rx="12" ry="9" fill="#2030c0" fill-opacity="0.6" transform="rotate(0 20 12)"/><ellipse cx="56" cy="57.5" rx="23" ry="19" fill="#40c840" fill-opacity="0.95" transform="rotate(-10 56 57.5)"/><ellipse cx="56" cy="58" rx="18" ry="15" fill="#3050c8" fill-opacity="0.95" transform="rotate(-10 56 58)"/><path d="M14 13h0M21 40h0M87 20h0M41 40h0M33 22h0M72 60h0M23 89h0M33 84h0M40 71h0M45 94h0M82 46h0M45 44h0M54 78h0M23 97h0M14 63h0M9 42h0M21 7h0M49 9h0M78 27h0M60 64h0M68 65h0M48 0h0M6 69h0M72 86h0M30 29h0M1 31h0M103 18h0M75 65h0M72 57h0M83 45h0M13 83h0M13 4h0M37 100h0M15 71h0M35 80h0M28 64h0M20 46h0M98 3h0M4 63h0M77 30h0M52 33h0M71 81h0M38 25h0M17 28h0M43 26h0M4 26h0M12 55h0M52 49h0M64 102h0M60 8h0M23 31h0M1 52h0M77 100h0M57 81h0M14 3h0M102 6h0M55 84h0M8 89h0M39 63h0M70 20h0M101 35h0M79 45h0M59 26h0M0 17h0M35 10h0M48 34h0M14 77h0M8 85h0M23 36h0M13 16h0M65 66h0M82 89h0M12 38h0M0 83h0M36 95h0M41 15h0M38 70h0M13 55h0M35 48h0M76 40h0M24 55h0M63 1h0M89 12h0M64 89h0M3 44h0M48 13h0M68 104h0M27 15h0M24 69h0M84 19h0" stroke="#a02040" stroke-width="1.3" stroke-linecap="round" fill="none"/><rect x="84.7" y="96.5" width="15" height="3" fill="#fff"/><text x="4" y="23" font-size="25" fill="#fff">viii</text></svg><text x="1060" y="863" font-size="54" fill="#231815" font-weight="bold">f</text><text x="1238.8" y="879.4" font-size="29">L1</text><text x="1365.6" y="879.4" font-size="29">L2/3</text><text x="1556" y="879.4" font-size="29">L4</text><text x="1664" y="879.4" font-size="29">L5a</text><text x="1767.7" y="879.4" font-size="29">L5</text><text x="1868.5" y="879.4" font-size="29">L6</text><text x="1935.8" y="879.4" font-size="29">L6b</text><path d="M1210.5 885.5L1230 859M1281.6 885.5L1301.1 859M1477 885.5L1496.5 859M1639.4 885.5L1658.9 859M1710 885.5L1729.5 859M1842 885.5L1861.5 859M1913 885.5L1932.5 859M1980 885.5L1999.5 859" stroke="#231815" stroke-width="3.2" fill="none"/><defs><clipPath id="fclip"><rect x="1096" y="887.5" width="875" height="309.5"/></clipPath></defs><g clip-path="url(#fclip)"><path d="M1070 1197Q1066 1042 1203 887.5L1277 887.5Q1129.7 1042 1133.7 1197Z" fill="#ececec"/><path d="M1133.7 1197Q1129.7 1042 1277 887.5L1474.7 887.5Q1329 1042 1333 1197Z" fill="#f6d8d6"/><path d="M1333 1197Q1329 1042 1474.7 887.5L1638 887.5Q1485 1042 1489 1197Z" fill="#dcedf4"/><path d="M1489 1197Q1485 1042 1638 887.5L1710 887.5Q1550 1042 1554 1197Z" fill="#d6ecd0"/><path d="M1554 1197Q1550 1042 1710 887.5L1832.5 887.5Q1665 1042 1669 1197Z" fill="#f7ddc6"/><path d="M1669 1197Q1665 1042 1832.5 887.5L1909 887.5Q1739.6 1042 1743.6 1197Z" fill="#f6efca"/><path d="M1743.6 1197Q1739.6 1042 1909 887.5L2030 887.5Q1870 1042 1847 1197Z" fill="#e4e0f0"/><path d="M1636 1159l4 2M1608 1011l7 1M1865 1095l6 3M1834 1087l5 0M1603 1141l6 2M1854 1107l2 0" stroke="#2bb84b" stroke-width="9" stroke-linecap="round" fill="none"/><path d="M1736 1111l6 3M1401 933l4 -1M1178 977l6 1M1791 1169l3 -2M1679 1026l4 3M1825 1152l5 3M1833 979l4 3M1809 1132l7 0M1946 989l2 1M1118 1020l3 -1M1674 1129l5 3" stroke="#2a9ab0" stroke-width="6" stroke-linecap="round" fill="none"/><path d="M1484 961l4 0M1226 1169l5 1M1437 1080l3 2M1279 1131l6 -3M1501 956l4 -1" stroke="#8db865" stroke-width="8" stroke-linecap="round" fill="none"/><path d="M1915 992l7 -1M1588 933l4 -1M1164 942l4 -3M1233 1173l4 -2M1240 1126l3 0M1608 1052l3 -2M1855 1046l6 -3M1836 978l3 -1M1461 1152l3 -1M1321 1109l6 -1" stroke="#8db865" stroke-width="9" stroke-linecap="round" fill="none"/><path d="M1670 939l4 -1M1188 1088l2 -1M1754 1051l3 -1M1120 1134l2 1M1490 1007l3 1" stroke="#c0143c" stroke-width="9" stroke-linecap="round" fill="none"/><path d="M1929 961l2 1M1446 932l4 -2M1485 894l4 2M1536 1062l3 -1M1599 911l6 1M1334 1166l2 0" stroke="#8db865" stroke-width="6" stroke-linecap="round" fill="none"/><path d="M1902 1124l4 -1M1613 995l7 -2M1811 911l3 -1M1370 1096l7 2" stroke="#c84f9c" stroke-width="8" stroke-linecap="round" fill="none"/><path d="M1513 1049l5 0M1888 1051l2 1M1306 1161l6 0M1437 1003l3 0M1344 915l3 -2M1543 1036l6 -3M1188 1181l6 -3M1343 1040l6 -1M1665 978l6 -1M1957 965l6 0M1357 933l3 0M1426 969l6 2M1347 909l3 -2M1589 1101l3 1M1369 1124l5 2M1132 1075l5 -3" stroke="#2a9ab0" stroke-width="7" stroke-linecap="round" fill="none"/><path d="M1665 961l3 2M1134 1137l5 3" stroke="#2bb84b" stroke-width="7" stroke-linecap="round" fill="none"/><path d="M1765 1152l6 -2M1753 1022l5 -2M1705 1135l3 -1M1657 1166l3 -1M1413 1127l2 -1M1773 955l6 2M1538 997l4 3M1929 924l5 0" stroke="#c84f9c" stroke-width="9" stroke-linecap="round" fill="none"/><path d="M1188 1154l5 1M1800 1076l3 -2M1611 926l2 0M1267 952l3 -2M1834 1129l4 0M1617 1058l5 0M1669 1071l4 2" stroke="#1a4fd0" stroke-width="6" stroke-linecap="round" fill="none"/><path d="M1428 971l4 0M1423 943l4 1M1505 1173l4 0M1578 1097l5 3" stroke="#f07a2a" stroke-width="8" stroke-linecap="round" fill="none"/><path d="M1804 1153l4 -2M1903 942l3 0M1633 1029l4 1M1168 1176l4 0M1860 985l3 -1" stroke="#7a0db8" stroke-width="7" stroke-linecap="round" fill="none"/><path d="M1744 920l6 -1" stroke="#d5e06a" stroke-width="9" stroke-linecap="round" fill="none"/><path d="M1449 1147l3 -2M1583 901l3 -2M1783 1054l2 -1M1655 1052l3 1M1840 909l2 0" stroke="#6e7a8a" stroke-width="8" stroke-linecap="round" fill="none"/><path d="M1846 1102l4 3M1146 1178l3 -1M1637 1015l2 -1M1682 1122l5 -3M1766 1191l6 -3M1187 1096l5 1M1850 1004l2 -2M1743 1117l3 2M1224 1180l3 0M1688 983l7 -1" stroke="#6e7a8a" stroke-width="6" stroke-linecap="round" fill="none"/><path d="M1580 1138l3 1M1792 900l6 2M1469 1140l6 2M1549 911l3 -1M1347 1160l2 -1M1306 941l7 -1M1594 1191l4 1" stroke="#f07a2a" stroke-width="9" stroke-linecap="round" fill="none"/><path d="M1549 1014l4 2M1150 1056l3 0M1824 995l6 2M1388 970l7 -1M1952 954l4 1M1407 966l3 1" stroke="#2bb84b" stroke-width="6" stroke-linecap="round" fill="none"/><path d="M1222 1056l4 -2M1181 1176l6 1M1141 1081l5 -3M1362 1047l6 0M1822 915l6 1M1306 948l5 0M1808 973l7 -1M1733 976l5 -1M1742 1118l4 -2" stroke="#1a4fd0" stroke-width="9" stroke-linecap="round" fill="none"/><path d="M1652 1028l4 0M1397 1026l5 0" stroke="#b87040" stroke-width="7" stroke-linecap="round" fill="none"/><path d="M1604 1072l5 -1M1259 1105l3 2M1719 1000l5 3M1353 995l4 -3M1587 968l6 -3M1439 1050l6 -3M1516 1152l5 3M1143 1029l3 1M1808 943l4 0" stroke="#c84f9c" stroke-width="6" stroke-linecap="round" fill="none"/><path d="M1523 933l2 -1M1629 943l6 -1M1262 945l4 1" stroke="#d5e06a" stroke-width="8" stroke-linecap="round" fill="none"/><path d="M1794 1189l3 -2M1697 1021l6 2M1750 1077l3 -2M1523 933l5 3M1728 1170l2 0M1742 974l6 -3M1517 1187l7 0M1790 1081l3 -1M1323 993l6 -1M1851 906l7 0M1258 958l3 2" stroke="#c0143c" stroke-width="8" stroke-linecap="round" fill="none"/><path d="M1816 1009l6 2M1446 918l5 2M1217 1136l5 -1M1126 1188l4 -2M1372 1026l5 1M1479 956l5 -3M1229 1021l5 -3M1607 1133l2 0M1312 1051l4 1M1754 1074l5 -2M1448 1080l4 2" stroke="#1a4fd0" stroke-width="8" stroke-linecap="round" fill="none"/><path d="M1342 1136l3 -2M1815 997l7 -1" stroke="#b87040" stroke-width="6" stroke-linecap="round" fill="none"/><path d="M1390 1014l3 -1M1216 1044l2 -1M1729 1132l4 -1" stroke="#7a0db8" stroke-width="9" stroke-linecap="round" fill="none"/><path d="M1245 919l5 4M1390 1057l6 2M1490 1071l4 -1M1740 931l5 -1" stroke="#5a2db8" stroke-width="6" stroke-linecap="round" fill="none"/><path d="M1391 993l6 -2M1505 987l5 0M1530 1019l5 0M1627 1014l2 0" stroke="#8aa8f0" stroke-width="6" stroke-linecap="round" fill="none"/><path d="M1941 974l4 -1M1896 1011l7 0M1352 1128l4 0M1282 950l5 -2M1351 979l5 0" stroke="#1a4fd0" stroke-width="7" stroke-linecap="round" fill="none"/><path d="M1682 1174l4 2M1437 1025l4 1M1395 1098l3 0M1803 1137l5 -2" stroke="#c84f9c" stroke-width="7" stroke-linecap="round" fill="none"/><path d="M1408 1135l4 -1M1709 1165l6 1M1865 914l3 2M1350 944l6 0M1321 1182l2 -1M1576 905l2 1M1802 1024l7 1M1829 1124l3 1M1717 1163l4 1M1261 1126l6 3M1727 1173l4 2M1315 1053l6 1M1118 1076l7 0M1829 1039l2 -1M1204 1066l5 -2" stroke="#2a9ab0" stroke-width="9" stroke-linecap="round" fill="none"/><path d="M1745 1047l3 -1M1659 967l4 -2M1174 979l4 2M1765 1063l6 -1M1151 1177l2 -1" stroke="#6e7a8a" stroke-width="9" stroke-linecap="round" fill="none"/><path d="M1678 897l5 1M1937 942l4 2M1857 929l3 -2M1314 1113l5 0M1754 1089l2 1" stroke="#7a0db8" stroke-width="6" stroke-linecap="round" fill="none"/><path d="M1216 933l5 3M1225 1039l6 -1M1533 1004l5 -3M1461 1154l4 -2M1696 1147l3 -2M1697 895l4 3" stroke="#8aa8f0" stroke-width="8" stroke-linecap="round" fill="none"/><path d="M1210 1013l3 1M1873 1159l6 0M1235 1018l3 1M1686 1073l5 2M1823 897l6 1M1290 1179l5 1M1620 1187l2 -1M1771 953l5 3M1401 1160l3 -1" stroke="#2a9ab0" stroke-width="8" stroke-linecap="round" fill="none"/><path d="M1590 976l3 -2M1522 987l3 2M1749 1008l3 -1" stroke="#5a2db8" stroke-width="9" stroke-linecap="round" fill="none"/><path d="M1578 1037l3 -2M1626 1085l5 -2M1455 1169l4 -2" stroke="#7a0db8" stroke-width="8" stroke-linecap="round" fill="none"/><path d="M1186 953l5 -3M1335 1162l6 2M1623 1176l4 1M1891 1098l3 0M1792 1035l4 -3M1606 956l3 2" stroke="#6e7a8a" stroke-width="7" stroke-linecap="round" fill="none"/><path d="M1262 1102l3 1M1385 1153l4 2M1836 948l4 1M1343 908l4 2M1785 1135l3 -2M1578 906l6 0M1126 1091l3 1M1241 1001l5 -2M1402 1037l4 3" stroke="#c0143c" stroke-width="7" stroke-linecap="round" fill="none"/><path d="M1784 996l3 1" stroke="#d5e06a" stroke-width="6" stroke-linecap="round" fill="none"/><path d="M1515 1086l6 -1M1796 987l7 0M1360 1047l6 -1M1203 1174l4 1M1281 1088l2 0M1877 1016l5 3M1616 1104l5 2M1485 1159l6 -2M1537 1010l4 1M1452 894l3 2M1323 969l6 -1" stroke="#c0143c" stroke-width="6" stroke-linecap="round" fill="none"/><path d="M1605 925l4 0M1188 1068l7 -1" stroke="#b87040" stroke-width="9" stroke-linecap="round" fill="none"/><path d="M1543 1154l5 1M1698 1020l2 1M1331 1098l5 3M1514 969l6 -2M1471 1068l4 -1" stroke="#f07a2a" stroke-width="6" stroke-linecap="round" fill="none"/><path d="M1812 909l5 1M1896 990l5 3M1598 922l5 -3M1484 1008l6 3M1264 1149l6 -3M1259 1001l7 0" stroke="#2bb84b" stroke-width="8" stroke-linecap="round" fill="none"/><path d="M1954 939l5 -1M1346 1044l3 0M1558 983l4 -2" stroke="#f07a2a" stroke-width="7" stroke-linecap="round" fill="none"/><path d="M1343 1026l5 3M1513 940l7 0M1494 1023l5 3M1870 968l3 0" stroke="#8aa8f0" stroke-width="9" stroke-linecap="round" fill="none"/><path d="M1307 1011l4 -1M1514 903l6 1M1270 1147l2 -1" stroke="#5a2db8" stroke-width="7" stroke-linecap="round" fill="none"/><path d="M1660 1170l6 3M1311 1161l5 2M1346 1159l2 2M1712 948l4 0" stroke="#8db865" stroke-width="7" stroke-linecap="round" fill="none"/><path d="M1841 1008l3 2M1747 1003l6 -1M1127 1029l4 -2" stroke="#5a2db8" stroke-width="8" stroke-linecap="round" fill="none"/><path d="M1878 1019l2 -1" stroke="#8aa8f0" stroke-width="7" stroke-linecap="round" fill="none"/><path d="M1405 1170l4 0" stroke="#d5e06a" stroke-width="7" stroke-linecap="round" fill="none"/><path d="M1533 976l5 1" stroke="#b87040" stroke-width="8" stroke-linecap="round" fill="none"/></g><path d="M1083 882.4H1985.3V1201.8H1083Z" fill="none" stroke="#a0a0a0" stroke-width="1.6"/><path d="M1095.8 887.5H1970V1197H1095.8Z M1083 882.4L1095.8 887.5M1083 1201.8L1095.8 1197M1985.3 882.4L1970 887.5M1985.3 1201.8L1970 1197" fill="none" stroke="#a8a8a8" stroke-width="1"/><path d="M1100 1197v-5M1107.3 1197v-3M1114.6 1197v-3M1121.9 1197v-3M1129.2 1197v-3M1136.5 1197v-5M1143.8 1197v-3M1151.1 1197v-3M1158.4 1197v-3M1165.7 1197v-3M1173 1197v-5M1180.3 1197v-3M1187.6 1197v-3M1194.9 1197v-3M1202.2 1197v-3M1209.5 1197v-5M1216.8 1197v-3M1224.1 1197v-3M1231.4 1197v-3M1238.7 1197v-3M1246 1197v-5M1253.3 1197v-3M1260.6 1197v-3M1267.9 1197v-3M1275.2 1197v-3M1282.5 1197v-5M1289.8 1197v-3M1297.1 1197v-3M1304.4 1197v-3M1311.7 1197v-3M1319 1197v-5M1326.3 1197v-3M1333.6 1197v-3M1340.9 1197v-3M1348.2 1197v-3M1355.5 1197v-5M1362.8 1197v-3M1370.1 1197v-3M1377.4 1197v-3M1384.7 1197v-3M1392 1197v-5M1399.3 1197v-3M1406.6 1197v-3M1413.9 1197v-3M1421.2 1197v-3M1428.5 1197v-5M1435.8 1197v-3M1443.1 1197v-3M1450.4 1197v-3M1457.7 1197v-3M1465 1197v-5M1472.3 1197v-3M1479.6 1197v-3M1486.9 1197v-3M1494.2 1197v-3M1501.5 1197v-5M1508.8 1197v-3M1516.1 1197v-3M1523.4 1197v-3M1530.7 1197v-3M1538 1197v-5M1545.3 1197v-3M1552.6 1197v-3M1559.9 1197v-3M1567.2 1197v-3M1574.5 1197v-5M1581.8 1197v-3M1589.1 1197v-3M1596.4 1197v-3M1603.7 1197v-3M1611 1197v-5M1618.3 1197v-3M1625.6 1197v-3M1632.9 1197v-3M1640.2 1197v-3M1647.5 1197v-5M1654.8 1197v-3M1662.1 1197v-3M1669.4 1197v-3M1676.7 1197v-3M1684 1197v-5M1691.3 1197v-3M1698.6 1197v-3M1705.9 1197v-3M1713.2 1197v-3M1720.5 1197v-5M1727.8 1197v-3M1735.1 1197v-3M1742.4 1197v-3M1749.7 1197v-3M1757 1197v-5M1764.3 1197v-3M1771.6 1197v-3M1778.9 1197v-3M1786.2 1197v-3M1793.5 1197v-5M1800.8 1197v-3M1808.1 1197v-3M1815.4 1197v-3M1822.7 1197v-3M1830 1197v-5M1837.3 1197v-3M1844.6 1197v-3M1851.9 1197v-3M1859.2 1197v-3M1866.5 1197v-5M1873.8 1197v-3M1881.1 1197v-3M1888.4 1197v-3M1895.7 1197v-3M1903 1197v-5M1910.3 1197v-3M1917.6 1197v-3M1924.9 1197v-3M1932.2 1197v-3M1939.5 1197v-5M1946.8 1197v-3M1954.1 1197v-3M1961.4 1197v-3M1084 892h6M1084 898.8h4M1084 905.6h4M1084 912.4h4M1084 919.2h4M1084 926h6M1084 932.8h4M1084 939.6h4M1084 946.4h4M1084 953.2h4M1084 960h6M1084 966.8h4M1084 973.6h4M1084 980.4h4M1084 987.2h4M1084 994h6M1084 1000.8h4M1084 1007.6h4M1084 1014.4h4M1084 1021.2h4M1084 1028h6M1084 1034.8h4M1084 1041.6h4M1084 1048.4h4M1084 1055.2h4M1084 1062h6M1084 1068.8h4M1084 1075.6h4M1084 1082.4h4M1084 1089.2h4M1084 1096h6M1084 1102.8h4M1084 1109.6h4M1084 1116.4h4M1084 1123.2h4M1084 1130h6M1084 1136.8h4M1084 1143.6h4M1084 1150.4h4M1084 1157.2h4M1084 1164h6M1084 1170.8h4M1084 1177.6h4M1084 1184.4h4M1084 1191.2h4M1090 883.5l3 2.5M1097.3 883.5l3 2.5M1104.6 883.5l3 2.5M1111.9 883.5l3 2.5M1119.2 883.5l3 2.5M1126.5 883.5l3 2.5M1133.8 883.5l3 2.5M1141.1 883.5l3 2.5M1148.4 883.5l3 2.5M1155.7 883.5l3 2.5M1163 883.5l3 2.5M1170.3 883.5l3 2.5M1177.6 883.5l3 2.5M1184.9 883.5l3 2.5M1192.2 883.5l3 2.5M1199.5 883.5l3 2.5M1206.8 883.5l3 2.5M1214.1 883.5l3 2.5M1221.4 883.5l3 2.5M1228.7 883.5l3 2.5M1236 883.5l3 2.5M1243.3 883.5l3 2.5M1250.6 883.5l3 2.5M1257.9 883.5l3 2.5M1265.2 883.5l3 2.5M1272.5 883.5l3 2.5M1279.8 883.5l3 2.5M1287.1 883.5l3 2.5M1294.4 883.5l3 2.5M1301.7 883.5l3 2.5M1309 883.5l3 2.5M1316.3 883.5l3 2.5M1323.6 883.5l3 2.5M1330.9 883.5l3 2.5M1338.2 883.5l3 2.5M1345.5 883.5l3 2.5M1352.8 883.5l3 2.5M1360.1 883.5l3 2.5M1367.4 883.5l3 2.5M1374.7 883.5l3 2.5M1382 883.5l3 2.5M1389.3 883.5l3 2.5M1396.6 883.5l3 2.5M1403.9 883.5l3 2.5M1411.2 883.5l3 2.5M1418.5 883.5l3 2.5M1425.8 883.5l3 2.5M1433.1 883.5l3 2.5M1440.4 883.5l3 2.5M1447.7 883.5l3 2.5M1455 883.5l3 2.5M1462.3 883.5l3 2.5M1469.6 883.5l3 2.5M1476.9 883.5l3 2.5M1484.2 883.5l3 2.5M1491.5 883.5l3 2.5M1498.8 883.5l3 2.5M1506.1 883.5l3 2.5M1513.4 883.5l3 2.5M1520.7 883.5l3 2.5M1528 883.5l3 2.5M1535.3 883.5l3 2.5M1542.6 883.5l3 2.5M1549.9 883.5l3 2.5M1557.2 883.5l3 2.5M1564.5 883.5l3 2.5M1571.8 883.5l3 2.5M1579.1 883.5l3 2.5M1586.4 883.5l3 2.5M1593.7 883.5l3 2.5M1601 883.5l3 2.5M1608.3 883.5l3 2.5M1615.6 883.5l3 2.5M1622.9 883.5l3 2.5M1630.2 883.5l3 2.5M1637.5 883.5l3 2.5M1644.8 883.5l3 2.5M1652.1 883.5l3 2.5M1659.4 883.5l3 2.5M1666.7 883.5l3 2.5M1674 883.5l3 2.5M1681.3 883.5l3 2.5M1688.6 883.5l3 2.5M1695.9 883.5l3 2.5M1703.2 883.5l3 2.5M1710.5 883.5l3 2.5M1717.8 883.5l3 2.5M1725.1 883.5l3 2.5M1732.4 883.5l3 2.5M1739.7 883.5l3 2.5M1747 883.5l3 2.5M1754.3 883.5l3 2.5M1761.6 883.5l3 2.5M1768.9 883.5l3 2.5M1776.2 883.5l3 2.5M1783.5 883.5l3 2.5M1790.8 883.5l3 2.5M1798.1 883.5l3 2.5M1805.4 883.5l3 2.5M1812.7 883.5l3 2.5M1820 883.5l3 2.5M1827.3 883.5l3 2.5M1834.6 883.5l3 2.5M1841.9 883.5l3 2.5M1849.2 883.5l3 2.5M1856.5 883.5l3 2.5M1863.8 883.5l3 2.5M1871.1 883.5l3 2.5M1878.4 883.5l3 2.5M1885.7 883.5l3 2.5M1893 883.5l3 2.5M1900.3 883.5l3 2.5M1907.6 883.5l3 2.5M1914.9 883.5l3 2.5M1922.2 883.5l3 2.5M1929.5 883.5l3 2.5M1936.8 883.5l3 2.5M1944.1 883.5l3 2.5M1951.4 883.5l3 2.5M1958.7 883.5l3 2.5M1966 883.5l3 2.5M1973.3 883.5l3 2.5" stroke="#a8a8a8" stroke-width="0.8" fill="none"/><rect x="1922" y="1208.5" width="62" height="3" fill="#231815"/><text x="1953" y="1205" font-size="6.5" fill="#888" text-anchor="middle">100 μm</text><circle cx="1105.8" cy="1229" r="9.6" fill="#c0143c"/><text x="1118.3" y="1238" font-size="26">Int1</text><circle cx="1234.5" cy="1229" r="9.6" fill="#8db865"/><text x="1247" y="1238" font-size="26">Int2/4</text><circle cx="1367.6" cy="1229" r="9.6" fill="#1a4fd0"/><text x="1380.1" y="1238" font-size="26">Int3</text><circle cx="1500" cy="1229" r="9.6" fill="#7a0db8"/><text x="1512.5" y="1238" font-size="26">Int5</text><circle cx="1632" cy="1229" r="9.6" fill="#2bb84b"/><text x="1644.5" y="1238" font-size="26">Int6</text><circle cx="1764.3" cy="1229" r="9.6" fill="#c84f9c"/><text x="1776.8" y="1238" font-size="26">Int7/8</text><circle cx="1897.3" cy="1229" r="9.6" fill="#6e7a8a"/><text x="1909.8" y="1238" font-size="26">Int9</text><circle cx="1105.8" cy="1255.6" r="9.6" fill="#d5e06a"/><text x="1118.3" y="1264.6" font-size="26">Int10</text><circle cx="1234.5" cy="1255.6" r="9.6" fill="#f07a2a"/><text x="1247" y="1264.6" font-size="26">Int11</text><circle cx="1367.6" cy="1255.6" r="9.6" fill="#8aa8f0"/><text x="1380.1" y="1264.6" font-size="26">Int12</text><circle cx="1500" cy="1255.6" r="9.6" fill="#5a2db8"/><text x="1512.5" y="1264.6" font-size="26">Int13</text><circle cx="1632" cy="1255.6" r="9.6" fill="#b87040"/><text x="1644.5" y="1264.6" font-size="26">Int14</text><circle cx="1764.3" cy="1255.6" r="9.6" fill="#2a9ab0"/><text x="1776.8" y="1264.6" font-size="26">Int15/16</text><text x="1057" y="1332.5" font-size="54" fill="#231815" font-weight="bold">g</text><text x="0" y="0" font-size="30" transform="translate(1160.2 1357) rotate(-45)">Int1</text><text x="0" y="0" font-size="30" transform="translate(1217 1357) rotate(-45)">Int2/4</text><text x="0" y="0" font-size="30" transform="translate(1273.8 1357) rotate(-45)">Int3</text><text x="0" y="0" font-size="30" transform="translate(1330.6 1357) rotate(-45)">Int5</text><text x="0" y="0" font-size="30" transform="translate(1387.4 1357) rotate(-45)">Int6</text><text x="0" y="0" font-size="30" transform="translate(1444.2 1357) rotate(-45)">Int7/8</text><text x="0" y="0" font-size="30" transform="translate(1501 1357) rotate(-45)">Int9</text><text x="0" y="0" font-size="30" transform="translate(1557.8 1357) rotate(-45)">Int10</text><text x="0" y="0" font-size="30" transform="translate(1614.6 1357) rotate(-45)">Int11</text><text x="0" y="0" font-size="30" transform="translate(1671.4 1357) rotate(-45)">Int12</text><text x="0" y="0" font-size="30" transform="translate(1728.2 1357) rotate(-45)">Int13</text><text x="0" y="0" font-size="30" transform="translate(1785 1357) rotate(-45)">Int14</text><text x="0" y="0" font-size="30" transform="translate(1841.8 1357) rotate(-45)">Int15/16</text><text x="1081.3" y="1396.3" font-size="30.5">L1</text><path d="M1164.2 1390.3H1845.8M1164.2 1390.3v5.5M1221 1390.3v5.5M1277.8 1390.3v5.5M1334.6 1390.3v5.5M1391.4 1390.3v5.5M1448.2 1390.3v5.5M1505 1390.3v5.5M1561.8 1390.3v5.5M1618.6 1390.3v5.5M1675.4 1390.3v5.5M1732.2 1390.3v5.5M1789 1390.3v5.5M1845.8 1390.3v5.5" stroke="#555" stroke-width="1.3" fill="none"/><text x="1081.3" y="1456.3" font-size="30.5">L2/3</text><path d="M1164.2 1447.4H1845.8M1164.2 1447.4v5.5M1221 1447.4v5.5M1277.8 1447.4v5.5M1334.6 1447.4v5.5M1391.4 1447.4v5.5M1448.2 1447.4v5.5M1505 1447.4v5.5M1561.8 1447.4v5.5M1618.6 1447.4v5.5M1675.4 1447.4v5.5M1732.2 1447.4v5.5M1789 1447.4v5.5M1845.8 1447.4v5.5" stroke="#555" stroke-width="1.3" fill="none"/><text x="1081.3" y="1516.3" font-size="30.5">L4</text><path d="M1164.2 1510.8H1845.8M1164.2 1510.8v5.5M1221 1510.8v5.5M1277.8 1510.8v5.5M1334.6 1510.8v5.5M1391.4 1510.8v5.5M1448.2 1510.8v5.5M1505 1510.8v5.5M1561.8 1510.8v5.5M1618.6 1510.8v5.5M1675.4 1510.8v5.5M1732.2 1510.8v5.5M1789 1510.8v5.5M1845.8 1510.8v5.5" stroke="#555" stroke-width="1.3" fill="none"/><text x="1081.3" y="1576.3" font-size="30.5">L5a</text><path d="M1164.2 1571.2H1845.8M1164.2 1571.2v5.5M1221 1571.2v5.5M1277.8 1571.2v5.5M1334.6 1571.2v5.5M1391.4 1571.2v5.5M1448.2 1571.2v5.5M1505 1571.2v5.5M1561.8 1571.2v5.5M1618.6 1571.2v5.5M1675.4 1571.2v5.5M1732.2 1571.2v5.5M1789 1571.2v5.5M1845.8 1571.2v5.5" stroke="#555" stroke-width="1.3" fill="none"/><text x="1081.3" y="1636.7" font-size="30.5">L5</text><path d="M1164.2 1632.6H1845.8M1164.2 1632.6v5.5M1221 1632.6v5.5M1277.8 1632.6v5.5M1334.6 1632.6v5.5M1391.4 1632.6v5.5M1448.2 1632.6v5.5M1505 1632.6v5.5M1561.8 1632.6v5.5M1618.6 1632.6v5.5M1675.4 1632.6v5.5M1732.2 1632.6v5.5M1789 1632.6v5.5M1845.8 1632.6v5.5" stroke="#555" stroke-width="1.3" fill="none"/><text x="1081.3" y="1696" font-size="30.5">L6</text><path d="M1164.2 1692.6H1845.8M1164.2 1692.6v5.5M1221 1692.6v5.5M1277.8 1692.6v5.5M1334.6 1692.6v5.5M1391.4 1692.6v5.5M1448.2 1692.6v5.5M1505 1692.6v5.5M1561.8 1692.6v5.5M1618.6 1692.6v5.5M1675.4 1692.6v5.5M1732.2 1692.6v5.5M1789 1692.6v5.5M1845.8 1692.6v5.5" stroke="#555" stroke-width="1.3" fill="none"/><text x="1081.3" y="1756" font-size="30.5">L6b</text><path d="M1164.2 1749.5H1845.8M1164.2 1749.5v5.5M1221 1749.5v5.5M1277.8 1749.5v5.5M1334.6 1749.5v5.5M1391.4 1749.5v5.5M1448.2 1749.5v5.5M1505 1749.5v5.5M1561.8 1749.5v5.5M1618.6 1749.5v5.5M1675.4 1749.5v5.5M1732.2 1749.5v5.5M1789 1749.5v5.5M1845.8 1749.5v5.5" stroke="#555" stroke-width="1.3" fill="none"/><defs><clipPath id="cL23"><rect x="1100" y="1345" width="800" height="129"/></clipPath><clipPath id="cL5a"><rect x="1100" y="1470" width="800" height="107.5"/></clipPath><clipPath id="cL5"><rect x="1100" y="1520" width="800" height="143"/></clipPath></defs><circle cx="1164.2" cy="1379.5" r="2" fill="#c23a2a"/><circle cx="1505" cy="1379.5" r="3.8" fill="#c23a2a" fill-opacity="0.3"/><circle cx="1505" cy="1379.5" r="3" fill="#c23a2a" fill-opacity="0.55"/><circle cx="1505" cy="1379.5" r="2.1" fill="#c23a2a"/><circle cx="1561.8" cy="1379.5" r="1.5" fill="#c23a2a"/><circle cx="1675.4" cy="1379.5" r="1.5" fill="#c23a2a"/><circle cx="1732.2" cy="1379.5" r="3.8" fill="#c23a2a" fill-opacity="0.3"/><circle cx="1732.2" cy="1379.5" r="3" fill="#c23a2a" fill-opacity="0.55"/><circle cx="1732.2" cy="1379.5" r="2.1" fill="#c23a2a"/><circle cx="1789" cy="1379.5" r="5.7" fill="#c23a2a" fill-opacity="0.3"/><circle cx="1789" cy="1379.5" r="4.4" fill="#c23a2a" fill-opacity="0.55"/><circle cx="1789" cy="1379.5" r="3.2" fill="#c23a2a"/><circle cx="1845.8" cy="1379.5" r="11.8" fill="#c23a2a" fill-opacity="0.3"/><circle cx="1845.8" cy="1379.5" r="9.2" fill="#c23a2a" fill-opacity="0.55"/><circle cx="1845.8" cy="1379.5" r="6.5" fill="#c23a2a"/><g clip-path="url(#cL23)"><circle cx="1164.2" cy="1437" r="18.6" fill="#0a70b6" fill-opacity="0.3"/><circle cx="1164.2" cy="1437" r="14.5" fill="#0a70b6" fill-opacity="0.55"/><circle cx="1164.2" cy="1437" r="10.3" fill="#0a70b6"/><circle cx="1221" cy="1437" r="9.5" fill="#0a70b6" fill-opacity="0.3"/><circle cx="1221" cy="1437" r="7.4" fill="#0a70b6" fill-opacity="0.55"/><circle cx="1221" cy="1437" r="5.3" fill="#0a70b6"/><circle cx="1277.8" cy="1437" r="11.4" fill="#0a70b6" fill-opacity="0.3"/><circle cx="1277.8" cy="1437" r="8.9" fill="#0a70b6" fill-opacity="0.55"/><circle cx="1277.8" cy="1437" r="6.3" fill="#0a70b6"/><circle cx="1334.6" cy="1437" r="7.2" fill="#0a70b6" fill-opacity="0.3"/><circle cx="1334.6" cy="1437" r="5.6" fill="#0a70b6" fill-opacity="0.55"/><circle cx="1334.6" cy="1437" r="4" fill="#0a70b6"/><circle cx="1448.2" cy="1437" r="21.3" fill="#0a70b6" fill-opacity="0.3"/><circle cx="1448.2" cy="1437" r="16.6" fill="#0a70b6" fill-opacity="0.55"/><circle cx="1448.2" cy="1437" r="11.8" fill="#0a70b6"/><circle cx="1505" cy="1437" r="29.8" fill="#0a70b6" fill-opacity="0.3"/><circle cx="1505" cy="1437" r="23.2" fill="#0a70b6" fill-opacity="0.55"/><circle cx="1505" cy="1437" r="16.5" fill="#0a70b6"/><circle cx="1561.8" cy="1437" r="28.1" fill="#0a70b6" fill-opacity="0.3"/><circle cx="1561.8" cy="1437" r="21.9" fill="#0a70b6" fill-opacity="0.55"/><circle cx="1561.8" cy="1437" r="15.6" fill="#0a70b6"/><circle cx="1618.6" cy="1437" r="14.2" fill="#0a70b6" fill-opacity="0.3"/><circle cx="1618.6" cy="1437" r="11.1" fill="#0a70b6" fill-opacity="0.55"/><circle cx="1618.6" cy="1437" r="7.9" fill="#0a70b6"/><circle cx="1675.4" cy="1437" r="26" fill="#0a70b6" fill-opacity="0.3"/><circle cx="1675.4" cy="1437" r="20.3" fill="#0a70b6" fill-opacity="0.55"/><circle cx="1675.4" cy="1437" r="14.4" fill="#0a70b6"/><circle cx="1732.2" cy="1437" r="21" fill="#0a70b6" fill-opacity="0.3"/><circle cx="1732.2" cy="1437" r="16.4" fill="#0a70b6" fill-opacity="0.55"/><circle cx="1732.2" cy="1437" r="11.7" fill="#0a70b6"/><circle cx="1789" cy="1437" r="16.5" fill="#0a70b6" fill-opacity="0.3"/><circle cx="1789" cy="1437" r="12.9" fill="#0a70b6" fill-opacity="0.55"/><circle cx="1789" cy="1437" r="9.2" fill="#0a70b6"/><circle cx="1845.8" cy="1437" r="38.9" fill="#0a70b6" fill-opacity="0.3"/><circle cx="1845.8" cy="1437" r="30.3" fill="#0a70b6" fill-opacity="0.55"/><circle cx="1845.8" cy="1437" r="21.6" fill="#0a70b6"/></g><circle cx="1164.2" cy="1500" r="37.4" fill="#e08a28" fill-opacity="0.3"/><circle cx="1164.2" cy="1500" r="29.2" fill="#e08a28" fill-opacity="0.55"/><circle cx="1164.2" cy="1500" r="20.8" fill="#e08a28"/><circle cx="1221" cy="1500" r="20.9" fill="#e08a28" fill-opacity="0.3"/><circle cx="1221" cy="1500" r="16.3" fill="#e08a28" fill-opacity="0.55"/><circle cx="1221" cy="1500" r="11.6" fill="#e08a28"/><circle cx="1277.8" cy="1500" r="14.6" fill="#e08a28" fill-opacity="0.3"/><circle cx="1277.8" cy="1500" r="11.4" fill="#e08a28" fill-opacity="0.55"/><circle cx="1277.8" cy="1500" r="8.1" fill="#e08a28"/><circle cx="1334.6" cy="1500" r="28.5" fill="#e08a28" fill-opacity="0.3"/><circle cx="1334.6" cy="1500" r="22.2" fill="#e08a28" fill-opacity="0.55"/><circle cx="1334.6" cy="1500" r="15.8" fill="#e08a28"/><circle cx="1391.4" cy="1500" r="3.8" fill="#e08a28" fill-opacity="0.3"/><circle cx="1391.4" cy="1500" r="3" fill="#e08a28" fill-opacity="0.55"/><circle cx="1391.4" cy="1500" r="2.1" fill="#e08a28"/><circle cx="1448.2" cy="1500" r="33" fill="#e08a28" fill-opacity="0.3"/><circle cx="1448.2" cy="1500" r="25.7" fill="#e08a28" fill-opacity="0.55"/><circle cx="1448.2" cy="1500" r="18.3" fill="#e08a28"/><circle cx="1505" cy="1500" r="14.2" fill="#e08a28" fill-opacity="0.3"/><circle cx="1505" cy="1500" r="11.1" fill="#e08a28" fill-opacity="0.55"/><circle cx="1505" cy="1500" r="7.9" fill="#e08a28"/><circle cx="1561.8" cy="1500" r="3.8" fill="#e08a28" fill-opacity="0.3"/><circle cx="1561.8" cy="1500" r="3" fill="#e08a28" fill-opacity="0.55"/><circle cx="1561.8" cy="1500" r="2.1" fill="#e08a28"/><circle cx="1618.6" cy="1500" r="12.9" fill="#e08a28" fill-opacity="0.3"/><circle cx="1618.6" cy="1500" r="10.1" fill="#e08a28" fill-opacity="0.55"/><circle cx="1618.6" cy="1500" r="7.2" fill="#e08a28"/><circle cx="1675.4" cy="1500" r="6" fill="#e08a28" fill-opacity="0.3"/><circle cx="1675.4" cy="1500" r="4.7" fill="#e08a28" fill-opacity="0.55"/><circle cx="1675.4" cy="1500" r="3.3" fill="#e08a28"/><circle cx="1732.2" cy="1500" r="21" fill="#e08a28" fill-opacity="0.3"/><circle cx="1732.2" cy="1500" r="16.4" fill="#e08a28" fill-opacity="0.55"/><circle cx="1732.2" cy="1500" r="11.7" fill="#e08a28"/><circle cx="1789" cy="1500" r="16.5" fill="#e08a28" fill-opacity="0.3"/><circle cx="1789" cy="1500" r="12.9" fill="#e08a28" fill-opacity="0.55"/><circle cx="1789" cy="1500" r="9.2" fill="#e08a28"/><circle cx="1845.8" cy="1500" r="26.4" fill="#e08a28" fill-opacity="0.3"/><circle cx="1845.8" cy="1500" r="20.6" fill="#e08a28" fill-opacity="0.55"/><circle cx="1845.8" cy="1500" r="14.7" fill="#e08a28"/><g clip-path="url(#cL5a)"><circle cx="1164.2" cy="1560" r="7.2" fill="#1e8a4c" fill-opacity="0.3"/><circle cx="1164.2" cy="1560" r="5.6" fill="#1e8a4c" fill-opacity="0.55"/><circle cx="1164.2" cy="1560" r="4" fill="#1e8a4c"/><circle cx="1221" cy="1560" r="16.3" fill="#1e8a4c" fill-opacity="0.3"/><circle cx="1221" cy="1560" r="12.7" fill="#1e8a4c" fill-opacity="0.55"/><circle cx="1221" cy="1560" r="9" fill="#1e8a4c"/><circle cx="1277.8" cy="1560" r="9.5" fill="#1e8a4c" fill-opacity="0.3"/><circle cx="1277.8" cy="1560" r="7.4" fill="#1e8a4c" fill-opacity="0.55"/><circle cx="1277.8" cy="1560" r="5.3" fill="#1e8a4c"/><circle cx="1334.6" cy="1560" r="2" fill="#1e8a4c"/><circle cx="1391.4" cy="1560" r="3.8" fill="#1e8a4c" fill-opacity="0.3"/><circle cx="1391.4" cy="1560" r="3" fill="#1e8a4c" fill-opacity="0.55"/><circle cx="1391.4" cy="1560" r="2.1" fill="#1e8a4c"/><circle cx="1448.2" cy="1560" r="20.9" fill="#1e8a4c" fill-opacity="0.3"/><circle cx="1448.2" cy="1560" r="16.3" fill="#1e8a4c" fill-opacity="0.55"/><circle cx="1448.2" cy="1560" r="11.6" fill="#1e8a4c"/><circle cx="1505" cy="1560" r="1.5" fill="#1e8a4c"/><circle cx="1561.8" cy="1560" r="1.5" fill="#1e8a4c"/><circle cx="1618.6" cy="1560" r="3.8" fill="#1e8a4c" fill-opacity="0.3"/><circle cx="1618.6" cy="1560" r="3" fill="#1e8a4c" fill-opacity="0.55"/><circle cx="1618.6" cy="1560" r="2.1" fill="#1e8a4c"/><circle cx="1789" cy="1560" r="9.5" fill="#1e8a4c" fill-opacity="0.3"/><circle cx="1789" cy="1560" r="7.4" fill="#1e8a4c" fill-opacity="0.55"/><circle cx="1789" cy="1560" r="5.3" fill="#1e8a4c"/><circle cx="1845.8" cy="1560" r="19" fill="#1e8a4c" fill-opacity="0.3"/><circle cx="1845.8" cy="1560" r="14.8" fill="#1e8a4c" fill-opacity="0.55"/><circle cx="1845.8" cy="1560" r="10.5" fill="#1e8a4c"/></g><g clip-path="url(#cL5)"><circle cx="1164.2" cy="1621.8" r="16.7" fill="#7b76b4" fill-opacity="0.3"/><circle cx="1164.2" cy="1621.8" r="13" fill="#7b76b4" fill-opacity="0.55"/><circle cx="1164.2" cy="1621.8" r="9.3" fill="#7b76b4"/><circle cx="1221" cy="1621.8" r="41.8" fill="#7b76b4" fill-opacity="0.3"/><circle cx="1221" cy="1621.8" r="32.6" fill="#7b76b4" fill-opacity="0.55"/><circle cx="1221" cy="1621.8" r="23.2" fill="#7b76b4"/><circle cx="1277.8" cy="1621.8" r="16.3" fill="#7b76b4" fill-opacity="0.3"/><circle cx="1277.8" cy="1621.8" r="12.7" fill="#7b76b4" fill-opacity="0.55"/><circle cx="1277.8" cy="1621.8" r="9" fill="#7b76b4"/><circle cx="1334.6" cy="1621.8" r="16.3" fill="#7b76b4" fill-opacity="0.3"/><circle cx="1334.6" cy="1621.8" r="12.7" fill="#7b76b4" fill-opacity="0.55"/><circle cx="1334.6" cy="1621.8" r="9" fill="#7b76b4"/><circle cx="1391.4" cy="1621.8" r="16.7" fill="#7b76b4" fill-opacity="0.3"/><circle cx="1391.4" cy="1621.8" r="13" fill="#7b76b4" fill-opacity="0.55"/><circle cx="1391.4" cy="1621.8" r="9.3" fill="#7b76b4"/><circle cx="1448.2" cy="1621.8" r="16.7" fill="#7b76b4" fill-opacity="0.3"/><circle cx="1448.2" cy="1621.8" r="13" fill="#7b76b4" fill-opacity="0.55"/><circle cx="1448.2" cy="1621.8" r="9.3" fill="#7b76b4"/><circle cx="1505" cy="1621.8" r="2.3" fill="#7b76b4"/><circle cx="1561.8" cy="1621.8" r="2.3" fill="#7b76b4"/><circle cx="1618.6" cy="1621.8" r="16.9" fill="#7b76b4" fill-opacity="0.3"/><circle cx="1618.6" cy="1621.8" r="13.2" fill="#7b76b4" fill-opacity="0.55"/><circle cx="1618.6" cy="1621.8" r="9.4" fill="#7b76b4"/><circle cx="1675.4" cy="1621.8" r="9.5" fill="#7b76b4" fill-opacity="0.3"/><circle cx="1675.4" cy="1621.8" r="7.4" fill="#7b76b4" fill-opacity="0.55"/><circle cx="1675.4" cy="1621.8" r="5.3" fill="#7b76b4"/><circle cx="1732.2" cy="1621.8" r="9.5" fill="#7b76b4" fill-opacity="0.3"/><circle cx="1732.2" cy="1621.8" r="7.4" fill="#7b76b4" fill-opacity="0.55"/><circle cx="1732.2" cy="1621.8" r="5.3" fill="#7b76b4"/><circle cx="1789" cy="1621.8" r="5" fill="#7b76b4" fill-opacity="0.3"/><circle cx="1789" cy="1621.8" r="3.9" fill="#7b76b4" fill-opacity="0.55"/><circle cx="1789" cy="1621.8" r="2.8" fill="#7b76b4"/><circle cx="1845.8" cy="1621.8" r="20.9" fill="#7b76b4" fill-opacity="0.3"/><circle cx="1845.8" cy="1621.8" r="16.3" fill="#7b76b4" fill-opacity="0.55"/><circle cx="1845.8" cy="1621.8" r="11.6" fill="#7b76b4"/></g><circle cx="1164.2" cy="1681.6" r="16.3" fill="#6499aa" fill-opacity="0.3"/><circle cx="1164.2" cy="1681.6" r="12.7" fill="#6499aa" fill-opacity="0.55"/><circle cx="1164.2" cy="1681.6" r="9" fill="#6499aa"/><circle cx="1221" cy="1681.6" r="9.9" fill="#6499aa" fill-opacity="0.3"/><circle cx="1221" cy="1681.6" r="7.7" fill="#6499aa" fill-opacity="0.55"/><circle cx="1221" cy="1681.6" r="5.5" fill="#6499aa"/><circle cx="1277.8" cy="1681.6" r="8" fill="#6499aa" fill-opacity="0.3"/><circle cx="1277.8" cy="1681.6" r="6.2" fill="#6499aa" fill-opacity="0.55"/><circle cx="1277.8" cy="1681.6" r="4.4" fill="#6499aa"/><circle cx="1334.6" cy="1681.6" r="2" fill="#6499aa"/><circle cx="1391.4" cy="1681.6" r="17" fill="#6499aa" fill-opacity="0.3"/><circle cx="1391.4" cy="1681.6" r="13.3" fill="#6499aa" fill-opacity="0.55"/><circle cx="1391.4" cy="1681.6" r="9.4" fill="#6499aa"/><circle cx="1448.2" cy="1681.6" r="32.7" fill="#6499aa" fill-opacity="0.3"/><circle cx="1448.2" cy="1681.6" r="25.5" fill="#6499aa" fill-opacity="0.55"/><circle cx="1448.2" cy="1681.6" r="18.1" fill="#6499aa"/><circle cx="1505" cy="1681.6" r="2" fill="#6499aa"/><circle cx="1561.8" cy="1681.6" r="4.2" fill="#6499aa" fill-opacity="0.3"/><circle cx="1561.8" cy="1681.6" r="3.3" fill="#6499aa" fill-opacity="0.55"/><circle cx="1561.8" cy="1681.6" r="2.3" fill="#6499aa"/><circle cx="1618.6" cy="1681.6" r="4.6" fill="#6499aa" fill-opacity="0.3"/><circle cx="1618.6" cy="1681.6" r="3.6" fill="#6499aa" fill-opacity="0.55"/><circle cx="1618.6" cy="1681.6" r="2.6" fill="#6499aa"/><circle cx="1675.4" cy="1681.6" r="14.6" fill="#6499aa" fill-opacity="0.3"/><circle cx="1675.4" cy="1681.6" r="11.4" fill="#6499aa" fill-opacity="0.55"/><circle cx="1675.4" cy="1681.6" r="8.1" fill="#6499aa"/><circle cx="1732.2" cy="1681.6" r="2" fill="#6499aa"/><circle cx="1789" cy="1681.6" r="4.2" fill="#6499aa" fill-opacity="0.3"/><circle cx="1789" cy="1681.6" r="3.3" fill="#6499aa" fill-opacity="0.55"/><circle cx="1789" cy="1681.6" r="2.3" fill="#6499aa"/><circle cx="1845.8" cy="1681.6" r="2" fill="#6499aa"/><circle cx="1221" cy="1738" r="7.6" fill="#ea4b98" fill-opacity="0.3"/><circle cx="1221" cy="1738" r="5.9" fill="#ea4b98" fill-opacity="0.55"/><circle cx="1221" cy="1738" r="4.2" fill="#ea4b98"/><circle cx="1277.8" cy="1738" r="9.9" fill="#ea4b98" fill-opacity="0.3"/><circle cx="1277.8" cy="1738" r="7.7" fill="#ea4b98" fill-opacity="0.55"/><circle cx="1277.8" cy="1738" r="5.5" fill="#ea4b98"/><circle cx="1391.4" cy="1738" r="6.8" fill="#ea4b98" fill-opacity="0.3"/><circle cx="1391.4" cy="1738" r="5.3" fill="#ea4b98" fill-opacity="0.55"/><circle cx="1391.4" cy="1738" r="3.8" fill="#ea4b98"/><circle cx="1448.2" cy="1738" r="11.8" fill="#ea4b98" fill-opacity="0.3"/><circle cx="1448.2" cy="1738" r="9.2" fill="#ea4b98" fill-opacity="0.55"/><circle cx="1448.2" cy="1738" r="6.5" fill="#ea4b98"/><circle cx="1505" cy="1738" r="2" fill="#ea4b98"/><circle cx="1561.8" cy="1738" r="6.5" fill="#ea4b98" fill-opacity="0.3"/><circle cx="1561.8" cy="1738" r="5.1" fill="#ea4b98" fill-opacity="0.55"/><circle cx="1561.8" cy="1738" r="3.6" fill="#ea4b98"/><circle cx="1618.6" cy="1738" r="1.5" fill="#ea4b98"/><circle cx="1675.4" cy="1738" r="17" fill="#ea4b98" fill-opacity="0.3"/><circle cx="1675.4" cy="1738" r="13.3" fill="#ea4b98" fill-opacity="0.55"/><circle cx="1675.4" cy="1738" r="9.4" fill="#ea4b98"/><circle cx="1732.2" cy="1738" r="4.2" fill="#ea4b98" fill-opacity="0.3"/><circle cx="1732.2" cy="1738" r="3.3" fill="#ea4b98" fill-opacity="0.55"/><circle cx="1732.2" cy="1738" r="2.3" fill="#ea4b98"/><circle cx="1845.8" cy="1738" r="6.5" fill="#ea4b98" fill-opacity="0.3"/><circle cx="1845.8" cy="1738" r="5.1" fill="#ea4b98" fill-opacity="0.55"/><circle cx="1845.8" cy="1738" r="3.6" fill="#ea4b98"/><rect x="1365" y="1360" width="48.7" height="387" fill="#e08c8c" fill-opacity="0.2"/><rect x="1475.4" y="1359" width="116" height="388" fill="#e08c8c" fill-opacity="0.2"/><rect x="1876.3" y="1495.4" width="114.6" height="254.9" fill="#fff" stroke="#d6d6d6" stroke-width="1.5"/><circle cx="1924.7" cy="1513.6" r="11.3" fill="#eeeeee"/><circle cx="1924.7" cy="1513.6" r="8.8" fill="#c6c6c6"/><circle cx="1924.7" cy="1513.6" r="6.2" fill="#a6a6a6"/><text x="1985" y="1517.8" font-size="19.5" text-anchor="end">5</text><circle cx="1924.7" cy="1555.7" r="22.9" fill="#eeeeee"/><circle cx="1924.7" cy="1555.7" r="17.8" fill="#c6c6c6"/><circle cx="1924.7" cy="1555.7" r="12.6" fill="#a6a6a6"/><text x="1985" y="1560.4" font-size="19.5" text-anchor="end">10</text><circle cx="1924.7" cy="1617.9" r="34.2" fill="#eeeeee"/><circle cx="1924.7" cy="1617.9" r="26.6" fill="#c6c6c6"/><circle cx="1924.7" cy="1617.9" r="18.8" fill="#a6a6a6"/><text x="1985" y="1626.6" font-size="19.5" text-anchor="end">15</text><circle cx="1924.7" cy="1701.5" r="45.7" fill="#eeeeee"/><circle cx="1924.7" cy="1701.5" r="35.5" fill="#c6c6c6"/><circle cx="1924.7" cy="1701.5" r="25.1" fill="#a6a6a6"/><text x="1985" y="1709.4" font-size="19.5" text-anchor="end">20</text></svg></body></html>
